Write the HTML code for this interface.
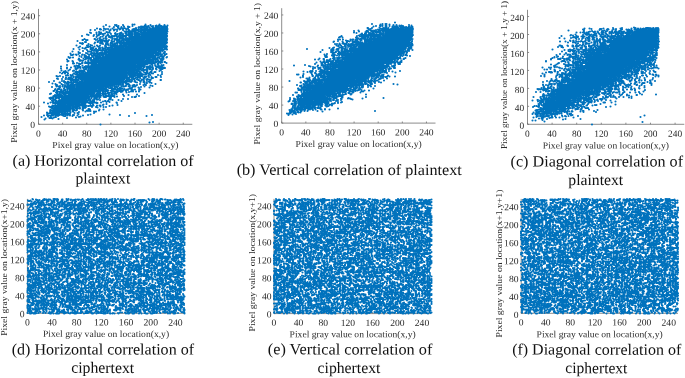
<!DOCTYPE html>
<html><head><meta charset="utf-8"><title>Correlation of plaintext and ciphertext</title>
<style>html,body{margin:0;padding:0;background:#fff}svg{display:block;position:absolute;left:0;top:0}text{font-family:"Liberation Serif",serif}</style></head>
<body>
<svg style="will-change:transform" width="685" height="378" viewBox="0 0 685 378">
<rect width="685" height="378" fill="#fff"/>
<!-- plot a -->
<path d="M38.50 8.90V124.30H192.30M38.50 124.30v-1.6M38.50 124.30h1.6M62.63 124.30v-1.6M38.50 106.20h1.6M86.75 124.30v-1.6M38.50 88.10h1.6M110.88 124.30v-1.6M38.50 69.99h1.6M135.00 124.30v-1.6M38.50 51.89h1.6M159.13 124.30v-1.6M38.50 33.79h1.6M183.25 124.30v-1.6M38.50 15.69h1.6" fill="none" stroke="#6e6e6e" stroke-width="0.8"/>
<g transform="translate(34,4) scale(0.5)"><path d="M0 0H268V1H0V2H268V3H0V4H268V5H0V6H268V7H0V8H268V9H0V10H268V11H0V12H268V13H0V14H268V15H0V16H268V17H0V18H268V19H0V20H268V21H0V22H268V23H0V24H268V25H0V26H268V27H0V28H268V29H0V30H268V31H0V32H268V33H0V34H268V35H0V36H268V37H0V38H268V39H0V40H268V41H0V42H268V43H0V44H268V45H0V46H268V47H0V48H268V49H0V50H268V51H0V52H268V53H0V54H268V55H0V56H268V57H0V58H268V59H0V60H268V61H0V62H268V63H0V64H268V65H0V66H268V67H0V68H268V69H0V70H268V71H0V72H268V73H0V74H268V75H0V76H268V77H0V78H268V79H0V80H268V81H0V82H268V83H0V84H268V85H0V86H268V87H0V88H268V89H0V90H268V91H0V92H268V93H0V94H268V95H0V96H268V97H0V98H268V99H0V100H268V101H0V102H268V103H0V104H268V105H0V106H268V107H0V108H268V109H0V110H268V111H0V112H268V113H0V114H268V115H0V116H268V117H0V118H268V119H0V120H268V121H0V122H268V123H0V124H268V125H0V126H268V127H0V128H268V129H0V130H268V131H0V132H268V133H0V134H268V135H0V136H268V137H0V138H268V139H0V140H268V141H0V142H268V143H0V144H268V145H0V146H268V147H0V148H268V149H0V150H268V151H0V152H268V153H0V154H268V155H0V156H268V157H0V158H268V159H0V160H268V161H0V162H268V163H0V164H268V165H0V166H268V167H0V168H268V169H0V170H268V171H0V172H268V173H0V174H268V175H0V176H268V177H0V178H268V179H0V180H268V181H0V182H268V183H0V184H268V185H0V186H268V187H0V188H268V189H0V190H268V191H0V192H268V193H0V194H268V195H0V196H268V197H0V198H268V199H0V200H268V201H0V202H268V203H0V204H268V205H0V206H268V207H0V208H268V209H0V210H268V211H0V212H268V213H0V214H268V215H0V216H268V217H0V218H268V219H0V220H268V221H0V222H268V223H0V224H268V225H0V226H268V227H0V228H268V229H0V230H268V231H0V232H268V233H0V234H268V235H0V236H268V237H0V238H268V239H0V240H268V241H0V242H268" fill="none" stroke="#0072BD" stroke-width="4.20" stroke-linecap="round" stroke-dasharray="0 28 0 22 0 4 0 342 0 18 0 3 0 13 0 55 0 28 0 9 0 17 0 5 0 22 0 389 0 4 0 28 0 24 0 3 0 5 0 9 0 5 0 6 0 4 0 2 0 7 0 9 0 4 0 3 0 3 0 7 0 2 0 3 0 9 0 8 0 6 0 5 0 2 0 26 0 8 0 29 0 12 0 300 0 8 0 7 0 16 0 19 0 6 0 2 0 7 0 13 0 7 0 2 0 8 0 2 0 5 0 3 0 1 0 5 0 1 0 1 0 3 0 2 0 8 0 3 0 3 0 2 0 5 0 7 0 4 0 7 0 11 0 41 0 338 0 11 0 8 0 16 0 9 0 3 0 4 0 1 0 3 0 18 0 13 0 1 0 1 0 2 0 2 0 1 0 2 0 1 0 7 0 1 0 2 0 1 0 1 0 1 0 2 0 1 0 1 0 1 0 1 0 2 0 1 0 1 0 2 0 2 0 1 0 3 0 2 0 1 0 5 0 6 0 1 0 22 0 1 0 15 0 5 0 6 0 4 0 16 0 17 0 14 0 259 0 12 0 4 0 25 0 5 0 8 0 14 0 24 0 1 0 11 0 6 0 2 0 3 0 4 0 3 0 1 0 1 0 1 0 3 0 1 0 1 0 2 0 1 0 2 0 4 0 2 0 2 0 1 0 1 0 1 0 2 0 1 0 1 0 1 0 1 0 2 0 2 0 1 0 1 0 2 0 1 0 1 0 2 0 3 0 1 0 1 0 1 0 2 0 1 0 2 0 4 0 6 0 1 0 3 0 2 0 4 0 1 0 3 0 2 0 1 0 2 0 1 0 2 0 1 0 12 0 14 0 5 0 4 0 2 0 7 0 10 0 9 0 2 0 246 0 9 0 31 0 25 0 12 0 7 0 5 0 2 0 12 0 3 0 1 0 1 0 4 0 8 0 2 0 6 0 3 0 1 0 2 0 1 0 1 0 1 0 1 0 3 0 1 0 1 0 1 0 2 0 1 0 1 0 1 0 4 0 5 0 1 0 1 0 2 0 1 0 1 0 1 0 2 0 1 0 1 0 1 0 1 0 2 0 1 0 1 0 1 0 1 0 2 0 2 0 1 0 1 0 2 0 3 0 3 0 2 0 1 0 1 0 2 0 8 0 5 0 6 0 2 0 46 0 9 0 12 0 306 0 26 0 3 0 2 0 3 0 2 0 8 0 4 0 1 0 4 0 2 0 2 0 8 0 1 0 4 0 1 0 1 0 1 0 3 0 1 0 1 0 3 0 2 0 1 0 1 0 2 0 1 0 1 0 1 0 1 0 2 0 1 0 1 0 1 0 2 0 1 0 5 0 1 0 1 0 1 0 2 0 1 0 1 0 1 0 2 0 1 0 1 0 1 0 1 0 2 0 1 0 1 0 1 0 1 0 2 0 2 0 1 0 1 0 2 0 1 0 1 0 1 0 1 0 3 0 1 0 4 0 13 0 5 0 6 0 5 0 10 0 2 0 3 0 2 0 312 0 15 0 6 0 32 0 8 0 4 0 2 0 16 0 8 0 2 0 4 0 2 0 2 0 1 0 1 0 2 0 2 0 1 0 1 0 2 0 3 0 1 0 2 0 1 0 1 0 1 0 1 0 2 0 1 0 1 0 1 0 3 0 1 0 1 0 1 0 2 0 1 0 10 0 1 0 1 0 1 0 2 0 1 0 1 0 1 0 1 0 2 0 1 0 1 0 1 0 1 0 2 0 1 0 2 0 6 0 3 0 2 0 1 0 4 0 1 0 1 0 1 0 3 0 4 0 12 0 15 0 14 0 27 0 1 0 13 0 2 0 7 0 13 0 227 0 49 0 10 0 1 0 15 0 3 0 9 0 5 0 1 0 9 0 2 0 1 0 2 0 3 0 1 0 1 0 3 0 3 0 1 0 2 0 1 0 3 0 3 0 1 0 1 0 1 0 2 0 1 0 1 0 2 0 2 0 1 0 1 0 1 0 1 0 2 0 1 0 2 0 9 0 1 0 1 0 2 0 2 0 1 0 2 0 1 0 1 0 1 0 1 0 2 0 1 0 1 0 1 0 1 0 3 0 1 0 1 0 1 0 2 0 1 0 1 0 1 0 1 0 2 0 3 0 1 0 2 0 1 0 1 0 4 0 1 0 10 0 4 0 12 0 4 0 5 0 2 0 9 0 1 0 2 0 9 0 9 0 11 0 8 0 2 0 258 0 5 0 3 0 4 0 2 0 15 0 9 0 4 0 11 0 17 0 1 0 1 0 4 0 2 0 1 0 3 0 1 0 1 0 4 0 2 0 3 0 1 0 1 0 1 0 2 0 1 0 1 0 1 0 1 0 2 0 1 0 1 0 1 0 1 0 2 0 1 0 1 0 1 0 1 0 2 0 1 0 1 0 1 0 1 0 2 0 1 0 1 0 1 0 1 0 2 0 1 0 1 0 1 0 1 0 2 0 1 0 1 0 1 0 2 0 1 0 10 0 1 0 1 0 3 0 1 0 1 0 1 0 1 0 2 0 1 0 1 0 1 0 1 0 2 0 1 0 1 0 1 0 1 0 2 0 1 0 1 0 1 0 1 0 2 0 1 0 2 0 6 0 5 0 4 0 1 0 1 0 3 0 2 0 1 0 10 0 6 0 2 0 11 0 30 0 42 0 216 0 11 0 10 0 17 0 24 0 6 0 9 0 3 0 5 0 8 0 5 0 8 0 4 0 1 0 3 0 2 0 1 0 3 0 1 0 1 0 1 0 1 0 2 0 1 0 2 0 1 0 2 0 1 0 1 0 1 0 1 0 2 0 1 0 1 0 1 0 1 0 2 0 1 0 1 0 1 0 1 0 2 0 1 0 1 0 10 0 2 0 3 0 1 0 3 0 2 0 1 0 1 0 2 0 1 0 1 0 1 0 1 0 2 0 1 0 1 0 1 0 1 0 2 0 1 0 1 0 1 0 1 0 2 0 1 0 1 0 2 0 2 0 2 0 1 0 3 0 11 0 3 0 3 0 9 0 1 0 10 0 7 0 3 0 1 0 8 0 3 0 23 0 11 0 225 0 23 0 7 0 19 0 5 0 5 0 2 0 3 0 2 0 7 0 11 0 1 0 9 0 7 0 10 0 1 0 7 0 3 0 3 0 3 0 1 0 2 0 2 0 1 0 1 0 2 0 2 0 1 0 1 0 1 0 1 0 3 0 1 0 1 0 1 0 2 0 1 0 1 0 1 0 1 0 2 0 1 0 1 0 1 0 1 0 2 0 1 0 1 0 4 0 1 0 5 0 1 0 4 0 1 0 1 0 2 0 1 0 1 0 1 0 3 0 1 0 1 0 1 0 1 0 3 0 1 0 1 0 1 0 2 0 1 0 1 0 2 0 2 0 1 0 1 0 1 0 1 0 2 0 1 0 1 0 1 0 1 0 3 0 1 0 1 0 2 0 4 0 2 0 1 0 5 0 1 0 2 0 1 0 6 0 10 0 5 0 1 0 10 0 2 0 5 0 10 0 7 0 7 0 263 0 8 0 17 0 1 0 21 0 1 0 4 0 15 0 2 0 3 0 4 0 6 0 2 0 1 0 2 0 1 0 1 0 1 0 1 0 2 0 1 0 1 0 1 0 4 0 2 0 2 0 1 0 1 0 2 0 2 0 1 0 1 0 1 0 1 0 2 0 1 0 1 0 1 0 1 0 2 0 1 0 1 0 1 0 1 0 2 0 2 0 1 0 1 0 2 0 2 0 1 0 2 0 1 0 10 0 3 0 3 0 1 0 1 0 1 0 2 0 1 0 1 0 1 0 1 0 2 0 1 0 1 0 1 0 3 0 1 0 1 0 1 0 1 0 2 0 1 0 1 0 1 0 3 0 1 0 1 0 2 0 2 0 1 0 4 0 2 0 2 0 2 0 1 0 3 0 4 0 1 0 1 0 8 0 9 0 5 0 4 0 3 0 18 0 285 0 12 0 13 0 1 0 9 0 8 0 1 0 9 0 4 0 9 0 1 0 2 0 1 0 6 0 1 0 4 0 1 0 1 0 1 0 3 0 1 0 1 0 1 0 2 0 4 0 2 0 1 0 1 0 1 0 1 0 2 0 1 0 1 0 1 0 1 0 2 0 1 0 1 0 1 0 1 0 2 0 1 0 2 0 1 0 2 0 1 0 1 0 1 0 1 0 2 0 1 0 12 0 1 0 3 0 2 0 2 0 1 0 1 0 1 0 1 0 2 0 1 0 1 0 1 0 1 0 2 0 1 0 1 0 1 0 1 0 2 0 1 0 1 0 1 0 1 0 2 0 1 0 2 0 1 0 2 0 1 0 2 0 4 0 1 0 1 0 2 0 2 0 4 0 2 0 1 0 3 0 1 0 2 0 6 0 1 0 2 0 1 0 20 0 14 0 12 0 6 0 241 0 20 0 1 0 5 0 5 0 1 0 12 0 16 0 2 0 2 0 6 0 6 0 3 0 5 0 4 0 2 0 3 0 1 0 5 0 2 0 2 0 2 0 1 0 1 0 1 0 3 0 1 0 1 0 1 0 1 0 2 0 1 0 1 0 1 0 2 0 1 0 1 0 1 0 1 0 2 0 1 0 1 0 1 0 1 0 2 0 1 0 1 0 1 0 1 0 2 0 1 0 1 0 1 0 1 0 2 0 1 0 1 0 1 0 1 0 2 0 1 0 1 0 1 0 1 0 2 0 1 0 1 0 1 0 4 0 5 0 2 0 4 0 1 0 3 0 2 0 1 0 2 0 1 0 2 0 1 0 2 0 1 0 1 0 1 0 1 0 3 0 1 0 1 0 1 0 2 0 1 0 1 0 1 0 1 0 2 0 1 0 1 0 4 0 1 0 4 0 4 0 2 0 2 0 1 0 4 0 1 0 5 0 1 0 1 0 7 0 4 0 1 0 12 0 4 0 2 0 2 0 261 0 1 0 6 0 3 0 17 0 10 0 2 0 8 0 6 0 6 0 5 0 5 0 3 0 6 0 2 0 1 0 5 0 1 0 1 0 4 0 2 0 7 0 2 0 4 0 3 0 1 0 2 0 3 0 1 0 1 0 1 0 2 0 1 0 1 0 1 0 2 0 1 0 1 0 1 0 1 0 2 0 1 0 1 0 1 0 1 0 3 0 1 0 1 0 1 0 2 0 1 0 1 0 1 0 1 0 2 0 1 0 2 0 3 0 1 0 3 0 2 0 3 0 4 0 6 0 3 0 5 0 1 0 3 0 3 0 1 0 1 0 1 0 2 0 1 0 1 0 1 0 1 0 2 0 1 0 1 0 2 0 2 0 1 0 1 0 1 0 1 0 2 0 1 0 1 0 1 0 1 0 2 0 1 0 1 0 1 0 3 0 1 0 1 0 1 0 3 0 1 0 1 0 1 0 2 0 1 0 2 0 10 0 3 0 2 0 1 0 2 0 4 0 4 0 7 0 2 0 11 0 15 0 3 0 6 0 219 0 41 0 14 0 3 0 2 0 24 0 18 0 3 0 2 0 2 0 1 0 1 0 4 0 4 0 2 0 1 0 1 0 3 0 1 0 1 0 1 0 4 0 1 0 2 0 1 0 1 0 1 0 1 0 2 0 1 0 1 0 2 0 2 0 1 0 1 0 1 0 1 0 2 0 1 0 1 0 1 0 1 0 2 0 2 0 1 0 3 0 1 0 5 0 1 0 1 0 3 0 8 0 1 0 2 0 5 0 3 0 1 0 5 0 1 0 4 0 1 0 1 0 2 0 1 0 2 0 1 0 2 0 1 0 1 0 1 0 1 0 2 0 1 0 1 0 2 0 2 0 1 0 2 0 2 0 1 0 1 0 1 0 1 0 3 0 1 0 1 0 1 0 2 0 1 0 2 0 3 0 1 0 6 0 1 0 2 0 2 0 13 0 1 0 12 0 12 0 1 0 2 0 3 0 8 0 237 0 2 0 23 0 1 0 5 0 1 0 3 0 20 0 10 0 4 0 1 0 2 0 4 0 1 0 1 0 8 0 3 0 1 0 3 0 2 0 1 0 2 0 1 0 1 0 4 0 3 0 3 0 1 0 1 0 2 0 3 0 1 0 1 0 2 0 1 0 1 0 1 0 1 0 2 0 1 0 1 0 1 0 1 0 2 0 1 0 1 0 1 0 1 0 2 0 1 0 1 0 1 0 1 0 5 0 4 0 1 0 2 0 2 0 1 0 11 0 2 0 5 0 2 0 2 0 7 0 3 0 1 0 1 0 1 0 1 0 2 0 1 0 1 0 1 0 1 0 2 0 1 0 1 0 1 0 1 0 2 0 1 0 1 0 1 0 1 0 2 0 1 0 1 0 1 0 3 0 2 0 1 0 2 0 1 0 1 0 1 0 1 0 2 0 1 0 2 0 4 0 2 0 3 0 1 0 2 0 5 0 3 0 1 0 3 0 5 0 4 0 3 0 10 0 1 0 7 0 25 0 215 0 5 0 35 0 2 0 11 0 26 0 2 0 2 0 2 0 4 0 2 0 3 0 2 0 1 0 2 0 1 0 3 0 2 0 3 0 1 0 1 0 1 0 3 0 1 0 1 0 2 0 2 0 1 0 1 0 1 0 3 0 1 0 1 0 1 0 3 0 1 0 1 0 1 0 2 0 2 0 1 0 1 0 2 0 1 0 1 0 1 0 3 0 1 0 1 0 1 0 1 0 4 0 2 0 2 0 3 0 4 0 1 0 1 0 10 0 3 0 1 0 1 0 1 0 3 0 2 0 1 0 2 0 1 0 1 0 1 0 1 0 2 0 1 0 1 0 2 0 2 0 2 0 1 0 1 0 2 0 1 0 1 0 1 0 1 0 2 0 1 0 1 0 1 0 1 0 2 0 1 0 1 0 1 0 2 0 1 0 1 0 1 0 1 0 2 0 1 0 1 0 1 0 1 0 2 0 1 0 1 0 1 0 1 0 2 0 1 0 1 0 1 0 1 0 2 0 2 0 1 0 1 0 2 0 1 0 1 0 1 0 2 0 1 0 5 0 1 0 2 0 6 0 3 0 2 0 5 0 3 0 9 0 7 0 3 0 13 0 23 0 3 0 193 0 12 0 29 0 10 0 5 0 4 0 3 0 1 0 11 0 3 0 5 0 1 0 4 0 3 0 3 0 6 0 4 0 1 0 1 0 1 0 3 0 1 0 2 0 2 0 1 0 1 0 1 0 3 0 1 0 1 0 1 0 2 0 1 0 1 0 1 0 1 0 2 0 1 0 1 0 1 0 1 0 2 0 1 0 1 0 1 0 5 0 1 0 1 0 3 0 1 0 6 0 1 0 3 0 16 0 2 0 6 0 7 0 4 0 1 0 4 0 1 0 1 0 1 0 2 0 1 0 1 0 1 0 1 0 2 0 2 0 1 0 1 0 3 0 1 0 1 0 4 0 1 0 1 0 2 0 1 0 1 0 2 0 3 0 1 0 1 0 3 0 1 0 1 0 5 0 1 0 1 0 6 0 3 0 33 0 3 0 258 0 30 0 6 0 8 0 10 0 11 0 1 0 2 0 2 0 1 0 7 0 1 0 2 0 1 0 1 0 2 0 3 0 2 0 1 0 2 0 1 0 1 0 1 0 1 0 2 0 1 0 1 0 1 0 1 0 2 0 1 0 2 0 2 0 1 0 1 0 1 0 1 0 2 0 1 0 1 0 2 0 4 0 1 0 1 0 2 0 1 0 1 0 4 0 2 0 2 0 6 0 19 0 2 0 2 0 2 0 1 0 3 0 1 0 2 0 3 0 4 0 2 0 1 0 1 0 1 0 1 0 5 0 1 0 2 0 1 0 1 0 1 0 3 0 1 0 1 0 1 0 2 0 1 0 1 0 1 0 1 0 2 0 1 0 1 0 1 0 1 0 2 0 1 0 2 0 1 0 2 0 1 0 1 0 1 0 3 0 1 0 1 0 1 0 4 0 1 0 1 0 4 0 2 0 3 0 11 0 2 0 1 0 3 0 4 0 21 0 6 0 10 0 8 0 2 0 21 0 213 0 15 0 14 0 3 0 1 0 1 0 2 0 2 0 3 0 3 0 1 0 1 0 2 0 5 0 1 0 2 0 1 0 2 0 2 0 2 0 4 0 3 0 1 0 2 0 2 0 1 0 1 0 2 0 1 0 1 0 1 0 1 0 3 0 1 0 1 0 3 0 1 0 1 0 1 0 3 0 1 0 1 0 1 0 2 0 1 0 1 0 1 0 1 0 2 0 1 0 5 0 1 0 3 0 6 0 2 0 1 0 6 0 1 0 4 0 6 0 6 0 7 0 5 0 1 0 3 0 2 0 1 0 2 0 1 0 1 0 2 0 3 0 1 0 1 0 1 0 2 0 1 0 1 0 1 0 1 0 2 0 2 0 1 0 2 0 1 0 1 0 1 0 1 0 2 0 1 0 1 0 1 0 1 0 2 0 1 0 1 0 1 0 1 0 2 0 1 0 1 0 1 0 1 0 3 0 2 0 1 0 2 0 2 0 4 0 6 0 2 0 9 0 19 0 16 0 7 0 9 0 20 0 200 0 2 0 22 0 23 0 8 0 3 0 3 0 3 0 1 0 6 0 1 0 5 0 1 0 1 0 2 0 1 0 1 0 2 0 2 0 1 0 1 0 1 0 3 0 1 0 1 0 1 0 1 0 3 0 1 0 1 0 1 0 2 0 1 0 1 0 1 0 1 0 2 0 1 0 2 0 2 0 1 0 1 0 1 0 1 0 2 0 1 0 1 0 4 0 2 0 1 0 1 0 6 0 2 0 1 0 1 0 1 0 1 0 3 0 2 0 4 0 1 0 3 0 9 0 7 0 3 0 1 0 8 0 4 0 4 0 1 0 3 0 1 0 1 0 1 0 1 0 3 0 1 0 2 0 3 0 1 0 1 0 2 0 1 0 1 0 1 0 4 0 1 0 1 0 1 0 2 0 1 0 1 0 1 0 1 0 2 0 1 0 1 0 1 0 1 0 3 0 2 0 3 0 1 0 10 0 1 0 2 0 1 0 4 0 4 0 1 0 5 0 3 0 3 0 2 0 5 0 7 0 6 0 13 0 4 0 10 0 15 0 187 0 36 0 9 0 5 0 2 0 1 0 4 0 6 0 7 0 2 0 2 0 1 0 1 0 2 0 2 0 1 0 3 0 2 0 1 0 1 0 1 0 2 0 3 0 1 0 4 0 1 0 1 0 2 0 1 0 1 0 1 0 1 0 2 0 2 0 1 0 1 0 2 0 1 0 1 0 1 0 1 0 2 0 3 0 2 0 1 0 1 0 4 0 1 0 1 0 1 0 1 0 2 0 1 0 1 0 2 0 2 0 1 0 1 0 1 0 3 0 1 0 6 0 3 0 5 0 3 0 15 0 1 0 2 0 1 0 9 0 2 0 1 0 2 0 1 0 3 0 2 0 1 0 1 0 1 0 1 0 2 0 1 0 1 0 1 0 1 0 2 0 1 0 1 0 1 0 2 0 1 0 1 0 1 0 1 0 2 0 1 0 1 0 1 0 1 0 2 0 1 0 1 0 1 0 1 0 2 0 1 0 1 0 1 0 1 0 2 0 1 0 1 0 1 0 3 0 1 0 1 0 3 0 1 0 1 0 1 0 3 0 1 0 1 0 1 0 3 0 2 0 1 0 1 0 2 0 1 0 1 0 4 0 2 0 13 0 3 0 1 0 8 0 6 0 6 0 4 0 11 0 2 0 181 0 34 0 3 0 21 0 2 0 9 0 1 0 11 0 1 0 6 0 2 0 2 0 1 0 1 0 2 0 3 0 2 0 1 0 3 0 2 0 4 0 1 0 1 0 2 0 1 0 1 0 1 0 1 0 2 0 1 0 1 0 1 0 1 0 2 0 1 0 1 0 1 0 1 0 2 0 2 0 1 0 1 0 2 0 1 0 1 0 1 0 2 0 2 0 1 0 1 0 2 0 1 0 1 0 1 0 3 0 2 0 1 0 3 0 4 0 3 0 1 0 2 0 3 0 2 0 15 0 1 0 4 0 1 0 1 0 2 0 2 0 1 0 3 0 1 0 2 0 6 0 4 0 1 0 1 0 1 0 4 0 1 0 3 0 1 0 1 0 1 0 3 0 1 0 1 0 1 0 2 0 1 0 1 0 1 0 1 0 3 0 1 0 1 0 1 0 2 0 1 0 1 0 1 0 1 0 2 0 1 0 1 0 1 0 1 0 3 0 1 0 1 0 3 0 1 0 1 0 3 0 1 0 2 0 1 0 4 0 4 0 1 0 2 0 3 0 1 0 1 0 4 0 2 0 2 0 2 0 1 0 6 0 23 0 5 0 25 0 198 0 19 0 2 0 4 0 2 0 4 0 6 0 2 0 5 0 3 0 3 0 3 0 1 0 2 0 3 0 6 0 1 0 1 0 1 0 1 0 2 0 1 0 3 0 7 0 1 0 1 0 2 0 2 0 1 0 1 0 1 0 3 0 1 0 1 0 1 0 1 0 2 0 1 0 1 0 1 0 1 0 2 0 1 0 1 0 1 0 1 0 2 0 3 0 2 0 2 0 4 0 2 0 1 0 4 0 2 0 1 0 4 0 6 0 2 0 4 0 1 0 3 0 21 0 8 0 1 0 3 0 2 0 1 0 5 0 1 0 3 0 1 0 1 0 2 0 3 0 2 0 3 0 1 0 1 0 1 0 2 0 1 0 1 0 1 0 1 0 2 0 1 0 1 0 1 0 1 0 2 0 1 0 1 0 1 0 1 0 2 0 1 0 1 0 1 0 1 0 2 0 1 0 1 0 1 0 3 0 2 0 1 0 2 0 2 0 1 0 1 0 2 0 1 0 2 0 1 0 3 0 3 0 3 0 5 0 1 0 5 0 1 0 6 0 1 0 4 0 3 0 3 0 6 0 6 0 3 0 2 0 215 0 22 0 4 0 4 0 8 0 11 0 3 0 1 0 3 0 1 0 1 0 1 0 3 0 5 0 1 0 5 0 3 0 3 0 2 0 1 0 1 0 2 0 1 0 2 0 2 0 1 0 1 0 4 0 1 0 1 0 1 0 1 0 2 0 1 0 1 0 1 0 1 0 2 0 1 0 1 0 1 0 1 0 2 0 1 0 1 0 1 0 3 0 1 0 1 0 1 0 2 0 1 0 1 0 4 0 2 0 10 0 1 0 6 0 1 0 2 0 6 0 27 0 14 0 4 0 4 0 1 0 1 0 3 0 1 0 1 0 1 0 2 0 1 0 1 0 1 0 2 0 1 0 2 0 1 0 2 0 2 0 1 0 3 0 1 0 1 0 1 0 1 0 2 0 1 0 1 0 1 0 1 0 2 0 1 0 1 0 2 0 2 0 1 0 1 0 1 0 2 0 1 0 1 0 1 0 1 0 2 0 2 0 1 0 1 0 2 0 7 0 2 0 3 0 1 0 8 0 6 0 17 0 12 0 1 0 2 0 2 0 31 0 167 0 25 0 13 0 15 0 1 0 2 0 3 0 2 0 1 0 2 0 1 0 1 0 1 0 5 0 1 0 4 0 1 0 1 0 1 0 3 0 3 0 2 0 1 0 2 0 1 0 2 0 1 0 1 0 4 0 1 0 1 0 1 0 2 0 1 0 1 0 1 0 1 0 2 0 1 0 1 0 1 0 1 0 2 0 1 0 1 0 1 0 1 0 2 0 1 0 1 0 1 0 1 0 2 0 1 0 2 0 2 0 3 0 1 0 6 0 2 0 2 0 2 0 4 0 1 0 5 0 12 0 1 0 22 0 5 0 4 0 3 0 3 0 1 0 4 0 1 0 1 0 1 0 3 0 1 0 1 0 1 0 1 0 3 0 1 0 1 0 2 0 2 0 1 0 1 0 2 0 1 0 1 0 1 0 1 0 2 0 2 0 1 0 3 0 1 0 1 0 1 0 1 0 2 0 1 0 1 0 1 0 1 0 2 0 1 0 1 0 1 0 3 0 2 0 3 0 1 0 2 0 4 0 1 0 1 0 4 0 3 0 2 0 1 0 1 0 4 0 15 0 10 0 219 0 12 0 12 0 2 0 3 0 4 0 2 0 4 0 2 0 1 0 4 0 4 0 12 0 2 0 3 0 1 0 1 0 4 0 1 0 1 0 1 0 1 0 3 0 1 0 1 0 1 0 2 0 1 0 1 0 1 0 1 0 2 0 1 0 1 0 1 0 2 0 1 0 1 0 1 0 1 0 2 0 1 0 1 0 1 0 1 0 2 0 1 0 1 0 1 0 1 0 2 0 1 0 1 0 1 0 1 0 2 0 1 0 1 0 1 0 1 0 2 0 1 0 1 0 1 0 2 0 1 0 1 0 2 0 2 0 1 0 1 0 2 0 2 0 1 0 1 0 1 0 3 0 1 0 11 0 6 0 2 0 26 0 1 0 4 0 8 0 1 0 4 0 1 0 1 0 1 0 2 0 2 0 1 0 1 0 2 0 2 0 3 0 2 0 1 0 1 0 3 0 1 0 1 0 1 0 2 0 1 0 1 0 1 0 1 0 2 0 1 0 1 0 2 0 2 0 1 0 2 0 1 0 2 0 1 0 1 0 1 0 2 0 1 0 1 0 1 0 1 0 5 0 1 0 3 0 1 0 4 0 3 0 3 0 1 0 2 0 1 0 3 0 7 0 1 0 2 0 4 0 6 0 8 0 15 0 34 0 163 0 24 0 1 0 6 0 8 0 2 0 2 0 11 0 2 0 3 0 1 0 5 0 1 0 5 0 1 0 2 0 8 0 1 0 1 0 1 0 1 0 2 0 1 0 3 0 2 0 2 0 1 0 2 0 1 0 1 0 1 0 1 0 2 0 1 0 2 0 1 0 2 0 1 0 1 0 2 0 2 0 1 0 2 0 1 0 2 0 1 0 2 0 1 0 2 0 1 0 2 0 2 0 1 0 1 0 5 0 1 0 4 0 1 0 8 0 5 0 4 0 8 0 4 0 11 0 5 0 7 0 2 0 2 0 6 0 3 0 1 0 2 0 6 0 1 0 1 0 1 0 1 0 2 0 1 0 1 0 3 0 1 0 1 0 1 0 1 0 2 0 1 0 1 0 1 0 1 0 2 0 2 0 1 0 1 0 2 0 1 0 1 0 1 0 1 0 2 0 1 0 2 0 3 0 1 0 1 0 1 0 2 0 1 0 1 0 2 0 2 0 2 0 2 0 2 0 1 0 2 0 7 0 4 0 16 0 1 0 1 0 1 0 4 0 4 0 6 0 8 0 5 0 12 0 13 0 5 0 154 0 3 0 8 0 11 0 5 0 9 0 8 0 3 0 4 0 6 0 5 0 3 0 4 0 4 0 4 0 3 0 1 0 1 0 3 0 4 0 3 0 1 0 1 0 1 0 2 0 1 0 1 0 2 0 2 0 1 0 1 0 1 0 1 0 2 0 1 0 1 0 1 0 2 0 1 0 1 0 1 0 1 0 2 0 1 0 1 0 1 0 1 0 3 0 1 0 1 0 1 0 2 0 1 0 1 0 1 0 1 0 2 0 1 0 1 0 1 0 3 0 2 0 1 0 2 0 1 0 3 0 2 0 1 0 17 0 1 0 2 0 4 0 8 0 31 0 2 0 3 0 7 0 3 0 2 0 1 0 2 0 1 0 2 0 1 0 1 0 1 0 2 0 1 0 5 0 2 0 4 0 1 0 1 0 1 0 1 0 2 0 1 0 1 0 1 0 1 0 2 0 1 0 1 0 1 0 1 0 2 0 1 0 1 0 1 0 2 0 1 0 1 0 1 0 1 0 2 0 1 0 1 0 1 0 1 0 2 0 3 0 1 0 3 0 1 0 1 0 5 0 1 0 1 0 2 0 2 0 5 0 19 0 9 0 13 0 195 0 10 0 3 0 18 0 4 0 5 0 1 0 1 0 11 0 4 0 1 0 1 0 6 0 4 0 1 0 1 0 9 0 1 0 1 0 1 0 1 0 2 0 1 0 1 0 1 0 1 0 2 0 1 0 1 0 1 0 2 0 1 0 1 0 1 0 1 0 2 0 1 0 1 0 1 0 1 0 2 0 1 0 1 0 1 0 1 0 2 0 2 0 1 0 1 0 2 0 1 0 1 0 1 0 1 0 2 0 1 0 1 0 1 0 3 0 1 0 1 0 1 0 2 0 1 0 2 0 4 0 1 0 2 0 3 0 12 0 2 0 4 0 20 0 14 0 2 0 3 0 1 0 2 0 2 0 2 0 2 0 5 0 3 0 2 0 3 0 3 0 1 0 3 0 1 0 1 0 1 0 3 0 1 0 1 0 1 0 2 0 1 0 1 0 1 0 1 0 3 0 1 0 1 0 1 0 2 0 1 0 2 0 2 0 1 0 1 0 1 0 1 0 3 0 1 0 2 0 3 0 1 0 1 0 1 0 3 0 1 0 1 0 1 0 2 0 1 0 3 0 8 0 1 0 1 0 4 0 1 0 7 0 1 0 2 0 4 0 6 0 8 0 6 0 2 0 172 0 26 0 7 0 5 0 2 0 7 0 8 0 7 0 6 0 1 0 2 0 2 0 3 0 3 0 2 0 1 0 5 0 3 0 1 0 1 0 4 0 2 0 1 0 1 0 4 0 1 0 1 0 2 0 1 0 1 0 1 0 1 0 2 0 2 0 1 0 2 0 1 0 1 0 1 0 1 0 2 0 1 0 2 0 1 0 2 0 1 0 1 0 1 0 3 0 1 0 1 0 1 0 1 0 2 0 1 0 1 0 1 0 1 0 2 0 1 0 1 0 1 0 2 0 1 0 3 0 6 0 4 0 2 0 2 0 7 0 3 0 15 0 6 0 29 0 6 0 7 0 2 0 1 0 1 0 1 0 2 0 1 0 1 0 1 0 1 0 5 0 3 0 1 0 1 0 1 0 1 0 2 0 1 0 3 0 2 0 1 0 1 0 1 0 1 0 3 0 1 0 1 0 2 0 1 0 1 0 1 0 1 0 2 0 1 0 1 0 1 0 1 0 2 0 3 0 1 0 2 0 1 0 1 0 5 0 1 0 2 0 3 0 1 0 2 0 2 0 6 0 1 0 1 0 4 0 1 0 2 0 4 0 22 0 26 0 5 0 145 0 41 0 1 0 7 0 4 0 1 0 3 0 4 0 2 0 4 0 1 0 1 0 2 0 1 0 1 0 1 0 2 0 2 0 1 0 1 0 3 0 1 0 1 0 3 0 1 0 1 0 1 0 1 0 2 0 1 0 1 0 1 0 1 0 2 0 1 0 1 0 1 0 1 0 2 0 1 0 1 0 1 0 1 0 2 0 1 0 1 0 1 0 2 0 1 0 1 0 2 0 2 0 1 0 1 0 1 0 1 0 2 0 1 0 1 0 1 0 1 0 2 0 1 0 1 0 1 0 1 0 2 0 1 0 2 0 1 0 2 0 1 0 1 0 1 0 2 0 1 0 1 0 1 0 1 0 4 0 1 0 5 0 4 0 2 0 4 0 4 0 5 0 3 0 23 0 8 0 17 0 5 0 2 0 4 0 3 0 2 0 5 0 2 0 1 0 2 0 3 0 1 0 2 0 2 0 1 0 1 0 2 0 1 0 1 0 1 0 1 0 3 0 1 0 3 0 1 0 1 0 1 0 1 0 4 0 1 0 3 0 2 0 2 0 2 0 1 0 1 0 2 0 2 0 3 0 1 0 2 0 1 0 7 0 5 0 8 0 6 0 3 0 7 0 2 0 2 0 3 0 3 0 5 0 9 0 204 0 7 0 7 0 10 0 3 0 2 0 2 0 5 0 1 0 1 0 4 0 4 0 2 0 1 0 1 0 2 0 1 0 1 0 1 0 1 0 3 0 1 0 1 0 1 0 2 0 1 0 1 0 1 0 1 0 3 0 1 0 1 0 2 0 1 0 1 0 1 0 1 0 2 0 1 0 1 0 2 0 3 0 2 0 5 0 1 0 1 0 2 0 8 0 6 0 5 0 1 0 6 0 3 0 1 0 2 0 11 0 4 0 25 0 8 0 3 0 3 0 2 0 2 0 3 0 3 0 9 0 1 0 7 0 2 0 1 0 2 0 1 0 2 0 1 0 1 0 1 0 3 0 1 0 1 0 1 0 1 0 2 0 1 0 1 0 1 0 3 0 1 0 1 0 1 0 2 0 1 0 1 0 1 0 1 0 2 0 1 0 1 0 1 0 1 0 2 0 1 0 1 0 1 0 1 0 2 0 1 0 1 0 1 0 1 0 5 0 1 0 3 0 1 0 2 0 9 0 1 0 3 0 6 0 4 0 11 0 10 0 1 0 13 0 23 0 159 0 24 0 6 0 2 0 6 0 1 0 5 0 1 0 6 0 4 0 1 0 2 0 1 0 2 0 2 0 1 0 1 0 2 0 1 0 1 0 1 0 1 0 2 0 1 0 1 0 1 0 1 0 2 0 1 0 1 0 1 0 1 0 2 0 2 0 2 0 2 0 1 0 1 0 1 0 2 0 1 0 1 0 1 0 1 0 2 0 1 0 2 0 1 0 2 0 1 0 1 0 5 0 1 0 1 0 1 0 2 0 2 0 1 0 1 0 2 0 7 0 5 0 5 0 2 0 11 0 8 0 24 0 18 0 1 0 9 0 2 0 1 0 2 0 10 0 1 0 1 0 2 0 1 0 2 0 1 0 2 0 1 0 1 0 1 0 1 0 2 0 1 0 2 0 1 0 2 0 1 0 1 0 1 0 1 0 2 0 1 0 1 0 1 0 2 0 1 0 1 0 1 0 1 0 2 0 1 0 2 0 1 0 2 0 1 0 2 0 3 0 1 0 2 0 1 0 3 0 1 0 1 0 3 0 1 0 1 0 1 0 4 0 2 0 3 0 2 0 4 0 5 0 3 0 3 0 4 0 4 0 5 0 11 0 3 0 2 0 2 0 161 0 8 0 15 0 16 0 8 0 8 0 4 0 2 0 6 0 6 0 6 0 2 0 1 0 2 0 1 0 1 0 1 0 1 0 3 0 1 0 1 0 1 0 2 0 1 0 1 0 1 0 3 0 1 0 1 0 2 0 2 0 1 0 1 0 1 0 1 0 3 0 1 0 1 0 2 0 1 0 1 0 1 0 1 0 2 0 1 0 2 0 1 0 2 0 1 0 1 0 1 0 1 0 4 0 1 0 1 0 4 0 1 0 1 0 2 0 1 0 2 0 3 0 6 0 2 0 4 0 1 0 19 0 28 0 3 0 3 0 3 0 1 0 4 0 6 0 3 0 3 0 6 0 6 0 3 0 2 0 4 0 3 0 2 0 1 0 3 0 1 0 2 0 2 0 1 0 1 0 2 0 2 0 1 0 1 0 1 0 2 0 1 0 1 0 1 0 3 0 1 0 1 0 1 0 3 0 1 0 1 0 1 0 1 0 3 0 1 0 1 0 1 0 4 0 2 0 2 0 1 0 1 0 2 0 2 0 13 0 2 0 2 0 3 0 3 0 2 0 1 0 41 0 11 0 146 0 25 0 12 0 3 0 8 0 2 0 2 0 3 0 3 0 2 0 1 0 1 0 3 0 1 0 1 0 3 0 1 0 2 0 4 0 1 0 1 0 2 0 1 0 1 0 1 0 3 0 1 0 1 0 1 0 1 0 2 0 2 0 1 0 1 0 2 0 1 0 1 0 1 0 1 0 2 0 1 0 1 0 1 0 2 0 2 0 1 0 1 0 2 0 1 0 1 0 1 0 1 0 2 0 1 0 5 0 1 0 2 0 1 0 4 0 1 0 4 0 13 0 1 0 6 0 6 0 16 0 1 0 19 0 6 0 15 0 2 0 2 0 4 0 6 0 2 0 1 0 5 0 3 0 1 0 1 0 1 0 3 0 1 0 1 0 2 0 2 0 1 0 1 0 1 0 1 0 2 0 1 0 1 0 1 0 1 0 2 0 3 0 2 0 1 0 1 0 1 0 1 0 2 0 1 0 1 0 1 0 1 0 2 0 1 0 1 0 1 0 1 0 2 0 1 0 1 0 1 0 3 0 1 0 1 0 1 0 1 0 3 0 1 0 1 0 1 0 3 0 1 0 1 0 2 0 1 0 1 0 7 0 19 0 2 0 6 0 7 0 184 0 10 0 1 0 5 0 1 0 3 0 1 0 2 0 1 0 3 0 1 0 1 0 3 0 1 0 1 0 2 0 3 0 6 0 1 0 4 0 2 0 1 0 4 0 1 0 1 0 2 0 1 0 2 0 1 0 2 0 1 0 1 0 1 0 1 0 2 0 1 0 1 0 1 0 1 0 2 0 1 0 1 0 1 0 1 0 2 0 1 0 1 0 1 0 1 0 2 0 1 0 1 0 1 0 1 0 2 0 1 0 1 0 1 0 2 0 1 0 1 0 1 0 1 0 2 0 1 0 1 0 1 0 1 0 2 0 1 0 1 0 1 0 4 0 5 0 2 0 2 0 2 0 1 0 2 0 2 0 2 0 1 0 3 0 1 0 3 0 3 0 1 0 1 0 1 0 3 0 11 0 12 0 24 0 16 0 1 0 5 0 7 0 5 0 6 0 1 0 3 0 2 0 1 0 1 0 3 0 2 0 4 0 1 0 1 0 1 0 2 0 5 0 1 0 1 0 2 0 2 0 1 0 1 0 1 0 1 0 2 0 1 0 1 0 4 0 1 0 1 0 1 0 1 0 2 0 1 0 1 0 2 0 2 0 1 0 2 0 1 0 3 0 1 0 1 0 2 0 1 0 1 0 1 0 1 0 2 0 3 0 1 0 10 0 4 0 1 0 6 0 19 0 10 0 2 0 172 0 16 0 6 0 1 0 2 0 1 0 3 0 2 0 2 0 4 0 6 0 3 0 1 0 4 0 1 0 2 0 1 0 1 0 4 0 2 0 1 0 1 0 3 0 1 0 1 0 1 0 2 0 1 0 2 0 1 0 2 0 1 0 1 0 1 0 1 0 2 0 1 0 2 0 1 0 2 0 1 0 1 0 1 0 2 0 2 0 1 0 1 0 2 0 1 0 1 0 4 0 3 0 1 0 6 0 2 0 1 0 2 0 1 0 2 0 3 0 3 0 1 0 1 0 1 0 10 0 10 0 42 0 13 0 11 0 5 0 1 0 2 0 2 0 1 0 1 0 2 0 7 0 6 0 1 0 2 0 4 0 2 0 4 0 1 0 2 0 1 0 1 0 2 0 2 0 1 0 1 0 1 0 1 0 2 0 1 0 1 0 1 0 1 0 2 0 1 0 2 0 1 0 2 0 1 0 1 0 4 0 1 0 1 0 1 0 5 0 3 0 3 0 1 0 4 0 1 0 7 0 2 0 1 0 188 0 24 0 19 0 6 0 1 0 3 0 2 0 1 0 2 0 1 0 2 0 3 0 2 0 6 0 1 0 1 0 2 0 2 0 1 0 2 0 1 0 1 0 1 0 1 0 2 0 2 0 1 0 1 0 3 0 1 0 4 0 1 0 1 0 1 0 1 0 2 0 1 0 1 0 1 0 3 0 1 0 1 0 1 0 1 0 5 0 2 0 1 0 2 0 1 0 2 0 1 0 1 0 2 0 4 0 6 0 4 0 6 0 24 0 7 0 6 0 4 0 22 0 35 0 5 0 1 0 3 0 8 0 2 0 4 0 2 0 1 0 1 0 3 0 2 0 1 0 2 0 1 0 1 0 1 0 2 0 1 0 1 0 1 0 1 0 2 0 1 0 1 0 1 0 1 0 2 0 1 0 3 0 2 0 1 0 1 0 1 0 1 0 3 0 1 0 4 0 1 0 1 0 1 0 1 0 2 0 1 0 1 0 3 0 1 0 1 0 1 0 1 0 2 0 1 0 1 0 5 0 1 0 4 0 3 0 1 0 21 0 12 0 167 0 6 0 17 0 4 0 7 0 3 0 2 0 4 0 2 0 1 0 3 0 4 0 2 0 1 0 3 0 2 0 2 0 1 0 2 0 1 0 1 0 2 0 2 0 1 0 1 0 1 0 1 0 2 0 1 0 1 0 1 0 1 0 2 0 1 0 1 0 1 0 1 0 2 0 1 0 1 0 1 0 1 0 2 0 1 0 1 0 1 0 1 0 4 0 1 0 2 0 1 0 1 0 1 0 1 0 3 0 1 0 4 0 1 0 1 0 1 0 1 0 2 0 1 0 3 0 5 0 4 0 13 0 5 0 6 0 7 0 31 0 3 0 4 0 1 0 1 0 2 0 15 0 3 0 6 0 2 0 1 0 3 0 1 0 6 0 2 0 3 0 1 0 1 0 1 0 2 0 2 0 1 0 1 0 2 0 1 0 3 0 3 0 1 0 3 0 3 0 1 0 2 0 1 0 1 0 1 0 1 0 2 0 3 0 1 0 2 0 3 0 1 0 2 0 2 0 1 0 3 0 1 0 1 0 1 0 3 0 1 0 1 0 1 0 2 0 3 0 1 0 5 0 1 0 3 0 1 0 5 0 1 0 5 0 1 0 1 0 1 0 4 0 5 0 13 0 7 0 2 0 27 0 148 0 8 0 5 0 3 0 3 0 4 0 4 0 1 0 1 0 3 0 1 0 1 0 3 0 6 0 1 0 6 0 1 0 1 0 2 0 2 0 1 0 1 0 3 0 1 0 1 0 1 0 2 0 1 0 1 0 1 0 1 0 2 0 2 0 1 0 1 0 2 0 1 0 1 0 1 0 1 0 2 0 1 0 1 0 1 0 1 0 2 0 1 0 1 0 1 0 2 0 1 0 1 0 1 0 3 0 3 0 1 0 2 0 3 0 3 0 3 0 3 0 1 0 12 0 10 0 19 0 3 0 20 0 9 0 2 0 4 0 8 0 4 0 2 0 1 0 4 0 6 0 6 0 1 0 1 0 2 0 1 0 2 0 3 0 2 0 1 0 6 0 4 0 1 0 1 0 1 0 2 0 1 0 1 0 1 0 2 0 2 0 1 0 1 0 2 0 1 0 1 0 1 0 1 0 2 0 1 0 1 0 1 0 1 0 2 0 1 0 1 0 1 0 1 0 2 0 1 0 1 0 1 0 1 0 2 0 1 0 1 0 1 0 1 0 2 0 1 0 1 0 1 0 2 0 1 0 1 0 1 0 1 0 3 0 1 0 1 0 1 0 2 0 4 0 3 0 6 0 1 0 4 0 1 0 1 0 2 0 4 0 4 0 6 0 2 0 3 0 13 0 8 0 160 0 11 0 9 0 3 0 2 0 1 0 2 0 5 0 1 0 3 0 2 0 2 0 2 0 3 0 1 0 2 0 1 0 2 0 2 0 1 0 1 0 1 0 1 0 2 0 1 0 1 0 1 0 1 0 2 0 1 0 1 0 1 0 1 0 2 0 1 0 1 0 1 0 1 0 2 0 1 0 3 0 2 0 2 0 1 0 1 0 2 0 2 0 1 0 3 0 1 0 1 0 4 0 1 0 1 0 3 0 1 0 1 0 1 0 6 0 5 0 23 0 1 0 18 0 3 0 2 0 1 0 21 0 3 0 7 0 26 0 4 0 1 0 4 0 2 0 5 0 1 0 3 0 2 0 6 0 1 0 1 0 3 0 1 0 1 0 5 0 1 0 2 0 4 0 2 0 1 0 1 0 1 0 3 0 1 0 1 0 1 0 1 0 2 0 1 0 1 0 1 0 1 0 2 0 1 0 1 0 1 0 1 0 2 0 1 0 1 0 1 0 2 0 1 0 1 0 1 0 1 0 2 0 1 0 1 0 1 0 1 0 2 0 12 0 3 0 4 0 5 0 5 0 12 0 3 0 1 0 17 0 12 0 159 0 5 0 5 0 1 0 1 0 2 0 2 0 4 0 1 0 1 0 2 0 2 0 2 0 2 0 2 0 2 0 2 0 3 0 2 0 2 0 1 0 1 0 1 0 1 0 2 0 1 0 1 0 1 0 1 0 2 0 1 0 2 0 1 0 3 0 1 0 1 0 1 0 3 0 1 0 1 0 1 0 3 0 1 0 1 0 1 0 2 0 5 0 1 0 3 0 2 0 2 0 1 0 1 0 3 0 1 0 8 0 2 0 15 0 4 0 2 0 5 0 6 0 13 0 35 0 13 0 7 0 1 0 11 0 3 0 1 0 3 0 2 0 1 0 1 0 6 0 2 0 2 0 3 0 3 0 1 0 1 0 3 0 1 0 1 0 2 0 4 0 1 0 1 0 2 0 2 0 1 0 1 0 2 0 1 0 1 0 1 0 1 0 2 0 1 0 1 0 1 0 1 0 2 0 2 0 4 0 1 0 1 0 1 0 4 0 2 0 2 0 1 0 2 0 3 0 2 0 1 0 4 0 1 0 1 0 1 0 2 0 3 0 12 0 17 0 12 0 182 0 4 0 1 0 2 0 6 0 4 0 1 0 1 0 3 0 1 0 1 0 1 0 2 0 1 0 1 0 1 0 1 0 2 0 1 0 1 0 3 0 1 0 1 0 4 0 3 0 1 0 3 0 1 0 1 0 1 0 2 0 2 0 1 0 1 0 2 0 2 0 1 0 1 0 2 0 1 0 1 0 1 0 4 0 1 0 5 0 1 0 3 0 1 0 1 0 2 0 2 0 2 0 1 0 1 0 6 0 5 0 3 0 2 0 1 0 15 0 17 0 1 0 58 0 6 0 4 0 7 0 2 0 4 0 1 0 3 0 2 0 2 0 2 0 1 0 1 0 1 0 1 0 3 0 4 0 1 0 1 0 1 0 1 0 3 0 1 0 1 0 1 0 3 0 1 0 2 0 2 0 1 0 1 0 1 0 1 0 2 0 1 0 2 0 1 0 2 0 1 0 1 0 1 0 1 0 2 0 1 0 1 0 1 0 2 0 1 0 1 0 4 0 1 0 1 0 1 0 1 0 2 0 1 0 2 0 1 0 3 0 1 0 1 0 1 0 2 0 2 0 4 0 1 0 1 0 1 0 8 0 4 0 2 0 1 0 1 0 11 0 11 0 14 0 119 0 15 0 13 0 1 0 4 0 1 0 2 0 2 0 7 0 2 0 2 0 1 0 3 0 3 0 5 0 3 0 1 0 3 0 1 0 1 0 3 0 1 0 1 0 1 0 1 0 2 0 1 0 1 0 1 0 2 0 1 0 1 0 5 0 1 0 1 0 1 0 2 0 1 0 2 0 1 0 2 0 1 0 2 0 1 0 2 0 1 0 2 0 3 0 1 0 1 0 1 0 1 0 3 0 4 0 2 0 2 0 2 0 4 0 6 0 2 0 21 0 24 0 51 0 16 0 9 0 2 0 8 0 3 0 5 0 8 0 1 0 2 0 1 0 2 0 1 0 2 0 6 0 1 0 1 0 1 0 1 0 2 0 1 0 2 0 1 0 2 0 1 0 1 0 1 0 1 0 4 0 1 0 3 0 1 0 1 0 1 0 2 0 1 0 3 0 2 0 1 0 1 0 5 0 2 0 4 0 1 0 6 0 4 0 1 0 1 0 9 0 14 0 25 0 125 0 19 0 4 0 8 0 4 0 13 0 2 0 2 0 3 0 1 0 1 0 1 0 5 0 1 0 4 0 1 0 4 0 1 0 1 0 1 0 2 0 1 0 1 0 3 0 2 0 1 0 1 0 2 0 1 0 1 0 2 0 2 0 1 0 1 0 1 0 1 0 2 0 1 0 1 0 1 0 3 0 2 0 5 0 2 0 1 0 3 0 5 0 3 0 8 0 7 0 5 0 21 0 8 0 2 0 13 0 49 0 6 0 1 0 4 0 9 0 6 0 4 0 1 0 3 0 2 0 1 0 1 0 2 0 1 0 3 0 2 0 1 0 1 0 1 0 2 0 1 0 2 0 1 0 4 0 1 0 1 0 2 0 1 0 2 0 1 0 2 0 1 0 2 0 1 0 2 0 1 0 1 0 1 0 1 0 2 0 1 0 1 0 1 0 1 0 2 0 1 0 1 0 1 0 3 0 1 0 1 0 1 0 2 0 1 0 2 0 1 0 2 0 1 0 1 0 1 0 1 0 2 0 1 0 1 0 2 0 2 0 6 0 3 0 4 0 6 0 2 0 4 0 2 0 5 0 17 0 5 0 4 0 6 0 144 0 8 0 8 0 1 0 1 0 1 0 2 0 2 0 1 0 4 0 7 0 1 0 1 0 2 0 2 0 1 0 1 0 2 0 1 0 2 0 3 0 1 0 1 0 1 0 2 0 1 0 2 0 5 0 2 0 2 0 1 0 1 0 1 0 1 0 3 0 1 0 1 0 1 0 2 0 2 0 1 0 1 0 2 0 2 0 7 0 3 0 1 0 6 0 2 0 5 0 1 0 2 0 6 0 2 0 9 0 8 0 4 0 64 0 9 0 14 0 5 0 3 0 4 0 3 0 2 0 6 0 1 0 3 0 2 0 3 0 2 0 1 0 1 0 7 0 1 0 3 0 3 0 2 0 3 0 1 0 3 0 1 0 1 0 1 0 2 0 1 0 1 0 1 0 1 0 2 0 1 0 1 0 1 0 2 0 3 0 1 0 2 0 1 0 3 0 2 0 1 0 2 0 3 0 4 0 2 0 2 0 1 0 3 0 1 0 2 0 3 0 1 0 8 0 15 0 1 0 11 0 6 0 6 0 142 0 1 0 1 0 5 0 4 0 3 0 3 0 4 0 1 0 9 0 2 0 2 0 1 0 1 0 2 0 1 0 2 0 1 0 3 0 1 0 2 0 2 0 1 0 2 0 1 0 3 0 1 0 1 0 2 0 1 0 1 0 1 0 4 0 2 0 1 0 3 0 1 0 2 0 3 0 1 0 1 0 3 0 6 0 9 0 4 0 5 0 12 0 5 0 4 0 9 0 5 0 26 0 58 0 4 0 6 0 4 0 2 0 9 0 4 0 2 0 2 0 7 0 5 0 1 0 2 0 2 0 2 0 2 0 1 0 1 0 1 0 3 0 1 0 1 0 1 0 1 0 2 0 2 0 1 0 3 0 1 0 1 0 1 0 1 0 2 0 1 0 1 0 1 0 2 0 1 0 1 0 1 0 1 0 2 0 1 0 2 0 1 0 2 0 1 0 1 0 1 0 1 0 2 0 1 0 2 0 1 0 2 0 1 0 2 0 7 0 4 0 6 0 3 0 2 0 5 0 3 0 151 0 6 0 4 0 12 0 3 0 10 0 2 0 4 0 1 0 4 0 1 0 1 0 1 0 4 0 2 0 2 0 1 0 1 0 1 0 1 0 2 0 1 0 1 0 5 0 1 0 1 0 3 0 1 0 1 0 1 0 2 0 1 0 1 0 1 0 1 0 2 0 1 0 2 0 3 0 1 0 1 0 4 0 3 0 1 0 2 0 2 0 1 0 1 0 2 0 2 0 2 0 3 0 1 0 5 0 8 0 5 0 1 0 2 0 1 0 8 0 18 0 15 0 36 0 24 0 17 0 3 0 8 0 5 0 4 0 6 0 8 0 3 0 4 0 4 0 1 0 1 0 3 0 3 0 2 0 1 0 1 0 1 0 1 0 2 0 2 0 1 0 1 0 2 0 2 0 1 0 2 0 1 0 1 0 1 0 3 0 1 0 1 0 2 0 2 0 1 0 1 0 2 0 2 0 1 0 2 0 1 0 5 0 3 0 2 0 1 0 3 0 1 0 1 0 4 0 1 0 2 0 6 0 2 0 19 0 4 0 110 0 7 0 23 0 15 0 5 0 4 0 4 0 3 0 3 0 1 0 3 0 1 0 1 0 1 0 2 0 3 0 1 0 2 0 2 0 2 0 2 0 1 0 1 0 1 0 1 0 3 0 1 0 2 0 4 0 1 0 2 0 1 0 1 0 1 0 1 0 3 0 1 0 1 0 1 0 2 0 1 0 1 0 1 0 5 0 4 0 1 0 1 0 4 0 1 0 1 0 1 0 4 0 2 0 5 0 3 0 19 0 3 0 96 0 4 0 13 0 8 0 2 0 2 0 5 0 7 0 1 0 5 0 1 0 2 0 10 0 2 0 2 0 1 0 1 0 2 0 1 0 1 0 1 0 1 0 2 0 1 0 1 0 1 0 1 0 2 0 1 0 1 0 1 0 2 0 1 0 1 0 1 0 1 0 3 0 1 0 2 0 2 0 1 0 1 0 1 0 1 0 2 0 2 0 4 0 3 0 1 0 8 0 2 0 1 0 4 0 4 0 7 0 7 0 31 0 107 0 16 0 5 0 4 0 4 0 3 0 3 0 3 0 2 0 4 0 2 0 4 0 1 0 1 0 3 0 1 0 1 0 1 0 2 0 1 0 1 0 1 0 1 0 2 0 1 0 1 0 1 0 3 0 1 0 1 0 1 0 1 0 2 0 1 0 1 0 1 0 1 0 2 0 1 0 1 0 1 0 2 0 1 0 1 0 2 0 2 0 1 0 1 0 1 0 1 0 2 0 1 0 1 0 2 0 2 0 1 0 1 0 1 0 1 0 2 0 3 0 3 0 1 0 2 0 3 0 1 0 2 0 9 0 2 0 7 0 5 0 3 0 18 0 5 0 8 0 1 0 1 0 9 0 48 0 12 0 4 0 9 0 3 0 9 0 3 0 4 0 6 0 1 0 3 0 10 0 3 0 3 0 3 0 1 0 1 0 1 0 2 0 9 0 1 0 2 0 2 0 1 0 2 0 1 0 1 0 1 0 1 0 2 0 1 0 1 0 1 0 1 0 3 0 1 0 1 0 1 0 2 0 1 0 1 0 4 0 3 0 1 0 4 0 1 0 3 0 14 0 6 0 13 0 7 0 134 0 2 0 14 0 4 0 6 0 2 0 1 0 3 0 7 0 2 0 3 0 3 0 2 0 2 0 4 0 1 0 1 0 2 0 2 0 1 0 1 0 1 0 1 0 2 0 1 0 1 0 1 0 1 0 3 0 1 0 1 0 2 0 1 0 1 0 1 0 1 0 2 0 2 0 1 0 4 0 5 0 3 0 4 0 1 0 1 0 4 0 1 0 1 0 5 0 4 0 7 0 16 0 26 0 64 0 15 0 17 0 3 0 10 0 2 0 3 0 5 0 6 0 1 0 4 0 3 0 3 0 1 0 3 0 4 0 1 0 7 0 2 0 1 0 1 0 1 0 2 0 1 0 1 0 2 0 2 0 2 0 1 0 1 0 2 0 2 0 1 0 1 0 2 0 2 0 2 0 3 0 1 0 2 0 2 0 1 0 1 0 4 0 2 0 3 0 1 0 1 0 2 0 4 0 7 0 7 0 3 0 5 0 23 0 95 0 8 0 7 0 1 0 4 0 1 0 20 0 4 0 4 0 1 0 3 0 1 0 2 0 3 0 2 0 1 0 2 0 3 0 3 0 1 0 3 0 4 0 1 0 1 0 3 0 1 0 1 0 1 0 3 0 1 0 1 0 1 0 3 0 1 0 1 0 5 0 1 0 2 0 1 0 1 0 4 0 1 0 2 0 3 0 1 0 3 0 5 0 1 0 2 0 1 0 3 0 15 0 23 0 1 0 7 0 80 0 5 0 7 0 3 0 8 0 1 0 6 0 8 0 3 0 3 0 7 0 1 0 1 0 3 0 3 0 2 0 1 0 1 0 2 0 6 0 2 0 1 0 3 0 2 0 4 0 2 0 1 0 1 0 1 0 3 0 1 0 1 0 3 0 3 0 1 0 2 0 3 0 1 0 3 0 1 0 1 0 1 0 2 0 1 0 1 0 1 0 1 0 2 0 3 0 1 0 2 0 1 0 5 0 3 0 14 0 2 0 7 0 146 0 2 0 3 0 8 0 3 0 6 0 14 0 1 0 2 0 2 0 1 0 3 0 1 0 1 0 1 0 1 0 3 0 1 0 4 0 2 0 2 0 2 0 1 0 1 0 2 0 2 0 1 0 1 0 1 0 2 0 1 0 1 0 2 0 3 0 1 0 1 0 3 0 1 0 1 0 1 0 3 0 6 0 2 0 6 0 9 0 8 0 13 0 1 0 23 0 20 0 1 0 68 0 29 0 2 0 10 0 1 0 2 0 2 0 8 0 4 0 2 0 4 0 2 0 2 0 2 0 1 0 2 0 2 0 1 0 1 0 1 0 1 0 2 0 1 0 1 0 1 0 1 0 2 0 3 0 1 0 2 0 1 0 1 0 1 0 3 0 1 0 1 0 1 0 1 0 2 0 1 0 1 0 1 0 1 0 4 0 4 0 3 0 10 0 1 0 5 0 2 0 2 0 116 0 16 0 4 0 23 0 1 0 13 0 6 0 6 0 1 0 3 0 1 0 1 0 4 0 1 0 1 0 1 0 5 0 1 0 2 0 1 0 1 0 1 0 1 0 3 0 1 0 5 0 2 0 6 0 5 0 4 0 3 0 5 0 9 0 1 0 1 0 9 0 4 0 4 0 6 0 10 0 8 0 6 0 81 0 29 0 6 0 4 0 5 0 2 0 3 0 1 0 6 0 1 0 2 0 4 0 2 0 5 0 4 0 2 0 3 0 6 0 6 0 1 0 2 0 2 0 2 0 1 0 4 0 2 0 1 0 3 0 1 0 1 0 1 0 2 0 2 0 2 0 2 0 3 0 3 0 1 0 1 0 1 0 5 0 3 0 2 0 7 0 16 0 99 0 30 0 3 0 5 0 1 0 5 0 5 0 2 0 2 0 2 0 2 0 6 0 2 0 1 0 1 0 4 0 1 0 4 0 1 0 1 0 2 0 2 0 1 0 2 0 1 0 2 0 1 0 1 0 1 0 1 0 2 0 6 0 1 0 2 0 1 0 2 0 1 0 1 0 1 0 1 0 3 0 1 0 1 0 2 0 2 0 1 0 4 0 2 0 4 0 3 0 4 0 4 0 6 0 4 0 2 0 11 0 9 0 10 0 6 0 2 0 11 0 74 0 25 0 21 0 2 0 4 0 4 0 1 0 5 0 2 0 4 0 4 0 9 0 6 0 1 0 1 0 2 0 1 0 1 0 1 0 1 0 4 0 1 0 1 0 5 0 1 0 2 0 2 0 4 0 1 0 1 0 4 0 1 0 1 0 1 0 4 0 8 0 3 0 3 0 14 0 3 0 5 0 15 0 1 0 114 0 12 0 5 0 11 0 5 0 1 0 1 0 2 0 2 0 1 0 4 0 1 0 1 0 1 0 1 0 2 0 1 0 5 0 1 0 1 0 1 0 1 0 2 0 1 0 1 0 1 0 1 0 2 0 1 0 1 0 1 0 4 0 1 0 1 0 3 0 1 0 4 0 2 0 1 0 3 0 3 0 7 0 3 0 2 0 5 0 10 0 42 0 1 0 9 0 113 0 3 0 8 0 1 0 5 0 6 0 4 0 3 0 3 0 7 0 4 0 1 0 1 0 3 0 2 0 1 0 6 0 1 0 5 0 1 0 3 0 2 0 1 0 3 0 2 0 1 0 5 0 3 0 1 0 1 0 3 0 1 0 2 0 1 0 2 0 6 0 9 0 9 0 3 0 29 0 81 0 12 0 11 0 2 0 7 0 9 0 6 0 5 0 3 0 8 0 2 0 1 0 1 0 2 0 2 0 1 0 3 0 1 0 2 0 1 0 4 0 1 0 1 0 2 0 2 0 1 0 1 0 2 0 1 0 3 0 2 0 2 0 4 0 2 0 1 0 3 0 6 0 3 0 6 0 3 0 1 0 15 0 24 0 9 0 22 0 109 0 7 0 6 0 1 0 2 0 1 0 3 0 2 0 2 0 1 0 9 0 4 0 3 0 10 0 1 0 2 0 3 0 2 0 1 0 1 0 4 0 1 0 3 0 2 0 1 0 3 0 1 0 2 0 1 0 5 0 4 0 1 0 1 0 2 0 4 0 4 0 2 0 9 0 5 0 2 0 112 0 2 0 12 0 4 0 11 0 1 0 3 0 2 0 2 0 8 0 1 0 6 0 3 0 2 0 1 0 1 0 1 0 2 0 3 0 1 0 3 0 1 0 2 0 2 0 1 0 1 0 1 0 1 0 2 0 1 0 3 0 3 0 1 0 1 0 1 0 4 0 4 0 1 0 1 0 3 0 7 0 3 0 17 0 4 0 13 0 9 0 1 0 5 0 13 0 5 0 80 0 35 0 1 0 14 0 26 0 2 0 1 0 3 0 3 0 8 0 2 0 1 0 4 0 2 0 3 0 1 0 1 0 1 0 3 0 1 0 2 0 1 0 3 0 1 0 5 0 2 0 1 0 2 0 1 0 1 0 1 0 2 0 2 0 1 0 4 0 1 0 2 0 3 0 1 0 7 0 7 0 2 0 1 0 121 0 5 0 5 0 2 0 7 0 7 0 1 0 2 0 8 0 3 0 7 0 2 0 1 0 1 0 1 0 2 0 1 0 2 0 5 0 5 0 6 0 1 0 1 0 6 0 1 0 2 0 1 0 1 0 1 0 5 0 13 0 4 0 8 0 14 0 1 0 5 0 3 0 8 0 3 0 34 0 79 0 18 0 1 0 2 0 3 0 16 0 2 0 4 0 10 0 3 0 1 0 8 0 4 0 1 0 4 0 1 0 4 0 2 0 1 0 2 0 2 0 2 0 2 0 1 0 1 0 1 0 1 0 2 0 2 0 1 0 1 0 2 0 1 0 1 0 1 0 1 0 2 0 1 0 1 0 1 0 1 0 2 0 2 0 1 0 2 0 1 0 2 0 1 0 2 0 1 0 2 0 1 0 2 0 1 0 1 0 4 0 1 0 1 0 1 0 1 0 2 0 3 0 5 0 4 0 6 0 8 0 4 0 82 0 25 0 5 0 5 0 3 0 1 0 5 0 6 0 4 0 1 0 1 0 1 0 3 0 1 0 5 0 1 0 3 0 1 0 1 0 6 0 1 0 1 0 2 0 2 0 2 0 2 0 1 0 1 0 1 0 9 0 7 0 18 0 1 0 52 0 92 0 22 0 36 0 7 0 10 0 1 0 1 0 5 0 4 0 2 0 5 0 11 0 2 0 3 0 1 0 2 0 1 0 4 0 1 0 4 0 1 0 1 0 1 0 4 0 3 0 1 0 1 0 5 0 6 0 5 0 1 0 2 0 1 0 3 0 1 0 2 0 2 0 1 0 16 0 104 0 10 0 5 0 2 0 3 0 2 0 11 0 1 0 2 0 3 0 1 0 4 0 1 0 1 0 1 0 5 0 1 0 2 0 3 0 1 0 2 0 6 0 6 0 4 0 4 0 1 0 5 0 1 0 3 0 2 0 1 0 5 0 3 0 3 0 15 0 20 0 3 0 2 0 14 0 132 0 3 0 15 0 3 0 1 0 5 0 5 0 3 0 22 0 1 0 5 0 1 0 10 0 1 0 1 0 3 0 1 0 3 0 3 0 5 0 1 0 1 0 3 0 1 0 1 0 1 0 4 0 3 0 4 0 2 0 3 0 1 0 1 0 7 0 3 0 8 0 104 0 5 0 2 0 1 0 20 0 7 0 7 0 4 0 2 0 5 0 8 0 2 0 1 0 2 0 3 0 6 0 2 0 4 0 1 0 5 0 1 0 3 0 6 0 3 0 1 0 13 0 5 0 12 0 7 0 8 0 135 0 11 0 16 0 15 0 11 0 4 0 17 0 2 0 1 0 11 0 5 0 1 0 1 0 2 0 4 0 4 0 1 0 1 0 2 0 1 0 1 0 1 0 2 0 2 0 1 0 3 0 2 0 5 0 1 0 7 0 3 0 1 0 7 0 12 0 13 0 103 0 2 0 1 0 14 0 3 0 3 0 1 0 1 0 1 0 1 0 3 0 2 0 1 0 2 0 1 0 2 0 4 0 2 0 2 0 1 0 1 0 1 0 1 0 3 0 3 0 2 0 1 0 1 0 1 0 3 0 1 0 3 0 4 0 2 0 4 0 9 0 9 0 9 0 2 0 12 0 4 0 5 0 7 0 3 0 12 0 131 0 18 0 4 0 1 0 17 0 2 0 5 0 1 0 3 0 2 0 4 0 6 0 1 0 1 0 1 0 2 0 6 0 1 0 1 0 2 0 2 0 2 0 1 0 1 0 2 0 2 0 1 0 3 0 1 0 2 0 4 0 1 0 1 0 2 0 3 0 1 0 3 0 5 0 1 0 2 0 1 0 2 0 2 0 18 0 1 0 8 0 86 0 1 0 5 0 10 0 1 0 2 0 13 0 8 0 2 0 3 0 2 0 3 0 1 0 1 0 6 0 5 0 1 0 4 0 3 0 2 0 1 0 5 0 1 0 3 0 2 0 3 0 5 0 5 0 1 0 2 0 2 0 5 0 12 0 7 0 1 0 1 0 3 0 1 0 5 0 7 0 143 0 6 0 6 0 4 0 17 0 3 0 12 0 6 0 12 0 4 0 7 0 2 0 3 0 4 0 3 0 2 0 1 0 3 0 1 0 1 0 6 0 1 0 2 0 1 0 1 0 1 0 2 0 1 0 1 0 1 0 1 0 2 0 1 0 2 0 1 0 2 0 1 0 1 0 1 0 1 0 3 0 1 0 1 0 1 0 2 0 1 0 1 0 5 0 1 0 1 0 2 0 14 0 2 0 101 0 2 0 6 0 2 0 6 0 1 0 2 0 1 0 2 0 3 0 1 0 1 0 1 0 1 0 2 0 3 0 1 0 2 0 1 0 3 0 2 0 1 0 2 0 6 0 2 0 2 0 1 0 3 0 2 0 4 0 1 0 9 0 15 0 23 0 1 0 7 0 16 0 162 0 22 0 10 0 5 0 10 0 10 0 7 0 3 0 3 0 1 0 2 0 2 0 1 0 2 0 1 0 4 0 1 0 2 0 6 0 1 0 2 0 1 0 4 0 4 0 3 0 1 0 6 0 8 0 3 0 3 0 6 0 7 0 91 0 15 0 5 0 2 0 3 0 2 0 1 0 1 0 2 0 2 0 2 0 2 0 1 0 2 0 1 0 3 0 1 0 2 0 3 0 1 0 2 0 4 0 1 0 2 0 2 0 1 0 6 0 3 0 1 0 2 0 6 0 4 0 20 0 5 0 4 0 61 0 168 0 1 0 5 0 2 0 3 0 4 0 5 0 1 0 1 0 6 0 2 0 2 0 3 0 6 0 1 0 2 0 1 0 1 0 1 0 2 0 1 0 1 0 1 0 4 0 3 0 2 0 1 0 1 0 1 0 1 0 3 0 1 0 1 0 1 0 2 0 1 0 5 0 1 0 5 0 1 0 16 0 12 0 67 0 18 0 1 0 3 0 4 0 2 0 2 0 2 0 5 0 9 0 1 0 4 0 1 0 1 0 1 0 5 0 1 0 4 0 3 0 3 0 1 0 3 0 1 0 2 0 1 0 2 0 2 0 16 0 2 0 1 0 10 0 1 0 12 0 5 0 4 0 166 0 28 0 21 0 2 0 5 0 7 0 5 0 8 0 3 0 1 0 1 0 1 0 4 0 7 0 9 0 7 0 1 0 4 0 1 0 1 0 1 0 2 0 1 0 1 0 1 0 1 0 2 0 2 0 1 0 1 0 2 0 4 0 17 0 4 0 1 0 92 0 4 0 2 0 4 0 10 0 1 0 10 0 1 0 1 0 3 0 2 0 5 0 1 0 3 0 1 0 2 0 1 0 2 0 1 0 7 0 1 0 3 0 1 0 1 0 4 0 1 0 1 0 1 0 9 0 8 0 5 0 1 0 15 0 35 0 214 0 3 0 1 0 3 0 2 0 6 0 3 0 2 0 6 0 2 0 7 0 1 0 1 0 1 0 1 0 2 0 1 0 3 0 2 0 1 0 1 0 2 0 2 0 1 0 1 0 1 0 1 0 2 0 1 0 2 0 3 0 1 0 5 0 1 0 1 0 10 0 1 0 4 0 2 0 84 0 3 0 2 0 6 0 2 0 2 0 1 0 1 0 1 0 3 0 1 0 1 0 2 0 2 0 1 0 2 0 2 0 1 0 1 0 1 0 1 0 2 0 1 0 1 0 1 0 1 0 2 0 1 0 1 0 1 0 1 0 2 0 1 0 1 0 2 0 3 0 1 0 2 0 2 0 1 0 1 0 1 0 2 0 1 0 2 0 7 0 2 0 2 0 2 0 2 0 1 0 2 0 3 0 9 0 4 0 2 0 2 0 3 0 3 0 2 0 1 0 3 0 2 0 19 0 30 0 123 0 38 0 27 0 9 0 10 0 8 0 8 0 9 0 2 0 4 0 2 0 1 0 1 0 4 0 1 0 1 0 4 0 1 0 2 0 1 0 2 0 3 0 2 0 1 0 1 0 1 0 5 0 2 0 3 0 1 0 5 0 1 0 83 0 1 0 4 0 3 0 3 0 3 0 3 0 1 0 4 0 4 0 2 0 5 0 1 0 3 0 3 0 2 0 1 0 2 0 1 0 2 0 1 0 4 0 1 0 1 0 5 0 6 0 2 0 3 0 7 0 8 0 3 0 6 0 7 0 2 0 2 0 10 0 7 0 35 0 5 0 2 0 224 0 2 0 2 0 7 0 3 0 1 0 2 0 1 0 1 0 1 0 1 0 2 0 2 0 1 0 1 0 2 0 1 0 1 0 2 0 2 0 2 0 1 0 1 0 2 0 3 0 3 0 2 0 3 0 1 0 2 0 7 0 2 0 9 0 3 0 66 0 8 0 5 0 2 0 11 0 1 0 3 0 6 0 2 0 3 0 2 0 3 0 1 0 1 0 1 0 1 0 3 0 1 0 2 0 2 0 1 0 1 0 1 0 1 0 3 0 1 0 1 0 1 0 2 0 1 0 1 0 4 0 2 0 6 0 5 0 5 0 6 0 20 0 3 0 261 0 12 0 8 0 1 0 2 0 2 0 1 0 5 0 4 0 2 0 2 0 2 0 1 0 2 0 3 0 1 0 1 0 1 0 1 0 2 0 1 0 1 0 1 0 3 0 1 0 1 0 11 0 12 0 4 0 1 0 67 0 6 0 16 0 2 0 4 0 2 0 1 0 2 0 1 0 1 0 1 0 2 0 1 0 1 0 1 0 1 0 3 0 3 0 2 0 1 0 1 0 2 0 2 0 2 0 1 0 3 0 1 0 1 0 1 0 3 0 1 0 2 0 5 0 16 0 26 0 27 0 10 0 196 0 3 0 22 0 1 0 1 0 1 0 12 0 3 0 6 0 1 0 7 0 3 0 1 0 5 0 2 0 4 0 3 0 1 0 2 0 1 0 1 0 1 0 1 0 2 0 1 0 2 0 2 0 2 0 2 0 4 0 14 0 81 0 13 0 3 0 1 0 2 0 3 0 1 0 1 0 2 0 3 0 2 0 4 0 1 0 3 0 1 0 2 0 1 0 2 0 1 0 2 0 1 0 2 0 1 0 2 0 6 0 3 0 2 0 1 0 2 0 12 0 2 0 12 0 25 0 12 0 248 0 1 0 6 0 4 0 6 0 1 0 13 0 3 0 2 0 3 0 1 0 2 0 3 0 2 0 1 0 3 0 1 0 5 0 5 0 8 0 5 0 9 0 76 0 4 0 1 0 1 0 5 0 1 0 1 0 4 0 1 0 3 0 1 0 1 0 1 0 1 0 2 0 3 0 2 0 2 0 1 0 1 0 2 0 1 0 1 0 1 0 1 0 2 0 1 0 1 0 1 0 1 0 2 0 1 0 1 0 1 0 3 0 3 0 1 0 2 0 1 0 1 0 1 0 15 0 1 0 22 0 1 0 5 0 27 0 224 0 18 0 4 0 2 0 8 0 2 0 5 0 8 0 1 0 3 0 1 0 2 0 1 0 2 0 2 0 1 0 3 0 1 0 7 0 1 0 2 0 1 0 1 0 2 0 2 0 1 0 2 0 1 0 6 0 86 0 1 0 8 0 6 0 4 0 1 0 1 0 2 0 2 0 1 0 4 0 1 0 3 0 1 0 3 0 3 0 1 0 1 0 3 0 2 0 4 0 1 0 2 0 20 0 1 0 32 0 6 0 221 0 31 0 9 0 3 0 3 0 5 0 6 0 4 0 6 0 1 0 2 0 6 0 2 0 1 0 2 0 3 0 1 0 1 0 1 0 1 0 4 0 4 0 1 0 2 0 2 0 1 0 1 0 2 0 2 0 1 0 1 0 4 0 2 0 7 0 4 0 6 0 13 0 59 0 1 0 5 0 1 0 3 0 2 0 1 0 1 0 2 0 1 0 2 0 1 0 2 0 3 0 1 0 2 0 1 0 1 0 4 0 1 0 2 0 2 0 1 0 7 0 2 0 2 0 9 0 1 0 2 0 2 0 7 0 2 0 4 0 9 0 2 0 39 0 258 0 1 0 9 0 4 0 3 0 6 0 4 0 1 0 4 0 1 0 1 0 1 0 1 0 2 0 1 0 3 0 4 0 1 0 2 0 2 0 1 0 1 0 2 0 1 0 2 0 1 0 2 0 10 0 14 0 78 0 1 0 10 0 6 0 2 0 3 0 2 0 1 0 5 0 4 0 4 0 3 0 2 0 53 0 253 0 21 0 16 0 6 0 1 0 4 0 1 0 10 0 3 0 2 0 2 0 4 0 1 0 6 0 2 0 2 0 2 0 1 0 6 0 1 0 92 0 6 0 2 0 3 0 2 0 5 0 6 0 1 0 1 0 2 0 2 0 2 0 11 0 4 0 2 0 3 0 2 0 41 0 29 0 213 0 24 0 2 0 5 0 7 0 1 0 4 0 1 0 9 0 1 0 4 0 1 0 1 0 2 0 2 0 1 0 1 0 8 0 4 0 2 0 2 0 1 0 1 0 4 0 2 0 1 0 2 0 2 0 1 0 1 0 3 0 1 0 2 0 5 0 4 0 1 0 2 0 4 0 1 0 78 0 8 0 1 0 2 0 4 0 6 0 5 0 1 0 1 0 1 0 2 0 1 0 1 0 5 0 6 0 3 0 4 0 17 0 2 0 4 0 37 0 253 0 17 0 15 0 12 0 2 0 1 0 3 0 5 0 1 0 4 0 2 0 2 0 2 0 1 0 2 0 1 0 1 0 7 0 5 0 1 0 5 0 8 0 6 0 63 0 2 0 4 0 10 0 2 0 2 0 4 0 1 0 1 0 5 0 1 0 3 0 1 0 1 0 3 0 1 0 6 0 2 0 4 0 13 0 6 0 12 0 8 0 15 0 5 0 266 0 28 0 15 0 18 0 3 0 1 0 4 0 3 0 1 0 3 0 5 0 2 0 2 0 79 0 1 0 5 0 2 0 1 0 1 0 3 0 2 0 10 0 1 0 1 0 1 0 5 0 2 0 1 0 2 0 5 0 5 0 7 0 1 0 5 0 5 0 343 0 1 0 4 0 10 0 2 0 1 0 2 0 3 0 5 0 4 0 5 0 3 0 3 0 1 0 4 0 1 0 3 0 1 0 79 0 9 0 1 0 2 0 3 0 2 0 1 0 1 0 3 0 1 0 5 0 2 0 2 0 10 0 5 0 12 0 11 0 1 0 288 0 8 0 19 0 15 0 18 0 6 0 1 0 1 0 8 0 1 0 4 0 1 0 2 0 7 0 2 0 2 0 11 0 71 0 2 0 3 0 1 0 2 0 4 0 3 0 4 0 1 0 1 0 2 0 2 0 4 0 5 0 7 0 8 0 321 0 18 0 2 0 4 0 8 0 14 0 4 0 9 0 3 0 2 0 2 0 3 0 5 0 2 0 2 0 1 0 5 0 1 0 1 0 1 0 1 0 4 0 1 0 1 0 69 0 8 0 9 0 2 0 4 0 17 0 5 0 31 0 4 0 1 0 300 0 4 0 17 0 25 0 7 0 7 0 2 0 2 0 3 0 1 0 4 0 6 0 4 0 79 0 3 0 1 0 5 0 1 0 2 0 4 0 15 0 5 0 18 0 31 0 343 0 18 0 1 0 6 0 2 0 1 0 3 0 8 0 8 0 53 0 5 0 2 0 6 0 1 0 5 0 5 0 5 0 6 0 20 0 6 0 33 0 82 0 263 0 4 0 2 0 3 0 3 0 2 0 3 0 5 0 10 0 12 0 65 0 6 0 4 0 15 0 3 0 4 0 21 0 297 0 38 0 42 0 3 0 5 0 9 0 2 0 2 0 5 0 2 0 6 0 64 0 10 0 3 0 4 0 2 0 3 0 3 0 5 0 1 0 1 0 5 0 9 0 6 0 2 0 28 0 64 0 64 0 203 0 11 0 15 0 5 0 9 0 20 0 1 0 4 0 1 0 2 0 2 0 8 0 64 0 5 0 12 0 3 0 14 0 113 0 35 0 219 0 65 0 44 0 19 0 9 0 1 0 46 0 363 0 44 0 72 0 1 0 2 0 2 0 30 0 434 0 14 0 73 0 467 0 1336 0 68 0 1174 0 9999999" stroke-dashoffset="-11046"/></g>
<g font-size="9.6" fill="#2b2b2b" transform="rotate(0.03 115.4 66.6)"><text x="38.50" y="136.70" text-anchor="middle">0</text><text x="35.20" y="128.17" text-anchor="end">0</text><text x="62.63" y="136.70" text-anchor="middle">40</text><text x="35.20" y="110.07" text-anchor="end">40</text><text x="86.75" y="136.70" text-anchor="middle">80</text><text x="35.20" y="91.96" text-anchor="end">80</text><text x="110.88" y="136.70" text-anchor="middle">120</text><text x="35.20" y="73.86" text-anchor="end">120</text><text x="135.00" y="136.70" text-anchor="middle">160</text><text x="35.20" y="55.76" text-anchor="end">160</text><text x="159.13" y="136.70" text-anchor="middle">200</text><text x="35.20" y="37.66" text-anchor="end">200</text><text x="183.25" y="136.70" text-anchor="middle">240</text><text x="35.20" y="19.56" text-anchor="end">240</text></g>
<text x="115.40" y="148.00" font-size="9.3" fill="#2b2b2b" text-anchor="middle" transform="rotate(0.03 115.4 148.0)" textLength="126.1" lengthAdjust="spacingAndGlyphs">Pixel gray value on location(x,y)</text>
<text transform="translate(17.40,142.80) rotate(-90)" font-size="9.22" fill="#2b2b2b" textLength="141.80" lengthAdjust="spacingAndGlyphs">Pixel gray value on location(x + 1,y)</text>
<!-- plot b -->
<path d="M281.70 8.20V123.10H435.50M281.70 123.10v-1.6M281.70 123.10h1.6M305.83 123.10v-1.6M281.70 105.08h1.6M329.95 123.10v-1.6M281.70 87.05h1.6M354.08 123.10v-1.6M281.70 69.03h1.6M378.20 123.10v-1.6M281.70 51.01h1.6M402.33 123.10v-1.6M281.70 32.98h1.6M426.45 123.10v-1.6M281.70 14.96h1.6" fill="none" stroke="#6e6e6e" stroke-width="0.8"/>
<g transform="translate(277,4) scale(0.5)"><path d="M0 0H273V1H0V2H273V3H0V4H273V5H0V6H273V7H0V8H273V9H0V10H273V11H0V12H273V13H0V14H273V15H0V16H273V17H0V18H273V19H0V20H273V21H0V22H273V23H0V24H273V25H0V26H273V27H0V28H273V29H0V30H273V31H0V32H273V33H0V34H273V35H0V36H273V37H0V38H273V39H0V40H273V41H0V42H273V43H0V44H273V45H0V46H273V47H0V48H273V49H0V50H273V51H0V52H273V53H0V54H273V55H0V56H273V57H0V58H273V59H0V60H273V61H0V62H273V63H0V64H273V65H0V66H273V67H0V68H273V69H0V70H273V71H0V72H273V73H0V74H273V75H0V76H273V77H0V78H273V79H0V80H273V81H0V82H273V83H0V84H273V85H0V86H273V87H0V88H273V89H0V90H273V91H0V92H273V93H0V94H273V95H0V96H273V97H0V98H273V99H0V100H273V101H0V102H273V103H0V104H273V105H0V106H273V107H0V108H273V109H0V110H273V111H0V112H273V113H0V114H273V115H0V116H273V117H0V118H273V119H0V120H273V121H0V122H273V123H0V124H273V125H0V126H273V127H0V128H273V129H0V130H273V131H0V132H273V133H0V134H273V135H0V136H273V137H0V138H273V139H0V140H273V141H0V142H273V143H0V144H273V145H0V146H273V147H0V148H273V149H0V150H273V151H0V152H273V153H0V154H273V155H0V156H273V157H0V158H273V159H0V160H273V161H0V162H273V163H0V164H273V165H0V166H273V167H0V168H273V169H0V170H273V171H0V172H273V173H0V174H273V175H0V176H273V177H0V178H273V179H0V180H273V181H0V182H273V183H0V184H273V185H0V186H273V187H0V188H273V189H0V190H273V191H0V192H273V193H0V194H273V195H0V196H273V197H0V198H273V199H0V200H273V201H0V202H273V203H0V204H273V205H0V206H273V207H0V208H273V209H0V210H273V211H0V212H273V213H0V214H273V215H0V216H273V217H0V218H273V219H0V220H273V221H0V222H273V223H0" fill="none" stroke="#0072BD" stroke-width="4.20" stroke-linecap="round" stroke-dasharray="0 975 0 21 0 6 0 2 0 103 0 18 0 441 0 6 0 25 0 14 0 20 0 4 0 27 0 7 0 5 0 405 0 9 0 4 0 6 0 2 0 6 0 14 0 10 0 3 0 31 0 13 0 5 0 5 0 1 0 4 0 5 0 38 0 413 0 12 0 3 0 2 0 12 0 5 0 1 0 4 0 10 0 2 0 1 0 12 0 2 0 2 0 2 0 5 0 1 0 4 0 5 0 6 0 3 0 3 0 26 0 387 0 1 0 8 0 23 0 3 0 7 0 11 0 2 0 1 0 4 0 1 0 6 0 9 0 1 0 1 0 3 0 2 0 1 0 1 0 3 0 2 0 5 0 1 0 1 0 1 0 2 0 1 0 2 0 3 0 7 0 2 0 9 0 1 0 2 0 3 0 2 0 4 0 11 0 8 0 4 0 392 0 3 0 23 0 4 0 6 0 8 0 3 0 5 0 4 0 1 0 1 0 3 0 1 0 3 0 4 0 1 0 1 0 3 0 4 0 1 0 2 0 3 0 1 0 1 0 1 0 1 0 4 0 1 0 1 0 1 0 2 0 2 0 2 0 2 0 1 0 1 0 1 0 3 0 1 0 1 0 1 0 2 0 1 0 3 0 4 0 7 0 1 0 2 0 1 0 2 0 4 0 2 0 3 0 1 0 2 0 4 0 7 0 3 0 18 0 383 0 6 0 8 0 8 0 3 0 1 0 1 0 2 0 1 0 1 0 10 0 2 0 2 0 4 0 2 0 2 0 2 0 1 0 1 0 3 0 1 0 1 0 2 0 1 0 1 0 1 0 1 0 2 0 1 0 1 0 1 0 5 0 2 0 1 0 2 0 1 0 1 0 1 0 1 0 2 0 1 0 1 0 1 0 2 0 1 0 1 0 1 0 1 0 2 0 2 0 1 0 1 0 2 0 1 0 1 0 1 0 1 0 2 0 1 0 1 0 2 0 2 0 1 0 1 0 1 0 1 0 2 0 2 0 4 0 1 0 1 0 3 0 1 0 3 0 3 0 1 0 1 0 11 0 4 0 3 0 6 0 18 0 318 0 25 0 19 0 7 0 6 0 2 0 4 0 2 0 1 0 4 0 1 0 2 0 2 0 6 0 1 0 1 0 4 0 1 0 1 0 3 0 1 0 1 0 1 0 2 0 2 0 1 0 1 0 2 0 1 0 1 0 1 0 2 0 1 0 1 0 1 0 3 0 2 0 6 0 2 0 3 0 1 0 1 0 1 0 1 0 2 0 1 0 1 0 1 0 2 0 1 0 1 0 2 0 2 0 1 0 1 0 1 0 4 0 1 0 1 0 1 0 2 0 1 0 1 0 1 0 1 0 2 0 7 0 5 0 2 0 13 0 3 0 5 0 7 0 7 0 18 0 342 0 15 0 1 0 8 0 1 0 11 0 9 0 1 0 2 0 2 0 6 0 1 0 1 0 1 0 1 0 2 0 1 0 1 0 1 0 1 0 3 0 1 0 1 0 1 0 2 0 1 0 1 0 1 0 1 0 2 0 1 0 1 0 1 0 2 0 1 0 1 0 1 0 1 0 2 0 3 0 6 0 4 0 1 0 1 0 1 0 1 0 2 0 1 0 1 0 1 0 2 0 1 0 1 0 1 0 1 0 2 0 1 0 1 0 1 0 1 0 2 0 2 0 2 0 2 0 2 0 1 0 3 0 1 0 1 0 4 0 1 0 5 0 1 0 5 0 6 0 7 0 2 0 5 0 14 0 25 0 314 0 25 0 2 0 6 0 13 0 3 0 3 0 6 0 1 0 4 0 1 0 1 0 4 0 1 0 1 0 1 0 3 0 1 0 1 0 1 0 2 0 1 0 1 0 2 0 2 0 1 0 1 0 2 0 2 0 1 0 1 0 1 0 1 0 2 0 1 0 1 0 1 0 2 0 1 0 1 0 1 0 3 0 1 0 2 0 8 0 2 0 1 0 1 0 1 0 1 0 2 0 1 0 1 0 1 0 2 0 1 0 1 0 1 0 1 0 2 0 1 0 1 0 1 0 1 0 2 0 1 0 1 0 1 0 1 0 2 0 2 0 4 0 1 0 1 0 1 0 1 0 2 0 1 0 1 0 1 0 2 0 1 0 1 0 1 0 4 0 2 0 17 0 1 0 3 0 4 0 8 0 2 0 6 0 347 0 10 0 1 0 5 0 1 0 13 0 4 0 3 0 5 0 1 0 6 0 3 0 3 0 2 0 1 0 2 0 1 0 2 0 1 0 2 0 1 0 2 0 1 0 1 0 1 0 1 0 2 0 1 0 1 0 1 0 1 0 2 0 1 0 1 0 1 0 2 0 1 0 1 0 1 0 1 0 2 0 1 0 1 0 7 0 1 0 1 0 3 0 3 0 2 0 1 0 1 0 1 0 2 0 1 0 1 0 1 0 1 0 3 0 1 0 1 0 1 0 2 0 1 0 1 0 2 0 2 0 1 0 1 0 1 0 1 0 3 0 1 0 1 0 4 0 1 0 1 0 2 0 13 0 3 0 4 0 2 0 4 0 2 0 2 0 7 0 5 0 11 0 337 0 4 0 3 0 3 0 3 0 1 0 1 0 4 0 2 0 3 0 3 0 4 0 1 0 1 0 4 0 1 0 6 0 3 0 1 0 1 0 1 0 1 0 2 0 1 0 1 0 1 0 2 0 1 0 1 0 1 0 1 0 2 0 1 0 1 0 1 0 1 0 2 0 1 0 1 0 1 0 1 0 2 0 1 0 1 0 1 0 1 0 2 0 1 0 1 0 1 0 1 0 2 0 1 0 1 0 1 0 2 0 1 0 1 0 1 0 1 0 2 0 1 0 3 0 7 0 2 0 1 0 1 0 1 0 1 0 3 0 1 0 1 0 2 0 1 0 1 0 1 0 1 0 2 0 1 0 1 0 1 0 1 0 2 0 1 0 1 0 1 0 1 0 3 0 1 0 1 0 1 0 3 0 1 0 2 0 2 0 2 0 3 0 1 0 1 0 6 0 6 0 2 0 8 0 3 0 7 0 15 0 2 0 5 0 294 0 31 0 9 0 3 0 1 0 6 0 5 0 9 0 3 0 3 0 2 0 3 0 2 0 2 0 4 0 2 0 2 0 2 0 2 0 2 0 1 0 4 0 1 0 1 0 1 0 1 0 2 0 1 0 2 0 1 0 2 0 1 0 1 0 1 0 1 0 2 0 1 0 1 0 1 0 1 0 2 0 1 0 2 0 1 0 2 0 2 0 1 0 2 0 1 0 1 0 1 0 1 0 2 0 9 0 1 0 1 0 2 0 2 0 1 0 1 0 3 0 1 0 3 0 1 0 1 0 1 0 1 0 2 0 1 0 1 0 1 0 1 0 2 0 1 0 1 0 1 0 1 0 2 0 2 0 1 0 1 0 2 0 1 0 1 0 1 0 1 0 2 0 1 0 1 0 1 0 3 0 1 0 2 0 2 0 7 0 3 0 4 0 1 0 10 0 6 0 7 0 10 0 293 0 44 0 11 0 7 0 4 0 2 0 1 0 11 0 2 0 4 0 2 0 3 0 1 0 2 0 2 0 1 0 1 0 1 0 2 0 3 0 1 0 2 0 1 0 1 0 1 0 3 0 1 0 1 0 1 0 1 0 2 0 1 0 1 0 1 0 1 0 2 0 1 0 1 0 1 0 1 0 2 0 1 0 1 0 1 0 2 0 1 0 1 0 1 0 1 0 12 0 4 0 2 0 1 0 2 0 2 0 1 0 2 0 1 0 1 0 1 0 1 0 2 0 1 0 1 0 1 0 1 0 2 0 1 0 1 0 1 0 1 0 2 0 1 0 1 0 1 0 1 0 2 0 1 0 1 0 2 0 2 0 1 0 1 0 1 0 2 0 1 0 1 0 1 0 1 0 2 0 7 0 1 0 2 0 3 0 6 0 7 0 6 0 5 0 4 0 15 0 27 0 7 0 286 0 12 0 13 0 2 0 5 0 1 0 2 0 5 0 5 0 4 0 4 0 2 0 1 0 1 0 1 0 1 0 2 0 2 0 1 0 2 0 2 0 1 0 1 0 2 0 1 0 1 0 1 0 1 0 2 0 1 0 1 0 1 0 1 0 2 0 1 0 1 0 1 0 1 0 2 0 1 0 1 0 1 0 1 0 2 0 1 0 1 0 1 0 3 0 1 0 1 0 1 0 3 0 13 0 1 0 2 0 2 0 1 0 1 0 1 0 2 0 1 0 1 0 1 0 3 0 1 0 1 0 1 0 1 0 2 0 1 0 1 0 1 0 1 0 2 0 1 0 2 0 1 0 2 0 1 0 1 0 1 0 1 0 2 0 1 0 1 0 1 0 2 0 1 0 1 0 1 0 3 0 1 0 1 0 2 0 2 0 1 0 3 0 3 0 1 0 4 0 4 0 6 0 10 0 4 0 3 0 6 0 331 0 8 0 3 0 3 0 5 0 2 0 1 0 1 0 8 0 1 0 1 0 2 0 2 0 3 0 1 0 3 0 1 0 8 0 2 0 1 0 1 0 1 0 2 0 1 0 1 0 1 0 1 0 2 0 1 0 1 0 1 0 1 0 2 0 1 0 1 0 1 0 1 0 2 0 1 0 1 0 4 0 1 0 1 0 1 0 1 0 2 0 1 0 1 0 1 0 2 0 1 0 1 0 4 0 3 0 6 0 2 0 2 0 2 0 1 0 1 0 2 0 1 0 1 0 1 0 2 0 1 0 1 0 1 0 1 0 2 0 1 0 1 0 1 0 1 0 2 0 1 0 1 0 1 0 1 0 2 0 1 0 1 0 1 0 1 0 2 0 1 0 1 0 1 0 1 0 2 0 1 0 1 0 1 0 2 0 1 0 1 0 1 0 1 0 2 0 1 0 2 0 3 0 1 0 1 0 1 0 3 0 1 0 1 0 1 0 1 0 3 0 1 0 1 0 4 0 2 0 1 0 2 0 1 0 1 0 4 0 3 0 6 0 3 0 5 0 2 0 1 0 5 0 2 0 4 0 15 0 6 0 4 0 281 0 9 0 2 0 10 0 2 0 7 0 12 0 2 0 2 0 2 0 4 0 1 0 2 0 3 0 2 0 1 0 3 0 1 0 1 0 1 0 2 0 1 0 1 0 2 0 2 0 1 0 1 0 1 0 1 0 2 0 1 0 2 0 1 0 2 0 1 0 1 0 1 0 1 0 4 0 1 0 3 0 1 0 1 0 1 0 2 0 1 0 1 0 1 0 1 0 4 0 11 0 2 0 2 0 2 0 1 0 4 0 1 0 1 0 1 0 1 0 2 0 1 0 1 0 1 0 1 0 2 0 1 0 1 0 1 0 1 0 2 0 1 0 1 0 1 0 1 0 2 0 1 0 1 0 1 0 1 0 2 0 1 0 1 0 1 0 3 0 1 0 1 0 1 0 2 0 1 0 1 0 2 0 2 0 1 0 1 0 2 0 4 0 13 0 9 0 2 0 7 0 8 0 4 0 10 0 9 0 261 0 19 0 1 0 9 0 16 0 9 0 8 0 6 0 2 0 1 0 1 0 2 0 2 0 2 0 1 0 1 0 3 0 3 0 2 0 1 0 1 0 1 0 1 0 2 0 1 0 3 0 2 0 1 0 1 0 1 0 2 0 1 0 1 0 1 0 1 0 2 0 1 0 1 0 1 0 1 0 2 0 1 0 1 0 1 0 1 0 2 0 1 0 1 0 1 0 1 0 2 0 1 0 1 0 1 0 3 0 1 0 1 0 1 0 2 0 15 0 7 0 5 0 1 0 3 0 1 0 1 0 1 0 2 0 1 0 1 0 1 0 1 0 2 0 1 0 2 0 1 0 2 0 2 0 2 0 2 0 1 0 1 0 2 0 2 0 1 0 1 0 1 0 2 0 3 0 3 0 2 0 1 0 1 0 3 0 1 0 1 0 1 0 2 0 1 0 3 0 9 0 2 0 1 0 5 0 21 0 2 0 3 0 4 0 6 0 14 0 17 0 228 0 27 0 12 0 3 0 2 0 2 0 4 0 13 0 2 0 6 0 2 0 3 0 1 0 2 0 1 0 1 0 4 0 2 0 1 0 1 0 2 0 1 0 1 0 1 0 3 0 3 0 1 0 2 0 1 0 3 0 3 0 1 0 1 0 2 0 1 0 1 0 2 0 2 0 1 0 2 0 1 0 2 0 1 0 2 0 1 0 2 0 1 0 1 0 1 0 1 0 2 0 1 0 2 0 1 0 2 0 1 0 1 0 1 0 4 0 1 0 14 0 2 0 1 0 3 0 2 0 2 0 3 0 2 0 2 0 2 0 2 0 1 0 1 0 2 0 1 0 1 0 1 0 1 0 2 0 1 0 1 0 1 0 1 0 2 0 1 0 1 0 1 0 1 0 2 0 1 0 1 0 1 0 3 0 1 0 1 0 1 0 3 0 1 0 1 0 1 0 2 0 2 0 1 0 3 0 2 0 1 0 1 0 2 0 1 0 1 0 1 0 1 0 2 0 2 0 1 0 9 0 7 0 5 0 6 0 20 0 8 0 284 0 9 0 6 0 3 0 2 0 5 0 3 0 4 0 1 0 2 0 2 0 5 0 2 0 1 0 2 0 2 0 1 0 1 0 2 0 1 0 1 0 1 0 1 0 3 0 1 0 1 0 3 0 1 0 1 0 1 0 3 0 1 0 1 0 1 0 2 0 1 0 1 0 1 0 1 0 2 0 1 0 1 0 1 0 1 0 2 0 1 0 1 0 1 0 1 0 2 0 1 0 3 0 2 0 2 0 2 0 7 0 7 0 8 0 7 0 1 0 2 0 1 0 2 0 2 0 2 0 2 0 3 0 1 0 1 0 1 0 2 0 1 0 1 0 1 0 1 0 2 0 1 0 1 0 1 0 1 0 2 0 1 0 1 0 1 0 1 0 2 0 1 0 1 0 1 0 2 0 1 0 1 0 1 0 1 0 2 0 2 0 1 0 1 0 2 0 1 0 2 0 1 0 2 0 2 0 1 0 1 0 2 0 1 0 1 0 1 0 1 0 2 0 1 0 1 0 1 0 8 0 6 0 1 0 5 0 1 0 2 0 3 0 25 0 5 0 6 0 242 0 4 0 14 0 4 0 5 0 5 0 5 0 4 0 1 0 1 0 2 0 3 0 2 0 6 0 4 0 2 0 1 0 2 0 1 0 2 0 4 0 1 0 1 0 2 0 1 0 1 0 1 0 1 0 3 0 2 0 1 0 2 0 1 0 2 0 1 0 2 0 1 0 1 0 1 0 1 0 2 0 1 0 1 0 1 0 1 0 2 0 1 0 1 0 1 0 2 0 1 0 1 0 1 0 1 0 2 0 1 0 1 0 1 0 1 0 2 0 1 0 1 0 1 0 1 0 2 0 1 0 1 0 2 0 2 0 1 0 3 0 2 0 2 0 1 0 2 0 1 0 1 0 1 0 11 0 3 0 2 0 1 0 2 0 3 0 1 0 6 0 2 0 3 0 1 0 1 0 1 0 3 0 2 0 1 0 2 0 1 0 1 0 1 0 1 0 3 0 1 0 1 0 1 0 2 0 1 0 1 0 1 0 2 0 1 0 2 0 1 0 3 0 1 0 1 0 1 0 3 0 1 0 1 0 1 0 2 0 2 0 1 0 3 0 2 0 1 0 1 0 2 0 2 0 5 0 5 0 1 0 1 0 1 0 2 0 1 0 1 0 1 0 5 0 13 0 7 0 2 0 17 0 251 0 12 0 4 0 1 0 4 0 2 0 4 0 2 0 6 0 6 0 4 0 3 0 3 0 1 0 3 0 2 0 3 0 2 0 1 0 1 0 4 0 2 0 1 0 1 0 3 0 1 0 1 0 3 0 1 0 2 0 1 0 3 0 1 0 1 0 1 0 2 0 1 0 1 0 1 0 1 0 2 0 1 0 1 0 1 0 2 0 2 0 1 0 1 0 2 0 1 0 1 0 1 0 1 0 2 0 2 0 2 0 2 0 1 0 2 0 3 0 2 0 2 0 3 0 4 0 1 0 2 0 11 0 1 0 4 0 3 0 1 0 2 0 3 0 2 0 1 0 3 0 3 0 1 0 1 0 1 0 2 0 1 0 1 0 1 0 1 0 2 0 1 0 1 0 1 0 1 0 2 0 1 0 1 0 1 0 1 0 2 0 2 0 1 0 2 0 1 0 1 0 1 0 1 0 2 0 1 0 1 0 1 0 1 0 2 0 1 0 1 0 1 0 1 0 2 0 1 0 1 0 1 0 1 0 3 0 1 0 1 0 1 0 2 0 3 0 1 0 3 0 1 0 1 0 2 0 1 0 1 0 2 0 4 0 2 0 8 0 1 0 5 0 7 0 1 0 5 0 6 0 8 0 9 0 242 0 1 0 22 0 2 0 2 0 5 0 1 0 10 0 2 0 4 0 2 0 2 0 2 0 1 0 1 0 3 0 1 0 3 0 1 0 1 0 4 0 1 0 1 0 1 0 1 0 2 0 1 0 1 0 1 0 1 0 3 0 1 0 2 0 2 0 1 0 3 0 2 0 1 0 1 0 1 0 1 0 2 0 1 0 1 0 1 0 2 0 1 0 2 0 3 0 1 0 1 0 1 0 1 0 3 0 1 0 1 0 3 0 3 0 3 0 2 0 1 0 1 0 3 0 2 0 2 0 23 0 4 0 3 0 2 0 2 0 3 0 1 0 1 0 1 0 4 0 1 0 5 0 2 0 2 0 1 0 1 0 1 0 1 0 2 0 1 0 1 0 1 0 2 0 1 0 1 0 1 0 1 0 2 0 1 0 1 0 1 0 3 0 2 0 1 0 1 0 3 0 1 0 2 0 2 0 1 0 1 0 1 0 1 0 2 0 1 0 2 0 1 0 8 0 1 0 1 0 4 0 1 0 8 0 5 0 10 0 5 0 7 0 7 0 262 0 6 0 4 0 5 0 5 0 1 0 12 0 4 0 6 0 3 0 1 0 2 0 1 0 1 0 1 0 2 0 1 0 2 0 1 0 2 0 1 0 1 0 1 0 1 0 2 0 2 0 1 0 1 0 2 0 1 0 1 0 1 0 3 0 2 0 1 0 1 0 2 0 1 0 1 0 2 0 2 0 1 0 1 0 1 0 2 0 1 0 1 0 1 0 1 0 2 0 1 0 1 0 1 0 1 0 2 0 2 0 2 0 6 0 3 0 1 0 1 0 1 0 2 0 6 0 5 0 13 0 14 0 1 0 3 0 1 0 2 0 2 0 1 0 2 0 1 0 2 0 2 0 1 0 1 0 2 0 1 0 1 0 1 0 1 0 2 0 1 0 1 0 1 0 2 0 1 0 1 0 1 0 1 0 2 0 1 0 1 0 1 0 1 0 3 0 1 0 1 0 1 0 2 0 1 0 2 0 1 0 2 0 2 0 1 0 1 0 2 0 1 0 1 0 4 0 3 0 5 0 1 0 4 0 1 0 1 0 3 0 2 0 1 0 8 0 3 0 1 0 2 0 1 0 18 0 2 0 3 0 11 0 220 0 7 0 37 0 4 0 11 0 1 0 2 0 2 0 2 0 4 0 4 0 3 0 1 0 3 0 1 0 1 0 1 0 1 0 3 0 1 0 1 0 1 0 3 0 1 0 1 0 1 0 2 0 1 0 1 0 1 0 3 0 1 0 1 0 1 0 1 0 2 0 1 0 1 0 1 0 1 0 2 0 3 0 2 0 1 0 1 0 2 0 2 0 2 0 1 0 1 0 2 0 1 0 1 0 1 0 7 0 4 0 1 0 4 0 11 0 10 0 13 0 2 0 2 0 2 0 1 0 3 0 2 0 1 0 1 0 1 0 1 0 2 0 2 0 1 0 4 0 1 0 1 0 1 0 2 0 1 0 1 0 1 0 2 0 1 0 1 0 1 0 1 0 3 0 1 0 1 0 1 0 2 0 1 0 1 0 1 0 1 0 3 0 1 0 1 0 1 0 3 0 1 0 2 0 2 0 2 0 1 0 1 0 2 0 2 0 1 0 2 0 1 0 1 0 1 0 1 0 2 0 2 0 4 0 6 0 2 0 1 0 5 0 1 0 5 0 1 0 10 0 4 0 9 0 184 0 50 0 10 0 10 0 6 0 4 0 5 0 1 0 1 0 1 0 3 0 4 0 3 0 1 0 1 0 1 0 2 0 1 0 1 0 1 0 1 0 2 0 2 0 1 0 3 0 1 0 1 0 1 0 1 0 2 0 1 0 1 0 1 0 2 0 1 0 1 0 1 0 1 0 2 0 1 0 1 0 1 0 1 0 2 0 1 0 1 0 1 0 1 0 2 0 1 0 1 0 1 0 1 0 2 0 1 0 1 0 1 0 1 0 2 0 1 0 1 0 1 0 1 0 2 0 1 0 1 0 1 0 2 0 1 0 1 0 1 0 1 0 2 0 1 0 2 0 1 0 2 0 1 0 1 0 1 0 1 0 3 0 1 0 2 0 2 0 1 0 2 0 1 0 2 0 5 0 1 0 1 0 1 0 33 0 4 0 3 0 2 0 3 0 3 0 1 0 2 0 1 0 1 0 1 0 1 0 2 0 1 0 1 0 1 0 2 0 1 0 1 0 1 0 1 0 2 0 1 0 1 0 1 0 1 0 2 0 2 0 1 0 1 0 2 0 1 0 1 0 1 0 1 0 2 0 1 0 1 0 2 0 2 0 2 0 1 0 1 0 2 0 1 0 1 0 1 0 2 0 1 0 1 0 1 0 1 0 3 0 1 0 6 0 5 0 1 0 5 0 16 0 1 0 7 0 11 0 6 0 205 0 17 0 2 0 13 0 6 0 6 0 3 0 8 0 6 0 1 0 1 0 3 0 2 0 1 0 5 0 2 0 4 0 2 0 2 0 1 0 2 0 1 0 2 0 1 0 1 0 1 0 2 0 1 0 1 0 1 0 1 0 2 0 1 0 1 0 1 0 1 0 2 0 1 0 1 0 1 0 1 0 2 0 1 0 1 0 1 0 1 0 2 0 2 0 2 0 2 0 1 0 2 0 1 0 2 0 2 0 1 0 2 0 1 0 1 0 1 0 1 0 4 0 1 0 1 0 8 0 6 0 1 0 1 0 9 0 2 0 7 0 14 0 9 0 4 0 2 0 1 0 1 0 3 0 3 0 2 0 1 0 1 0 1 0 4 0 2 0 3 0 1 0 1 0 1 0 2 0 1 0 1 0 1 0 1 0 2 0 2 0 1 0 1 0 2 0 1 0 1 0 1 0 1 0 2 0 1 0 1 0 1 0 3 0 1 0 1 0 1 0 1 0 2 0 1 0 1 0 2 0 2 0 1 0 1 0 1 0 2 0 1 0 1 0 1 0 5 0 1 0 1 0 5 0 1 0 2 0 1 0 2 0 4 0 1 0 1 0 4 0 7 0 1 0 4 0 7 0 16 0 225 0 11 0 8 0 1 0 5 0 4 0 1 0 2 0 2 0 3 0 3 0 1 0 1 0 5 0 2 0 1 0 4 0 1 0 1 0 3 0 1 0 6 0 1 0 3 0 2 0 1 0 2 0 1 0 2 0 1 0 2 0 1 0 1 0 1 0 1 0 2 0 1 0 1 0 1 0 1 0 2 0 1 0 1 0 1 0 1 0 2 0 1 0 1 0 1 0 1 0 2 0 1 0 1 0 1 0 1 0 2 0 1 0 1 0 1 0 3 0 1 0 1 0 1 0 2 0 1 0 8 0 3 0 1 0 11 0 3 0 4 0 26 0 2 0 4 0 3 0 2 0 1 0 2 0 3 0 1 0 4 0 1 0 3 0 4 0 2 0 1 0 1 0 1 0 2 0 1 0 1 0 2 0 2 0 1 0 1 0 2 0 2 0 1 0 2 0 1 0 2 0 1 0 1 0 1 0 1 0 2 0 1 0 1 0 2 0 2 0 1 0 1 0 2 0 2 0 1 0 2 0 2 0 2 0 2 0 2 0 1 0 3 0 3 0 3 0 2 0 1 0 5 0 1 0 3 0 3 0 6 0 1 0 9 0 14 0 206 0 21 0 10 0 7 0 10 0 2 0 18 0 2 0 6 0 2 0 2 0 3 0 3 0 2 0 2 0 1 0 1 0 2 0 1 0 1 0 3 0 1 0 1 0 1 0 1 0 2 0 1 0 1 0 2 0 2 0 1 0 1 0 1 0 1 0 2 0 1 0 1 0 1 0 1 0 2 0 1 0 1 0 2 0 2 0 1 0 1 0 1 0 1 0 2 0 1 0 1 0 1 0 2 0 2 0 4 0 1 0 5 0 2 0 1 0 3 0 3 0 3 0 36 0 6 0 2 0 5 0 6 0 5 0 1 0 2 0 2 0 2 0 1 0 1 0 2 0 1 0 2 0 2 0 1 0 1 0 1 0 1 0 3 0 1 0 1 0 1 0 2 0 1 0 1 0 1 0 1 0 2 0 1 0 1 0 2 0 2 0 1 0 1 0 1 0 1 0 2 0 2 0 1 0 3 0 1 0 1 0 1 0 2 0 1 0 1 0 1 0 3 0 4 0 2 0 1 0 1 0 1 0 1 0 4 0 2 0 2 0 1 0 6 0 1 0 5 0 10 0 1 0 3 0 4 0 8 0 4 0 224 0 15 0 2 0 2 0 1 0 6 0 3 0 6 0 8 0 3 0 2 0 1 0 3 0 1 0 1 0 2 0 2 0 2 0 1 0 1 0 2 0 1 0 1 0 2 0 2 0 1 0 1 0 1 0 2 0 1 0 1 0 1 0 1 0 2 0 1 0 1 0 1 0 1 0 2 0 4 0 2 0 1 0 1 0 1 0 1 0 2 0 1 0 1 0 1 0 1 0 2 0 1 0 1 0 1 0 1 0 2 0 2 0 1 0 3 0 1 0 1 0 3 0 1 0 2 0 1 0 3 0 1 0 4 0 1 0 1 0 7 0 34 0 8 0 3 0 1 0 1 0 1 0 2 0 1 0 2 0 1 0 2 0 1 0 3 0 2 0 1 0 1 0 1 0 1 0 2 0 1 0 1 0 1 0 2 0 2 0 1 0 1 0 2 0 1 0 1 0 1 0 1 0 2 0 1 0 1 0 1 0 1 0 2 0 1 0 1 0 1 0 1 0 2 0 1 0 2 0 1 0 2 0 1 0 1 0 1 0 1 0 2 0 1 0 1 0 1 0 2 0 1 0 1 0 1 0 1 0 2 0 1 0 1 0 1 0 3 0 1 0 1 0 2 0 4 0 2 0 2 0 1 0 1 0 2 0 2 0 1 0 1 0 4 0 1 0 1 0 3 0 2 0 1 0 1 0 3 0 1 0 2 0 2 0 4 0 9 0 214 0 23 0 3 0 3 0 2 0 4 0 7 0 3 0 4 0 2 0 3 0 4 0 1 0 1 0 1 0 3 0 1 0 1 0 1 0 2 0 1 0 1 0 1 0 1 0 2 0 1 0 1 0 1 0 3 0 1 0 1 0 1 0 2 0 1 0 1 0 1 0 1 0 2 0 1 0 1 0 1 0 1 0 3 0 1 0 1 0 3 0 1 0 1 0 1 0 1 0 2 0 1 0 1 0 2 0 2 0 1 0 2 0 1 0 3 0 1 0 1 0 2 0 1 0 2 0 1 0 2 0 2 0 1 0 4 0 1 0 6 0 1 0 1 0 53 0 2 0 4 0 2 0 1 0 1 0 1 0 5 0 1 0 1 0 2 0 2 0 3 0 2 0 1 0 1 0 3 0 1 0 1 0 1 0 2 0 1 0 1 0 1 0 1 0 2 0 1 0 1 0 1 0 1 0 2 0 1 0 1 0 1 0 3 0 1 0 2 0 1 0 2 0 1 0 4 0 1 0 1 0 1 0 1 0 2 0 1 0 1 0 1 0 1 0 5 0 4 0 1 0 2 0 2 0 9 0 5 0 4 0 5 0 8 0 10 0 3 0 16 0 212 0 15 0 3 0 2 0 1 0 1 0 9 0 5 0 1 0 4 0 2 0 7 0 1 0 2 0 1 0 1 0 1 0 1 0 2 0 1 0 2 0 1 0 2 0 1 0 1 0 1 0 2 0 1 0 1 0 2 0 2 0 1 0 1 0 1 0 1 0 2 0 1 0 2 0 1 0 2 0 1 0 1 0 1 0 3 0 1 0 1 0 1 0 1 0 2 0 1 0 1 0 1 0 3 0 5 0 3 0 4 0 3 0 4 0 2 0 10 0 4 0 1 0 29 0 12 0 1 0 5 0 2 0 3 0 3 0 4 0 2 0 3 0 1 0 1 0 1 0 2 0 1 0 1 0 1 0 3 0 1 0 1 0 1 0 4 0 1 0 1 0 1 0 2 0 1 0 1 0 1 0 1 0 2 0 1 0 1 0 4 0 1 0 1 0 1 0 1 0 2 0 1 0 1 0 1 0 2 0 1 0 1 0 2 0 2 0 2 0 1 0 1 0 2 0 2 0 1 0 3 0 1 0 1 0 2 0 2 0 4 0 2 0 1 0 5 0 5 0 6 0 2 0 5 0 5 0 10 0 11 0 196 0 3 0 13 0 12 0 14 0 2 0 3 0 4 0 1 0 1 0 2 0 2 0 2 0 4 0 1 0 1 0 2 0 1 0 2 0 1 0 3 0 1 0 1 0 1 0 2 0 1 0 1 0 1 0 1 0 2 0 1 0 2 0 2 0 1 0 1 0 1 0 3 0 1 0 1 0 1 0 1 0 2 0 1 0 1 0 1 0 1 0 2 0 1 0 1 0 1 0 1 0 4 0 1 0 1 0 2 0 1 0 1 0 2 0 2 0 2 0 1 0 2 0 1 0 1 0 1 0 1 0 2 0 6 0 12 0 15 0 41 0 4 0 1 0 1 0 1 0 4 0 1 0 5 0 4 0 1 0 1 0 1 0 2 0 1 0 1 0 1 0 1 0 2 0 1 0 1 0 1 0 1 0 2 0 1 0 1 0 2 0 2 0 1 0 1 0 1 0 3 0 1 0 1 0 1 0 1 0 2 0 1 0 1 0 1 0 2 0 1 0 1 0 1 0 1 0 2 0 1 0 1 0 1 0 1 0 2 0 1 0 1 0 5 0 1 0 1 0 4 0 1 0 2 0 2 0 3 0 4 0 28 0 1 0 211 0 3 0 14 0 16 0 5 0 1 0 2 0 3 0 2 0 3 0 1 0 2 0 3 0 1 0 1 0 3 0 1 0 2 0 3 0 1 0 2 0 1 0 2 0 1 0 2 0 1 0 2 0 1 0 1 0 1 0 1 0 2 0 1 0 1 0 1 0 2 0 1 0 1 0 1 0 1 0 2 0 1 0 1 0 2 0 2 0 1 0 1 0 1 0 3 0 1 0 1 0 1 0 1 0 2 0 1 0 1 0 1 0 7 0 3 0 1 0 3 0 1 0 2 0 1 0 4 0 1 0 4 0 6 0 55 0 5 0 1 0 1 0 2 0 1 0 3 0 6 0 5 0 2 0 1 0 2 0 5 0 2 0 2 0 1 0 2 0 1 0 2 0 1 0 1 0 1 0 1 0 2 0 1 0 1 0 1 0 1 0 2 0 1 0 1 0 1 0 1 0 2 0 1 0 2 0 2 0 1 0 1 0 1 0 1 0 2 0 1 0 1 0 1 0 1 0 3 0 1 0 1 0 1 0 2 0 1 0 1 0 4 0 1 0 1 0 1 0 1 0 3 0 3 0 2 0 1 0 1 0 1 0 2 0 2 0 1 0 1 0 2 0 3 0 16 0 228 0 2 0 4 0 2 0 1 0 1 0 1 0 1 0 4 0 1 0 1 0 2 0 2 0 2 0 3 0 1 0 4 0 1 0 2 0 2 0 1 0 1 0 1 0 1 0 2 0 1 0 2 0 1 0 2 0 1 0 1 0 1 0 1 0 2 0 1 0 1 0 1 0 1 0 2 0 1 0 1 0 1 0 1 0 2 0 1 0 1 0 1 0 2 0 1 0 1 0 1 0 1 0 2 0 1 0 1 0 1 0 1 0 2 0 1 0 1 0 1 0 1 0 2 0 1 0 1 0 1 0 1 0 2 0 1 0 1 0 1 0 1 0 2 0 1 0 1 0 1 0 1 0 3 0 1 0 1 0 3 0 1 0 2 0 2 0 4 0 2 0 3 0 1 0 2 0 12 0 36 0 7 0 7 0 5 0 5 0 1 0 1 0 3 0 3 0 4 0 1 0 1 0 2 0 2 0 1 0 1 0 3 0 1 0 1 0 1 0 2 0 1 0 1 0 1 0 1 0 2 0 1 0 1 0 1 0 1 0 2 0 1 0 1 0 1 0 1 0 2 0 1 0 1 0 1 0 2 0 1 0 1 0 1 0 1 0 2 0 1 0 1 0 1 0 3 0 1 0 1 0 1 0 1 0 2 0 1 0 1 0 1 0 5 0 1 0 3 0 3 0 1 0 2 0 2 0 1 0 3 0 1 0 2 0 3 0 18 0 1 0 27 0 179 0 1 0 13 0 15 0 1 0 11 0 3 0 8 0 2 0 1 0 1 0 2 0 1 0 1 0 2 0 4 0 1 0 3 0 1 0 1 0 1 0 1 0 2 0 1 0 1 0 1 0 1 0 3 0 1 0 1 0 1 0 2 0 1 0 1 0 1 0 2 0 1 0 1 0 1 0 1 0 2 0 2 0 1 0 1 0 2 0 2 0 1 0 1 0 2 0 2 0 1 0 3 0 2 0 2 0 3 0 2 0 1 0 2 0 1 0 1 0 1 0 2 0 1 0 2 0 3 0 2 0 1 0 17 0 1 0 51 0 6 0 8 0 3 0 1 0 1 0 1 0 2 0 1 0 1 0 1 0 3 0 1 0 1 0 2 0 2 0 1 0 1 0 1 0 4 0 1 0 1 0 1 0 2 0 2 0 1 0 1 0 2 0 1 0 1 0 1 0 1 0 2 0 1 0 2 0 2 0 1 0 2 0 1 0 2 0 1 0 1 0 2 0 2 0 1 0 1 0 1 0 3 0 4 0 2 0 1 0 1 0 1 0 4 0 1 0 5 0 1 0 1 0 2 0 2 0 1 0 4 0 8 0 1 0 8 0 8 0 12 0 11 0 7 0 177 0 5 0 13 0 4 0 3 0 3 0 4 0 4 0 1 0 3 0 2 0 1 0 2 0 2 0 1 0 3 0 1 0 1 0 1 0 1 0 3 0 5 0 1 0 1 0 1 0 1 0 3 0 1 0 1 0 1 0 3 0 1 0 1 0 1 0 2 0 2 0 1 0 2 0 1 0 1 0 1 0 1 0 2 0 1 0 1 0 1 0 3 0 2 0 1 0 1 0 2 0 2 0 4 0 1 0 3 0 2 0 1 0 3 0 2 0 5 0 13 0 58 0 13 0 5 0 2 0 2 0 2 0 5 0 2 0 1 0 1 0 3 0 3 0 4 0 1 0 3 0 2 0 1 0 3 0 1 0 1 0 1 0 1 0 2 0 1 0 1 0 1 0 1 0 2 0 1 0 1 0 1 0 2 0 1 0 2 0 1 0 2 0 1 0 1 0 1 0 3 0 1 0 1 0 1 0 1 0 2 0 1 0 1 0 1 0 1 0 2 0 2 0 1 0 4 0 3 0 5 0 2 0 2 0 5 0 6 0 2 0 1 0 5 0 14 0 198 0 5 0 1 0 1 0 4 0 1 0 4 0 2 0 7 0 1 0 4 0 1 0 3 0 1 0 7 0 2 0 5 0 2 0 1 0 6 0 1 0 1 0 1 0 3 0 1 0 1 0 1 0 4 0 1 0 1 0 2 0 1 0 1 0 1 0 3 0 1 0 1 0 4 0 1 0 2 0 2 0 1 0 1 0 1 0 3 0 1 0 1 0 1 0 3 0 1 0 2 0 1 0 3 0 1 0 1 0 4 0 1 0 4 0 3 0 1 0 2 0 3 0 3 0 1 0 71 0 7 0 6 0 1 0 9 0 2 0 2 0 1 0 2 0 5 0 1 0 3 0 1 0 1 0 2 0 2 0 2 0 1 0 1 0 2 0 1 0 2 0 1 0 2 0 1 0 1 0 1 0 1 0 2 0 2 0 1 0 2 0 1 0 1 0 1 0 1 0 2 0 1 0 1 0 1 0 1 0 2 0 1 0 1 0 1 0 1 0 2 0 1 0 2 0 3 0 1 0 1 0 1 0 1 0 2 0 2 0 1 0 1 0 2 0 1 0 5 0 1 0 4 0 9 0 3 0 2 0 6 0 1 0 18 0 6 0 182 0 5 0 3 0 8 0 7 0 5 0 7 0 1 0 1 0 1 0 2 0 1 0 1 0 2 0 2 0 1 0 1 0 3 0 1 0 1 0 1 0 3 0 2 0 1 0 1 0 2 0 1 0 1 0 1 0 1 0 3 0 1 0 1 0 1 0 2 0 1 0 1 0 2 0 2 0 1 0 1 0 2 0 2 0 1 0 1 0 1 0 3 0 1 0 4 0 1 0 1 0 1 0 1 0 2 0 1 0 2 0 3 0 3 0 1 0 2 0 2 0 4 0 4 0 2 0 8 0 5 0 12 0 2 0 52 0 1 0 2 0 6 0 4 0 2 0 2 0 4 0 2 0 3 0 1 0 1 0 2 0 3 0 1 0 2 0 2 0 1 0 1 0 2 0 2 0 1 0 2 0 1 0 2 0 1 0 2 0 1 0 2 0 1 0 1 0 1 0 1 0 2 0 1 0 1 0 1 0 2 0 1 0 1 0 1 0 1 0 2 0 1 0 1 0 1 0 1 0 2 0 1 0 1 0 1 0 1 0 2 0 1 0 1 0 1 0 1 0 2 0 1 0 1 0 1 0 1 0 2 0 1 0 1 0 1 0 1 0 3 0 1 0 1 0 2 0 2 0 1 0 1 0 2 0 1 0 1 0 4 0 1 0 6 0 1 0 2 0 4 0 1 0 3 0 12 0 5 0 12 0 169 0 14 0 10 0 5 0 7 0 1 0 4 0 1 0 4 0 1 0 1 0 1 0 3 0 1 0 1 0 4 0 2 0 2 0 1 0 1 0 2 0 2 0 1 0 1 0 1 0 3 0 1 0 1 0 1 0 1 0 2 0 1 0 1 0 1 0 1 0 2 0 1 0 1 0 1 0 1 0 2 0 1 0 1 0 1 0 2 0 1 0 1 0 1 0 5 0 1 0 1 0 2 0 4 0 3 0 2 0 1 0 2 0 1 0 6 0 5 0 2 0 1 0 2 0 1 0 7 0 1 0 6 0 62 0 7 0 12 0 1 0 3 0 6 0 2 0 1 0 1 0 3 0 1 0 1 0 1 0 3 0 1 0 2 0 2 0 1 0 2 0 1 0 2 0 1 0 1 0 2 0 2 0 1 0 2 0 2 0 2 0 1 0 3 0 1 0 2 0 1 0 2 0 1 0 1 0 1 0 1 0 2 0 1 0 2 0 4 0 2 0 3 0 1 0 2 0 1 0 2 0 1 0 1 0 1 0 2 0 1 0 1 0 2 0 3 0 1 0 1 0 5 0 7 0 9 0 5 0 7 0 7 0 166 0 15 0 16 0 4 0 6 0 2 0 3 0 1 0 1 0 1 0 1 0 2 0 1 0 1 0 1 0 5 0 1 0 1 0 3 0 1 0 3 0 1 0 1 0 1 0 1 0 2 0 1 0 1 0 2 0 2 0 1 0 1 0 1 0 1 0 2 0 1 0 1 0 1 0 3 0 1 0 2 0 1 0 2 0 1 0 1 0 1 0 1 0 2 0 1 0 1 0 1 0 2 0 1 0 1 0 1 0 1 0 2 0 1 0 1 0 1 0 1 0 3 0 1 0 1 0 3 0 1 0 5 0 3 0 7 0 4 0 4 0 15 0 3 0 78 0 11 0 1 0 3 0 1 0 1 0 1 0 1 0 2 0 1 0 1 0 1 0 1 0 2 0 1 0 1 0 2 0 2 0 2 0 1 0 1 0 2 0 1 0 1 0 1 0 2 0 2 0 2 0 2 0 1 0 1 0 1 0 1 0 3 0 1 0 1 0 1 0 3 0 1 0 1 0 1 0 4 0 2 0 2 0 1 0 1 0 1 0 3 0 1 0 1 0 1 0 2 0 2 0 1 0 4 0 1 0 1 0 5 0 6 0 4 0 1 0 1 0 1 0 5 0 4 0 1 0 4 0 154 0 33 0 13 0 4 0 2 0 8 0 1 0 3 0 4 0 2 0 3 0 1 0 2 0 2 0 1 0 1 0 2 0 3 0 2 0 3 0 1 0 1 0 1 0 2 0 1 0 2 0 3 0 1 0 2 0 1 0 2 0 1 0 1 0 1 0 1 0 2 0 1 0 1 0 2 0 2 0 1 0 1 0 1 0 1 0 2 0 1 0 1 0 1 0 2 0 1 0 2 0 3 0 3 0 1 0 2 0 2 0 1 0 3 0 1 0 1 0 5 0 2 0 6 0 1 0 16 0 75 0 1 0 1 0 12 0 4 0 4 0 2 0 1 0 1 0 2 0 1 0 1 0 1 0 3 0 1 0 7 0 5 0 1 0 1 0 3 0 1 0 1 0 1 0 2 0 1 0 1 0 1 0 4 0 1 0 2 0 2 0 1 0 2 0 1 0 2 0 1 0 1 0 1 0 1 0 2 0 1 0 1 0 2 0 2 0 1 0 1 0 1 0 1 0 3 0 1 0 1 0 2 0 2 0 1 0 6 0 3 0 1 0 5 0 1 0 3 0 3 0 1 0 11 0 7 0 1 0 3 0 8 0 48 0 99 0 33 0 4 0 7 0 5 0 4 0 6 0 5 0 1 0 1 0 2 0 2 0 1 0 2 0 1 0 2 0 2 0 1 0 3 0 1 0 1 0 1 0 2 0 1 0 1 0 1 0 1 0 3 0 1 0 1 0 1 0 2 0 1 0 1 0 1 0 1 0 2 0 2 0 1 0 1 0 2 0 1 0 1 0 1 0 1 0 2 0 2 0 1 0 2 0 1 0 1 0 1 0 3 0 1 0 3 0 2 0 2 0 5 0 2 0 3 0 6 0 7 0 7 0 86 0 11 0 3 0 1 0 9 0 5 0 1 0 1 0 2 0 2 0 3 0 1 0 2 0 2 0 1 0 3 0 1 0 1 0 1 0 2 0 1 0 1 0 1 0 1 0 2 0 1 0 1 0 1 0 1 0 2 0 1 0 1 0 1 0 1 0 2 0 1 0 1 0 1 0 1 0 2 0 1 0 1 0 1 0 1 0 2 0 1 0 1 0 1 0 1 0 2 0 1 0 1 0 1 0 2 0 2 0 1 0 6 0 3 0 1 0 1 0 1 0 3 0 1 0 2 0 3 0 2 0 5 0 4 0 2 0 2 0 18 0 14 0 140 0 21 0 4 0 2 0 2 0 6 0 4 0 5 0 1 0 3 0 2 0 2 0 2 0 2 0 2 0 1 0 1 0 3 0 2 0 1 0 2 0 1 0 1 0 1 0 2 0 1 0 1 0 1 0 1 0 2 0 1 0 1 0 1 0 1 0 2 0 1 0 1 0 1 0 1 0 2 0 1 0 1 0 1 0 1 0 2 0 1 0 1 0 1 0 1 0 2 0 1 0 1 0 1 0 1 0 2 0 1 0 1 0 1 0 2 0 2 0 1 0 1 0 2 0 1 0 1 0 1 0 1 0 2 0 1 0 1 0 4 0 1 0 1 0 1 0 3 0 1 0 5 0 1 0 8 0 10 0 78 0 14 0 1 0 6 0 3 0 2 0 1 0 1 0 5 0 2 0 1 0 4 0 2 0 2 0 1 0 1 0 1 0 4 0 1 0 4 0 2 0 1 0 2 0 1 0 1 0 1 0 3 0 1 0 1 0 2 0 2 0 1 0 1 0 1 0 1 0 2 0 1 0 2 0 1 0 2 0 1 0 3 0 2 0 1 0 1 0 1 0 2 0 1 0 1 0 1 0 1 0 2 0 1 0 1 0 4 0 1 0 2 0 5 0 2 0 2 0 1 0 1 0 19 0 6 0 11 0 153 0 7 0 1 0 3 0 13 0 6 0 5 0 1 0 4 0 7 0 1 0 6 0 2 0 2 0 3 0 1 0 3 0 1 0 1 0 2 0 1 0 2 0 1 0 2 0 1 0 1 0 1 0 1 0 2 0 2 0 1 0 1 0 2 0 1 0 1 0 1 0 1 0 2 0 1 0 2 0 1 0 2 0 1 0 1 0 1 0 1 0 2 0 2 0 1 0 3 0 1 0 4 0 1 0 3 0 2 0 3 0 4 0 3 0 3 0 2 0 3 0 9 0 9 0 2 0 83 0 3 0 15 0 2 0 4 0 2 0 2 0 1 0 10 0 1 0 1 0 4 0 1 0 3 0 1 0 2 0 1 0 2 0 1 0 1 0 1 0 1 0 2 0 1 0 1 0 1 0 1 0 2 0 1 0 1 0 2 0 2 0 1 0 1 0 1 0 1 0 3 0 3 0 2 0 2 0 1 0 2 0 1 0 2 0 3 0 2 0 1 0 1 0 4 0 1 0 9 0 4 0 4 0 3 0 1 0 3 0 3 0 12 0 12 0 145 0 11 0 4 0 8 0 6 0 1 0 3 0 23 0 3 0 3 0 1 0 1 0 1 0 1 0 2 0 1 0 1 0 1 0 2 0 1 0 1 0 1 0 3 0 2 0 1 0 1 0 2 0 1 0 1 0 1 0 1 0 2 0 1 0 1 0 1 0 3 0 1 0 1 0 1 0 1 0 3 0 5 0 5 0 3 0 1 0 3 0 3 0 2 0 4 0 4 0 1 0 3 0 13 0 1 0 1 0 104 0 7 0 3 0 6 0 3 0 1 0 2 0 4 0 2 0 4 0 2 0 1 0 2 0 2 0 2 0 1 0 4 0 1 0 1 0 1 0 2 0 1 0 1 0 1 0 1 0 2 0 1 0 1 0 1 0 3 0 1 0 1 0 2 0 2 0 1 0 1 0 1 0 1 0 2 0 1 0 1 0 1 0 2 0 1 0 1 0 1 0 1 0 2 0 1 0 1 0 1 0 1 0 3 0 1 0 1 0 1 0 2 0 2 0 4 0 3 0 3 0 5 0 6 0 1 0 1 0 186 0 5 0 6 0 7 0 6 0 6 0 4 0 1 0 1 0 2 0 1 0 2 0 1 0 2 0 1 0 1 0 2 0 4 0 1 0 2 0 1 0 1 0 1 0 1 0 3 0 2 0 1 0 2 0 1 0 1 0 1 0 1 0 2 0 1 0 1 0 1 0 1 0 2 0 1 0 1 0 1 0 1 0 3 0 1 0 1 0 1 0 2 0 1 0 2 0 5 0 1 0 3 0 2 0 7 0 5 0 4 0 2 0 116 0 5 0 2 0 7 0 3 0 2 0 1 0 4 0 1 0 4 0 1 0 5 0 4 0 2 0 1 0 3 0 1 0 1 0 1 0 1 0 3 0 2 0 1 0 2 0 1 0 1 0 1 0 1 0 2 0 1 0 5 0 1 0 2 0 1 0 2 0 2 0 1 0 2 0 1 0 1 0 2 0 2 0 2 0 2 0 3 0 2 0 5 0 2 0 3 0 3 0 15 0 2 0 3 0 3 0 155 0 3 0 1 0 7 0 11 0 1 0 1 0 9 0 1 0 7 0 15 0 5 0 1 0 1 0 1 0 1 0 2 0 1 0 1 0 1 0 1 0 2 0 1 0 1 0 1 0 2 0 1 0 1 0 1 0 1 0 2 0 2 0 1 0 3 0 1 0 1 0 1 0 1 0 2 0 1 0 1 0 2 0 2 0 1 0 1 0 4 0 1 0 2 0 1 0 2 0 1 0 1 0 1 0 2 0 1 0 7 0 2 0 4 0 6 0 5 0 5 0 8 0 22 0 70 0 13 0 8 0 4 0 5 0 2 0 1 0 2 0 2 0 1 0 1 0 2 0 1 0 2 0 4 0 1 0 1 0 2 0 1 0 1 0 1 0 3 0 2 0 1 0 1 0 2 0 1 0 1 0 2 0 2 0 1 0 2 0 1 0 2 0 1 0 1 0 1 0 3 0 1 0 1 0 1 0 1 0 2 0 1 0 1 0 1 0 2 0 2 0 1 0 1 0 2 0 1 0 1 0 1 0 1 0 2 0 2 0 1 0 3 0 2 0 1 0 1 0 4 0 5 0 1 0 4 0 2 0 3 0 3 0 9 0 14 0 2 0 3 0 13 0 115 0 27 0 5 0 1 0 9 0 3 0 1 0 1 0 2 0 1 0 1 0 1 0 1 0 2 0 1 0 1 0 2 0 3 0 2 0 1 0 4 0 1 0 1 0 2 0 1 0 1 0 1 0 1 0 3 0 1 0 1 0 2 0 1 0 1 0 1 0 1 0 2 0 1 0 1 0 2 0 2 0 1 0 1 0 1 0 4 0 1 0 2 0 3 0 2 0 3 0 1 0 1 0 2 0 3 0 1 0 9 0 3 0 6 0 5 0 6 0 4 0 94 0 21 0 6 0 16 0 2 0 3 0 3 0 2 0 1 0 5 0 3 0 2 0 1 0 1 0 4 0 1 0 1 0 1 0 1 0 2 0 1 0 3 0 3 0 1 0 1 0 1 0 2 0 1 0 1 0 1 0 1 0 2 0 2 0 4 0 1 0 1 0 4 0 1 0 1 0 1 0 2 0 3 0 1 0 2 0 2 0 2 0 2 0 2 0 4 0 3 0 5 0 1 0 3 0 5 0 24 0 137 0 7 0 1 0 10 0 8 0 8 0 8 0 2 0 1 0 3 0 1 0 5 0 3 0 2 0 2 0 1 0 1 0 3 0 2 0 1 0 2 0 1 0 1 0 1 0 2 0 2 0 1 0 1 0 2 0 2 0 1 0 1 0 2 0 1 0 2 0 1 0 2 0 1 0 1 0 2 0 2 0 3 0 1 0 2 0 2 0 4 0 3 0 4 0 5 0 9 0 3 0 2 0 13 0 135 0 3 0 2 0 1 0 2 0 2 0 4 0 2 0 1 0 5 0 3 0 1 0 2 0 1 0 2 0 1 0 1 0 1 0 1 0 2 0 1 0 1 0 1 0 3 0 1 0 1 0 4 0 1 0 1 0 1 0 3 0 1 0 1 0 1 0 2 0 1 0 2 0 1 0 2 0 1 0 1 0 2 0 2 0 1 0 2 0 3 0 2 0 4 0 5 0 3 0 12 0 11 0 131 0 26 0 5 0 3 0 2 0 4 0 1 0 2 0 4 0 1 0 2 0 2 0 3 0 6 0 2 0 2 0 1 0 4 0 1 0 1 0 4 0 1 0 1 0 1 0 2 0 3 0 3 0 1 0 2 0 2 0 1 0 1 0 1 0 1 0 2 0 1 0 2 0 4 0 1 0 2 0 2 0 2 0 2 0 6 0 3 0 6 0 1 0 1 0 2 0 2 0 1 0 3 0 2 0 2 0 3 0 2 0 133 0 8 0 3 0 3 0 3 0 1 0 5 0 2 0 1 0 1 0 2 0 1 0 1 0 1 0 5 0 3 0 2 0 1 0 1 0 2 0 1 0 5 0 1 0 1 0 1 0 4 0 2 0 1 0 3 0 1 0 1 0 3 0 1 0 1 0 4 0 1 0 1 0 3 0 1 0 3 0 2 0 1 0 1 0 1 0 1 0 2 0 1 0 1 0 1 0 5 0 1 0 1 0 2 0 5 0 2 0 1 0 6 0 24 0 27 0 3 0 122 0 3 0 4 0 14 0 5 0 1 0 3 0 1 0 2 0 2 0 2 0 2 0 2 0 1 0 1 0 1 0 1 0 2 0 3 0 1 0 2 0 1 0 1 0 1 0 1 0 2 0 1 0 2 0 2 0 1 0 2 0 1 0 2 0 1 0 1 0 2 0 5 0 1 0 2 0 1 0 1 0 1 0 3 0 3 0 1 0 3 0 1 0 1 0 8 0 1 0 5 0 3 0 1 0 2 0 12 0 115 0 18 0 4 0 2 0 2 0 2 0 1 0 10 0 5 0 3 0 4 0 4 0 3 0 1 0 2 0 2 0 1 0 1 0 3 0 1 0 1 0 1 0 2 0 1 0 1 0 1 0 1 0 2 0 2 0 1 0 2 0 1 0 2 0 1 0 3 0 2 0 1 0 3 0 2 0 1 0 3 0 3 0 2 0 9 0 3 0 9 0 4 0 6 0 12 0 19 0 105 0 19 0 1 0 6 0 4 0 5 0 4 0 3 0 2 0 4 0 1 0 1 0 1 0 2 0 5 0 1 0 1 0 1 0 1 0 2 0 1 0 1 0 1 0 1 0 3 0 1 0 1 0 1 0 2 0 1 0 1 0 1 0 1 0 2 0 1 0 1 0 1 0 1 0 2 0 1 0 1 0 1 0 2 0 1 0 1 0 1 0 1 0 2 0 2 0 1 0 1 0 2 0 1 0 1 0 2 0 2 0 1 0 1 0 2 0 4 0 1 0 1 0 2 0 4 0 2 0 1 0 1 0 1 0 4 0 1 0 3 0 2 0 4 0 1 0 1 0 8 0 3 0 100 0 11 0 5 0 7 0 2 0 4 0 15 0 2 0 6 0 8 0 5 0 4 0 1 0 1 0 2 0 2 0 3 0 1 0 2 0 1 0 1 0 1 0 1 0 3 0 1 0 1 0 3 0 1 0 1 0 1 0 2 0 1 0 1 0 1 0 3 0 1 0 2 0 1 0 2 0 1 0 1 0 1 0 1 0 2 0 1 0 3 0 2 0 1 0 1 0 2 0 3 0 2 0 3 0 3 0 2 0 4 0 11 0 135 0 36 0 6 0 6 0 2 0 4 0 1 0 1 0 2 0 1 0 1 0 1 0 4 0 1 0 2 0 3 0 1 0 2 0 2 0 1 0 1 0 4 0 1 0 1 0 2 0 2 0 1 0 2 0 2 0 2 0 1 0 4 0 1 0 1 0 5 0 4 0 1 0 2 0 3 0 1 0 3 0 2 0 2 0 6 0 1 0 10 0 8 0 6 0 9 0 131 0 1 0 16 0 3 0 6 0 3 0 5 0 1 0 1 0 3 0 2 0 5 0 1 0 1 0 3 0 1 0 4 0 1 0 1 0 3 0 1 0 3 0 2 0 2 0 1 0 3 0 3 0 1 0 3 0 2 0 1 0 2 0 1 0 1 0 2 0 3 0 1 0 1 0 3 0 6 0 2 0 1 0 2 0 1 0 14 0 11 0 18 0 130 0 1 0 20 0 3 0 2 0 3 0 1 0 2 0 3 0 1 0 2 0 3 0 1 0 1 0 1 0 2 0 2 0 1 0 3 0 2 0 1 0 1 0 2 0 1 0 1 0 1 0 3 0 1 0 2 0 2 0 1 0 1 0 2 0 2 0 2 0 1 0 1 0 2 0 2 0 2 0 8 0 1 0 1 0 1 0 4 0 1 0 6 0 10 0 13 0 115 0 12 0 3 0 15 0 8 0 4 0 1 0 1 0 1 0 2 0 2 0 1 0 3 0 1 0 1 0 1 0 1 0 2 0 1 0 5 0 1 0 2 0 1 0 3 0 1 0 2 0 4 0 1 0 4 0 2 0 3 0 1 0 1 0 1 0 2 0 1 0 1 0 1 0 1 0 2 0 1 0 2 0 5 0 2 0 5 0 2 0 7 0 2 0 9 0 1 0 7 0 4 0 12 0 2 0 124 0 1 0 18 0 14 0 2 0 1 0 2 0 1 0 5 0 2 0 1 0 2 0 1 0 2 0 3 0 1 0 3 0 2 0 1 0 2 0 1 0 1 0 1 0 1 0 3 0 2 0 1 0 3 0 1 0 1 0 3 0 1 0 1 0 1 0 4 0 6 0 4 0 9 0 4 0 1 0 5 0 12 0 2 0 10 0 137 0 9 0 17 0 1 0 6 0 2 0 2 0 1 0 3 0 3 0 6 0 1 0 1 0 1 0 3 0 2 0 1 0 4 0 1 0 2 0 1 0 1 0 1 0 3 0 1 0 1 0 5 0 1 0 1 0 1 0 2 0 7 0 1 0 4 0 5 0 1 0 1 0 1 0 3 0 1 0 3 0 3 0 5 0 3 0 145 0 4 0 6 0 3 0 4 0 2 0 1 0 6 0 7 0 1 0 3 0 4 0 2 0 1 0 2 0 2 0 2 0 1 0 1 0 3 0 1 0 1 0 1 0 2 0 2 0 1 0 1 0 2 0 2 0 1 0 1 0 2 0 1 0 1 0 1 0 1 0 2 0 1 0 2 0 2 0 1 0 3 0 2 0 1 0 1 0 1 0 4 0 6 0 2 0 1 0 2 0 4 0 15 0 7 0 138 0 13 0 2 0 9 0 1 0 6 0 5 0 2 0 4 0 3 0 3 0 2 0 1 0 3 0 2 0 1 0 2 0 2 0 1 0 1 0 2 0 2 0 1 0 3 0 1 0 1 0 1 0 2 0 1 0 2 0 1 0 3 0 1 0 1 0 1 0 2 0 1 0 1 0 1 0 3 0 2 0 1 0 1 0 2 0 1 0 1 0 1 0 1 0 2 0 1 0 1 0 1 0 2 0 2 0 2 0 2 0 1 0 2 0 1 0 2 0 1 0 1 0 1 0 3 0 1 0 5 0 1 0 1 0 2 0 2 0 6 0 93 0 29 0 19 0 2 0 2 0 2 0 5 0 1 0 3 0 3 0 8 0 3 0 1 0 2 0 1 0 1 0 1 0 3 0 1 0 2 0 3 0 1 0 1 0 1 0 2 0 1 0 1 0 1 0 3 0 1 0 5 0 3 0 1 0 4 0 1 0 2 0 1 0 3 0 3 0 1 0 1 0 6 0 4 0 1 0 1 0 1 0 2 0 3 0 4 0 6 0 4 0 9 0 156 0 3 0 5 0 7 0 11 0 1 0 4 0 1 0 1 0 5 0 1 0 2 0 3 0 4 0 1 0 6 0 1 0 2 0 7 0 1 0 1 0 1 0 2 0 6 0 2 0 8 0 2 0 5 0 1 0 1 0 1 0 1 0 4 0 6 0 1 0 16 0 2 0 6 0 2 0 1 0 1 0 1 0 3 0 113 0 4 0 5 0 8 0 4 0 4 0 1 0 8 0 5 0 1 0 1 0 4 0 1 0 1 0 2 0 3 0 2 0 1 0 1 0 2 0 2 0 1 0 1 0 1 0 3 0 1 0 1 0 1 0 1 0 3 0 1 0 2 0 2 0 1 0 1 0 4 0 2 0 1 0 3 0 2 0 1 0 3 0 3 0 5 0 1 0 3 0 1 0 2 0 8 0 1 0 1 0 6 0 21 0 135 0 21 0 17 0 1 0 2 0 4 0 3 0 1 0 8 0 4 0 5 0 1 0 3 0 1 0 3 0 3 0 3 0 2 0 2 0 1 0 1 0 3 0 3 0 2 0 1 0 1 0 1 0 3 0 1 0 1 0 3 0 4 0 4 0 5 0 1 0 4 0 1 0 5 0 2 0 2 0 2 0 2 0 2 0 10 0 11 0 1 0 106 0 2 0 5 0 1 0 4 0 1 0 4 0 2 0 2 0 3 0 2 0 3 0 2 0 4 0 3 0 1 0 4 0 1 0 1 0 2 0 5 0 2 0 2 0 2 0 1 0 1 0 1 0 3 0 2 0 2 0 2 0 3 0 1 0 2 0 1 0 7 0 3 0 4 0 2 0 3 0 1 0 3 0 11 0 1 0 6 0 10 0 3 0 7 0 172 0 14 0 2 0 4 0 11 0 2 0 1 0 3 0 1 0 1 0 2 0 2 0 2 0 5 0 4 0 1 0 2 0 3 0 1 0 1 0 1 0 2 0 1 0 1 0 1 0 3 0 2 0 1 0 2 0 1 0 1 0 1 0 3 0 1 0 1 0 1 0 1 0 14 0 12 0 121 0 3 0 4 0 4 0 1 0 1 0 11 0 7 0 10 0 1 0 2 0 2 0 1 0 3 0 3 0 1 0 1 0 3 0 1 0 1 0 1 0 4 0 1 0 1 0 2 0 2 0 1 0 1 0 8 0 1 0 1 0 1 0 1 0 4 0 5 0 1 0 7 0 3 0 8 0 1 0 5 0 5 0 1 0 9 0 2 0 1 0 43 0 73 0 59 0 9 0 3 0 7 0 5 0 1 0 3 0 2 0 3 0 2 0 10 0 1 0 4 0 1 0 3 0 2 0 3 0 3 0 1 0 2 0 1 0 2 0 2 0 2 0 3 0 1 0 1 0 2 0 1 0 2 0 1 0 2 0 2 0 2 0 2 0 1 0 3 0 2 0 1 0 1 0 124 0 20 0 2 0 2 0 3 0 3 0 2 0 3 0 6 0 1 0 1 0 1 0 1 0 2 0 3 0 1 0 5 0 1 0 3 0 1 0 1 0 3 0 1 0 1 0 1 0 2 0 2 0 1 0 1 0 2 0 3 0 3 0 1 0 2 0 1 0 5 0 1 0 2 0 2 0 1 0 4 0 1 0 1 0 6 0 5 0 7 0 21 0 178 0 1 0 4 0 10 0 2 0 4 0 2 0 4 0 6 0 3 0 3 0 1 0 4 0 1 0 1 0 1 0 3 0 3 0 2 0 1 0 3 0 4 0 1 0 3 0 1 0 2 0 1 0 2 0 1 0 1 0 1 0 3 0 1 0 2 0 2 0 1 0 1 0 1 0 1 0 4 0 1 0 1 0 2 0 1 0 1 0 2 0 2 0 1 0 2 0 1 0 2 0 1 0 1 0 1 0 3 0 2 0 2 0 4 0 6 0 4 0 6 0 96 0 8 0 6 0 4 0 5 0 4 0 2 0 4 0 3 0 2 0 3 0 1 0 1 0 1 0 1 0 3 0 2 0 3 0 1 0 2 0 3 0 1 0 1 0 1 0 3 0 1 0 1 0 3 0 2 0 1 0 1 0 2 0 1 0 1 0 5 0 1 0 5 0 1 0 1 0 6 0 2 0 4 0 8 0 3 0 12 0 24 0 163 0 17 0 1 0 17 0 2 0 3 0 1 0 6 0 1 0 6 0 3 0 3 0 2 0 1 0 3 0 3 0 1 0 6 0 1 0 1 0 2 0 1 0 1 0 1 0 2 0 3 0 3 0 1 0 1 0 2 0 3 0 5 0 1 0 1 0 4 0 1 0 9 0 2 0 11 0 106 0 4 0 8 0 3 0 2 0 1 0 4 0 2 0 6 0 2 0 1 0 2 0 3 0 1 0 1 0 1 0 1 0 2 0 1 0 1 0 1 0 3 0 2 0 4 0 2 0 1 0 2 0 1 0 3 0 2 0 2 0 1 0 9 0 2 0 10 0 13 0 5 0 6 0 8 0 10 0 194 0 2 0 9 0 3 0 8 0 2 0 15 0 1 0 5 0 1 0 1 0 2 0 2 0 1 0 2 0 1 0 2 0 2 0 1 0 1 0 5 0 3 0 6 0 2 0 1 0 3 0 2 0 3 0 1 0 3 0 4 0 1 0 6 0 4 0 8 0 4 0 2 0 102 0 3 0 4 0 8 0 2 0 1 0 3 0 1 0 2 0 8 0 3 0 1 0 3 0 1 0 1 0 1 0 2 0 1 0 1 0 2 0 3 0 2 0 1 0 2 0 5 0 1 0 1 0 1 0 1 0 2 0 1 0 8 0 3 0 7 0 1 0 1 0 1 0 2 0 6 0 12 0 7 0 189 0 28 0 7 0 4 0 7 0 5 0 1 0 7 0 3 0 3 0 3 0 1 0 4 0 1 0 1 0 4 0 1 0 6 0 1 0 3 0 2 0 1 0 1 0 2 0 4 0 3 0 1 0 1 0 1 0 2 0 1 0 2 0 1 0 2 0 2 0 1 0 3 0 6 0 3 0 4 0 17 0 1 0 92 0 13 0 3 0 1 0 5 0 1 0 1 0 4 0 2 0 2 0 1 0 1 0 1 0 1 0 2 0 1 0 3 0 2 0 3 0 1 0 2 0 3 0 1 0 2 0 1 0 1 0 1 0 3 0 6 0 1 0 1 0 1 0 3 0 13 0 7 0 20 0 3 0 218 0 8 0 3 0 4 0 5 0 2 0 3 0 12 0 1 0 6 0 2 0 1 0 2 0 1 0 2 0 1 0 3 0 1 0 1 0 6 0 5 0 5 0 1 0 1 0 3 0 2 0 1 0 3 0 7 0 10 0 1 0 2 0 2 0 1 0 2 0 9 0 88 0 3 0 3 0 4 0 1 0 4 0 2 0 2 0 3 0 1 0 1 0 3 0 1 0 1 0 1 0 2 0 2 0 1 0 1 0 2 0 6 0 1 0 2 0 1 0 2 0 1 0 1 0 1 0 1 0 2 0 1 0 1 0 2 0 2 0 1 0 1 0 1 0 2 0 1 0 1 0 1 0 1 0 2 0 1 0 2 0 4 0 2 0 3 0 4 0 3 0 5 0 1 0 1 0 1 0 4 0 5 0 1 0 4 0 7 0 5 0 194 0 9 0 6 0 8 0 4 0 4 0 8 0 9 0 5 0 7 0 5 0 1 0 2 0 2 0 2 0 1 0 1 0 3 0 1 0 4 0 3 0 2 0 4 0 3 0 1 0 1 0 1 0 2 0 2 0 2 0 3 0 1 0 1 0 7 0 2 0 1 0 2 0 2 0 7 0 1 0 6 0 114 0 7 0 1 0 3 0 1 0 1 0 1 0 3 0 1 0 1 0 1 0 2 0 1 0 2 0 1 0 2 0 1 0 2 0 4 0 1 0 2 0 2 0 1 0 1 0 1 0 3 0 3 0 2 0 1 0 2 0 1 0 5 0 1 0 3 0 5 0 13 0 10 0 12 0 206 0 19 0 4 0 11 0 6 0 4 0 15 0 2 0 1 0 4 0 1 0 3 0 2 0 3 0 1 0 1 0 1 0 3 0 2 0 4 0 2 0 1 0 3 0 2 0 1 0 1 0 2 0 2 0 1 0 3 0 1 0 5 0 7 0 5 0 99 0 5 0 1 0 1 0 3 0 1 0 1 0 5 0 5 0 2 0 2 0 3 0 1 0 2 0 3 0 3 0 1 0 1 0 1 0 3 0 2 0 2 0 2 0 1 0 1 0 5 0 1 0 3 0 1 0 1 0 1 0 1 0 8 0 1 0 1 0 10 0 1 0 10 0 6 0 2 0 227 0 15 0 9 0 6 0 6 0 6 0 2 0 10 0 5 0 3 0 3 0 1 0 2 0 2 0 1 0 5 0 1 0 7 0 5 0 1 0 1 0 3 0 1 0 6 0 1 0 1 0 2 0 3 0 19 0 3 0 91 0 5 0 1 0 5 0 2 0 1 0 3 0 1 0 1 0 1 0 2 0 3 0 1 0 2 0 2 0 4 0 1 0 2 0 1 0 2 0 1 0 3 0 3 0 5 0 3 0 5 0 1 0 3 0 3 0 5 0 1 0 17 0 2 0 278 0 4 0 3 0 1 0 2 0 3 0 8 0 1 0 3 0 2 0 3 0 3 0 3 0 3 0 1 0 5 0 1 0 2 0 4 0 1 0 1 0 4 0 1 0 1 0 5 0 1 0 2 0 107 0 8 0 3 0 3 0 2 0 4 0 1 0 1 0 5 0 1 0 3 0 1 0 1 0 2 0 2 0 1 0 2 0 1 0 2 0 1 0 2 0 3 0 1 0 2 0 5 0 3 0 6 0 3 0 18 0 1 0 11 0 220 0 30 0 1 0 13 0 3 0 5 0 1 0 1 0 6 0 1 0 6 0 1 0 2 0 2 0 1 0 2 0 1 0 1 0 1 0 1 0 2 0 2 0 1 0 1 0 2 0 1 0 2 0 1 0 2 0 2 0 2 0 2 0 1 0 1 0 1 0 1 0 2 0 3 0 1 0 2 0 1 0 2 0 2 0 1 0 1 0 2 0 3 0 1 0 1 0 3 0 83 0 11 0 13 0 2 0 2 0 1 0 1 0 7 0 1 0 1 0 1 0 1 0 2 0 1 0 1 0 1 0 3 0 1 0 3 0 2 0 3 0 1 0 2 0 2 0 1 0 6 0 10 0 1 0 3 0 10 0 4 0 2 0 290 0 6 0 8 0 5 0 1 0 3 0 2 0 5 0 1 0 1 0 3 0 3 0 2 0 1 0 1 0 2 0 4 0 1 0 1 0 2 0 1 0 1 0 5 0 1 0 1 0 2 0 3 0 1 0 5 0 7 0 93 0 3 0 1 0 5 0 1 0 2 0 1 0 3 0 4 0 4 0 1 0 2 0 2 0 2 0 4 0 2 0 1 0 1 0 9 0 2 0 7 0 10 0 1 0 5 0 4 0 1 0 1 0 3 0 1 0 287 0 9 0 2 0 8 0 1 0 4 0 1 0 4 0 5 0 2 0 1 0 1 0 4 0 1 0 1 0 4 0 2 0 2 0 1 0 1 0 1 0 1 0 5 0 3 0 1 0 1 0 1 0 3 0 5 0 6 0 2 0 2 0 3 0 3 0 95 0 2 0 2 0 4 0 3 0 1 0 1 0 2 0 4 0 2 0 2 0 1 0 4 0 3 0 2 0 1 0 3 0 4 0 15 0 8 0 60 0 238 0 1 0 13 0 1 0 2 0 2 0 12 0 4 0 1 0 2 0 6 0 5 0 1 0 2 0 1 0 1 0 1 0 1 0 2 0 1 0 2 0 1 0 5 0 2 0 3 0 3 0 8 0 5 0 2 0 68 0 28 0 1 0 3 0 2 0 4 0 1 0 2 0 2 0 3 0 3 0 1 0 3 0 2 0 3 0 3 0 2 0 1 0 1 0 3 0 2 0 1 0 8 0 8 0 1 0 2 0 3 0 24 0 70 0 163 0 25 0 4 0 14 0 9 0 6 0 11 0 3 0 2 0 3 0 4 0 1 0 7 0 1 0 2 0 1 0 2 0 1 0 2 0 2 0 1 0 1 0 3 0 1 0 3 0 1 0 1 0 4 0 1 0 2 0 1 0 2 0 9 0 7 0 71 0 6 0 4 0 2 0 1 0 1 0 2 0 1 0 1 0 1 0 1 0 2 0 1 0 1 0 1 0 1 0 2 0 1 0 1 0 1 0 2 0 2 0 1 0 1 0 2 0 1 0 2 0 1 0 2 0 1 0 2 0 1 0 2 0 1 0 2 0 3 0 2 0 1 0 1 0 2 0 4 0 5 0 5 0 16 0 19 0 248 0 22 0 24 0 9 0 3 0 2 0 2 0 1 0 1 0 2 0 3 0 1 0 3 0 1 0 1 0 1 0 2 0 1 0 1 0 1 0 1 0 3 0 1 0 1 0 6 0 3 0 1 0 2 0 3 0 1 0 1 0 3 0 3 0 6 0 9 0 61 0 3 0 5 0 5 0 3 0 2 0 3 0 1 0 5 0 1 0 2 0 1 0 5 0 1 0 1 0 4 0 2 0 1 0 3 0 5 0 6 0 1 0 5 0 3 0 10 0 2 0 8 0 6 0 300 0 13 0 10 0 7 0 2 0 2 0 1 0 2 0 3 0 1 0 1 0 6 0 1 0 1 0 2 0 1 0 4 0 1 0 1 0 2 0 3 0 1 0 1 0 3 0 1 0 1 0 1 0 1 0 72 0 7 0 4 0 6 0 7 0 3 0 1 0 1 0 2 0 2 0 1 0 3 0 5 0 2 0 1 0 1 0 5 0 2 0 1 0 2 0 2 0 1 0 3 0 1 0 7 0 2 0 11 0 10 0 335 0 3 0 1 0 1 0 1 0 1 0 3 0 1 0 1 0 1 0 2 0 1 0 1 0 1 0 4 0 2 0 1 0 2 0 1 0 1 0 3 0 2 0 1 0 1 0 4 0 2 0 2 0 3 0 3 0 6 0 1 0 1 0 13 0 61 0 6 0 3 0 2 0 2 0 5 0 4 0 5 0 1 0 1 0 1 0 2 0 1 0 6 0 2 0 1 0 2 0 4 0 2 0 1 0 5 0 2 0 4 0 1 0 1 0 2 0 19 0 8 0 289 0 29 0 3 0 6 0 1 0 8 0 2 0 2 0 2 0 3 0 2 0 4 0 1 0 3 0 2 0 2 0 2 0 1 0 3 0 2 0 3 0 1 0 9 0 2 0 71 0 2 0 1 0 4 0 6 0 2 0 3 0 2 0 1 0 2 0 1 0 2 0 3 0 1 0 1 0 1 0 2 0 1 0 5 0 1 0 3 0 2 0 1 0 14 0 20 0 6 0 311 0 4 0 7 0 3 0 11 0 1 0 4 0 1 0 4 0 1 0 1 0 1 0 1 0 2 0 1 0 1 0 1 0 3 0 1 0 1 0 1 0 2 0 1 0 1 0 1 0 3 0 1 0 1 0 1 0 1 0 4 0 1 0 3 0 1 0 5 0 3 0 5 0 60 0 2 0 7 0 5 0 1 0 4 0 2 0 2 0 1 0 1 0 1 0 3 0 4 0 4 0 9 0 2 0 1 0 4 0 3 0 6 0 6 0 14 0 328 0 8 0 1 0 21 0 3 0 2 0 2 0 2 0 2 0 1 0 2 0 8 0 1 0 5 0 3 0 11 0 1 0 71 0 9 0 4 0 1 0 3 0 1 0 5 0 2 0 7 0 11 0 4 0 1 0 6 0 16 0 332 0 13 0 10 0 23 0 2 0 2 0 1 0 5 0 5 0 1 0 11 0 1 0 69 0 10 0 8 0 3 0 1 0 10 0 3 0 4 0 2 0 17 0 11 0 2 0 344 0 1 0 16 0 8 0 2 0 2 0 7 0 4 0 2 0 2 0 1 0 2 0 6 0 6 0 5 0 69 0 9 0 2 0 3 0 1 0 1 0 2 0 2 0 2 0 2 0 3 0 7 0 10 0 384 0 10 0 1 0 6 0 1 0 8 0 7 0 4 0 8 0 1 0 5 0 68 0 6 0 3 0 4 0 2 0 4 0 6 0 4 0 1 0 1 0 2 0 3 0 4 0 4 0 6 0 1 0 2 0 341 0 51 0 13 0 12 0 6 0 2 0 3 0 65 0 1 0 5 0 1 0 2 0 6 0 3 0 2 0 1 0 4 0 1 0 10 0 5 0 17 0 9 0 346 0 9 0 7 0 1 0 11 0 11 0 14 0 4 0 7 0 1 0 10 0 56 0 2 0 8 0 5 0 6 0 4 0 6 0 6 0 10 0 435 0 6 0 4 0 60 0 2 0 1 0 4 0 6 0 5 0 2 0 6 0 6 0 20 0 115 0 260 0 49 0 10 0 2 0 1 0 3 0 54 0 2 0 1 0 4 0 1 0 6 0 459 0 4 0 6 0 3 0 5 0 2 0 53 0 9 0 477 0 10 0 2 0 4 0 44 0 1 0 14 0 478 0 55 0 9999999" stroke-dashoffset="-10175"/></g>
<g font-size="9.6" fill="#2b2b2b" transform="rotate(0.03 358.6 65.6)"><text x="281.70" y="135.50" text-anchor="middle">0</text><text x="278.30" y="127.07" text-anchor="end">0</text><text x="305.83" y="135.50" text-anchor="middle">40</text><text x="278.30" y="109.04" text-anchor="end">40</text><text x="329.95" y="135.50" text-anchor="middle">80</text><text x="278.30" y="91.02" text-anchor="end">80</text><text x="354.08" y="135.50" text-anchor="middle">120</text><text x="278.30" y="73.00" text-anchor="end">120</text><text x="378.20" y="135.50" text-anchor="middle">160</text><text x="278.30" y="54.97" text-anchor="end">160</text><text x="402.33" y="135.50" text-anchor="middle">200</text><text x="278.30" y="36.95" text-anchor="end">200</text><text x="426.45" y="135.50" text-anchor="middle">240</text><text x="278.30" y="18.93" text-anchor="end">240</text></g>
<text x="358.60" y="147.00" font-size="9.3" fill="#2b2b2b" text-anchor="middle" transform="rotate(0.03 358.6 147.0)" textLength="126.1" lengthAdjust="spacingAndGlyphs">Pixel gray value on location(x,y)</text>
<text transform="translate(260.40,144.50) rotate(-90)" font-size="9.22" fill="#2b2b2b" textLength="141.50" lengthAdjust="spacingAndGlyphs">Pixel gray value on location(x,y + 1)</text>
<!-- plot c -->
<path d="M527.50 9.80V124.30H684.30M527.50 124.30v-1.6M527.50 124.30h1.6M552.10 124.30v-1.6M527.50 106.34h1.6M576.69 124.30v-1.6M527.50 88.38h1.6M601.29 124.30v-1.6M527.50 70.42h1.6M625.88 124.30v-1.6M527.50 52.46h1.6M650.48 124.30v-1.6M527.50 34.50h1.6M675.08 124.30v-1.6M527.50 16.54h1.6" fill="none" stroke="#6e6e6e" stroke-width="0.8"/>
<g transform="translate(523,5) scale(0.5)"><path d="M0 0H273V1H0V2H273V3H0V4H273V5H0V6H273V7H0V8H273V9H0V10H273V11H0V12H273V13H0V14H273V15H0V16H273V17H0V18H273V19H0V20H273V21H0V22H273V23H0V24H273V25H0V26H273V27H0V28H273V29H0V30H273V31H0V32H273V33H0V34H273V35H0V36H273V37H0V38H273V39H0V40H273V41H0V42H273V43H0V44H273V45H0V46H273V47H0V48H273V49H0V50H273V51H0V52H273V53H0V54H273V55H0V56H273V57H0V58H273V59H0V60H273V61H0V62H273V63H0V64H273V65H0V66H273V67H0V68H273V69H0V70H273V71H0V72H273V73H0V74H273V75H0V76H273V77H0V78H273V79H0V80H273V81H0V82H273V83H0V84H273V85H0V86H273V87H0V88H273V89H0V90H273V91H0V92H273V93H0V94H273V95H0V96H273V97H0V98H273V99H0V100H273V101H0V102H273V103H0V104H273V105H0V106H273V107H0V108H273V109H0V110H273V111H0V112H273V113H0V114H273V115H0V116H273V117H0V118H273V119H0V120H273V121H0V122H273V123H0V124H273V125H0V126H273V127H0V128H273V129H0V130H273V131H0V132H273V133H0V134H273V135H0V136H273V137H0V138H273V139H0V140H273V141H0V142H273V143H0V144H273V145H0V146H273V147H0V148H273V149H0V150H273V151H0V152H273V153H0V154H273V155H0V156H273V157H0V158H273V159H0V160H273V161H0V162H273V163H0V164H273V165H0V166H273V167H0V168H273V169H0V170H273V171H0V172H273V173H0V174H273V175H0V176H273V177H0V178H273V179H0V180H273V181H0V182H273V183H0V184H273V185H0V186H273V187H0V188H273V189H0V190H273V191H0V192H273V193H0V194H273V195H0V196H273V197H0V198H273V199H0V200H273V201H0V202H273V203H0V204H273V205H0V206H273V207H0V208H273V209H0V210H273V211H0V212H273V213H0V214H273V215H0V216H273V217H0V218H273V219H0V220H273V221H0V222H273V223H0V224H273V225H0V226H273V227H0V228H273V229H0V230H273V231H0V232H273V233H0V234H273V235H0V236H273V237H0V238H273V239H0V240H273" fill="none" stroke="#0072BD" stroke-width="4.20" stroke-linecap="round" stroke-dasharray="0 403 0 18 0 27 0 21 0 2 0 1 0 2 0 3 0 7 0 5 0 4 0 9 0 1 0 1 0 7 0 2 0 2 0 1 0 5 0 4 0 4 0 6 0 5 0 13 0 22 0 34 0 28 0 10 0 261 0 17 0 1 0 2 0 13 0 11 0 5 0 31 0 8 0 5 0 9 0 5 0 1 0 5 0 1 0 3 0 2 0 3 0 1 0 2 0 2 0 2 0 1 0 3 0 1 0 5 0 3 0 1 0 1 0 4 0 1 0 1 0 3 0 2 0 1 0 1 0 2 0 5 0 1 0 2 0 2 0 2 0 1 0 5 0 4 0 2 0 4 0 12 0 4 0 9 0 27 0 3 0 14 0 32 0 2 0 274 0 26 0 6 0 1 0 22 0 5 0 14 0 1 0 7 0 4 0 4 0 2 0 1 0 5 0 4 0 2 0 2 0 1 0 1 0 3 0 1 0 3 0 2 0 1 0 5 0 1 0 3 0 2 0 1 0 4 0 1 0 2 0 1 0 1 0 1 0 3 0 1 0 1 0 1 0 2 0 1 0 2 0 3 0 3 0 3 0 1 0 1 0 4 0 11 0 1 0 4 0 17 0 32 0 72 0 214 0 16 0 20 0 2 0 8 0 25 0 16 0 2 0 1 0 2 0 2 0 3 0 10 0 1 0 2 0 2 0 5 0 1 0 1 0 2 0 3 0 2 0 1 0 1 0 3 0 1 0 1 0 1 0 1 0 3 0 1 0 1 0 2 0 1 0 1 0 1 0 1 0 3 0 6 0 2 0 1 0 2 0 1 0 2 0 1 0 2 0 2 0 1 0 1 0 1 0 1 0 4 0 1 0 2 0 2 0 1 0 2 0 4 0 2 0 2 0 3 0 3 0 2 0 1 0 6 0 2 0 4 0 1 0 9 0 5 0 4 0 1 0 1 0 6 0 1 0 7 0 11 0 8 0 9 0 5 0 10 0 256 0 10 0 10 0 9 0 23 0 3 0 3 0 5 0 3 0 13 0 21 0 2 0 5 0 4 0 3 0 4 0 4 0 1 0 2 0 2 0 1 0 1 0 1 0 2 0 1 0 1 0 1 0 1 0 2 0 1 0 1 0 1 0 2 0 1 0 1 0 1 0 9 0 1 0 2 0 1 0 1 0 1 0 1 0 2 0 1 0 1 0 1 0 2 0 1 0 1 0 1 0 1 0 2 0 1 0 2 0 2 0 1 0 2 0 2 0 2 0 1 0 1 0 3 0 1 0 1 0 3 0 5 0 1 0 5 0 1 0 5 0 3 0 3 0 5 0 3 0 5 0 3 0 6 0 5 0 3 0 3 0 12 0 1 0 3 0 30 0 5 0 2 0 5 0 8 0 231 0 8 0 13 0 14 0 1 0 6 0 16 0 6 0 2 0 4 0 3 0 9 0 6 0 3 0 2 0 5 0 1 0 1 0 1 0 3 0 2 0 1 0 5 0 2 0 2 0 1 0 5 0 1 0 2 0 1 0 1 0 1 0 2 0 1 0 1 0 1 0 1 0 3 0 1 0 1 0 2 0 1 0 2 0 10 0 2 0 1 0 1 0 1 0 1 0 2 0 1 0 1 0 1 0 2 0 1 0 1 0 1 0 1 0 2 0 1 0 1 0 1 0 2 0 1 0 1 0 1 0 3 0 1 0 1 0 1 0 3 0 2 0 2 0 2 0 1 0 2 0 2 0 10 0 2 0 3 0 1 0 6 0 3 0 3 0 4 0 4 0 1 0 9 0 4 0 7 0 7 0 7 0 5 0 4 0 13 0 3 0 4 0 252 0 16 0 9 0 5 0 28 0 1 0 3 0 33 0 5 0 2 0 2 0 1 0 1 0 1 0 2 0 1 0 1 0 1 0 3 0 1 0 1 0 1 0 2 0 1 0 1 0 1 0 2 0 1 0 1 0 1 0 1 0 2 0 1 0 1 0 1 0 2 0 1 0 1 0 1 0 3 0 11 0 1 0 3 0 2 0 1 0 2 0 1 0 1 0 1 0 1 0 2 0 1 0 1 0 1 0 2 0 1 0 1 0 3 0 1 0 1 0 1 0 3 0 2 0 1 0 2 0 1 0 1 0 3 0 1 0 2 0 1 0 2 0 2 0 4 0 2 0 2 0 1 0 40 0 7 0 24 0 4 0 2 0 5 0 21 0 202 0 24 0 8 0 6 0 7 0 1 0 2 0 11 0 22 0 12 0 1 0 6 0 1 0 14 0 6 0 1 0 1 0 3 0 1 0 4 0 5 0 1 0 2 0 2 0 1 0 1 0 2 0 2 0 1 0 1 0 1 0 2 0 1 0 1 0 3 0 1 0 1 0 1 0 1 0 2 0 1 0 1 0 1 0 3 0 1 0 11 0 2 0 1 0 1 0 1 0 1 0 2 0 1 0 4 0 1 0 1 0 1 0 1 0 2 0 1 0 1 0 1 0 2 0 1 0 1 0 1 0 2 0 1 0 1 0 2 0 2 0 1 0 1 0 1 0 2 0 2 0 1 0 4 0 4 0 2 0 3 0 1 0 1 0 1 0 4 0 7 0 8 0 8 0 13 0 1 0 5 0 18 0 13 0 34 0 5 0 173 0 30 0 27 0 5 0 16 0 2 0 7 0 6 0 11 0 3 0 8 0 9 0 4 0 3 0 1 0 12 0 4 0 2 0 1 0 4 0 2 0 1 0 2 0 1 0 1 0 1 0 1 0 2 0 1 0 1 0 1 0 2 0 1 0 1 0 1 0 2 0 1 0 1 0 1 0 1 0 2 0 1 0 1 0 1 0 2 0 1 0 1 0 2 0 8 0 3 0 1 0 1 0 1 0 1 0 2 0 1 0 1 0 1 0 2 0 1 0 1 0 1 0 1 0 2 0 1 0 1 0 1 0 2 0 1 0 1 0 1 0 2 0 1 0 1 0 1 0 1 0 2 0 1 0 1 0 1 0 2 0 1 0 1 0 1 0 2 0 1 0 1 0 1 0 1 0 2 0 3 0 2 0 1 0 2 0 2 0 1 0 1 0 4 0 6 0 4 0 4 0 3 0 2 0 2 0 1 0 1 0 1 0 3 0 2 0 4 0 6 0 4 0 5 0 8 0 6 0 3 0 6 0 9 0 3 0 3 0 7 0 213 0 3 0 2 0 3 0 22 0 28 0 6 0 2 0 6 0 1 0 1 0 1 0 3 0 2 0 4 0 3 0 2 0 12 0 4 0 6 0 1 0 7 0 1 0 1 0 1 0 4 0 1 0 1 0 2 0 1 0 1 0 1 0 2 0 1 0 1 0 1 0 1 0 2 0 1 0 1 0 1 0 2 0 1 0 2 0 2 0 1 0 1 0 1 0 1 0 2 0 1 0 1 0 1 0 2 0 1 0 2 0 3 0 11 0 2 0 2 0 2 0 1 0 2 0 1 0 1 0 1 0 1 0 2 0 1 0 1 0 1 0 2 0 1 0 1 0 1 0 2 0 1 0 1 0 1 0 1 0 3 0 1 0 1 0 2 0 1 0 4 0 1 0 1 0 2 0 3 0 4 0 5 0 1 0 1 0 6 0 6 0 2 0 2 0 2 0 2 0 8 0 18 0 2 0 1 0 15 0 2 0 2 0 7 0 1 0 3 0 28 0 174 0 23 0 9 0 15 0 13 0 8 0 41 0 8 0 1 0 4 0 3 0 3 0 4 0 1 0 3 0 2 0 5 0 5 0 3 0 1 0 2 0 1 0 4 0 1 0 1 0 1 0 2 0 1 0 1 0 1 0 1 0 2 0 1 0 1 0 3 0 1 0 1 0 1 0 2 0 1 0 1 0 1 0 1 0 3 0 1 0 3 0 2 0 2 0 2 0 11 0 1 0 1 0 2 0 1 0 1 0 3 0 2 0 1 0 1 0 2 0 1 0 1 0 1 0 2 0 1 0 1 0 1 0 3 0 1 0 1 0 1 0 2 0 1 0 1 0 1 0 2 0 1 0 1 0 1 0 2 0 1 0 1 0 1 0 3 0 2 0 1 0 2 0 2 0 1 0 2 0 2 0 1 0 1 0 2 0 1 0 2 0 11 0 3 0 5 0 6 0 6 0 8 0 1 0 12 0 17 0 1 0 5 0 19 0 23 0 191 0 5 0 6 0 15 0 8 0 13 0 7 0 9 0 4 0 1 0 2 0 4 0 3 0 16 0 3 0 2 0 1 0 2 0 3 0 10 0 1 0 1 0 1 0 1 0 2 0 1 0 1 0 1 0 2 0 1 0 1 0 1 0 2 0 1 0 1 0 1 0 1 0 3 0 1 0 1 0 2 0 1 0 1 0 1 0 2 0 2 0 1 0 1 0 2 0 1 0 1 0 1 0 2 0 1 0 1 0 5 0 9 0 1 0 1 0 1 0 4 0 1 0 2 0 2 0 1 0 1 0 2 0 1 0 1 0 1 0 2 0 1 0 1 0 1 0 2 0 1 0 2 0 1 0 2 0 1 0 2 0 2 0 1 0 1 0 1 0 2 0 1 0 5 0 1 0 5 0 4 0 1 0 1 0 4 0 1 0 4 0 3 0 2 0 1 0 7 0 11 0 15 0 5 0 6 0 1 0 5 0 3 0 266 0 4 0 22 0 9 0 3 0 7 0 4 0 1 0 6 0 4 0 3 0 3 0 5 0 1 0 2 0 1 0 1 0 4 0 1 0 2 0 3 0 1 0 1 0 3 0 1 0 3 0 1 0 1 0 1 0 1 0 2 0 1 0 1 0 1 0 2 0 1 0 1 0 1 0 2 0 2 0 1 0 1 0 2 0 1 0 1 0 1 0 2 0 1 0 1 0 1 0 2 0 1 0 2 0 1 0 2 0 1 0 1 0 3 0 2 0 13 0 1 0 1 0 2 0 3 0 4 0 1 0 1 0 1 0 1 0 3 0 1 0 3 0 1 0 1 0 1 0 3 0 1 0 1 0 3 0 1 0 1 0 1 0 2 0 1 0 1 0 3 0 2 0 2 0 2 0 1 0 1 0 3 0 1 0 1 0 4 0 1 0 1 0 4 0 1 0 1 0 8 0 3 0 5 0 3 0 11 0 5 0 11 0 2 0 19 0 32 0 7 0 190 0 5 0 6 0 11 0 8 0 6 0 2 0 10 0 3 0 2 0 1 0 1 0 11 0 2 0 2 0 1 0 3 0 1 0 1 0 2 0 1 0 1 0 1 0 1 0 2 0 1 0 1 0 1 0 2 0 3 0 4 0 2 0 2 0 1 0 1 0 1 0 2 0 1 0 1 0 1 0 2 0 2 0 2 0 2 0 1 0 1 0 1 0 2 0 1 0 1 0 1 0 2 0 1 0 1 0 1 0 1 0 2 0 1 0 1 0 1 0 2 0 1 0 1 0 1 0 2 0 1 0 1 0 1 0 1 0 2 0 1 0 1 0 1 0 2 0 1 0 1 0 1 0 2 0 1 0 1 0 1 0 1 0 3 0 1 0 1 0 2 0 1 0 2 0 1 0 2 0 1 0 4 0 6 0 5 0 2 0 2 0 1 0 1 0 1 0 1 0 2 0 1 0 1 0 1 0 2 0 1 0 1 0 1 0 2 0 1 0 1 0 1 0 1 0 3 0 1 0 3 0 1 0 1 0 1 0 2 0 1 0 1 0 1 0 3 0 2 0 1 0 3 0 4 0 1 0 1 0 1 0 1 0 8 0 2 0 6 0 3 0 2 0 4 0 9 0 2 0 3 0 5 0 7 0 7 0 24 0 8 0 4 0 4 0 22 0 11 0 177 0 18 0 22 0 12 0 16 0 1 0 9 0 5 0 4 0 1 0 3 0 3 0 1 0 1 0 2 0 3 0 2 0 4 0 2 0 2 0 1 0 2 0 3 0 2 0 2 0 1 0 1 0 2 0 1 0 1 0 1 0 2 0 2 0 1 0 2 0 1 0 1 0 1 0 1 0 2 0 1 0 1 0 1 0 2 0 1 0 1 0 3 0 2 0 1 0 1 0 3 0 1 0 4 0 16 0 6 0 3 0 1 0 1 0 1 0 3 0 1 0 2 0 3 0 1 0 1 0 2 0 2 0 1 0 1 0 2 0 1 0 1 0 1 0 2 0 1 0 1 0 1 0 2 0 1 0 1 0 2 0 3 0 2 0 2 0 1 0 1 0 1 0 2 0 1 0 2 0 3 0 2 0 6 0 3 0 3 0 4 0 3 0 1 0 2 0 3 0 2 0 4 0 7 0 2 0 1 0 6 0 10 0 7 0 37 0 10 0 196 0 15 0 6 0 1 0 16 0 6 0 9 0 17 0 1 0 4 0 1 0 8 0 2 0 1 0 3 0 1 0 1 0 1 0 2 0 3 0 2 0 1 0 1 0 4 0 1 0 1 0 3 0 1 0 4 0 1 0 1 0 1 0 4 0 2 0 2 0 1 0 2 0 2 0 1 0 1 0 1 0 1 0 2 0 1 0 1 0 1 0 2 0 2 0 1 0 2 0 1 0 1 0 1 0 1 0 5 0 2 0 2 0 1 0 1 0 2 0 11 0 6 0 4 0 1 0 2 0 3 0 2 0 2 0 1 0 1 0 3 0 1 0 1 0 1 0 1 0 2 0 1 0 1 0 1 0 3 0 1 0 1 0 2 0 1 0 1 0 1 0 1 0 2 0 1 0 1 0 1 0 2 0 2 0 1 0 2 0 1 0 1 0 2 0 2 0 1 0 1 0 1 0 4 0 1 0 2 0 6 0 3 0 5 0 2 0 1 0 11 0 2 0 2 0 4 0 2 0 11 0 11 0 3 0 2 0 3 0 15 0 1 0 236 0 17 0 6 0 6 0 4 0 5 0 18 0 3 0 6 0 2 0 2 0 1 0 1 0 1 0 3 0 1 0 1 0 2 0 1 0 1 0 1 0 1 0 2 0 1 0 2 0 3 0 1 0 1 0 2 0 1 0 1 0 2 0 2 0 1 0 1 0 1 0 2 0 1 0 1 0 1 0 2 0 1 0 1 0 1 0 3 0 1 0 1 0 1 0 3 0 1 0 1 0 2 0 1 0 2 0 4 0 5 0 1 0 10 0 3 0 2 0 1 0 1 0 4 0 6 0 4 0 1 0 4 0 1 0 3 0 2 0 1 0 1 0 2 0 1 0 1 0 1 0 2 0 2 0 1 0 2 0 1 0 1 0 1 0 1 0 2 0 1 0 2 0 2 0 1 0 1 0 1 0 2 0 1 0 2 0 1 0 2 0 2 0 5 0 1 0 6 0 2 0 1 0 2 0 2 0 1 0 4 0 3 0 9 0 2 0 2 0 1 0 1 0 1 0 17 0 21 0 228 0 7 0 30 0 5 0 6 0 8 0 3 0 10 0 6 0 4 0 1 0 3 0 1 0 1 0 4 0 1 0 3 0 1 0 2 0 2 0 1 0 1 0 1 0 1 0 2 0 1 0 1 0 1 0 2 0 1 0 2 0 2 0 1 0 1 0 1 0 1 0 2 0 1 0 2 0 2 0 2 0 1 0 2 0 1 0 2 0 1 0 2 0 1 0 2 0 2 0 1 0 2 0 2 0 4 0 2 0 5 0 1 0 5 0 9 0 3 0 1 0 2 0 2 0 1 0 2 0 1 0 2 0 1 0 2 0 1 0 1 0 1 0 2 0 2 0 1 0 2 0 1 0 1 0 1 0 1 0 2 0 1 0 1 0 1 0 2 0 1 0 1 0 1 0 2 0 1 0 1 0 1 0 1 0 2 0 1 0 1 0 1 0 2 0 1 0 1 0 1 0 2 0 1 0 2 0 1 0 2 0 1 0 1 0 1 0 2 0 1 0 1 0 1 0 2 0 1 0 1 0 1 0 1 0 3 0 1 0 1 0 2 0 1 0 1 0 4 0 1 0 2 0 3 0 4 0 1 0 6 0 2 0 2 0 6 0 1 0 9 0 7 0 9 0 5 0 12 0 6 0 1 0 10 0 14 0 2 0 152 0 12 0 17 0 4 0 21 0 4 0 7 0 6 0 6 0 2 0 1 0 3 0 3 0 5 0 10 0 2 0 1 0 2 0 2 0 1 0 2 0 1 0 3 0 2 0 1 0 1 0 1 0 3 0 1 0 1 0 2 0 3 0 3 0 1 0 1 0 1 0 2 0 2 0 1 0 2 0 1 0 1 0 1 0 1 0 2 0 1 0 2 0 2 0 1 0 2 0 2 0 1 0 1 0 1 0 1 0 2 0 1 0 1 0 1 0 3 0 1 0 1 0 2 0 24 0 3 0 5 0 2 0 1 0 3 0 1 0 1 0 5 0 1 0 2 0 6 0 1 0 4 0 1 0 1 0 1 0 2 0 1 0 1 0 1 0 2 0 1 0 2 0 1 0 2 0 1 0 2 0 2 0 1 0 1 0 1 0 2 0 1 0 2 0 1 0 3 0 1 0 1 0 2 0 2 0 4 0 2 0 3 0 7 0 1 0 2 0 3 0 3 0 7 0 9 0 3 0 3 0 5 0 1 0 6 0 5 0 6 0 3 0 14 0 3 0 5 0 2 0 170 0 7 0 41 0 16 0 21 0 3 0 2 0 4 0 1 0 4 0 6 0 2 0 4 0 3 0 2 0 1 0 2 0 3 0 1 0 2 0 1 0 1 0 3 0 1 0 1 0 1 0 2 0 1 0 1 0 2 0 2 0 1 0 2 0 2 0 1 0 2 0 2 0 1 0 1 0 2 0 2 0 1 0 2 0 2 0 1 0 1 0 3 0 1 0 1 0 2 0 2 0 1 0 6 0 3 0 9 0 3 0 11 0 4 0 8 0 4 0 4 0 1 0 2 0 2 0 1 0 1 0 4 0 1 0 2 0 2 0 1 0 1 0 1 0 2 0 1 0 1 0 1 0 2 0 1 0 1 0 1 0 1 0 2 0 1 0 1 0 1 0 2 0 1 0 1 0 1 0 2 0 1 0 1 0 1 0 3 0 1 0 1 0 1 0 3 0 1 0 1 0 2 0 3 0 3 0 1 0 1 0 1 0 3 0 2 0 11 0 3 0 1 0 7 0 5 0 6 0 28 0 3 0 35 0 199 0 8 0 10 0 1 0 4 0 14 0 5 0 1 0 3 0 6 0 6 0 3 0 1 0 5 0 2 0 2 0 6 0 1 0 2 0 2 0 2 0 3 0 1 0 1 0 1 0 1 0 2 0 1 0 1 0 1 0 2 0 1 0 2 0 2 0 1 0 1 0 1 0 1 0 3 0 1 0 1 0 2 0 1 0 1 0 1 0 2 0 1 0 1 0 4 0 1 0 1 0 12 0 8 0 2 0 3 0 10 0 8 0 5 0 3 0 1 0 1 0 1 0 2 0 1 0 4 0 2 0 1 0 1 0 2 0 1 0 1 0 4 0 1 0 1 0 2 0 1 0 1 0 1 0 1 0 3 0 1 0 1 0 2 0 1 0 1 0 1 0 3 0 1 0 1 0 1 0 2 0 1 0 1 0 1 0 3 0 4 0 1 0 2 0 1 0 2 0 1 0 1 0 3 0 5 0 1 0 1 0 1 0 3 0 5 0 3 0 13 0 2 0 1 0 1 0 8 0 11 0 10 0 1 0 9 0 5 0 219 0 9 0 7 0 2 0 2 0 11 0 1 0 9 0 2 0 2 0 4 0 3 0 2 0 3 0 1 0 2 0 1 0 8 0 1 0 4 0 2 0 1 0 2 0 1 0 1 0 1 0 2 0 1 0 1 0 1 0 2 0 1 0 1 0 1 0 1 0 2 0 1 0 1 0 1 0 2 0 1 0 1 0 1 0 3 0 1 0 1 0 1 0 2 0 1 0 1 0 1 0 2 0 1 0 1 0 1 0 2 0 1 0 1 0 2 0 3 0 4 0 5 0 3 0 5 0 6 0 14 0 2 0 7 0 4 0 3 0 1 0 1 0 2 0 1 0 1 0 1 0 3 0 1 0 1 0 1 0 2 0 1 0 1 0 1 0 2 0 1 0 1 0 1 0 2 0 1 0 1 0 1 0 1 0 2 0 1 0 1 0 3 0 1 0 1 0 1 0 2 0 1 0 1 0 1 0 1 0 2 0 1 0 1 0 1 0 3 0 1 0 6 0 3 0 1 0 2 0 3 0 7 0 1 0 3 0 1 0 1 0 2 0 1 0 1 0 6 0 3 0 1 0 1 0 1 0 2 0 2 0 9 0 2 0 10 0 2 0 13 0 2 0 1 0 15 0 35 0 143 0 8 0 5 0 3 0 11 0 1 0 1 0 8 0 2 0 3 0 3 0 4 0 1 0 1 0 2 0 5 0 1 0 1 0 3 0 1 0 1 0 2 0 2 0 2 0 1 0 2 0 2 0 1 0 4 0 4 0 1 0 2 0 2 0 1 0 1 0 1 0 1 0 2 0 3 0 2 0 1 0 1 0 1 0 2 0 1 0 1 0 1 0 1 0 2 0 1 0 1 0 1 0 2 0 1 0 1 0 1 0 2 0 1 0 1 0 1 0 1 0 2 0 1 0 1 0 1 0 2 0 1 0 1 0 1 0 2 0 1 0 1 0 1 0 1 0 2 0 1 0 1 0 1 0 2 0 2 0 1 0 2 0 1 0 1 0 1 0 1 0 2 0 1 0 1 0 3 0 1 0 4 0 1 0 1 0 4 0 1 0 1 0 1 0 3 0 3 0 11 0 1 0 7 0 1 0 11 0 2 0 6 0 1 0 1 0 3 0 2 0 1 0 2 0 1 0 1 0 1 0 2 0 1 0 2 0 1 0 2 0 1 0 1 0 3 0 1 0 1 0 1 0 2 0 1 0 1 0 1 0 1 0 2 0 3 0 2 0 2 0 3 0 1 0 1 0 1 0 1 0 2 0 1 0 2 0 2 0 1 0 1 0 1 0 2 0 1 0 2 0 6 0 2 0 1 0 2 0 8 0 2 0 1 0 4 0 7 0 3 0 27 0 6 0 3 0 6 0 188 0 32 0 3 0 5 0 3 0 8 0 6 0 2 0 2 0 1 0 1 0 11 0 3 0 1 0 4 0 2 0 4 0 1 0 1 0 1 0 2 0 2 0 3 0 1 0 1 0 2 0 2 0 2 0 1 0 2 0 1 0 2 0 3 0 1 0 1 0 1 0 2 0 1 0 1 0 3 0 1 0 1 0 1 0 3 0 1 0 1 0 1 0 3 0 1 0 3 0 2 0 1 0 3 0 2 0 5 0 1 0 2 0 1 0 4 0 4 0 44 0 1 0 2 0 5 0 1 0 3 0 4 0 1 0 1 0 1 0 2 0 1 0 2 0 1 0 3 0 1 0 1 0 2 0 1 0 1 0 1 0 2 0 1 0 1 0 1 0 3 0 1 0 1 0 1 0 2 0 1 0 1 0 1 0 2 0 1 0 1 0 2 0 2 0 1 0 1 0 4 0 1 0 1 0 3 0 6 0 2 0 2 0 1 0 2 0 8 0 14 0 9 0 1 0 6 0 9 0 5 0 9 0 2 0 6 0 16 0 180 0 6 0 5 0 5 0 3 0 1 0 4 0 1 0 8 0 2 0 2 0 3 0 2 0 3 0 1 0 1 0 1 0 3 0 6 0 1 0 1 0 3 0 2 0 5 0 1 0 4 0 1 0 1 0 2 0 2 0 1 0 2 0 1 0 1 0 1 0 2 0 1 0 1 0 1 0 1 0 2 0 1 0 2 0 2 0 1 0 1 0 1 0 2 0 1 0 1 0 1 0 1 0 2 0 1 0 1 0 1 0 2 0 2 0 1 0 3 0 1 0 2 0 2 0 1 0 1 0 1 0 2 0 1 0 4 0 11 0 9 0 2 0 7 0 19 0 8 0 3 0 1 0 5 0 2 0 2 0 1 0 1 0 1 0 1 0 3 0 1 0 1 0 2 0 1 0 4 0 1 0 1 0 1 0 1 0 4 0 1 0 2 0 1 0 1 0 1 0 2 0 1 0 1 0 1 0 1 0 2 0 2 0 1 0 2 0 1 0 1 0 1 0 2 0 1 0 1 0 2 0 2 0 1 0 4 0 3 0 2 0 3 0 4 0 1 0 5 0 1 0 6 0 2 0 3 0 4 0 4 0 5 0 5 0 4 0 3 0 1 0 213 0 19 0 7 0 15 0 1 0 8 0 3 0 3 0 2 0 2 0 3 0 4 0 1 0 1 0 2 0 6 0 6 0 4 0 4 0 2 0 1 0 1 0 3 0 3 0 2 0 1 0 1 0 1 0 1 0 2 0 1 0 1 0 1 0 2 0 1 0 1 0 1 0 2 0 1 0 1 0 1 0 3 0 2 0 3 0 1 0 1 0 1 0 2 0 2 0 2 0 5 0 2 0 1 0 1 0 1 0 2 0 2 0 2 0 3 0 1 0 10 0 1 0 11 0 1 0 12 0 1 0 7 0 4 0 5 0 2 0 3 0 1 0 1 0 2 0 1 0 1 0 2 0 3 0 2 0 2 0 1 0 2 0 2 0 3 0 1 0 2 0 1 0 2 0 2 0 1 0 1 0 1 0 2 0 1 0 1 0 1 0 1 0 2 0 1 0 1 0 3 0 1 0 1 0 1 0 2 0 1 0 1 0 1 0 1 0 2 0 1 0 2 0 3 0 1 0 1 0 2 0 1 0 2 0 1 0 2 0 1 0 4 0 1 0 8 0 3 0 2 0 5 0 6 0 20 0 17 0 179 0 25 0 2 0 6 0 9 0 4 0 3 0 3 0 4 0 1 0 3 0 3 0 1 0 12 0 4 0 1 0 6 0 2 0 1 0 2 0 2 0 2 0 4 0 1 0 1 0 1 0 2 0 1 0 1 0 4 0 1 0 1 0 3 0 1 0 1 0 1 0 2 0 1 0 1 0 1 0 2 0 1 0 1 0 1 0 2 0 1 0 1 0 1 0 1 0 2 0 2 0 1 0 2 0 1 0 2 0 2 0 2 0 2 0 3 0 4 0 1 0 1 0 1 0 2 0 3 0 6 0 2 0 8 0 25 0 1 0 14 0 1 0 1 0 1 0 2 0 1 0 1 0 3 0 1 0 1 0 1 0 4 0 2 0 4 0 1 0 2 0 1 0 1 0 1 0 1 0 2 0 1 0 1 0 1 0 2 0 1 0 1 0 1 0 2 0 1 0 1 0 1 0 1 0 2 0 1 0 1 0 1 0 2 0 1 0 1 0 1 0 2 0 1 0 1 0 1 0 3 0 1 0 1 0 1 0 2 0 1 0 1 0 3 0 1 0 1 0 1 0 1 0 2 0 1 0 1 0 1 0 3 0 1 0 1 0 2 0 1 0 1 0 1 0 1 0 2 0 1 0 4 0 3 0 1 0 2 0 1 0 2 0 4 0 3 0 1 0 2 0 3 0 6 0 16 0 12 0 3 0 2 0 6 0 151 0 22 0 16 0 12 0 6 0 5 0 5 0 3 0 5 0 3 0 3 0 7 0 9 0 1 0 1 0 1 0 2 0 1 0 5 0 1 0 1 0 1 0 2 0 1 0 1 0 1 0 3 0 1 0 1 0 3 0 1 0 1 0 1 0 2 0 1 0 1 0 1 0 3 0 2 0 2 0 2 0 1 0 1 0 3 0 1 0 1 0 3 0 1 0 1 0 2 0 2 0 1 0 1 0 3 0 5 0 2 0 14 0 1 0 1 0 9 0 4 0 1 0 3 0 26 0 4 0 4 0 8 0 5 0 3 0 1 0 3 0 4 0 2 0 1 0 1 0 1 0 2 0 1 0 1 0 1 0 2 0 1 0 1 0 1 0 3 0 2 0 1 0 2 0 1 0 1 0 1 0 2 0 2 0 2 0 2 0 1 0 1 0 1 0 2 0 1 0 1 0 1 0 3 0 1 0 1 0 1 0 2 0 5 0 2 0 5 0 1 0 1 0 3 0 2 0 2 0 3 0 1 0 4 0 5 0 9 0 1 0 16 0 4 0 1 0 203 0 21 0 11 0 5 0 4 0 1 0 6 0 6 0 5 0 2 0 2 0 1 0 1 0 2 0 1 0 1 0 3 0 1 0 2 0 2 0 1 0 2 0 1 0 2 0 1 0 1 0 3 0 1 0 1 0 1 0 2 0 1 0 1 0 1 0 1 0 2 0 1 0 1 0 1 0 2 0 1 0 1 0 1 0 2 0 1 0 1 0 1 0 1 0 2 0 1 0 2 0 9 0 1 0 4 0 1 0 3 0 1 0 8 0 3 0 11 0 5 0 2 0 31 0 8 0 7 0 1 0 4 0 1 0 3 0 2 0 3 0 2 0 1 0 1 0 2 0 2 0 4 0 1 0 4 0 1 0 1 0 3 0 1 0 1 0 1 0 2 0 1 0 1 0 3 0 1 0 1 0 2 0 2 0 2 0 3 0 1 0 1 0 1 0 2 0 1 0 1 0 2 0 2 0 1 0 1 0 1 0 2 0 1 0 1 0 6 0 1 0 2 0 1 0 4 0 1 0 2 0 1 0 2 0 1 0 1 0 1 0 2 0 8 0 4 0 1 0 8 0 1 0 1 0 9 0 3 0 4 0 7 0 13 0 10 0 134 0 5 0 25 0 5 0 3 0 9 0 5 0 8 0 3 0 1 0 3 0 1 0 1 0 2 0 2 0 1 0 1 0 3 0 7 0 2 0 2 0 5 0 1 0 2 0 1 0 2 0 1 0 1 0 4 0 2 0 4 0 1 0 3 0 1 0 1 0 1 0 2 0 1 0 1 0 3 0 1 0 1 0 1 0 1 0 2 0 1 0 1 0 1 0 2 0 1 0 1 0 1 0 2 0 1 0 1 0 1 0 1 0 2 0 1 0 1 0 1 0 3 0 1 0 1 0 2 0 3 0 1 0 2 0 1 0 1 0 4 0 7 0 5 0 1 0 7 0 1 0 3 0 3 0 4 0 1 0 20 0 2 0 6 0 11 0 5 0 1 0 4 0 3 0 1 0 4 0 1 0 1 0 2 0 3 0 4 0 2 0 4 0 1 0 1 0 1 0 2 0 1 0 1 0 1 0 2 0 1 0 2 0 2 0 1 0 1 0 1 0 1 0 2 0 1 0 1 0 1 0 2 0 1 0 1 0 1 0 2 0 2 0 1 0 1 0 7 0 1 0 1 0 1 0 5 0 6 0 4 0 1 0 5 0 3 0 6 0 6 0 1 0 5 0 14 0 13 0 31 0 123 0 20 0 12 0 23 0 1 0 16 0 1 0 2 0 7 0 2 0 4 0 1 0 4 0 2 0 4 0 1 0 1 0 3 0 1 0 2 0 2 0 2 0 1 0 2 0 1 0 1 0 4 0 2 0 1 0 2 0 1 0 1 0 1 0 2 0 1 0 1 0 1 0 3 0 1 0 1 0 1 0 2 0 1 0 2 0 2 0 1 0 3 0 2 0 1 0 2 0 2 0 1 0 4 0 7 0 4 0 5 0 3 0 3 0 7 0 6 0 11 0 19 0 1 0 3 0 3 0 1 0 4 0 3 0 1 0 2 0 2 0 1 0 2 0 1 0 2 0 1 0 1 0 1 0 2 0 1 0 1 0 4 0 1 0 1 0 1 0 2 0 1 0 1 0 1 0 2 0 1 0 1 0 1 0 2 0 1 0 1 0 1 0 1 0 2 0 1 0 1 0 1 0 2 0 1 0 1 0 1 0 2 0 1 0 1 0 1 0 1 0 2 0 1 0 1 0 1 0 2 0 1 0 1 0 1 0 2 0 1 0 2 0 1 0 2 0 1 0 1 0 1 0 2 0 1 0 2 0 2 0 1 0 1 0 1 0 1 0 2 0 1 0 2 0 2 0 1 0 3 0 4 0 1 0 2 0 3 0 4 0 1 0 3 0 1 0 13 0 3 0 1 0 1 0 5 0 2 0 2 0 9 0 3 0 13 0 132 0 14 0 2 0 3 0 7 0 2 0 4 0 2 0 36 0 5 0 6 0 2 0 3 0 1 0 3 0 1 0 2 0 1 0 4 0 4 0 1 0 1 0 3 0 1 0 4 0 1 0 1 0 3 0 1 0 1 0 1 0 1 0 2 0 2 0 1 0 2 0 1 0 1 0 1 0 2 0 1 0 1 0 1 0 1 0 2 0 1 0 1 0 1 0 2 0 1 0 2 0 2 0 1 0 1 0 2 0 2 0 1 0 1 0 1 0 2 0 1 0 1 0 3 0 1 0 1 0 1 0 5 0 12 0 2 0 2 0 1 0 3 0 4 0 8 0 22 0 2 0 1 0 2 0 4 0 1 0 10 0 4 0 2 0 4 0 2 0 2 0 1 0 4 0 2 0 1 0 1 0 3 0 1 0 4 0 2 0 2 0 1 0 2 0 1 0 2 0 1 0 4 0 1 0 1 0 1 0 2 0 2 0 1 0 1 0 2 0 1 0 1 0 1 0 2 0 1 0 1 0 3 0 2 0 1 0 1 0 2 0 1 0 4 0 1 0 1 0 1 0 2 0 1 0 3 0 3 0 4 0 2 0 4 0 3 0 3 0 6 0 1 0 3 0 7 0 3 0 1 0 5 0 3 0 4 0 12 0 3 0 34 0 145 0 30 0 7 0 1 0 2 0 4 0 1 0 1 0 2 0 5 0 3 0 4 0 2 0 2 0 1 0 1 0 3 0 1 0 2 0 4 0 1 0 1 0 4 0 1 0 3 0 1 0 1 0 1 0 3 0 1 0 1 0 2 0 1 0 2 0 2 0 1 0 1 0 1 0 1 0 2 0 1 0 2 0 2 0 1 0 1 0 1 0 2 0 1 0 1 0 2 0 2 0 2 0 1 0 5 0 2 0 11 0 1 0 5 0 2 0 14 0 1 0 10 0 22 0 3 0 6 0 1 0 1 0 1 0 7 0 8 0 4 0 2 0 5 0 6 0 2 0 1 0 1 0 4 0 1 0 1 0 1 0 2 0 1 0 1 0 1 0 2 0 3 0 2 0 1 0 1 0 2 0 2 0 1 0 1 0 1 0 2 0 1 0 1 0 1 0 2 0 1 0 1 0 1 0 1 0 2 0 1 0 1 0 3 0 1 0 2 0 4 0 1 0 3 0 1 0 5 0 2 0 3 0 1 0 4 0 1 0 4 0 1 0 2 0 6 0 8 0 2 0 14 0 7 0 11 0 1 0 129 0 33 0 1 0 2 0 19 0 13 0 6 0 2 0 1 0 3 0 6 0 4 0 2 0 1 0 2 0 2 0 6 0 3 0 1 0 1 0 1 0 5 0 1 0 2 0 1 0 2 0 2 0 1 0 1 0 3 0 1 0 1 0 1 0 1 0 4 0 1 0 2 0 1 0 1 0 1 0 2 0 1 0 1 0 1 0 1 0 2 0 1 0 1 0 1 0 2 0 1 0 2 0 4 0 1 0 3 0 1 0 5 0 2 0 3 0 5 0 1 0 1 0 1 0 4 0 4 0 1 0 1 0 6 0 2 0 7 0 4 0 44 0 5 0 4 0 2 0 1 0 4 0 3 0 3 0 5 0 1 0 3 0 6 0 2 0 2 0 1 0 1 0 1 0 2 0 1 0 1 0 1 0 2 0 1 0 1 0 1 0 3 0 1 0 1 0 1 0 2 0 1 0 2 0 2 0 2 0 1 0 1 0 2 0 1 0 1 0 1 0 2 0 1 0 1 0 1 0 2 0 4 0 2 0 1 0 1 0 1 0 3 0 5 0 3 0 3 0 1 0 3 0 1 0 1 0 5 0 2 0 5 0 6 0 2 0 3 0 3 0 7 0 22 0 31 0 132 0 5 0 15 0 4 0 5 0 7 0 5 0 1 0 3 0 2 0 1 0 1 0 2 0 2 0 4 0 4 0 1 0 3 0 2 0 2 0 1 0 2 0 1 0 3 0 3 0 4 0 1 0 1 0 1 0 2 0 1 0 1 0 1 0 1 0 2 0 2 0 1 0 2 0 1 0 2 0 4 0 1 0 1 0 2 0 1 0 1 0 1 0 2 0 1 0 1 0 1 0 2 0 1 0 1 0 2 0 4 0 1 0 3 0 1 0 1 0 2 0 2 0 1 0 3 0 5 0 5 0 3 0 11 0 3 0 10 0 33 0 7 0 2 0 8 0 3 0 1 0 5 0 5 0 1 0 1 0 1 0 3 0 4 0 1 0 2 0 3 0 1 0 1 0 1 0 2 0 1 0 4 0 1 0 1 0 2 0 2 0 1 0 1 0 1 0 2 0 1 0 2 0 3 0 1 0 1 0 1 0 2 0 1 0 1 0 1 0 2 0 1 0 1 0 1 0 3 0 1 0 1 0 3 0 1 0 1 0 5 0 2 0 2 0 7 0 1 0 3 0 3 0 2 0 1 0 15 0 12 0 9 0 164 0 28 0 2 0 2 0 1 0 1 0 3 0 1 0 5 0 2 0 1 0 2 0 3 0 2 0 6 0 1 0 1 0 3 0 1 0 1 0 3 0 2 0 1 0 2 0 2 0 2 0 3 0 1 0 1 0 2 0 1 0 1 0 1 0 1 0 2 0 1 0 1 0 1 0 2 0 1 0 1 0 1 0 2 0 1 0 2 0 1 0 2 0 1 0 1 0 1 0 2 0 1 0 1 0 1 0 2 0 1 0 1 0 1 0 1 0 2 0 1 0 1 0 1 0 2 0 1 0 1 0 1 0 2 0 1 0 1 0 1 0 1 0 3 0 1 0 1 0 2 0 2 0 1 0 2 0 1 0 1 0 2 0 2 0 1 0 1 0 3 0 1 0 2 0 5 0 1 0 2 0 6 0 8 0 28 0 8 0 5 0 10 0 4 0 3 0 2 0 8 0 8 0 1 0 1 0 4 0 3 0 3 0 2 0 2 0 1 0 4 0 2 0 4 0 1 0 1 0 1 0 2 0 1 0 1 0 1 0 2 0 1 0 2 0 3 0 1 0 1 0 1 0 2 0 1 0 1 0 1 0 2 0 1 0 1 0 1 0 1 0 2 0 1 0 1 0 3 0 1 0 2 0 3 0 2 0 1 0 2 0 3 0 3 0 2 0 1 0 2 0 1 0 57 0 153 0 9 0 15 0 1 0 9 0 2 0 9 0 1 0 3 0 2 0 1 0 2 0 2 0 5 0 1 0 2 0 1 0 1 0 1 0 4 0 1 0 1 0 2 0 2 0 1 0 4 0 1 0 1 0 2 0 1 0 2 0 2 0 1 0 1 0 1 0 1 0 2 0 1 0 1 0 1 0 2 0 1 0 2 0 2 0 1 0 1 0 1 0 1 0 2 0 1 0 1 0 3 0 1 0 2 0 2 0 1 0 2 0 6 0 4 0 1 0 2 0 1 0 2 0 6 0 26 0 1 0 28 0 1 0 4 0 3 0 5 0 3 0 12 0 6 0 4 0 2 0 1 0 2 0 5 0 3 0 3 0 2 0 1 0 2 0 2 0 1 0 2 0 2 0 4 0 2 0 1 0 2 0 2 0 1 0 2 0 1 0 1 0 3 0 2 0 1 0 1 0 2 0 1 0 1 0 1 0 2 0 2 0 1 0 2 0 1 0 1 0 2 0 2 0 1 0 2 0 2 0 1 0 1 0 1 0 3 0 1 0 1 0 6 0 8 0 2 0 15 0 6 0 12 0 8 0 18 0 11 0 142 0 1 0 3 0 5 0 1 0 3 0 3 0 4 0 1 0 3 0 2 0 3 0 3 0 1 0 9 0 3 0 2 0 2 0 3 0 4 0 1 0 2 0 2 0 1 0 1 0 2 0 3 0 2 0 3 0 1 0 1 0 1 0 2 0 1 0 1 0 1 0 2 0 2 0 1 0 3 0 1 0 2 0 2 0 1 0 1 0 3 0 1 0 1 0 1 0 4 0 1 0 1 0 2 0 1 0 1 0 1 0 2 0 1 0 2 0 2 0 1 0 1 0 2 0 4 0 1 0 2 0 5 0 4 0 2 0 5 0 11 0 3 0 4 0 3 0 7 0 20 0 24 0 8 0 8 0 4 0 5 0 6 0 1 0 5 0 3 0 1 0 1 0 4 0 1 0 1 0 2 0 6 0 2 0 1 0 3 0 1 0 1 0 2 0 2 0 1 0 1 0 3 0 1 0 1 0 2 0 1 0 1 0 3 0 2 0 1 0 1 0 3 0 1 0 1 0 3 0 1 0 2 0 2 0 1 0 1 0 3 0 1 0 2 0 2 0 3 0 3 0 1 0 1 0 11 0 4 0 13 0 8 0 26 0 127 0 27 0 27 0 1 0 1 0 2 0 2 0 1 0 7 0 2 0 2 0 2 0 2 0 3 0 1 0 4 0 2 0 1 0 1 0 2 0 1 0 1 0 1 0 2 0 1 0 1 0 1 0 1 0 2 0 1 0 1 0 1 0 2 0 2 0 1 0 2 0 1 0 2 0 1 0 2 0 1 0 1 0 3 0 1 0 1 0 1 0 3 0 1 0 1 0 1 0 2 0 2 0 1 0 3 0 1 0 1 0 3 0 1 0 9 0 2 0 3 0 4 0 2 0 2 0 4 0 4 0 4 0 21 0 29 0 16 0 1 0 1 0 3 0 7 0 3 0 1 0 5 0 5 0 2 0 1 0 4 0 4 0 3 0 3 0 4 0 1 0 1 0 1 0 1 0 2 0 1 0 1 0 1 0 2 0 1 0 1 0 3 0 2 0 1 0 1 0 2 0 2 0 1 0 2 0 1 0 1 0 1 0 2 0 2 0 2 0 3 0 1 0 3 0 3 0 3 0 3 0 2 0 2 0 3 0 1 0 1 0 4 0 3 0 4 0 1 0 9 0 4 0 6 0 10 0 6 0 149 0 1 0 4 0 33 0 5 0 1 0 3 0 4 0 1 0 1 0 1 0 3 0 1 0 5 0 1 0 5 0 2 0 2 0 1 0 1 0 3 0 2 0 3 0 6 0 1 0 1 0 1 0 2 0 1 0 2 0 1 0 2 0 1 0 2 0 2 0 1 0 1 0 1 0 2 0 2 0 1 0 1 0 2 0 2 0 1 0 2 0 1 0 2 0 2 0 1 0 1 0 1 0 4 0 1 0 1 0 2 0 3 0 3 0 1 0 4 0 5 0 9 0 8 0 12 0 4 0 1 0 29 0 3 0 3 0 13 0 5 0 4 0 1 0 1 0 3 0 1 0 2 0 3 0 1 0 4 0 5 0 1 0 1 0 1 0 2 0 1 0 1 0 4 0 1 0 1 0 1 0 2 0 1 0 1 0 1 0 2 0 1 0 1 0 1 0 2 0 1 0 2 0 1 0 2 0 1 0 1 0 1 0 3 0 1 0 1 0 2 0 1 0 1 0 1 0 1 0 2 0 1 0 1 0 1 0 2 0 1 0 1 0 1 0 2 0 1 0 1 0 1 0 1 0 3 0 1 0 3 0 1 0 1 0 1 0 1 0 2 0 1 0 2 0 2 0 1 0 1 0 1 0 3 0 2 0 1 0 2 0 1 0 1 0 1 0 3 0 1 0 3 0 1 0 1 0 2 0 4 0 1 0 3 0 2 0 4 0 5 0 23 0 16 0 4 0 13 0 114 0 36 0 1 0 1 0 2 0 1 0 1 0 5 0 2 0 4 0 1 0 2 0 2 0 4 0 2 0 5 0 1 0 2 0 2 0 1 0 1 0 2 0 2 0 1 0 2 0 2 0 2 0 3 0 2 0 2 0 1 0 1 0 1 0 2 0 1 0 1 0 1 0 1 0 2 0 1 0 2 0 2 0 2 0 1 0 4 0 1 0 3 0 1 0 1 0 1 0 2 0 1 0 4 0 2 0 2 0 5 0 8 0 7 0 8 0 23 0 16 0 14 0 4 0 14 0 6 0 3 0 6 0 1 0 14 0 1 0 3 0 9 0 3 0 1 0 5 0 1 0 1 0 1 0 2 0 1 0 1 0 3 0 1 0 1 0 1 0 1 0 2 0 1 0 1 0 1 0 2 0 1 0 2 0 2 0 1 0 1 0 1 0 1 0 2 0 1 0 1 0 1 0 2 0 1 0 1 0 1 0 1 0 2 0 1 0 1 0 3 0 3 0 2 0 3 0 1 0 5 0 2 0 5 0 2 0 4 0 1 0 4 0 12 0 10 0 7 0 134 0 28 0 8 0 15 0 3 0 2 0 5 0 1 0 14 0 2 0 1 0 3 0 1 0 3 0 1 0 1 0 1 0 2 0 3 0 1 0 2 0 1 0 1 0 3 0 1 0 1 0 1 0 1 0 3 0 1 0 3 0 1 0 1 0 1 0 2 0 1 0 1 0 1 0 1 0 2 0 1 0 2 0 2 0 1 0 1 0 1 0 2 0 1 0 2 0 4 0 1 0 4 0 4 0 2 0 1 0 4 0 5 0 4 0 7 0 13 0 4 0 52 0 6 0 1 0 5 0 5 0 1 0 19 0 4 0 1 0 1 0 2 0 3 0 6 0 1 0 2 0 3 0 3 0 1 0 2 0 4 0 1 0 2 0 1 0 1 0 1 0 1 0 2 0 1 0 2 0 3 0 2 0 2 0 1 0 1 0 1 0 1 0 2 0 1 0 1 0 3 0 2 0 1 0 1 0 2 0 1 0 2 0 2 0 2 0 1 0 2 0 1 0 1 0 2 0 2 0 8 0 6 0 9 0 1 0 3 0 2 0 8 0 1 0 2 0 25 0 15 0 5 0 126 0 8 0 3 0 5 0 3 0 8 0 3 0 2 0 8 0 5 0 3 0 2 0 1 0 3 0 1 0 2 0 2 0 1 0 1 0 3 0 2 0 1 0 3 0 1 0 1 0 1 0 2 0 2 0 1 0 1 0 2 0 3 0 2 0 1 0 1 0 1 0 2 0 1 0 2 0 1 0 2 0 1 0 1 0 1 0 3 0 4 0 1 0 1 0 6 0 3 0 1 0 2 0 2 0 1 0 6 0 12 0 1 0 4 0 15 0 42 0 29 0 8 0 1 0 1 0 5 0 3 0 1 0 5 0 2 0 1 0 8 0 1 0 4 0 2 0 5 0 1 0 2 0 1 0 1 0 1 0 4 0 1 0 1 0 2 0 2 0 1 0 2 0 2 0 1 0 2 0 1 0 1 0 1 0 1 0 2 0 1 0 1 0 1 0 3 0 1 0 1 0 1 0 2 0 2 0 1 0 2 0 6 0 1 0 1 0 3 0 5 0 1 0 2 0 4 0 4 0 1 0 1 0 5 0 1 0 15 0 15 0 10 0 128 0 1 0 30 0 6 0 1 0 4 0 9 0 1 0 1 0 5 0 4 0 6 0 2 0 1 0 2 0 1 0 4 0 2 0 1 0 2 0 1 0 2 0 3 0 2 0 1 0 3 0 1 0 1 0 1 0 3 0 1 0 3 0 1 0 1 0 1 0 2 0 1 0 1 0 1 0 3 0 5 0 1 0 1 0 3 0 1 0 6 0 2 0 2 0 2 0 10 0 1 0 3 0 14 0 16 0 8 0 31 0 25 0 7 0 3 0 13 0 3 0 5 0 1 0 3 0 1 0 1 0 2 0 1 0 1 0 1 0 2 0 1 0 2 0 1 0 3 0 1 0 1 0 2 0 1 0 2 0 3 0 1 0 1 0 1 0 3 0 1 0 3 0 1 0 1 0 3 0 1 0 1 0 1 0 3 0 1 0 1 0 1 0 2 0 1 0 1 0 4 0 2 0 1 0 3 0 1 0 1 0 2 0 3 0 1 0 2 0 3 0 4 0 6 0 3 0 2 0 5 0 3 0 17 0 21 0 117 0 1 0 2 0 2 0 12 0 1 0 15 0 1 0 8 0 2 0 2 0 8 0 3 0 1 0 1 0 1 0 2 0 2 0 1 0 3 0 1 0 2 0 2 0 1 0 1 0 1 0 2 0 1 0 1 0 1 0 1 0 3 0 1 0 1 0 2 0 1 0 1 0 1 0 2 0 1 0 1 0 1 0 1 0 2 0 2 0 1 0 2 0 1 0 1 0 1 0 1 0 2 0 1 0 1 0 1 0 2 0 1 0 1 0 1 0 2 0 1 0 1 0 1 0 3 0 1 0 1 0 1 0 2 0 1 0 1 0 1 0 3 0 1 0 1 0 1 0 2 0 2 0 1 0 2 0 3 0 2 0 1 0 1 0 10 0 1 0 1 0 5 0 1 0 2 0 13 0 24 0 1 0 58 0 1 0 4 0 2 0 6 0 4 0 4 0 3 0 2 0 3 0 2 0 3 0 1 0 2 0 1 0 5 0 1 0 3 0 2 0 1 0 3 0 1 0 1 0 3 0 1 0 1 0 1 0 2 0 1 0 1 0 4 0 2 0 1 0 3 0 2 0 1 0 2 0 1 0 1 0 1 0 2 0 1 0 1 0 1 0 2 0 2 0 1 0 1 0 8 0 1 0 1 0 3 0 3 0 3 0 1 0 6 0 3 0 1 0 1 0 41 0 2 0 1 0 9 0 125 0 2 0 13 0 6 0 6 0 2 0 2 0 1 0 4 0 8 0 1 0 2 0 1 0 1 0 1 0 2 0 1 0 1 0 4 0 1 0 1 0 1 0 2 0 1 0 2 0 2 0 1 0 1 0 1 0 1 0 3 0 1 0 1 0 2 0 1 0 1 0 1 0 1 0 3 0 1 0 3 0 1 0 1 0 4 0 2 0 3 0 2 0 1 0 3 0 4 0 1 0 3 0 5 0 4 0 1 0 2 0 12 0 11 0 9 0 3 0 4 0 9 0 64 0 5 0 6 0 2 0 11 0 11 0 6 0 4 0 1 0 3 0 6 0 1 0 1 0 2 0 2 0 1 0 2 0 1 0 1 0 1 0 2 0 1 0 1 0 1 0 1 0 2 0 1 0 1 0 3 0 4 0 3 0 1 0 1 0 3 0 1 0 3 0 1 0 1 0 1 0 3 0 1 0 1 0 1 0 5 0 3 0 7 0 1 0 3 0 2 0 8 0 5 0 7 0 15 0 30 0 123 0 2 0 1 0 4 0 4 0 7 0 6 0 3 0 4 0 2 0 2 0 3 0 1 0 1 0 2 0 2 0 1 0 2 0 1 0 1 0 2 0 3 0 2 0 2 0 1 0 1 0 1 0 2 0 1 0 1 0 2 0 2 0 1 0 1 0 1 0 2 0 1 0 1 0 1 0 1 0 4 0 1 0 2 0 3 0 2 0 3 0 1 0 8 0 5 0 2 0 1 0 2 0 5 0 1 0 5 0 48 0 27 0 6 0 1 0 32 0 8 0 1 0 6 0 5 0 1 0 4 0 7 0 3 0 5 0 2 0 3 0 1 0 1 0 1 0 2 0 1 0 1 0 1 0 3 0 1 0 1 0 1 0 2 0 1 0 1 0 1 0 3 0 2 0 1 0 2 0 1 0 1 0 3 0 2 0 1 0 1 0 3 0 2 0 3 0 1 0 1 0 2 0 1 0 1 0 1 0 3 0 1 0 2 0 3 0 1 0 1 0 2 0 1 0 8 0 3 0 4 0 6 0 2 0 15 0 2 0 4 0 30 0 113 0 5 0 15 0 2 0 13 0 1 0 7 0 6 0 5 0 3 0 1 0 4 0 1 0 1 0 3 0 2 0 3 0 1 0 1 0 3 0 1 0 2 0 1 0 2 0 1 0 1 0 1 0 2 0 1 0 1 0 1 0 1 0 2 0 2 0 1 0 3 0 2 0 4 0 2 0 3 0 2 0 2 0 1 0 4 0 4 0 4 0 6 0 2 0 4 0 7 0 7 0 23 0 15 0 6 0 9 0 31 0 1 0 1 0 22 0 4 0 5 0 1 0 3 0 6 0 13 0 9 0 2 0 4 0 4 0 4 0 2 0 1 0 1 0 2 0 1 0 1 0 1 0 2 0 1 0 2 0 1 0 2 0 1 0 1 0 1 0 4 0 3 0 1 0 1 0 4 0 1 0 1 0 1 0 2 0 1 0 4 0 4 0 7 0 7 0 1 0 1 0 2 0 10 0 1 0 10 0 8 0 24 0 80 0 43 0 20 0 3 0 2 0 2 0 3 0 1 0 1 0 3 0 3 0 1 0 2 0 1 0 5 0 6 0 2 0 3 0 1 0 3 0 2 0 1 0 2 0 2 0 1 0 1 0 2 0 2 0 1 0 2 0 1 0 1 0 1 0 1 0 2 0 2 0 1 0 2 0 5 0 1 0 1 0 1 0 6 0 2 0 1 0 1 0 4 0 6 0 7 0 6 0 2 0 12 0 5 0 48 0 6 0 17 0 34 0 1 0 2 0 5 0 5 0 1 0 2 0 2 0 1 0 2 0 1 0 2 0 4 0 5 0 1 0 3 0 1 0 1 0 1 0 1 0 2 0 1 0 1 0 1 0 2 0 1 0 2 0 5 0 1 0 2 0 1 0 1 0 1 0 2 0 1 0 1 0 1 0 1 0 2 0 1 0 1 0 1 0 2 0 1 0 1 0 1 0 2 0 1 0 1 0 1 0 1 0 2 0 2 0 1 0 2 0 1 0 2 0 2 0 4 0 2 0 1 0 1 0 1 0 2 0 8 0 1 0 5 0 5 0 3 0 6 0 2 0 34 0 110 0 7 0 5 0 20 0 1 0 1 0 2 0 4 0 4 0 2 0 2 0 1 0 1 0 1 0 1 0 2 0 1 0 1 0 1 0 2 0 2 0 1 0 2 0 1 0 6 0 1 0 1 0 2 0 1 0 1 0 1 0 2 0 6 0 3 0 2 0 1 0 2 0 1 0 2 0 1 0 1 0 8 0 1 0 2 0 5 0 3 0 1 0 1 0 6 0 6 0 9 0 20 0 7 0 86 0 9 0 1 0 3 0 3 0 6 0 4 0 9 0 1 0 5 0 4 0 3 0 3 0 10 0 2 0 1 0 2 0 1 0 3 0 2 0 1 0 1 0 1 0 3 0 1 0 1 0 1 0 4 0 1 0 4 0 1 0 3 0 1 0 1 0 1 0 4 0 4 0 1 0 1 0 2 0 1 0 1 0 6 0 1 0 3 0 15 0 2 0 6 0 4 0 1 0 159 0 5 0 1 0 2 0 16 0 5 0 2 0 3 0 1 0 5 0 1 0 1 0 1 0 2 0 2 0 1 0 2 0 1 0 2 0 4 0 1 0 1 0 2 0 1 0 1 0 1 0 8 0 1 0 1 0 1 0 2 0 1 0 1 0 2 0 8 0 6 0 6 0 1 0 5 0 5 0 5 0 6 0 2 0 24 0 14 0 17 0 68 0 7 0 14 0 2 0 4 0 5 0 2 0 3 0 5 0 4 0 3 0 1 0 1 0 2 0 16 0 1 0 1 0 4 0 2 0 1 0 2 0 1 0 5 0 1 0 1 0 1 0 7 0 2 0 4 0 3 0 2 0 2 0 1 0 2 0 7 0 10 0 1 0 3 0 144 0 10 0 17 0 4 0 1 0 4 0 5 0 2 0 7 0 2 0 1 0 1 0 1 0 2 0 1 0 1 0 1 0 3 0 1 0 1 0 1 0 2 0 1 0 4 0 2 0 1 0 3 0 1 0 1 0 1 0 2 0 1 0 1 0 6 0 1 0 2 0 2 0 1 0 6 0 2 0 2 0 9 0 2 0 1 0 10 0 2 0 1 0 6 0 11 0 18 0 8 0 55 0 15 0 11 0 9 0 15 0 17 0 1 0 7 0 3 0 1 0 4 0 5 0 6 0 2 0 3 0 2 0 1 0 8 0 1 0 1 0 3 0 1 0 1 0 1 0 2 0 2 0 3 0 1 0 1 0 1 0 1 0 2 0 1 0 1 0 10 0 4 0 1 0 1 0 3 0 1 0 1 0 1 0 5 0 1 0 2 0 1 0 2 0 3 0 10 0 2 0 12 0 9 0 142 0 1 0 1 0 10 0 5 0 3 0 2 0 4 0 4 0 2 0 1 0 1 0 2 0 3 0 2 0 1 0 5 0 1 0 2 0 2 0 2 0 1 0 2 0 6 0 1 0 2 0 3 0 4 0 1 0 2 0 4 0 2 0 8 0 7 0 9 0 7 0 20 0 75 0 1 0 10 0 7 0 5 0 8 0 7 0 4 0 18 0 3 0 1 0 4 0 1 0 7 0 3 0 1 0 1 0 3 0 1 0 1 0 1 0 2 0 2 0 1 0 3 0 2 0 1 0 3 0 1 0 3 0 1 0 2 0 1 0 2 0 2 0 1 0 2 0 1 0 1 0 1 0 2 0 1 0 1 0 1 0 1 0 2 0 1 0 1 0 1 0 2 0 1 0 1 0 1 0 2 0 1 0 1 0 1 0 1 0 2 0 2 0 3 0 1 0 1 0 1 0 3 0 1 0 2 0 5 0 3 0 2 0 2 0 4 0 14 0 5 0 5 0 1 0 106 0 7 0 9 0 6 0 2 0 5 0 9 0 2 0 1 0 5 0 4 0 1 0 2 0 3 0 6 0 1 0 3 0 2 0 1 0 1 0 2 0 1 0 2 0 2 0 1 0 2 0 2 0 1 0 3 0 2 0 1 0 1 0 1 0 3 0 5 0 1 0 2 0 2 0 1 0 1 0 10 0 10 0 2 0 8 0 6 0 1 0 1 0 5 0 3 0 55 0 9 0 58 0 11 0 13 0 5 0 4 0 11 0 4 0 3 0 6 0 5 0 2 0 2 0 2 0 2 0 1 0 1 0 1 0 2 0 1 0 1 0 4 0 1 0 4 0 2 0 4 0 2 0 6 0 3 0 1 0 4 0 1 0 1 0 1 0 2 0 2 0 3 0 2 0 1 0 2 0 2 0 7 0 2 0 3 0 2 0 7 0 7 0 10 0 1 0 102 0 13 0 27 0 2 0 1 0 2 0 4 0 9 0 2 0 1 0 1 0 4 0 3 0 2 0 1 0 2 0 1 0 1 0 2 0 2 0 2 0 1 0 3 0 1 0 3 0 1 0 2 0 1 0 2 0 1 0 1 0 3 0 1 0 5 0 1 0 1 0 1 0 2 0 2 0 1 0 4 0 6 0 3 0 3 0 2 0 4 0 2 0 13 0 6 0 29 0 22 0 6 0 59 0 47 0 1 0 8 0 4 0 3 0 2 0 9 0 1 0 4 0 1 0 1 0 2 0 2 0 1 0 1 0 3 0 1 0 1 0 2 0 1 0 4 0 1 0 2 0 1 0 2 0 1 0 1 0 3 0 3 0 3 0 1 0 2 0 2 0 6 0 2 0 9 0 1 0 4 0 7 0 5 0 3 0 8 0 141 0 1 0 1 0 2 0 21 0 1 0 2 0 3 0 1 0 4 0 2 0 1 0 4 0 4 0 3 0 2 0 1 0 2 0 3 0 7 0 1 0 3 0 2 0 2 0 2 0 2 0 2 0 2 0 1 0 3 0 3 0 12 0 3 0 9 0 15 0 1 0 23 0 15 0 2 0 2 0 11 0 36 0 33 0 8 0 13 0 7 0 1 0 2 0 12 0 1 0 7 0 5 0 2 0 3 0 5 0 3 0 1 0 2 0 2 0 1 0 1 0 4 0 1 0 4 0 1 0 1 0 1 0 2 0 1 0 1 0 1 0 5 0 3 0 2 0 1 0 3 0 1 0 1 0 3 0 1 0 1 0 1 0 2 0 3 0 2 0 2 0 4 0 2 0 4 0 12 0 1 0 5 0 3 0 16 0 107 0 3 0 2 0 4 0 2 0 15 0 12 0 3 0 1 0 1 0 4 0 1 0 8 0 1 0 1 0 1 0 2 0 3 0 1 0 2 0 1 0 1 0 5 0 1 0 2 0 1 0 1 0 1 0 1 0 3 0 2 0 3 0 1 0 1 0 2 0 3 0 9 0 1 0 2 0 3 0 2 0 5 0 2 0 4 0 2 0 7 0 7 0 10 0 20 0 15 0 19 0 62 0 17 0 18 0 16 0 2 0 6 0 1 0 5 0 3 0 3 0 7 0 2 0 1 0 1 0 10 0 2 0 1 0 2 0 1 0 2 0 1 0 1 0 1 0 5 0 2 0 1 0 2 0 3 0 2 0 1 0 3 0 1 0 1 0 2 0 2 0 1 0 5 0 1 0 4 0 1 0 3 0 3 0 5 0 3 0 11 0 23 0 81 0 6 0 5 0 18 0 1 0 3 0 1 0 1 0 13 0 1 0 2 0 2 0 1 0 2 0 2 0 2 0 1 0 1 0 3 0 1 0 1 0 3 0 1 0 3 0 1 0 3 0 2 0 1 0 1 0 1 0 2 0 1 0 2 0 2 0 1 0 1 0 1 0 1 0 2 0 2 0 1 0 2 0 1 0 4 0 1 0 3 0 2 0 1 0 1 0 1 0 2 0 1 0 3 0 4 0 3 0 1 0 1 0 1 0 5 0 1 0 2 0 2 0 9 0 1 0 4 0 10 0 3 0 6 0 13 0 1 0 9 0 20 0 103 0 3 0 3 0 1 0 14 0 1 0 2 0 2 0 1 0 1 0 2 0 8 0 2 0 1 0 5 0 5 0 5 0 3 0 2 0 1 0 3 0 2 0 2 0 1 0 3 0 3 0 1 0 1 0 3 0 2 0 2 0 1 0 2 0 6 0 2 0 1 0 5 0 1 0 4 0 3 0 4 0 1 0 15 0 6 0 1 0 101 0 25 0 4 0 7 0 2 0 2 0 3 0 1 0 2 0 5 0 1 0 2 0 1 0 1 0 1 0 2 0 1 0 2 0 3 0 8 0 2 0 1 0 1 0 1 0 2 0 7 0 2 0 2 0 1 0 2 0 2 0 3 0 3 0 2 0 1 0 4 0 2 0 2 0 12 0 2 0 9 0 47 0 10 0 87 0 6 0 4 0 7 0 10 0 4 0 7 0 5 0 3 0 1 0 1 0 5 0 9 0 1 0 6 0 1 0 4 0 2 0 4 0 5 0 2 0 2 0 1 0 1 0 5 0 1 0 4 0 5 0 2 0 2 0 1 0 1 0 4 0 5 0 2 0 4 0 2 0 2 0 2 0 1 0 1 0 4 0 3 0 18 0 15 0 84 0 14 0 14 0 4 0 5 0 2 0 5 0 3 0 1 0 11 0 1 0 3 0 1 0 2 0 2 0 1 0 1 0 1 0 2 0 1 0 1 0 1 0 1 0 2 0 1 0 1 0 11 0 1 0 9 0 3 0 6 0 11 0 2 0 5 0 14 0 1 0 6 0 20 0 93 0 38 0 4 0 15 0 10 0 5 0 6 0 6 0 5 0 1 0 4 0 2 0 1 0 2 0 5 0 3 0 2 0 1 0 1 0 2 0 5 0 2 0 1 0 4 0 3 0 3 0 3 0 2 0 1 0 7 0 1 0 7 0 1 0 1 0 12 0 2 0 14 0 11 0 88 0 5 0 1 0 7 0 3 0 2 0 7 0 13 0 3 0 4 0 1 0 2 0 4 0 1 0 6 0 6 0 2 0 2 0 4 0 1 0 1 0 2 0 3 0 1 0 3 0 4 0 3 0 2 0 1 0 1 0 2 0 5 0 4 0 3 0 4 0 3 0 2 0 4 0 1 0 15 0 25 0 16 0 16 0 82 0 10 0 39 0 7 0 4 0 12 0 8 0 3 0 1 0 3 0 3 0 1 0 1 0 4 0 1 0 4 0 2 0 3 0 2 0 3 0 4 0 1 0 2 0 1 0 2 0 5 0 1 0 1 0 1 0 3 0 1 0 1 0 1 0 2 0 1 0 1 0 1 0 3 0 1 0 1 0 2 0 2 0 7 0 2 0 3 0 2 0 14 0 6 0 80 0 3 0 10 0 4 0 2 0 13 0 9 0 3 0 1 0 6 0 2 0 1 0 10 0 2 0 1 0 2 0 2 0 1 0 1 0 8 0 1 0 3 0 2 0 6 0 1 0 2 0 1 0 1 0 1 0 3 0 2 0 1 0 3 0 18 0 2 0 3 0 8 0 3 0 8 0 8 0 5 0 131 0 6 0 2 0 8 0 8 0 11 0 5 0 7 0 3 0 3 0 2 0 1 0 8 0 1 0 1 0 5 0 4 0 6 0 5 0 1 0 4 0 3 0 2 0 1 0 1 0 1 0 4 0 1 0 3 0 1 0 2 0 2 0 1 0 1 0 5 0 1 0 2 0 1 0 1 0 1 0 3 0 1 0 2 0 2 0 1 0 2 0 2 0 2 0 2 0 3 0 1 0 4 0 1 0 6 0 1 0 5 0 3 0 10 0 1 0 8 0 4 0 4 0 75 0 20 0 4 0 5 0 1 0 1 0 5 0 4 0 6 0 4 0 5 0 1 0 2 0 3 0 2 0 1 0 3 0 1 0 1 0 4 0 1 0 1 0 7 0 2 0 1 0 4 0 21 0 11 0 11 0 25 0 44 0 79 0 23 0 28 0 10 0 14 0 3 0 7 0 1 0 8 0 5 0 5 0 2 0 2 0 1 0 3 0 1 0 1 0 1 0 3 0 1 0 1 0 3 0 1 0 1 0 1 0 7 0 1 0 1 0 1 0 2 0 1 0 1 0 1 0 6 0 3 0 1 0 3 0 3 0 3 0 13 0 10 0 88 0 6 0 1 0 4 0 4 0 3 0 9 0 2 0 7 0 3 0 1 0 4 0 4 0 1 0 1 0 2 0 1 0 1 0 1 0 1 0 2 0 5 0 6 0 3 0 2 0 1 0 1 0 4 0 2 0 6 0 3 0 13 0 2 0 2 0 22 0 16 0 114 0 67 0 4 0 6 0 10 0 4 0 2 0 5 0 1 0 4 0 2 0 4 0 1 0 1 0 7 0 1 0 4 0 2 0 1 0 1 0 2 0 5 0 1 0 2 0 2 0 1 0 3 0 3 0 1 0 5 0 1 0 2 0 2 0 2 0 2 0 1 0 2 0 7 0 2 0 2 0 3 0 13 0 4 0 73 0 9 0 26 0 17 0 1 0 5 0 1 0 4 0 2 0 4 0 1 0 2 0 1 0 1 0 1 0 1 0 2 0 1 0 1 0 1 0 5 0 3 0 1 0 4 0 1 0 5 0 4 0 1 0 16 0 5 0 1 0 13 0 16 0 11 0 10 0 29 0 90 0 11 0 25 0 3 0 7 0 5 0 26 0 9 0 2 0 1 0 2 0 7 0 2 0 3 0 4 0 7 0 2 0 2 0 2 0 1 0 2 0 4 0 3 0 1 0 3 0 1 0 1 0 1 0 3 0 2 0 1 0 2 0 3 0 3 0 1 0 4 0 1 0 9 0 117 0 4 0 1 0 6 0 9 0 1 0 2 0 3 0 1 0 1 0 1 0 2 0 2 0 1 0 2 0 1 0 2 0 2 0 2 0 6 0 1 0 3 0 2 0 9 0 1 0 3 0 1 0 10 0 7 0 1 0 14 0 3 0 12 0 6 0 21 0 113 0 60 0 10 0 4 0 11 0 7 0 4 0 4 0 1 0 5 0 6 0 2 0 2 0 4 0 2 0 3 0 3 0 2 0 3 0 1 0 4 0 1 0 2 0 2 0 1 0 1 0 1 0 2 0 2 0 2 0 2 0 2 0 3 0 3 0 3 0 1 0 2 0 2 0 1 0 6 0 1 0 1 0 5 0 92 0 10 0 5 0 1 0 2 0 2 0 1 0 2 0 3 0 1 0 2 0 2 0 1 0 1 0 1 0 2 0 3 0 2 0 1 0 1 0 1 0 1 0 2 0 1 0 1 0 1 0 3 0 1 0 4 0 1 0 2 0 3 0 4 0 2 0 1 0 3 0 1 0 5 0 7 0 2 0 1 0 2 0 1 0 5 0 7 0 1 0 3 0 2 0 16 0 2 0 23 0 88 0 28 0 30 0 10 0 35 0 10 0 12 0 5 0 3 0 2 0 4 0 10 0 8 0 2 0 1 0 1 0 5 0 1 0 4 0 4 0 1 0 1 0 4 0 3 0 2 0 1 0 2 0 2 0 3 0 2 0 1 0 1 0 9 0 1 0 6 0 11 0 82 0 3 0 10 0 6 0 4 0 6 0 3 0 13 0 1 0 4 0 1 0 2 0 1 0 1 0 3 0 1 0 5 0 2 0 3 0 3 0 3 0 1 0 5 0 1 0 1 0 2 0 5 0 12 0 4 0 1 0 5 0 24 0 51 0 1 0 107 0 4 0 13 0 14 0 8 0 23 0 9 0 9 0 4 0 8 0 5 0 1 0 3 0 2 0 2 0 3 0 2 0 2 0 1 0 4 0 2 0 2 0 1 0 1 0 1 0 2 0 1 0 1 0 1 0 1 0 2 0 2 0 3 0 2 0 3 0 3 0 4 0 1 0 6 0 4 0 1 0 3 0 1 0 88 0 3 0 12 0 1 0 2 0 3 0 1 0 1 0 4 0 2 0 1 0 4 0 1 0 2 0 1 0 6 0 1 0 1 0 2 0 1 0 2 0 2 0 1 0 1 0 3 0 2 0 2 0 3 0 2 0 4 0 3 0 16 0 36 0 9 0 155 0 71 0 16 0 14 0 6 0 3 0 3 0 2 0 3 0 3 0 1 0 1 0 3 0 1 0 2 0 2 0 2 0 1 0 1 0 2 0 1 0 1 0 1 0 2 0 2 0 1 0 2 0 1 0 5 0 5 0 2 0 1 0 15 0 2 0 61 0 14 0 23 0 5 0 5 0 1 0 1 0 2 0 5 0 1 0 1 0 1 0 3 0 3 0 2 0 3 0 4 0 1 0 10 0 1 0 14 0 4 0 1 0 5 0 8 0 5 0 2 0 1 0 13 0 10 0 6 0 4 0 4 0 8 0 9 0 134 0 27 0 17 0 3 0 31 0 13 0 3 0 1 0 2 0 4 0 7 0 3 0 3 0 3 0 5 0 2 0 2 0 1 0 2 0 3 0 1 0 2 0 7 0 2 0 1 0 4 0 2 0 2 0 2 0 5 0 5 0 12 0 79 0 9 0 1 0 4 0 5 0 2 0 3 0 5 0 1 0 5 0 1 0 1 0 3 0 1 0 1 0 1 0 2 0 2 0 1 0 2 0 1 0 1 0 5 0 1 0 1 0 2 0 2 0 1 0 10 0 4 0 2 0 3 0 7 0 3 0 81 0 143 0 24 0 22 0 5 0 6 0 2 0 1 0 2 0 5 0 2 0 4 0 4 0 1 0 5 0 2 0 2 0 4 0 2 0 1 0 2 0 1 0 1 0 1 0 2 0 2 0 1 0 1 0 3 0 1 0 1 0 2 0 1 0 1 0 1 0 2 0 1 0 1 0 2 0 2 0 1 0 2 0 3 0 3 0 4 0 1 0 5 0 2 0 2 0 5 0 83 0 2 0 7 0 3 0 3 0 1 0 7 0 4 0 1 0 1 0 2 0 1 0 1 0 1 0 3 0 1 0 2 0 3 0 2 0 3 0 1 0 7 0 10 0 2 0 7 0 1 0 6 0 4 0 9 0 13 0 1 0 2 0 2 0 239 0 6 0 7 0 2 0 1 0 2 0 9 0 20 0 1 0 7 0 1 0 3 0 1 0 4 0 2 0 1 0 2 0 1 0 1 0 1 0 3 0 2 0 3 0 3 0 3 0 1 0 1 0 2 0 2 0 14 0 4 0 69 0 1 0 10 0 1 0 6 0 4 0 1 0 6 0 1 0 3 0 1 0 4 0 1 0 5 0 1 0 5 0 3 0 1 0 5 0 1 0 4 0 6 0 1 0 1 0 4 0 1 0 4 0 6 0 9 0 23 0 18 0 206 0 18 0 8 0 27 0 8 0 5 0 8 0 1 0 9 0 1 0 1 0 1 0 2 0 6 0 2 0 1 0 5 0 3 0 1 0 1 0 6 0 5 0 1 0 4 0 1 0 3 0 11 0 2 0 15 0 54 0 1 0 5 0 5 0 11 0 1 0 1 0 9 0 1 0 1 0 4 0 1 0 1 0 3 0 2 0 4 0 1 0 1 0 2 0 1 0 2 0 5 0 4 0 4 0 7 0 17 0 10 0 6 0 6 0 212 0 48 0 3 0 3 0 1 0 18 0 11 0 6 0 2 0 5 0 2 0 3 0 1 0 2 0 1 0 2 0 4 0 1 0 2 0 1 0 1 0 1 0 3 0 1 0 4 0 1 0 2 0 1 0 3 0 5 0 10 0 1 0 1 0 5 0 72 0 5 0 2 0 5 0 2 0 1 0 2 0 3 0 5 0 1 0 1 0 2 0 2 0 1 0 1 0 1 0 2 0 1 0 2 0 2 0 2 0 5 0 6 0 9 0 2 0 10 0 4 0 2 0 12 0 9 0 227 0 13 0 1 0 2 0 24 0 4 0 2 0 6 0 5 0 3 0 7 0 1 0 8 0 2 0 3 0 3 0 2 0 1 0 1 0 1 0 2 0 1 0 3 0 2 0 2 0 1 0 2 0 1 0 1 0 1 0 2 0 1 0 2 0 1 0 2 0 1 0 1 0 1 0 2 0 1 0 1 0 1 0 3 0 2 0 5 0 6 0 6 0 71 0 9 0 11 0 2 0 1 0 4 0 5 0 2 0 3 0 1 0 4 0 1 0 1 0 2 0 2 0 1 0 1 0 351 0 14 0 1 0 1 0 5 0 5 0 1 0 4 0 1 0 3 0 1 0 2 0 3 0 1 0 4 0 2 0 1 0 3 0 1 0 1 0 4 0 2 0 2 0 2 0 1 0 10 0 67 0 5 0 6 0 1 0 3 0 1 0 3 0 3 0 2 0 4 0 11 0 2 0 1 0 5 0 4 0 4 0 2 0 3 0 7 0 4 0 7 0 11 0 2 0 8 0 25 0 207 0 65 0 9 0 2 0 2 0 5 0 6 0 1 0 4 0 6 0 3 0 4 0 4 0 2 0 2 0 3 0 3 0 3 0 4 0 1 0 3 0 2 0 8 0 76 0 5 0 4 0 4 0 2 0 4 0 2 0 2 0 3 0 4 0 2 0 3 0 2 0 1 0 3 0 1 0 1 0 2 0 2 0 1 0 3 0 1 0 1 0 1 0 9 0 5 0 12 0 4 0 28 0 3 0 261 0 11 0 1 0 20 0 2 0 1 0 2 0 4 0 5 0 5 0 4 0 1 0 3 0 1 0 4 0 2 0 1 0 2 0 2 0 4 0 6 0 3 0 2 0 1 0 1 0 1 0 2 0 2 0 3 0 4 0 7 0 56 0 4 0 4 0 14 0 3 0 4 0 1 0 4 0 5 0 1 0 1 0 2 0 1 0 2 0 3 0 1 0 2 0 2 0 2 0 6 0 3 0 1 0 2 0 7 0 17 0 257 0 54 0 4 0 8 0 3 0 7 0 8 0 7 0 2 0 4 0 1 0 5 0 11 0 4 0 4 0 2 0 1 0 9 0 9 0 2 0 51 0 11 0 12 0 3 0 1 0 1 0 2 0 2 0 1 0 2 0 1 0 1 0 1 0 3 0 1 0 1 0 1 0 3 0 1 0 4 0 1 0 1 0 1 0 3 0 1 0 11 0 1 0 2 0 6 0 2 0 8 0 14 0 43 0 269 0 2 0 8 0 1 0 11 0 6 0 2 0 2 0 10 0 1 0 5 0 2 0 1 0 3 0 1 0 1 0 1 0 4 0 1 0 2 0 3 0 2 0 2 0 77 0 1 0 6 0 1 0 2 0 2 0 12 0 2 0 2 0 1 0 5 0 4 0 1 0 3 0 7 0 10 0 1 0 15 0 8 0 7 0 3 0 2 0 300 0 18 0 8 0 3 0 4 0 2 0 5 0 9 0 1 0 3 0 2 0 3 0 4 0 2 0 5 0 2 0 4 0 1 0 1 0 1 0 4 0 78 0 4 0 2 0 4 0 7 0 5 0 2 0 1 0 7 0 1 0 3 0 1 0 4 0 1 0 21 0 2 0 3 0 6 0 299 0 15 0 2 0 10 0 14 0 6 0 10 0 1 0 1 0 3 0 3 0 6 0 4 0 1 0 1 0 4 0 4 0 2 0 6 0 2 0 2 0 3 0 60 0 2 0 1 0 4 0 1 0 2 0 15 0 7 0 2 0 2 0 1 0 2 0 1 0 1 0 9 0 5 0 1 0 66 0 318 0 1 0 6 0 7 0 3 0 6 0 5 0 1 0 1 0 2 0 23 0 61 0 6 0 4 0 2 0 3 0 1 0 2 0 4 0 6 0 1 0 3 0 22 0 9 0 22 0 1 0 21 0 290 0 16 0 1 0 5 0 5 0 3 0 3 0 4 0 3 0 1 0 1 0 10 0 2 0 4 0 1 0 4 0 1 0 3 0 2 0 6 0 3 0 65 0 2 0 2 0 1 0 8 0 2 0 1 0 5 0 3 0 4 0 6 0 5 0 4 0 13 0 1 0 5 0 32 0 25 0 331 0 9 0 5 0 6 0 3 0 1 0 1 0 3 0 21 0 54 0 9 0 5 0 2 0 3 0 16 0 10 0 11 0 363 0 19 0 4 0 4 0 6 0 4 0 2 0 4 0 3 0 2 0 7 0 2 0 3 0 1 0 6 0 4 0 45 0 6 0 5 0 4 0 5 0 4 0 4 0 14 0 1 0 2 0 5 0 20 0 4 0 1 0 385 0 4 0 5 0 4 0 28 0 68 0 1 0 6 0 52 0 205 0 147 0 18 0 21 0 7 0 3 0 11 0 1 0 63 0 3 0 4 0 6 0 2 0 3 0 3 0 4 0 12 0 20 0 7 0 19 0 351 0 7 0 21 0 8 0 5 0 2 0 2 0 1 0 68 0 10 0 2 0 196 0 211 0 28 0 7 0 7 0 2 0 1 0 15 0 1 0 19 0 61 0 1 0 13 0 457 0 5 0 81 0 37 0 30 0 352 0 41 0 79 0 483 0 6 0 524 0 283 0 1266 0 9999999" stroke-dashoffset="-12381"/></g>
<g font-size="9.4" fill="#2b2b2b" transform="rotate(0.03 605.9 67.0)"><text x="527.50" y="136.70" text-anchor="middle">0</text><text x="524.20" y="128.90" text-anchor="end">0</text><text x="552.10" y="136.70" text-anchor="middle">40</text><text x="524.20" y="110.94" text-anchor="end">40</text><text x="576.69" y="136.70" text-anchor="middle">80</text><text x="524.20" y="92.98" text-anchor="end">80</text><text x="601.29" y="136.70" text-anchor="middle">120</text><text x="524.20" y="75.02" text-anchor="end">120</text><text x="625.88" y="136.70" text-anchor="middle">160</text><text x="524.20" y="57.06" text-anchor="end">160</text><text x="650.48" y="136.70" text-anchor="middle">200</text><text x="524.20" y="39.10" text-anchor="end">200</text><text x="675.08" y="136.70" text-anchor="middle">240</text><text x="524.20" y="21.14" text-anchor="end">240</text></g>
<text x="605.90" y="148.50" font-size="9.3" fill="#2b2b2b" text-anchor="middle" transform="rotate(0.03 605.9 148.5)" textLength="126.1" lengthAdjust="spacingAndGlyphs">Pixel gray value on location(x,y)</text>
<text transform="translate(506.60,149.00) rotate(-90)" font-size="8.64" fill="#2b2b2b" textLength="148.00" lengthAdjust="spacingAndGlyphs">Pixel gray value on location(x + 1,y + 1)</text>
<!-- plot d -->
<path d="M27.40 198.90V313.30H184.70M27.40 313.30v-1.6M27.40 313.30h1.6M52.07 313.30v-1.6M27.40 295.35h1.6M76.75 313.30v-1.6M27.40 277.41h1.6M101.42 313.30v-1.6M27.40 259.46h1.6M126.10 313.30v-1.6M27.40 241.52h1.6M150.77 313.30v-1.6M27.40 223.57h1.6M175.45 313.30v-1.6M27.40 205.63h1.6" fill="none" stroke="#6e6e6e" stroke-width="0.8"/>
<g transform="translate(23,194) scale(0.5)"><path d="M0 0H324V1H0V2H324V3H0V4H324V5H0V6H324V7H0V8H324V9H0V10H324V11H0V12H324V13H0V14H324V15H0V16H324V17H0V18H324V19H0V20H324V21H0V22H324V23H0V24H324V25H0V26H324V27H0V28H324V29H0V30H324V31H0V32H324V33H0V34H324V35H0V36H324V37H0V38H324V39H0V40H324V41H0V42H324V43H0V44H324V45H0V46H324V47H0V48H324V49H0V50H324V51H0V52H324V53H0V54H324V55H0V56H324V57H0V58H324V59H0V60H324V61H0V62H324V63H0V64H324V65H0V66H324V67H0V68H324V69H0V70H324V71H0V72H324V73H0V74H324V75H0V76H324V77H0V78H324V79H0V80H324V81H0V82H324V83H0V84H324V85H0V86H324V87H0V88H324V89H0V90H324V91H0V92H324V93H0V94H324V95H0V96H324V97H0V98H324V99H0V100H324V101H0V102H324V103H0V104H324V105H0V106H324V107H0V108H324V109H0V110H324V111H0V112H324V113H0V114H324V115H0V116H324V117H0V118H324V119H0V120H324V121H0V122H324V123H0V124H324V125H0V126H324V127H0V128H324V129H0V130H324V131H0V132H324V133H0V134H324V135H0V136H324V137H0V138H324V139H0V140H324V141H0V142H324V143H0V144H324V145H0V146H324V147H0V148H324V149H0V150H324V151H0V152H324V153H0V154H324V155H0V156H324V157H0V158H324V159H0V160H324V161H0V162H324V163H0V164H324V165H0V166H324V167H0V168H324V169H0V170H324V171H0V172H324V173H0V174H324V175H0V176H324V177H0V178H324V179H0V180H324V181H0V182H324V183H0V184H324V185H0V186H324V187H0V188H324V189H0V190H324V191H0V192H324V193H0V194H324V195H0V196H324V197H0V198H324V199H0V200H324V201H0V202H324V203H0V204H324V205H0V206H324V207H0V208H324V209H0V210H324V211H0V212H324V213H0V214H324V215H0V216H324V217H0V218H324V219H0V220H324V221H0V222H324V223H0V224H324V225H0V226H324V227H0V228H324V229H0V230H324V231H0V232H324V233H0V234H324V235H0V236H324V237H0V238H324V239H0V240H324" fill="none" stroke="#0072BD" stroke-width="4.20" stroke-linecap="round" stroke-dasharray="0 24 0 18 0 2 0 1 0 4 0 19 0 4 0 28 0 11 0 6 0 4 0 5 0 6 0 5 0 6 0 5 0 12 0 5 0 6 0 32 0 1 0 28 0 8 0 3 0 13 0 2 0 38 0 5 0 13 0 9 0 3 0 19 0 1 0 5 0 11 0 5 0 42 0 4 0 10 0 7 0 4 0 1 0 18 0 3 0 16 0 4 0 7 0 1 0 3 0 10 0 2 0 19 0 3 0 4 0 9 0 8 0 9 0 1 0 8 0 6 0 2 0 8 0 2 0 1 0 4 0 1 0 5 0 15 0 6 0 48 0 2 0 4 0 7 0 2 0 1 0 4 0 4 0 12 0 5 0 2 0 9 0 10 0 1 0 5 0 5 0 3 0 8 0 5 0 11 0 1 0 3 0 10 0 1 0 1 0 2 0 1 0 6 0 7 0 6 0 8 0 12 0 1 0 12 0 1 0 3 0 8 0 11 0 1 0 10 0 3 0 3 0 2 0 2 0 11 0 5 0 1 0 1 0 3 0 5 0 6 0 15 0 1 0 4 0 12 0 1 0 3 0 1 0 1 0 4 0 5 0 23 0 1 0 3 0 5 0 5 0 2 0 15 0 2 0 9 0 3 0 14 0 2 0 13 0 1 0 2 0 13 0 14 0 15 0 2 0 6 0 6 0 2 0 6 0 1 0 2 0 10 0 4 0 1 0 5 0 1 0 3 0 16 0 18 0 15 0 11 0 14 0 1 0 5 0 42 0 5 0 22 0 2 0 17 0 7 0 11 0 3 0 10 0 7 0 11 0 20 0 6 0 52 0 10 0 6 0 4 0 8 0 9 0 1 0 12 0 9 0 20 0 33 0 20 0 12 0 9 0 24 0 1 0 24 0 18 0 5 0 7 0 2 0 18 0 26 0 18 0 10 0 3 0 5 0 6 0 7 0 2 0 7 0 2 0 3 0 15 0 4 0 13 0 2 0 11 0 1 0 18 0 3 0 15 0 18 0 1 0 26 0 7 0 47 0 3 0 3 0 5 0 17 0 18 0 4 0 43 0 2 0 11 0 14 0 4 0 4 0 12 0 13 0 1 0 2 0 11 0 19 0 10 0 5 0 5 0 2 0 11 0 26 0 23 0 5 0 4 0 5 0 20 0 3 0 1 0 4 0 6 0 5 0 6 0 4 0 3 0 11 0 1 0 9 0 34 0 25 0 2 0 16 0 10 0 9 0 2 0 4 0 2 0 18 0 3 0 7 0 5 0 14 0 10 0 6 0 2 0 5 0 8 0 8 0 1 0 2 0 9 0 4 0 12 0 6 0 4 0 5 0 5 0 5 0 1 0 81 0 11 0 4 0 5 0 3 0 8 0 3 0 5 0 19 0 14 0 2 0 5 0 8 0 7 0 10 0 17 0 2 0 14 0 8 0 1 0 2 0 8 0 1 0 6 0 25 0 12 0 11 0 9 0 6 0 3 0 6 0 2 0 5 0 10 0 1 0 14 0 1 0 10 0 11 0 8 0 4 0 1 0 24 0 1 0 1 0 6 0 10 0 15 0 3 0 8 0 6 0 19 0 15 0 11 0 8 0 9 0 5 0 5 0 20 0 11 0 38 0 4 0 12 0 1 0 21 0 3 0 1 0 5 0 6 0 4 0 41 0 2 0 12 0 2 0 1 0 1 0 9 0 3 0 14 0 10 0 12 0 13 0 1 0 10 0 6 0 16 0 6 0 6 0 46 0 4 0 3 0 5 0 3 0 10 0 2 0 6 0 9 0 1 0 15 0 7 0 14 0 5 0 15 0 36 0 8 0 3 0 7 0 8 0 1 0 3 0 1 0 1 0 7 0 2 0 1 0 1 0 10 0 2 0 5 0 4 0 3 0 7 0 8 0 6 0 1 0 1 0 13 0 3 0 4 0 1 0 13 0 2 0 4 0 4 0 4 0 3 0 4 0 7 0 7 0 2 0 1 0 4 0 6 0 1 0 1 0 5 0 4 0 7 0 13 0 2 0 3 0 1 0 5 0 2 0 1 0 2 0 2 0 1 0 4 0 5 0 1 0 1 0 2 0 1 0 4 0 10 0 8 0 5 0 4 0 3 0 3 0 7 0 3 0 1 0 1 0 3 0 12 0 1 0 2 0 3 0 3 0 2 0 19 0 10 0 22 0 4 0 9 0 2 0 8 0 10 0 4 0 9 0 1 0 6 0 2 0 5 0 8 0 6 0 9 0 4 0 7 0 5 0 5 0 25 0 20 0 9 0 15 0 11 0 13 0 6 0 3 0 5 0 7 0 3 0 6 0 4 0 5 0 4 0 3 0 6 0 10 0 5 0 6 0 4 0 6 0 13 0 30 0 7 0 19 0 15 0 11 0 8 0 6 0 9 0 6 0 8 0 1 0 2 0 7 0 1 0 16 0 5 0 8 0 11 0 2 0 12 0 4 0 8 0 3 0 6 0 3 0 1 0 7 0 8 0 3 0 4 0 1 0 21 0 1 0 5 0 2 0 2 0 20 0 1 0 1 0 47 0 1 0 14 0 5 0 1 0 30 0 11 0 12 0 11 0 2 0 9 0 4 0 21 0 8 0 11 0 6 0 8 0 3 0 16 0 2 0 5 0 4 0 28 0 14 0 2 0 12 0 3 0 13 0 12 0 12 0 4 0 2 0 19 0 12 0 54 0 18 0 9 0 15 0 14 0 4 0 7 0 1 0 8 0 3 0 5 0 10 0 7 0 3 0 17 0 9 0 6 0 9 0 5 0 2 0 14 0 1 0 7 0 3 0 7 0 4 0 2 0 5 0 24 0 18 0 10 0 35 0 8 0 3 0 2 0 26 0 3 0 21 0 19 0 2 0 7 0 20 0 12 0 5 0 6 0 14 0 17 0 4 0 8 0 13 0 2 0 4 0 16 0 12 0 5 0 5 0 4 0 6 0 10 0 2 0 2 0 4 0 3 0 7 0 11 0 4 0 3 0 3 0 2 0 7 0 1 0 12 0 8 0 10 0 16 0 4 0 5 0 4 0 1 0 3 0 5 0 32 0 1 0 6 0 1 0 15 0 25 0 2 0 24 0 2 0 9 0 1 0 17 0 7 0 21 0 9 0 2 0 2 0 11 0 26 0 3 0 14 0 16 0 35 0 8 0 6 0 12 0 5 0 1 0 8 0 5 0 21 0 6 0 6 0 4 0 8 0 4 0 2 0 5 0 2 0 6 0 1 0 10 0 2 0 9 0 1 0 12 0 2 0 2 0 5 0 15 0 18 0 20 0 1 0 7 0 12 0 2 0 5 0 8 0 3 0 9 0 1 0 4 0 1 0 20 0 1 0 4 0 11 0 12 0 7 0 20 0 9 0 17 0 6 0 18 0 2 0 7 0 7 0 18 0 10 0 6 0 5 0 25 0 2 0 1 0 3 0 1 0 10 0 1 0 16 0 5 0 4 0 1 0 13 0 9 0 3 0 32 0 9 0 2 0 1 0 5 0 58 0 9 0 1 0 6 0 8 0 2 0 4 0 2 0 2 0 1 0 1 0 1 0 2 0 2 0 2 0 7 0 3 0 2 0 3 0 14 0 4 0 3 0 5 0 3 0 5 0 1 0 1 0 7 0 2 0 1 0 4 0 2 0 4 0 12 0 15 0 1 0 3 0 1 0 1 0 6 0 6 0 2 0 6 0 13 0 3 0 1 0 4 0 2 0 4 0 1 0 6 0 2 0 1 0 7 0 1 0 7 0 12 0 1 0 3 0 3 0 3 0 1 0 1 0 9 0 1 0 4 0 2 0 3 0 1 0 5 0 4 0 1 0 1 0 3 0 2 0 3 0 2 0 5 0 5 0 4 0 3 0 2 0 1 0 2 0 3 0 2 0 5 0 7 0 13 0 1 0 2 0 6 0 13 0 1 0 22 0 8 0 1 0 13 0 14 0 21 0 1 0 10 0 10 0 6 0 1 0 10 0 20 0 4 0 11 0 3 0 10 0 4 0 16 0 3 0 2 0 1 0 6 0 4 0 8 0 4 0 8 0 1 0 3 0 7 0 5 0 7 0 2 0 1 0 11 0 1 0 35 0 11 0 7 0 6 0 8 0 11 0 33 0 13 0 6 0 10 0 14 0 16 0 4 0 20 0 21 0 1 0 19 0 2 0 5 0 19 0 16 0 3 0 5 0 29 0 11 0 1 0 4 0 1 0 6 0 2 0 21 0 8 0 2 0 3 0 3 0 1 0 7 0 14 0 3 0 9 0 3 0 21 0 1 0 4 0 8 0 6 0 18 0 4 0 11 0 7 0 19 0 12 0 5 0 13 0 4 0 2 0 7 0 10 0 16 0 12 0 2 0 2 0 15 0 2 0 2 0 6 0 6 0 17 0 8 0 2 0 5 0 21 0 16 0 6 0 10 0 8 0 9 0 18 0 11 0 3 0 2 0 1 0 7 0 10 0 3 0 1 0 13 0 33 0 4 0 10 0 2 0 3 0 20 0 12 0 20 0 3 0 5 0 2 0 2 0 8 0 23 0 2 0 2 0 6 0 8 0 19 0 2 0 6 0 7 0 7 0 3 0 10 0 11 0 1 0 10 0 5 0 7 0 24 0 4 0 4 0 11 0 4 0 11 0 5 0 16 0 15 0 12 0 11 0 23 0 9 0 2 0 32 0 15 0 11 0 3 0 11 0 3 0 1 0 1 0 8 0 2 0 1 0 5 0 46 0 1 0 14 0 23 0 7 0 4 0 25 0 19 0 3 0 8 0 1 0 10 0 9 0 1 0 2 0 9 0 4 0 8 0 17 0 2 0 12 0 9 0 10 0 21 0 12 0 1 0 1 0 19 0 7 0 1 0 15 0 13 0 7 0 1 0 3 0 28 0 5 0 10 0 38 0 1 0 9 0 10 0 16 0 13 0 5 0 5 0 17 0 2 0 34 0 4 0 7 0 3 0 10 0 19 0 6 0 4 0 21 0 6 0 20 0 4 0 18 0 28 0 3 0 3 0 8 0 3 0 2 0 11 0 13 0 1 0 1 0 4 0 5 0 1 0 2 0 30 0 7 0 50 0 22 0 4 0 3 0 5 0 2 0 1 0 2 0 10 0 1 0 13 0 12 0 3 0 8 0 5 0 6 0 14 0 17 0 4 0 8 0 10 0 13 0 6 0 1 0 7 0 3 0 1 0 1 0 1 0 9 0 4 0 13 0 6 0 19 0 4 0 8 0 3 0 5 0 2 0 6 0 7 0 1 0 3 0 13 0 4 0 2 0 10 0 7 0 6 0 4 0 3 0 3 0 4 0 11 0 3 0 3 0 25 0 4 0 2 0 4 0 1 0 14 0 3 0 2 0 1 0 11 0 13 0 3 0 6 0 7 0 2 0 1 0 6 0 10 0 1 0 1 0 2 0 2 0 3 0 1 0 11 0 32 0 4 0 12 0 5 0 14 0 2 0 6 0 11 0 10 0 3 0 7 0 6 0 3 0 11 0 17 0 32 0 10 0 3 0 23 0 6 0 13 0 1 0 1 0 1 0 5 0 5 0 1 0 5 0 5 0 15 0 14 0 7 0 9 0 1 0 15 0 5 0 6 0 5 0 6 0 8 0 20 0 4 0 2 0 4 0 2 0 2 0 4 0 19 0 6 0 4 0 4 0 8 0 1 0 2 0 38 0 4 0 1 0 10 0 11 0 20 0 22 0 15 0 3 0 8 0 16 0 31 0 2 0 9 0 27 0 53 0 10 0 8 0 8 0 2 0 5 0 5 0 1 0 2 0 7 0 37 0 7 0 4 0 10 0 12 0 7 0 8 0 9 0 11 0 4 0 11 0 16 0 15 0 9 0 8 0 6 0 1 0 22 0 29 0 12 0 25 0 1 0 12 0 3 0 7 0 7 0 8 0 7 0 6 0 20 0 1 0 3 0 4 0 3 0 1 0 9 0 24 0 17 0 6 0 5 0 11 0 28 0 26 0 16 0 4 0 1 0 2 0 9 0 18 0 5 0 5 0 11 0 1 0 11 0 26 0 14 0 1 0 3 0 3 0 9 0 8 0 6 0 30 0 4 0 12 0 26 0 2 0 9 0 5 0 12 0 16 0 13 0 1 0 9 0 18 0 4 0 8 0 7 0 24 0 4 0 1 0 20 0 1 0 3 0 1 0 10 0 5 0 2 0 38 0 22 0 11 0 12 0 8 0 1 0 8 0 11 0 2 0 9 0 19 0 13 0 14 0 5 0 2 0 1 0 4 0 6 0 9 0 16 0 2 0 10 0 8 0 46 0 3 0 11 0 10 0 9 0 7 0 2 0 15 0 43 0 9 0 5 0 6 0 21 0 9 0 22 0 5 0 5 0 7 0 19 0 36 0 2 0 12 0 13 0 1 0 1 0 6 0 15 0 6 0 5 0 4 0 23 0 2 0 28 0 15 0 18 0 1 0 4 0 2 0 2 0 5 0 2 0 1 0 4 0 4 0 1 0 6 0 3 0 3 0 3 0 17 0 10 0 4 0 1 0 4 0 1 0 1 0 6 0 5 0 4 0 1 0 6 0 21 0 6 0 2 0 2 0 6 0 4 0 14 0 4 0 9 0 3 0 1 0 8 0 7 0 3 0 2 0 3 0 3 0 6 0 5 0 7 0 9 0 1 0 5 0 5 0 10 0 1 0 3 0 2 0 14 0 4 0 5 0 7 0 7 0 5 0 7 0 2 0 34 0 6 0 10 0 4 0 46 0 5 0 2 0 2 0 2 0 2 0 15 0 9 0 5 0 1 0 1 0 1 0 1 0 30 0 1 0 9 0 17 0 1 0 2 0 7 0 26 0 5 0 6 0 16 0 9 0 8 0 14 0 4 0 2 0 1 0 28 0 3 0 3 0 8 0 1 0 9 0 1 0 8 0 2 0 9 0 11 0 24 0 10 0 4 0 2 0 7 0 7 0 5 0 12 0 3 0 13 0 7 0 14 0 2 0 46 0 14 0 26 0 15 0 3 0 14 0 19 0 16 0 1 0 2 0 3 0 26 0 2 0 4 0 1 0 9 0 1 0 1 0 4 0 2 0 5 0 8 0 17 0 10 0 9 0 2 0 15 0 1 0 2 0 2 0 7 0 1 0 21 0 7 0 8 0 11 0 10 0 17 0 34 0 6 0 28 0 3 0 35 0 4 0 6 0 13 0 2 0 7 0 3 0 1 0 4 0 1 0 4 0 1 0 12 0 8 0 9 0 30 0 14 0 11 0 6 0 22 0 11 0 4 0 21 0 15 0 5 0 22 0 26 0 5 0 6 0 5 0 1 0 7 0 9 0 16 0 1 0 2 0 5 0 9 0 4 0 7 0 23 0 31 0 2 0 11 0 24 0 5 0 5 0 1 0 11 0 26 0 2 0 3 0 11 0 7 0 9 0 13 0 5 0 27 0 5 0 4 0 8 0 4 0 3 0 4 0 6 0 1 0 27 0 4 0 5 0 15 0 3 0 4 0 1 0 3 0 16 0 20 0 7 0 8 0 3 0 7 0 15 0 2 0 13 0 15 0 6 0 2 0 8 0 5 0 4 0 7 0 1 0 5 0 15 0 2 0 5 0 1 0 19 0 3 0 12 0 3 0 3 0 1 0 6 0 4 0 8 0 13 0 2 0 5 0 24 0 1 0 1 0 11 0 3 0 5 0 18 0 4 0 6 0 7 0 7 0 28 0 15 0 2 0 11 0 2 0 17 0 5 0 11 0 9 0 23 0 11 0 9 0 7 0 10 0 1 0 2 0 30 0 4 0 3 0 7 0 4 0 2 0 3 0 7 0 5 0 11 0 23 0 7 0 6 0 21 0 13 0 15 0 6 0 17 0 24 0 5 0 21 0 3 0 10 0 14 0 21 0 3 0 4 0 24 0 1 0 4 0 9 0 10 0 10 0 6 0 4 0 4 0 12 0 4 0 5 0 2 0 30 0 5 0 1 0 6 0 1 0 23 0 2 0 7 0 8 0 13 0 5 0 10 0 35 0 7 0 1 0 3 0 2 0 4 0 5 0 5 0 14 0 1 0 2 0 10 0 11 0 3 0 1 0 9 0 3 0 3 0 1 0 5 0 1 0 9 0 6 0 7 0 5 0 2 0 6 0 3 0 2 0 13 0 8 0 3 0 8 0 5 0 5 0 2 0 2 0 2 0 1 0 2 0 4 0 3 0 6 0 2 0 3 0 7 0 1 0 8 0 10 0 2 0 1 0 2 0 3 0 3 0 3 0 2 0 7 0 22 0 1 0 7 0 1 0 9 0 1 0 5 0 2 0 1 0 11 0 5 0 4 0 17 0 6 0 8 0 18 0 4 0 1 0 11 0 3 0 13 0 11 0 4 0 10 0 4 0 1 0 34 0 25 0 8 0 11 0 22 0 11 0 2 0 2 0 5 0 2 0 12 0 2 0 3 0 10 0 6 0 13 0 3 0 2 0 2 0 35 0 10 0 5 0 6 0 1 0 2 0 4 0 5 0 5 0 17 0 4 0 15 0 13 0 2 0 2 0 5 0 2 0 5 0 8 0 1 0 15 0 16 0 23 0 14 0 18 0 9 0 12 0 7 0 2 0 15 0 6 0 5 0 15 0 1 0 4 0 3 0 3 0 3 0 2 0 2 0 3 0 3 0 14 0 7 0 10 0 22 0 6 0 26 0 6 0 23 0 2 0 14 0 8 0 4 0 15 0 2 0 1 0 2 0 16 0 3 0 3 0 1 0 1 0 4 0 21 0 3 0 2 0 5 0 6 0 1 0 3 0 10 0 14 0 33 0 8 0 6 0 13 0 12 0 2 0 25 0 2 0 7 0 9 0 27 0 6 0 5 0 1 0 14 0 7 0 10 0 15 0 11 0 8 0 4 0 1 0 19 0 10 0 12 0 11 0 12 0 5 0 3 0 4 0 19 0 3 0 8 0 2 0 1 0 10 0 5 0 5 0 5 0 1 0 5 0 2 0 3 0 5 0 16 0 6 0 2 0 20 0 11 0 9 0 4 0 15 0 8 0 5 0 6 0 23 0 13 0 1 0 16 0 6 0 5 0 16 0 1 0 11 0 9 0 20 0 8 0 37 0 6 0 8 0 25 0 64 0 10 0 2 0 9 0 2 0 11 0 8 0 7 0 9 0 2 0 8 0 22 0 18 0 3 0 1 0 4 0 12 0 5 0 10 0 2 0 5 0 5 0 5 0 1 0 14 0 5 0 21 0 16 0 9 0 1 0 1 0 3 0 1 0 2 0 16 0 5 0 4 0 11 0 12 0 10 0 5 0 3 0 14 0 8 0 1 0 3 0 17 0 1 0 8 0 2 0 5 0 7 0 6 0 10 0 1 0 5 0 6 0 5 0 4 0 14 0 6 0 15 0 4 0 3 0 1 0 5 0 3 0 22 0 10 0 5 0 1 0 7 0 22 0 9 0 3 0 1 0 6 0 7 0 3 0 2 0 6 0 20 0 5 0 5 0 4 0 1 0 1 0 10 0 5 0 9 0 9 0 23 0 1 0 4 0 2 0 13 0 17 0 1 0 9 0 35 0 3 0 13 0 4 0 11 0 2 0 2 0 6 0 1 0 3 0 1 0 4 0 13 0 7 0 1 0 2 0 9 0 9 0 2 0 7 0 11 0 4 0 22 0 3 0 2 0 3 0 12 0 11 0 6 0 7 0 28 0 5 0 7 0 4 0 5 0 10 0 9 0 2 0 1 0 2 0 4 0 26 0 10 0 4 0 3 0 1 0 3 0 4 0 1 0 5 0 1 0 2 0 8 0 5 0 1 0 4 0 2 0 3 0 2 0 4 0 5 0 8 0 2 0 10 0 7 0 4 0 14 0 15 0 3 0 3 0 3 0 2 0 10 0 1 0 3 0 2 0 8 0 1 0 5 0 4 0 13 0 3 0 24 0 3 0 1 0 3 0 6 0 8 0 7 0 1 0 2 0 13 0 2 0 27 0 8 0 16 0 8 0 7 0 2 0 1 0 14 0 10 0 13 0 26 0 5 0 5 0 4 0 3 0 18 0 5 0 5 0 7 0 5 0 26 0 6 0 5 0 15 0 12 0 19 0 16 0 7 0 4 0 5 0 2 0 6 0 1 0 5 0 10 0 16 0 6 0 9 0 4 0 32 0 10 0 6 0 18 0 4 0 10 0 18 0 5 0 6 0 3 0 8 0 15 0 3 0 2 0 6 0 14 0 10 0 1 0 5 0 11 0 10 0 11 0 24 0 4 0 2 0 5 0 19 0 2 0 3 0 18 0 27 0 5 0 5 0 1 0 20 0 10 0 1 0 6 0 26 0 2 0 18 0 13 0 12 0 12 0 2 0 1 0 20 0 10 0 9 0 4 0 2 0 1 0 17 0 11 0 5 0 9 0 5 0 6 0 31 0 4 0 20 0 4 0 20 0 37 0 16 0 13 0 10 0 4 0 6 0 2 0 8 0 5 0 1 0 12 0 12 0 13 0 7 0 7 0 8 0 3 0 19 0 5 0 8 0 5 0 3 0 7 0 13 0 29 0 1 0 10 0 2 0 15 0 2 0 9 0 12 0 47 0 4 0 3 0 1 0 11 0 26 0 3 0 13 0 10 0 2 0 11 0 1 0 12 0 2 0 44 0 7 0 3 0 5 0 3 0 2 0 3 0 24 0 8 0 5 0 6 0 13 0 7 0 9 0 19 0 4 0 5 0 6 0 6 0 9 0 14 0 10 0 6 0 4 0 11 0 10 0 1 0 11 0 10 0 7 0 15 0 3 0 17 0 5 0 12 0 26 0 3 0 7 0 1 0 18 0 3 0 13 0 3 0 9 0 7 0 2 0 5 0 19 0 25 0 4 0 1 0 6 0 10 0 1 0 15 0 11 0 29 0 2 0 1 0 5 0 5 0 1 0 2 0 8 0 1 0 8 0 4 0 3 0 13 0 1 0 1 0 11 0 4 0 1 0 9 0 8 0 8 0 7 0 4 0 18 0 4 0 19 0 29 0 1 0 8 0 1 0 16 0 11 0 5 0 16 0 10 0 2 0 18 0 7 0 11 0 3 0 3 0 5 0 13 0 29 0 3 0 1 0 23 0 4 0 1 0 6 0 14 0 1 0 3 0 17 0 45 0 4 0 4 0 1 0 1 0 13 0 3 0 9 0 4 0 2 0 11 0 13 0 2 0 5 0 1 0 9 0 9 0 17 0 1 0 5 0 5 0 4 0 5 0 4 0 13 0 1 0 3 0 14 0 31 0 2 0 18 0 4 0 7 0 5 0 3 0 2 0 20 0 2 0 5 0 4 0 5 0 1 0 1 0 10 0 4 0 2 0 10 0 6 0 5 0 3 0 2 0 9 0 10 0 2 0 1 0 20 0 3 0 1 0 7 0 8 0 3 0 2 0 4 0 2 0 5 0 1 0 2 0 15 0 11 0 9 0 1 0 8 0 2 0 6 0 1 0 4 0 3 0 2 0 1 0 3 0 5 0 1 0 1 0 9 0 11 0 1 0 1 0 2 0 14 0 15 0 10 0 6 0 17 0 4 0 4 0 18 0 9 0 1 0 14 0 1 0 11 0 27 0 16 0 6 0 9 0 54 0 24 0 1 0 16 0 1 0 16 0 8 0 3 0 4 0 17 0 5 0 60 0 4 0 25 0 28 0 14 0 12 0 2 0 3 0 3 0 11 0 6 0 5 0 1 0 4 0 6 0 4 0 5 0 6 0 1 0 1 0 28 0 1 0 6 0 1 0 4 0 5 0 7 0 11 0 35 0 5 0 5 0 2 0 1 0 3 0 1 0 3 0 2 0 7 0 22 0 3 0 2 0 5 0 6 0 19 0 15 0 21 0 22 0 14 0 3 0 17 0 4 0 6 0 16 0 2 0 2 0 5 0 20 0 6 0 4 0 1 0 7 0 30 0 2 0 14 0 10 0 2 0 4 0 2 0 2 0 3 0 11 0 2 0 16 0 31 0 6 0 7 0 6 0 2 0 3 0 2 0 1 0 2 0 2 0 1 0 16 0 8 0 2 0 3 0 5 0 13 0 1 0 1 0 3 0 23 0 16 0 12 0 2 0 3 0 19 0 1 0 7 0 3 0 15 0 22 0 12 0 8 0 2 0 20 0 1 0 3 0 5 0 37 0 8 0 1 0 8 0 9 0 4 0 9 0 3 0 2 0 8 0 5 0 6 0 5 0 23 0 2 0 2 0 9 0 1 0 3 0 34 0 5 0 6 0 5 0 7 0 38 0 1 0 5 0 10 0 6 0 4 0 3 0 7 0 2 0 14 0 1 0 7 0 4 0 1 0 4 0 27 0 3 0 8 0 1 0 3 0 12 0 23 0 12 0 18 0 10 0 11 0 3 0 10 0 3 0 5 0 9 0 21 0 11 0 15 0 15 0 1 0 6 0 1 0 19 0 1 0 6 0 14 0 7 0 6 0 14 0 23 0 14 0 6 0 16 0 7 0 2 0 35 0 5 0 32 0 5 0 5 0 6 0 6 0 5 0 7 0 1 0 8 0 5 0 4 0 14 0 3 0 21 0 10 0 3 0 3 0 7 0 13 0 5 0 7 0 5 0 3 0 2 0 2 0 4 0 20 0 35 0 32 0 7 0 5 0 3 0 32 0 13 0 5 0 2 0 2 0 4 0 2 0 1 0 8 0 2 0 11 0 2 0 1 0 5 0 2 0 5 0 6 0 2 0 11 0 3 0 4 0 7 0 3 0 1 0 10 0 15 0 1 0 12 0 2 0 11 0 1 0 2 0 18 0 8 0 20 0 5 0 3 0 3 0 4 0 1 0 3 0 2 0 4 0 1 0 1 0 3 0 1 0 2 0 3 0 2 0 7 0 1 0 6 0 11 0 7 0 3 0 13 0 2 0 3 0 4 0 3 0 2 0 1 0 2 0 1 0 7 0 1 0 8 0 3 0 4 0 7 0 3 0 6 0 16 0 14 0 5 0 3 0 4 0 1 0 9 0 7 0 8 0 12 0 5 0 6 0 7 0 2 0 1 0 2 0 4 0 7 0 10 0 15 0 19 0 2 0 5 0 3 0 28 0 10 0 11 0 11 0 7 0 3 0 15 0 2 0 3 0 1 0 2 0 2 0 7 0 1 0 6 0 3 0 33 0 22 0 3 0 2 0 7 0 7 0 16 0 2 0 18 0 7 0 10 0 5 0 9 0 12 0 4 0 8 0 1 0 12 0 2 0 9 0 1 0 2 0 8 0 2 0 1 0 2 0 14 0 3 0 1 0 4 0 15 0 16 0 1 0 2 0 4 0 1 0 9 0 9 0 7 0 10 0 4 0 1 0 7 0 3 0 16 0 1 0 4 0 8 0 9 0 3 0 8 0 4 0 7 0 2 0 4 0 6 0 8 0 7 0 41 0 5 0 11 0 13 0 3 0 5 0 7 0 3 0 6 0 2 0 8 0 10 0 22 0 11 0 5 0 13 0 9 0 2 0 4 0 27 0 6 0 8 0 4 0 6 0 17 0 27 0 4 0 16 0 1 0 18 0 8 0 4 0 17 0 17 0 3 0 25 0 3 0 14 0 15 0 12 0 6 0 12 0 13 0 17 0 12 0 3 0 23 0 4 0 21 0 1 0 9 0 26 0 5 0 6 0 7 0 12 0 11 0 2 0 7 0 4 0 5 0 6 0 4 0 14 0 11 0 4 0 19 0 2 0 6 0 5 0 8 0 2 0 3 0 11 0 12 0 12 0 4 0 4 0 1 0 2 0 9 0 4 0 10 0 6 0 2 0 10 0 9 0 2 0 15 0 10 0 4 0 16 0 2 0 15 0 12 0 37 0 7 0 8 0 10 0 9 0 2 0 5 0 5 0 12 0 13 0 5 0 10 0 13 0 12 0 14 0 22 0 11 0 14 0 7 0 11 0 7 0 3 0 13 0 1 0 4 0 24 0 1 0 14 0 9 0 17 0 7 0 16 0 5 0 10 0 5 0 17 0 25 0 1 0 4 0 3 0 4 0 1 0 2 0 21 0 1 0 4 0 2 0 21 0 5 0 13 0 3 0 10 0 18 0 3 0 3 0 7 0 11 0 10 0 2 0 15 0 1 0 1 0 16 0 12 0 9 0 19 0 7 0 3 0 7 0 5 0 4 0 34 0 3 0 4 0 11 0 7 0 3 0 21 0 1 0 15 0 25 0 4 0 5 0 1 0 15 0 17 0 4 0 15 0 21 0 21 0 5 0 2 0 10 0 8 0 5 0 2 0 9 0 2 0 19 0 13 0 4 0 2 0 23 0 3 0 1 0 8 0 1 0 2 0 4 0 2 0 5 0 7 0 1 0 7 0 1 0 8 0 11 0 6 0 8 0 16 0 2 0 1 0 10 0 5 0 6 0 4 0 1 0 3 0 1 0 2 0 4 0 6 0 3 0 7 0 7 0 4 0 1 0 7 0 3 0 2 0 11 0 5 0 2 0 4 0 1 0 5 0 2 0 2 0 3 0 5 0 5 0 8 0 1 0 1 0 3 0 1 0 8 0 5 0 2 0 3 0 1 0 4 0 9 0 4 0 3 0 5 0 3 0 7 0 9 0 6 0 6 0 1 0 3 0 5 0 11 0 22 0 1 0 8 0 1 0 1 0 6 0 8 0 2 0 40 0 14 0 8 0 4 0 2 0 7 0 4 0 10 0 16 0 3 0 1 0 11 0 5 0 6 0 4 0 3 0 10 0 17 0 2 0 5 0 5 0 7 0 6 0 3 0 6 0 26 0 5 0 3 0 3 0 4 0 3 0 14 0 5 0 5 0 17 0 12 0 14 0 17 0 20 0 6 0 6 0 23 0 2 0 2 0 1 0 8 0 38 0 12 0 2 0 1 0 1 0 2 0 21 0 5 0 2 0 14 0 16 0 4 0 4 0 8 0 8 0 2 0 18 0 11 0 6 0 9 0 2 0 21 0 24 0 2 0 6 0 3 0 1 0 17 0 17 0 2 0 5 0 16 0 2 0 11 0 11 0 9 0 5 0 6 0 4 0 6 0 12 0 11 0 24 0 8 0 26 0 3 0 6 0 2 0 2 0 35 0 5 0 26 0 4 0 1 0 14 0 5 0 14 0 10 0 10 0 9 0 8 0 18 0 9 0 2 0 13 0 8 0 3 0 2 0 4 0 17 0 2 0 5 0 11 0 1 0 4 0 11 0 3 0 28 0 5 0 12 0 4 0 4 0 13 0 4 0 11 0 1 0 19 0 29 0 4 0 10 0 4 0 2 0 25 0 1 0 12 0 28 0 7 0 13 0 2 0 6 0 9 0 1 0 1 0 1 0 8 0 1 0 44 0 2 0 11 0 2 0 4 0 3 0 5 0 15 0 8 0 6 0 16 0 32 0 2 0 3 0 1 0 3 0 11 0 3 0 5 0 3 0 6 0 9 0 3 0 8 0 2 0 15 0 5 0 5 0 8 0 3 0 10 0 4 0 5 0 8 0 5 0 3 0 8 0 8 0 5 0 3 0 28 0 8 0 12 0 2 0 9 0 15 0 29 0 2 0 2 0 3 0 13 0 14 0 8 0 8 0 10 0 5 0 1 0 1 0 3 0 13 0 3 0 5 0 6 0 10 0 7 0 52 0 16 0 4 0 3 0 3 0 17 0 1 0 3 0 8 0 23 0 5 0 2 0 2 0 4 0 4 0 6 0 5 0 2 0 5 0 8 0 4 0 9 0 3 0 1 0 14 0 6 0 8 0 8 0 1 0 1 0 5 0 37 0 6 0 14 0 25 0 2 0 21 0 27 0 7 0 5 0 18 0 1 0 4 0 3 0 6 0 5 0 3 0 2 0 21 0 1 0 4 0 3 0 16 0 5 0 1 0 27 0 5 0 20 0 10 0 6 0 1 0 10 0 7 0 8 0 6 0 8 0 2 0 16 0 7 0 1 0 9 0 7 0 14 0 11 0 7 0 4 0 1 0 5 0 3 0 27 0 1 0 5 0 10 0 1 0 8 0 2 0 8 0 3 0 6 0 2 0 3 0 9 0 5 0 2 0 2 0 3 0 2 0 8 0 1 0 2 0 2 0 1 0 3 0 4 0 6 0 2 0 3 0 5 0 3 0 2 0 6 0 6 0 11 0 1 0 3 0 2 0 1 0 4 0 1 0 2 0 4 0 4 0 1 0 4 0 5 0 10 0 9 0 9 0 7 0 1 0 8 0 13 0 4 0 11 0 12 0 4 0 1 0 4 0 1 0 1 0 10 0 7 0 5 0 1 0 4 0 1 0 4 0 5 0 1 0 2 0 1 0 8 0 8 0 2 0 14 0 3 0 14 0 10 0 13 0 3 0 3 0 2 0 2 0 9 0 22 0 7 0 5 0 18 0 1 0 7 0 4 0 2 0 7 0 9 0 20 0 8 0 6 0 20 0 38 0 7 0 12 0 7 0 11 0 2 0 3 0 3 0 3 0 8 0 3 0 20 0 4 0 2 0 4 0 1 0 7 0 53 0 7 0 4 0 3 0 9 0 14 0 16 0 5 0 18 0 1 0 7 0 1 0 13 0 1 0 3 0 3 0 21 0 35 0 12 0 6 0 18 0 17 0 6 0 11 0 12 0 9 0 3 0 4 0 3 0 8 0 9 0 4 0 1 0 15 0 10 0 14 0 4 0 4 0 23 0 3 0 2 0 11 0 4 0 11 0 10 0 2 0 3 0 4 0 1 0 3 0 9 0 4 0 15 0 19 0 2 0 3 0 3 0 15 0 16 0 18 0 4 0 10 0 30 0 23 0 5 0 1 0 1 0 1 0 10 0 6 0 10 0 4 0 14 0 7 0 15 0 5 0 13 0 3 0 8 0 3 0 15 0 24 0 8 0 32 0 1 0 11 0 16 0 8 0 1 0 15 0 23 0 6 0 6 0 19 0 6 0 8 0 6 0 23 0 2 0 7 0 1 0 3 0 14 0 2 0 26 0 2 0 2 0 4 0 1 0 16 0 5 0 7 0 9 0 1 0 3 0 3 0 5 0 4 0 6 0 4 0 6 0 6 0 6 0 3 0 1 0 4 0 29 0 7 0 2 0 1 0 21 0 9 0 12 0 4 0 4 0 6 0 16 0 25 0 1 0 5 0 2 0 23 0 2 0 1 0 3 0 5 0 8 0 9 0 37 0 4 0 5 0 3 0 5 0 5 0 15 0 2 0 3 0 12 0 4 0 1 0 12 0 2 0 5 0 1 0 12 0 3 0 22 0 10 0 18 0 15 0 15 0 1 0 1 0 11 0 3 0 1 0 15 0 1 0 21 0 9 0 1 0 29 0 29 0 7 0 6 0 2 0 4 0 16 0 13 0 8 0 13 0 7 0 8 0 1 0 2 0 4 0 6 0 1 0 5 0 3 0 5 0 8 0 10 0 1 0 8 0 7 0 16 0 7 0 1 0 6 0 18 0 18 0 3 0 3 0 10 0 32 0 5 0 21 0 17 0 4 0 1 0 9 0 1 0 2 0 3 0 11 0 22 0 5 0 3 0 2 0 2 0 2 0 7 0 3 0 13 0 9 0 2 0 4 0 2 0 15 0 8 0 2 0 3 0 2 0 2 0 3 0 5 0 4 0 5 0 4 0 4 0 16 0 4 0 7 0 2 0 1 0 6 0 4 0 2 0 6 0 4 0 2 0 8 0 5 0 13 0 4 0 6 0 5 0 1 0 2 0 5 0 2 0 7 0 3 0 2 0 4 0 1 0 2 0 7 0 18 0 15 0 23 0 5 0 7 0 18 0 14 0 3 0 3 0 12 0 5 0 3 0 7 0 7 0 9 0 4 0 2 0 11 0 5 0 1 0 8 0 8 0 2 0 19 0 8 0 8 0 2 0 3 0 5 0 8 0 1 0 2 0 15 0 1 0 3 0 4 0 14 0 3 0 2 0 15 0 5 0 5 0 31 0 33 0 9 0 21 0 11 0 2 0 10 0 9 0 7 0 3 0 1 0 10 0 30 0 1 0 1 0 2 0 2 0 7 0 8 0 14 0 15 0 1 0 5 0 5 0 3 0 12 0 15 0 5 0 11 0 6 0 10 0 4 0 24 0 4 0 4 0 11 0 3 0 3 0 1 0 1 0 10 0 5 0 9 0 11 0 1 0 18 0 4 0 3 0 1 0 1 0 9 0 7 0 6 0 2 0 2 0 10 0 4 0 1 0 2 0 2 0 4 0 5 0 25 0 3 0 23 0 6 0 6 0 3 0 6 0 14 0 39 0 6 0 3 0 6 0 6 0 4 0 17 0 36 0 7 0 1 0 2 0 1 0 34 0 7 0 13 0 8 0 6 0 6 0 1 0 1 0 3 0 4 0 18 0 3 0 3 0 4 0 6 0 3 0 9 0 8 0 42 0 5 0 6 0 4 0 3 0 3 0 3 0 13 0 7 0 4 0 20 0 7 0 1 0 9 0 10 0 2 0 6 0 5 0 15 0 6 0 15 0 13 0 16 0 10 0 26 0 9 0 10 0 12 0 1 0 9 0 1 0 17 0 55 0 1 0 19 0 3 0 5 0 10 0 11 0 10 0 5 0 1 0 3 0 23 0 3 0 6 0 10 0 31 0 6 0 5 0 3 0 8 0 2 0 5 0 4 0 5 0 10 0 23 0 5 0 16 0 9 0 5 0 5 0 2 0 7 0 3 0 1 0 4 0 2 0 8 0 6 0 5 0 13 0 9 0 11 0 31 0 4 0 7 0 7 0 3 0 5 0 1 0 6 0 29 0 21 0 6 0 11 0 12 0 10 0 16 0 1 0 62 0 3 0 13 0 21 0 7 0 13 0 1 0 3 0 7 0 1 0 2 0 5 0 1 0 9 0 4 0 18 0 8 0 11 0 7 0 10 0 21 0 3 0 24 0 5 0 11 0 1 0 2 0 1 0 38 0 4 0 5 0 6 0 14 0 5 0 3 0 15 0 12 0 2 0 17 0 10 0 23 0 2 0 13 0 11 0 19 0 39 0 32 0 10 0 12 0 3 0 1 0 4 0 1 0 30 0 7 0 6 0 2 0 8 0 1 0 1 0 4 0 9 0 2 0 6 0 16 0 2 0 2 0 3 0 1 0 3 0 3 0 2 0 3 0 2 0 5 0 10 0 3 0 1 0 4 0 11 0 21 0 3 0 5 0 6 0 10 0 6 0 4 0 4 0 5 0 2 0 1 0 9 0 10 0 6 0 1 0 7 0 1 0 1 0 14 0 3 0 3 0 2 0 10 0 3 0 1 0 8 0 8 0 1 0 9 0 1 0 6 0 1 0 2 0 2 0 1 0 2 0 1 0 6 0 4 0 6 0 7 0 26 0 3 0 3 0 3 0 5 0 22 0 2 0 13 0 23 0 11 0 13 0 7 0 3 0 2 0 4 0 3 0 3 0 12 0 4 0 11 0 5 0 1 0 3 0 6 0 18 0 8 0 24 0 30 0 10 0 4 0 3 0 4 0 9 0 7 0 55 0 4 0 15 0 7 0 8 0 5 0 22 0 13 0 6 0 2 0 39 0 3 0 3 0 3 0 2 0 26 0 1 0 23 0 13 0 4 0 2 0 4 0 4 0 7 0 5 0 4 0 5 0 3 0 9 0 5 0 5 0 9 0 13 0 9 0 33 0 1 0 7 0 8 0 1 0 9 0 1 0 4 0 6 0 6 0 10 0 8 0 1 0 2 0 7 0 3 0 9 0 10 0 2 0 5 0 6 0 2 0 8 0 8 0 12 0 2 0 11 0 4 0 10 0 1 0 5 0 22 0 2 0 16 0 28 0 37 0 1 0 3 0 7 0 14 0 7 0 4 0 1 0 1 0 3 0 7 0 18 0 3 0 10 0 3 0 3 0 2 0 4 0 3 0 6 0 21 0 28 0 1 0 5 0 5 0 25 0 1 0 14 0 3 0 9 0 5 0 20 0 11 0 17 0 1 0 25 0 1 0 26 0 14 0 8 0 2 0 32 0 18 0 3 0 1 0 2 0 9 0 4 0 2 0 3 0 3 0 32 0 18 0 2 0 4 0 10 0 10 0 7 0 15 0 5 0 7 0 3 0 17 0 13 0 17 0 17 0 4 0 11 0 11 0 6 0 2 0 2 0 1 0 6 0 27 0 1 0 4 0 12 0 4 0 8 0 14 0 28 0 5 0 4 0 6 0 5 0 1 0 11 0 9 0 5 0 6 0 19 0 1 0 6 0 22 0 2 0 7 0 6 0 21 0 11 0 6 0 8 0 4 0 13 0 12 0 2 0 27 0 21 0 2 0 6 0 8 0 2 0 3 0 27 0 5 0 4 0 1 0 4 0 7 0 11 0 1 0 8 0 1 0 1 0 1 0 5 0 5 0 20 0 7 0 10 0 10 0 6 0 3 0 12 0 4 0 5 0 1 0 14 0 17 0 11 0 18 0 7 0 2 0 12 0 20 0 14 0 2 0 6 0 5 0 18 0 12 0 1 0 1 0 2 0 5 0 1 0 12 0 8 0 7 0 7 0 10 0 4 0 2 0 3 0 1 0 2 0 4 0 32 0 5 0 25 0 10 0 23 0 21 0 15 0 12 0 20 0 8 0 5 0 10 0 6 0 13 0 11 0 6 0 2 0 2 0 7 0 14 0 6 0 2 0 9 0 25 0 3 0 9 0 1 0 5 0 15 0 5 0 2 0 3 0 4 0 5 0 11 0 2 0 5 0 6 0 3 0 8 0 2 0 2 0 11 0 6 0 2 0 3 0 1 0 4 0 10 0 12 0 9 0 2 0 8 0 1 0 1 0 2 0 3 0 4 0 14 0 1 0 17 0 1 0 4 0 1 0 8 0 1 0 5 0 21 0 3 0 2 0 1 0 1 0 3 0 1 0 1 0 6 0 2 0 9 0 4 0 4 0 1 0 7 0 2 0 1 0 2 0 3 0 2 0 2 0 7 0 10 0 16 0 9 0 3 0 4 0 9 0 10 0 7 0 4 0 4 0 3 0 1 0 2 0 4 0 7 0 9 0 20 0 1 0 1 0 14 0 7 0 8 0 7 0 14 0 22 0 2 0 2 0 6 0 11 0 4 0 20 0 2 0 18 0 6 0 4 0 5 0 5 0 5 0 4 0 50 0 26 0 3 0 6 0 4 0 20 0 2 0 3 0 4 0 24 0 25 0 3 0 1 0 3 0 29 0 14 0 10 0 1 0 6 0 6 0 3 0 24 0 14 0 15 0 1 0 2 0 7 0 1 0 5 0 7 0 4 0 5 0 1 0 14 0 13 0 1 0 4 0 4 0 13 0 5 0 3 0 3 0 13 0 3 0 8 0 8 0 4 0 14 0 2 0 1 0 6 0 4 0 10 0 21 0 16 0 3 0 4 0 20 0 5 0 4 0 23 0 3 0 5 0 10 0 1 0 8 0 12 0 12 0 11 0 1 0 32 0 4 0 10 0 5 0 2 0 24 0 4 0 4 0 7 0 11 0 5 0 7 0 1 0 9 0 6 0 48 0 5 0 5 0 6 0 5 0 3 0 2 0 12 0 9 0 15 0 1 0 11 0 4 0 1 0 11 0 5 0 4 0 2 0 4 0 38 0 2 0 1 0 1 0 5 0 14 0 8 0 5 0 1 0 6 0 4 0 6 0 10 0 3 0 8 0 3 0 40 0 18 0 16 0 3 0 31 0 9 0 6 0 9 0 7 0 15 0 6 0 4 0 1 0 2 0 3 0 7 0 10 0 5 0 5 0 34 0 4 0 3 0 1 0 2 0 16 0 18 0 7 0 9 0 1 0 15 0 1 0 27 0 24 0 8 0 3 0 23 0 6 0 5 0 3 0 8 0 15 0 6 0 15 0 9 0 17 0 5 0 16 0 32 0 17 0 20 0 5 0 3 0 4 0 8 0 18 0 3 0 10 0 3 0 25 0 11 0 5 0 4 0 1 0 16 0 8 0 19 0 4 0 7 0 7 0 46 0 1 0 2 0 18 0 30 0 8 0 19 0 10 0 1 0 6 0 6 0 14 0 5 0 7 0 6 0 4 0 4 0 8 0 19 0 37 0 4 0 5 0 1 0 12 0 14 0 6 0 4 0 6 0 2 0 23 0 19 0 3 0 3 0 2 0 2 0 6 0 5 0 5 0 3 0 14 0 3 0 9 0 12 0 5 0 28 0 17 0 7 0 7 0 10 0 2 0 2 0 7 0 5 0 9 0 1 0 10 0 6 0 13 0 9 0 12 0 5 0 4 0 6 0 1 0 5 0 9 0 3 0 5 0 2 0 2 0 6 0 14 0 1 0 1 0 4 0 1 0 5 0 9 0 13 0 2 0 3 0 2 0 1 0 8 0 5 0 8 0 5 0 6 0 6 0 4 0 1 0 4 0 2 0 3 0 1 0 1 0 7 0 4 0 3 0 1 0 7 0 8 0 2 0 3 0 12 0 4 0 7 0 7 0 13 0 7 0 1 0 2 0 3 0 3 0 1 0 3 0 1 0 3 0 3 0 4 0 2 0 5 0 6 0 3 0 6 0 5 0 5 0 7 0 3 0 34 0 5 0 9 0 7 0 8 0 27 0 19 0 7 0 3 0 6 0 14 0 3 0 14 0 11 0 4 0 10 0 16 0 6 0 8 0 8 0 1 0 21 0 8 0 7 0 3 0 2 0 8 0 2 0 1 0 4 0 2 0 2 0 5 0 11 0 3 0 5 0 2 0 26 0 3 0 26 0 11 0 2 0 15 0 1 0 5 0 9 0 5 0 17 0 4 0 20 0 5 0 12 0 1 0 16 0 14 0 1 0 3 0 20 0 12 0 2 0 6 0 10 0 5 0 1 0 6 0 5 0 9 0 38 0 16 0 2 0 2 0 4 0 7 0 1 0 8 0 1 0 20 0 1 0 6 0 15 0 1 0 24 0 3 0 10 0 13 0 8 0 6 0 5 0 2 0 6 0 1 0 4 0 7 0 35 0 5 0 1 0 10 0 1 0 2 0 8 0 2 0 11 0 5 0 18 0 34 0 1 0 10 0 29 0 4 0 12 0 2 0 1 0 5 0 14 0 1 0 23 0 3 0 13 0 4 0 2 0 2 0 49 0 2 0 7 0 8 0 20 0 5 0 6 0 4 0 5 0 2 0 3 0 2 0 8 0 8 0 4 0 2 0 10 0 10 0 1 0 8 0 2 0 16 0 4 0 1 0 3 0 1 0 10 0 1 0 7 0 2 0 19 0 4 0 3 0 3 0 14 0 5 0 28 0 6 0 9 0 32 0 6 0 8 0 14 0 8 0 13 0 4 0 6 0 2 0 2 0 14 0 5 0 18 0 7 0 3 0 1 0 4 0 1 0 15 0 20 0 18 0 6 0 3 0 8 0 9 0 7 0 4 0 11 0 1 0 3 0 16 0 6 0 6 0 17 0 3 0 2 0 25 0 9 0 4 0 10 0 15 0 1 0 4 0 17 0 2 0 12 0 16 0 7 0 2 0 14 0 9 0 14 0 2 0 9 0 2 0 5 0 5 0 24 0 16 0 7 0 4 0 5 0 8 0 22 0 2 0 1 0 9 0 11 0 11 0 28 0 8 0 7 0 5 0 11 0 3 0 1 0 6 0 11 0 5 0 2 0 3 0 1 0 14 0 7 0 53 0 9 0 1 0 1 0 10 0 11 0 15 0 6 0 3 0 3 0 10 0 3 0 2 0 13 0 7 0 25 0 28 0 2 0 7 0 13 0 4 0 1 0 5 0 2 0 6 0 18 0 1 0 5 0 7 0 3 0 3 0 2 0 2 0 6 0 2 0 1 0 1 0 1 0 1 0 4 0 3 0 2 0 4 0 3 0 2 0 3 0 5 0 4 0 3 0 2 0 6 0 6 0 4 0 17 0 5 0 5 0 27 0 4 0 5 0 4 0 1 0 11 0 7 0 5 0 3 0 2 0 3 0 1 0 1 0 13 0 4 0 2 0 1 0 7 0 9 0 6 0 6 0 3 0 5 0 2 0 9 0 4 0 8 0 5 0 1 0 39 0 19 0 3 0 6 0 4 0 3 0 10 0 11 0 9 0 5 0 15 0 7 0 3 0 17 0 4 0 2 0 4 0 10 0 10 0 1 0 3 0 4 0 1 0 30 0 12 0 7 0 14 0 2 0 18 0 14 0 1 0 1 0 9 0 11 0 25 0 31 0 2 0 1 0 1 0 1 0 11 0 24 0 2 0 15 0 10 0 5 0 1 0 3 0 2 0 5 0 19 0 1 0 5 0 3 0 5 0 15 0 4 0 4 0 13 0 3 0 1 0 17 0 1 0 3 0 2 0 10 0 1 0 5 0 2 0 3 0 6 0 7 0 13 0 5 0 6 0 1 0 7 0 5 0 2 0 1 0 3 0 10 0 5 0 17 0 1 0 41 0 8 0 8 0 7 0 2 0 6 0 11 0 20 0 22 0 12 0 3 0 4 0 2 0 3 0 4 0 12 0 3 0 1 0 16 0 15 0 6 0 1 0 7 0 13 0 8 0 29 0 3 0 1 0 10 0 1 0 5 0 16 0 2 0 19 0 1 0 1 0 24 0 2 0 5 0 6 0 4 0 10 0 3 0 2 0 6 0 1 0 12 0 25 0 7 0 3 0 18 0 14 0 7 0 4 0 3 0 9 0 13 0 1 0 5 0 1 0 8 0 9 0 15 0 9 0 17 0 9 0 17 0 26 0 4 0 6 0 4 0 2 0 1 0 9 0 32 0 9 0 1 0 1 0 4 0 16 0 1 0 9 0 26 0 12 0 2 0 3 0 1 0 12 0 3 0 1 0 3 0 7 0 10 0 6 0 10 0 1 0 4 0 25 0 12 0 9 0 9 0 9 0 1 0 2 0 6 0 1 0 1 0 4 0 4 0 17 0 2 0 3 0 1 0 9 0 1 0 10 0 3 0 5 0 13 0 1 0 2 0 3 0 33 0 10 0 8 0 16 0 13 0 5 0 1 0 17 0 4 0 5 0 9 0 12 0 4 0 7 0 4 0 6 0 11 0 2 0 4 0 31 0 2 0 5 0 35 0 2 0 11 0 5 0 14 0 4 0 7 0 7 0 8 0 23 0 3 0 6 0 28 0 5 0 24 0 7 0 11 0 4 0 17 0 2 0 9 0 14 0 9 0 12 0 17 0 17 0 9 0 8 0 11 0 5 0 9 0 4 0 16 0 35 0 27 0 1 0 5 0 6 0 5 0 20 0 14 0 4 0 4 0 7 0 11 0 2 0 6 0 1 0 32 0 6 0 3 0 2 0 33 0 2 0 7 0 9 0 5 0 7 0 1 0 2 0 9 0 32 0 7 0 6 0 1 0 31 0 9 0 50 0 3 0 1 0 27 0 5 0 1 0 9 0 1 0 1 0 3 0 2 0 10 0 1 0 4 0 5 0 1 0 6 0 5 0 5 0 1 0 3 0 2 0 3 0 10 0 1 0 4 0 5 0 1 0 1 0 3 0 1 0 3 0 3 0 2 0 2 0 2 0 4 0 15 0 1 0 1 0 11 0 9 0 4 0 3 0 5 0 4 0 2 0 5 0 2 0 8 0 4 0 1 0 17 0 4 0 1 0 2 0 1 0 3 0 2 0 2 0 1 0 2 0 13 0 1 0 4 0 1 0 2 0 5 0 8 0 1 0 5 0 2 0 3 0 4 0 1 0 11 0 3 0 1 0 2 0 4 0 4 0 7 0 3 0 17 0 3 0 3 0 6 0 6 0 5 0 1 0 14 0 17 0 5 0 8 0 17 0 23 0 10 0 10 0 16 0 21 0 21 0 3 0 2 0 4 0 1 0 12 0 5 0 20 0 1 0 10 0 1 0 2 0 1 0 17 0 11 0 21 0 4 0 2 0 4 0 35 0 8 0 3 0 12 0 6 0 13 0 1 0 34 0 3 0 3 0 10 0 3 0 8 0 25 0 5 0 1 0 5 0 22 0 3 0 6 0 3 0 13 0 1 0 4 0 12 0 2 0 2 0 10 0 1 0 4 0 7 0 21 0 8 0 5 0 18 0 15 0 11 0 2 0 6 0 10 0 8 0 2 0 14 0 5 0 1 0 12 0 4 0 6 0 4 0 7 0 8 0 6 0 15 0 11 0 13 0 1 0 9 0 17 0 20 0 10 0 11 0 12 0 3 0 1 0 8 0 6 0 3 0 16 0 5 0 8 0 7 0 1 0 13 0 1 0 17 0 1 0 25 0 20 0 11 0 11 0 15 0 5 0 2 0 5 0 13 0 13 0 5 0 11 0 2 0 12 0 4 0 3 0 2 0 1 0 10 0 21 0 14 0 7 0 7 0 2 0 23 0 13 0 8 0 2 0 26 0 7 0 2 0 14 0 7 0 17 0 3 0 2 0 6 0 6 0 42 0 1 0 4 0 1 0 9 0 14 0 4 0 17 0 8 0 2 0 13 0 7 0 1 0 6 0 15 0 17 0 3 0 4 0 40 0 5 0 9 0 1 0 9 0 36 0 52 0 4 0 8 0 1 0 20 0 1 0 1 0 3 0 7 0 9 0 3 0 21 0 2 0 13 0 18 0 4 0 23 0 13 0 5 0 10 0 9 0 27 0 20 0 7 0 6 0 1 0 10 0 13 0 1 0 1 0 3 0 1 0 10 0 13 0 3 0 2 0 4 0 4 0 13 0 10 0 3 0 3 0 9 0 3 0 9 0 1 0 10 0 1 0 3 0 6 0 27 0 5 0 21 0 5 0 2 0 11 0 14 0 7 0 2 0 23 0 10 0 7 0 4 0 11 0 6 0 3 0 2 0 1 0 18 0 6 0 6 0 17 0 3 0 1 0 15 0 4 0 1 0 12 0 1 0 6 0 25 0 15 0 10 0 7 0 4 0 3 0 12 0 2 0 25 0 10 0 27 0 1 0 4 0 22 0 42 0 3 0 22 0 1 0 20 0 64 0 18 0 5 0 6 0 3 0 10 0 1 0 1 0 1 0 4 0 1 0 8 0 7 0 12 0 3 0 1 0 5 0 1 0 1 0 7 0 2 0 1 0 2 0 1 0 1 0 1 0 3 0 1 0 2 0 2 0 11 0 2 0 5 0 4 0 1 0 4 0 17 0 1 0 3 0 2 0 11 0 3 0 1 0 5 0 4 0 5 0 5 0 9 0 3 0 1 0 9 0 1 0 6 0 4 0 1 0 10 0 6 0 3 0 1 0 4 0 2 0 5 0 7 0 16 0 8 0 3 0 3 0 1 0 5 0 10 0 1 0 9 0 32 0 4 0 8 0 3 0 1 0 5 0 14 0 8 0 14 0 1 0 4 0 1 0 1 0 8 0 11 0 5 0 21 0 2 0 4 0 15 0 9 0 2 0 11 0 21 0 3 0 9 0 10 0 2 0 23 0 12 0 9 0 7 0 9 0 3 0 2 0 5 0 3 0 1 0 9 0 4 0 15 0 3 0 2 0 1 0 5 0 13 0 6 0 1 0 13 0 6 0 6 0 4 0 6 0 5 0 18 0 11 0 15 0 14 0 5 0 5 0 7 0 3 0 8 0 20 0 1 0 4 0 5 0 5 0 5 0 2 0 4 0 15 0 11 0 16 0 4 0 8 0 4 0 1 0 6 0 15 0 5 0 14 0 5 0 13 0 7 0 2 0 1 0 31 0 6 0 1 0 4 0 10 0 1 0 10 0 9 0 5 0 16 0 7 0 16 0 11 0 3 0 7 0 7 0 7 0 1 0 20 0 1 0 7 0 8 0 2 0 5 0 4 0 10 0 14 0 14 0 5 0 6 0 4 0 1 0 2 0 2 0 3 0 8 0 16 0 7 0 5 0 3 0 5 0 2 0 22 0 12 0 9 0 2 0 9 0 4 0 7 0 26 0 15 0 1 0 11 0 4 0 10 0 5 0 6 0 15 0 28 0 19 0 11 0 17 0 10 0 17 0 3 0 22 0 3 0 4 0 5 0 1 0 9 0 4 0 16 0 5 0 5 0 1 0 6 0 1 0 24 0 2 0 27 0 10 0 5 0 3 0 1 0 6 0 1 0 10 0 5 0 22 0 3 0 11 0 4 0 7 0 5 0 15 0 3 0 15 0 17 0 5 0 4 0 5 0 10 0 6 0 4 0 2 0 4 0 20 0 1 0 1 0 1 0 4 0 4 0 8 0 9 0 1 0 10 0 3 0 7 0 7 0 3 0 2 0 3 0 27 0 2 0 6 0 9 0 1 0 10 0 30 0 24 0 5 0 23 0 1 0 10 0 32 0 2 0 9 0 13 0 4 0 15 0 10 0 17 0 6 0 3 0 8 0 2 0 9 0 5 0 3 0 1 0 21 0 4 0 1 0 5 0 11 0 44 0 4 0 1 0 3 0 5 0 12 0 14 0 1 0 34 0 2 0 17 0 10 0 2 0 25 0 4 0 19 0 16 0 21 0 35 0 17 0 2 0 1 0 5 0 5 0 5 0 16 0 19 0 30 0 2 0 16 0 1 0 3 0 9 0 9 0 5 0 30 0 2 0 7 0 2 0 19 0 13 0 1 0 10 0 20 0 2 0 3 0 1 0 6 0 4 0 14 0 17 0 5 0 17 0 4 0 18 0 13 0 6 0 1 0 6 0 8 0 39 0 1 0 5 0 3 0 10 0 1 0 4 0 2 0 6 0 4 0 4 0 13 0 1 0 4 0 8 0 11 0 2 0 1 0 9 0 1 0 11 0 2 0 1 0 7 0 5 0 1 0 8 0 2 0 1 0 3 0 4 0 2 0 17 0 5 0 6 0 4 0 1 0 3 0 7 0 1 0 4 0 4 0 2 0 4 0 1 0 6 0 3 0 9 0 12 0 7 0 4 0 1 0 1 0 10 0 7 0 1 0 7 0 5 0 3 0 1 0 11 0 4 0 6 0 1 0 2 0 25 0 9 0 4 0 8 0 5 0 6 0 9 0 1 0 4 0 1 0 8 0 4 0 24 0 12 0 2 0 16 0 2 0 1 0 23 0 6 0 10 0 11 0 7 0 5 0 8 0 9 0 5 0 7 0 11 0 1 0 17 0 3 0 3 0 6 0 1 0 24 0 6 0 2 0 12 0 3 0 21 0 1 0 4 0 16 0 1 0 14 0 15 0 14 0 23 0 3 0 2 0 8 0 14 0 1 0 42 0 2 0 7 0 5 0 16 0 3 0 6 0 2 0 3 0 10 0 9 0 5 0 10 0 21 0 12 0 16 0 2 0 7 0 7 0 12 0 3 0 27 0 10 0 1 0 5 0 3 0 18 0 12 0 1 0 3 0 10 0 11 0 6 0 1 0 8 0 19 0 8 0 1 0 4 0 11 0 2 0 16 0 14 0 6 0 12 0 5 0 11 0 21 0 2 0 22 0 1 0 1 0 10 0 6 0 6 0 10 0 6 0 25 0 13 0 19 0 5 0 6 0 4 0 1 0 5 0 23 0 2 0 12 0 3 0 1 0 6 0 8 0 2 0 30 0 3 0 5 0 39 0 9 0 4 0 10 0 10 0 10 0 10 0 8 0 11 0 25 0 4 0 7 0 4 0 2 0 2 0 6 0 7 0 12 0 1 0 2 0 6 0 6 0 9 0 8 0 4 0 2 0 3 0 27 0 7 0 2 0 29 0 3 0 6 0 7 0 16 0 2 0 5 0 12 0 5 0 8 0 13 0 10 0 12 0 4 0 3 0 10 0 4 0 11 0 14 0 6 0 16 0 2 0 8 0 17 0 26 0 4 0 13 0 4 0 4 0 26 0 1 0 15 0 6 0 1 0 14 0 3 0 5 0 3 0 3 0 3 0 6 0 9 0 2 0 8 0 2 0 26 0 1 0 4 0 1 0 12 0 10 0 9 0 12 0 3 0 6 0 2 0 8 0 18 0 21 0 11 0 5 0 14 0 2 0 5 0 20 0 1 0 1 0 8 0 2 0 7 0 3 0 10 0 36 0 9 0 4 0 15 0 26 0 5 0 6 0 20 0 35 0 9 0 5 0 3 0 9 0 3 0 15 0 8 0 3 0 44 0 1 0 44 0 2 0 1 0 4 0 3 0 2 0 4 0 8 0 3 0 2 0 8 0 8 0 6 0 34 0 6 0 15 0 7 0 1 0 8 0 10 0 6 0 7 0 4 0 2 0 7 0 7 0 1 0 3 0 12 0 6 0 1 0 2 0 3 0 4 0 1 0 4 0 2 0 2 0 1 0 4 0 2 0 4 0 1 0 11 0 17 0 5 0 7 0 1 0 8 0 2 0 12 0 6 0 6 0 2 0 1 0 13 0 1 0 10 0 4 0 23 0 5 0 6 0 18 0 8 0 3 0 3 0 8 0 11 0 2 0 25 0 26 0 14 0 1 0 10 0 10 0 1 0 12 0 3 0 16 0 7 0 4 0 28 0 1 0 41 0 11 0 23 0 16 0 7 0 7 0 10 0 6 0 9 0 2 0 7 0 35 0 23 0 1 0 28 0 21 0 16 0 3 0 2 0 21 0 6 0 13 0 1 0 25 0 1 0 1 0 14 0 3 0 21 0 3 0 7 0 7 0 4 0 2 0 4 0 6 0 20 0 7 0 4 0 1 0 14 0 5 0 20 0 1 0 6 0 11 0 3 0 3 0 4 0 3 0 20 0 15 0 15 0 1 0 13 0 16 0 5 0 14 0 4 0 10 0 9 0 2 0 5 0 32 0 4 0 2 0 2 0 9 0 3 0 11 0 21 0 3 0 1 0 3 0 13 0 8 0 12 0 3 0 4 0 5 0 15 0 16 0 1 0 2 0 10 0 18 0 6 0 11 0 2 0 10 0 4 0 1 0 11 0 13 0 7 0 5 0 10 0 19 0 9 0 10 0 1 0 16 0 3 0 11 0 8 0 3 0 1 0 8 0 29 0 5 0 1 0 4 0 1 0 4 0 2 0 11 0 15 0 12 0 8 0 2 0 11 0 14 0 2 0 14 0 4 0 5 0 3 0 5 0 8 0 11 0 1 0 9 0 1 0 12 0 1 0 2 0 1 0 6 0 15 0 10 0 10 0 18 0 6 0 3 0 3 0 15 0 22 0 5 0 18 0 5 0 3 0 4 0 1 0 3 0 23 0 13 0 28 0 5 0 7 0 2 0 6 0 6 0 5 0 6 0 21 0 14 0 8 0 8 0 8 0 1 0 4 0 4 0 8 0 21 0 13 0 7 0 3 0 1 0 20 0 26 0 8 0 6 0 9 0 15 0 21 0 1 0 1 0 18 0 9 0 1 0 10 0 11 0 15 0 3 0 3 0 2 0 4 0 21 0 14 0 2 0 24 0 10 0 2 0 4 0 10 0 12 0 3 0 6 0 10 0 2 0 31 0 2 0 7 0 22 0 26 0 2 0 11 0 3 0 16 0 31 0 3 0 4 0 16 0 8 0 3 0 3 0 6 0 10 0 12 0 10 0 18 0 5 0 12 0 1 0 18 0 9 0 1 0 9 0 2 0 21 0 5 0 10 0 7 0 5 0 2 0 8 0 25 0 17 0 5 0 4 0 1 0 15 0 4 0 4 0 3 0 1 0 1 0 25 0 16 0 1 0 3 0 1 0 8 0 5 0 26 0 4 0 1 0 4 0 5 0 10 0 1 0 2 0 7 0 1 0 1 0 7 0 8 0 7 0 3 0 1 0 9 0 8 0 5 0 1 0 9 0 1 0 9 0 1 0 8 0 16 0 16 0 7 0 4 0 5 0 8 0 3 0 5 0 3 0 4 0 4 0 1 0 3 0 7 0 6 0 1 0 3 0 3 0 5 0 7 0 12 0 4 0 2 0 10 0 26 0 4 0 11 0 3 0 13 0 1 0 27 0 5 0 11 0 9 0 23 0 6 0 3 0 7 0 5 0 21 0 5 0 13 0 6 0 5 0 11 0 6 0 6 0 4 0 10 0 1 0 1 0 8 0 1 0 2 0 8 0 1 0 28 0 1 0 13 0 5 0 15 0 1 0 14 0 3 0 3 0 2 0 10 0 5 0 18 0 1 0 14 0 4 0 4 0 4 0 5 0 12 0 2 0 29 0 6 0 7 0 8 0 11 0 16 0 8 0 3 0 2 0 1 0 1 0 5 0 15 0 2 0 2 0 2 0 5 0 1 0 10 0 5 0 14 0 5 0 2 0 5 0 15 0 16 0 5 0 12 0 7 0 23 0 16 0 13 0 4 0 10 0 4 0 3 0 8 0 7 0 10 0 7 0 4 0 1 0 24 0 5 0 37 0 1 0 15 0 17 0 20 0 7 0 8 0 6 0 4 0 40 0 14 0 3 0 8 0 1 0 4 0 11 0 2 0 9 0 3 0 3 0 7 0 9 0 11 0 11 0 4 0 4 0 5 0 12 0 10 0 37 0 6 0 1 0 21 0 4 0 1 0 16 0 35 0 12 0 7 0 13 0 10 0 3 0 8 0 6 0 4 0 1 0 2 0 3 0 1 0 7 0 24 0 2 0 3 0 1 0 22 0 19 0 11 0 22 0 3 0 2 0 15 0 2 0 5 0 3 0 1 0 2 0 3 0 2 0 16 0 2 0 6 0 7 0 4 0 9 0 9 0 28 0 33 0 1 0 1 0 2 0 12 0 12 0 8 0 1 0 17 0 3 0 37 0 13 0 1 0 5 0 6 0 1 0 5 0 3 0 1 0 5 0 1 0 10 0 5 0 17 0 3 0 2 0 10 0 12 0 9 0 4 0 13 0 4 0 3 0 1 0 1 0 6 0 15 0 6 0 4 0 2 0 7 0 2 0 11 0 11 0 14 0 13 0 18 0 8 0 5 0 19 0 3 0 16 0 8 0 1 0 11 0 3 0 3 0 2 0 4 0 4 0 31 0 1 0 9 0 9 0 11 0 2 0 1 0 9 0 3 0 1 0 21 0 1 0 6 0 12 0 9 0 3 0 1 0 10 0 2 0 11 0 3 0 8 0 16 0 5 0 5 0 25 0 7 0 7 0 7 0 5 0 5 0 13 0 5 0 9 0 9 0 7 0 5 0 4 0 2 0 20 0 5 0 19 0 1 0 5 0 5 0 8 0 2 0 16 0 14 0 20 0 4 0 2 0 3 0 5 0 4 0 16 0 1 0 20 0 4 0 26 0 6 0 8 0 4 0 1 0 26 0 2 0 12 0 4 0 7 0 5 0 2 0 2 0 2 0 14 0 18 0 1 0 3 0 25 0 2 0 1 0 5 0 26 0 11 0 11 0 2 0 2 0 1 0 2 0 11 0 1 0 2 0 2 0 3 0 3 0 2 0 9 0 4 0 3 0 3 0 11 0 4 0 1 0 5 0 1 0 4 0 6 0 1 0 1 0 5 0 3 0 1 0 4 0 5 0 3 0 3 0 3 0 7 0 1 0 15 0 1 0 11 0 1 0 8 0 2 0 5 0 14 0 2 0 3 0 3 0 10 0 1 0 3 0 2 0 4 0 4 0 3 0 2 0 2 0 12 0 7 0 6 0 3 0 7 0 1 0 1 0 10 0 14 0 2 0 40 0 4 0 8 0 8 0 15 0 1 0 8 0 8 0 27 0 20 0 8 0 2 0 4 0 15 0 19 0 9 0 5 0 5 0 1 0 5 0 11 0 15 0 4 0 19 0 5 0 3 0 12 0 19 0 3 0 21 0 20 0 12 0 11 0 8 0 9 0 1 0 10 0 9 0 41 0 1 0 8 0 11 0 14 0 4 0 5 0 9 0 38 0 10 0 4 0 4 0 30 0 2 0 1 0 4 0 7 0 5 0 4 0 11 0 23 0 3 0 28 0 6 0 58 0 13 0 2 0 5 0 2 0 1 0 13 0 6 0 7 0 3 0 11 0 2 0 9 0 34 0 4 0 16 0 4 0 5 0 7 0 3 0 6 0 5 0 11 0 12 0 15 0 4 0 16 0 2 0 5 0 6 0 3 0 3 0 46 0 14 0 32 0 5 0 5 0 1 0 2 0 5 0 11 0 9 0 30 0 7 0 11 0 6 0 5 0 2 0 9 0 3 0 5 0 2 0 26 0 5 0 1 0 10 0 19 0 3 0 13 0 15 0 5 0 2 0 12 0 2 0 2 0 3 0 6 0 18 0 4 0 18 0 9 0 20 0 6 0 3 0 4 0 3 0 3 0 5 0 5 0 4 0 6 0 21 0 2 0 8 0 32 0 5 0 13 0 2 0 2 0 15 0 16 0 9 0 12 0 7 0 14 0 17 0 13 0 9 0 7 0 2 0 35 0 8 0 42 0 1 0 14 0 7 0 10 0 5 0 1 0 8 0 1 0 10 0 5 0 42 0 12 0 6 0 4 0 4 0 22 0 15 0 1 0 5 0 1 0 3 0 22 0 15 0 1 0 2 0 4 0 3 0 6 0 1 0 5 0 16 0 19 0 3 0 6 0 9 0 12 0 6 0 3 0 7 0 32 0 4 0 10 0 15 0 3 0 6 0 8 0 2 0 16 0 11 0 7 0 1 0 6 0 2 0 25 0 14 0 3 0 18 0 12 0 9 0 5 0 3 0 3 0 5 0 5 0 17 0 8 0 24 0 9 0 6 0 2 0 30 0 13 0 3 0 6 0 4 0 5 0 7 0 5 0 11 0 24 0 2 0 9 0 6 0 1 0 3 0 5 0 7 0 2 0 23 0 2 0 20 0 5 0 1 0 12 0 13 0 6 0 1 0 5 0 38 0 30 0 6 0 2 0 8 0 5 0 1 0 5 0 1 0 1 0 4 0 2 0 5 0 10 0 4 0 2 0 3 0 10 0 13 0 1 0 2 0 3 0 4 0 15 0 7 0 3 0 7 0 9 0 5 0 8 0 2 0 2 0 1 0 4 0 11 0 1 0 2 0 9 0 3 0 5 0 1 0 5 0 3 0 2 0 1 0 1 0 3 0 2 0 7 0 3 0 3 0 2 0 1 0 3 0 4 0 1 0 2 0 10 0 1 0 19 0 1 0 6 0 3 0 1 0 4 0 1 0 7 0 9 0 1 0 1 0 3 0 9 0 1 0 1 0 2 0 2 0 2 0 21 0 3 0 16 0 11 0 25 0 25 0 12 0 6 0 1 0 5 0 4 0 1 0 4 0 3 0 4 0 22 0 6 0 2 0 9 0 7 0 2 0 23 0 4 0 5 0 9 0 2 0 11 0 3 0 2 0 8 0 8 0 9 0 26 0 5 0 2 0 3 0 2 0 3 0 7 0 5 0 1 0 5 0 7 0 4 0 2 0 5 0 3 0 18 0 13 0 17 0 16 0 12 0 2 0 1 0 4 0 2 0 5 0 5 0 10 0 5 0 16 0 2 0 4 0 1 0 12 0 12 0 1 0 7 0 3 0 7 0 16 0 1 0 9 0 7 0 9 0 1 0 14 0 4 0 33 0 2 0 4 0 11 0 9 0 29 0 7 0 1 0 17 0 5 0 1 0 22 0 19 0 15 0 5 0 2 0 3 0 1 0 1 0 10 0 2 0 7 0 22 0 6 0 37 0 7 0 19 0 10 0 21 0 12 0 5 0 9 0 6 0 21 0 18 0 3 0 2 0 2 0 3 0 6 0 6 0 3 0 13 0 14 0 2 0 5 0 14 0 8 0 8 0 7 0 32 0 2 0 6 0 1 0 9 0 3 0 10 0 16 0 4 0 4 0 8 0 5 0 11 0 8 0 7 0 1 0 4 0 1 0 4 0 9 0 3 0 3 0 10 0 28 0 15 0 1 0 3 0 56 0 3 0 1 0 3 0 1 0 11 0 30 0 4 0 2 0 1 0 4 0 8 0 14 0 20 0 2 0 6 0 37 0 6 0 7 0 4 0 2 0 24 0 7 0 11 0 8 0 2 0 19 0 13 0 6 0 7 0 3 0 2 0 1 0 7 0 14 0 6 0 1 0 17 0 1 0 5 0 1 0 1 0 10 0 1 0 1 0 2 0 5 0 3 0 2 0 8 0 9 0 1 0 11 0 4 0 4 0 1 0 13 0 9 0 3 0 29 0 1 0 2 0 2 0 9 0 2 0 5 0 17 0 11 0 2 0 6 0 1 0 3 0 9 0 3 0 1 0 17 0 2 0 3 0 7 0 7 0 7 0 9 0 34 0 2 0 1 0 20 0 12 0 5 0 11 0 6 0 15 0 1 0 23 0 7 0 4 0 18 0 11 0 9 0 15 0 10 0 3 0 5 0 6 0 2 0 7 0 3 0 17 0 22 0 1 0 13 0 6 0 11 0 12 0 1 0 10 0 2 0 1 0 22 0 31 0 3 0 4 0 2 0 8 0 17 0 1 0 9 0 1 0 6 0 2 0 11 0 8 0 5 0 1 0 7 0 1 0 9 0 7 0 1 0 9 0 5 0 10 0 2 0 6 0 4 0 1 0 6 0 2 0 5 0 3 0 1 0 4 0 1 0 3 0 1 0 5 0 6 0 1 0 4 0 4 0 4 0 2 0 2 0 2 0 1 0 1 0 3 0 8 0 2 0 1 0 2 0 4 0 4 0 9 0 9 0 6 0 5 0 8 0 2 0 3 0 3 0 1 0 7 0 2 0 3 0 5 0 2 0 4 0 6 0 2 0 10 0 19 0 2 0 11 0 2 0 5 0 16 0 6 0 7 0 5 0 17 0 14 0 6 0 11 0 9 0 5 0 1 0 2 0 5 0 13 0 7 0 17 0 5 0 2 0 11 0 13 0 14 0 7 0 13 0 3 0 19 0 8 0 19 0 26 0 22 0 7 0 9 0 29 0 5 0 4 0 7 0 18 0 1 0 18 0 7 0 8 0 3 0 1 0 17 0 1 0 4 0 5 0 1 0 3 0 4 0 7 0 11 0 11 0 10 0 7 0 14 0 15 0 1 0 5 0 7 0 9 0 5 0 1 0 19 0 6 0 1 0 3 0 7 0 6 0 7 0 4 0 21 0 10 0 20 0 9 0 11 0 6 0 5 0 3 0 2 0 1 0 7 0 2 0 11 0 5 0 3 0 1 0 9 0 1 0 10 0 1 0 3 0 1 0 26 0 22 0 13 0 6 0 6 0 43 0 21 0 3 0 18 0 1 0 5 0 3 0 3 0 13 0 14 0 5 0 5 0 10 0 20 0 13 0 10 0 3 0 7 0 1 0 2 0 2 0 1 0 4 0 15 0 11 0 2 0 16 0 7 0 14 0 5 0 8 0 24 0 10 0 1 0 3 0 15 0 1 0 4 0 7 0 28 0 8 0 8 0 2 0 2 0 5 0 5 0 4 0 3 0 15 0 32 0 3 0 1 0 10 0 2 0 7 0 8 0 9 0 1 0 5 0 21 0 9 0 6 0 2 0 3 0 1 0 2 0 7 0 3 0 3 0 18 0 8 0 12 0 48 0 1 0 26 0 5 0 8 0 2 0 14 0 6 0 5 0 18 0 2 0 9 0 14 0 11 0 23 0 3 0 6 0 1 0 4 0 4 0 6 0 15 0 29 0 25 0 6 0 2 0 25 0 6 0 6 0 16 0 2 0 17 0 10 0 16 0 6 0 15 0 1 0 25 0 1 0 1 0 3 0 5 0 16 0 5 0 3 0 40 0 10 0 7 0 3 0 11 0 8 0 16 0 4 0 24 0 8 0 45 0 38 0 1 0 4 0 7 0 9 0 21 0 5 0 1 0 7 0 13 0 2 0 13 0 8 0 6 0 11 0 16 0 10 0 17 0 11 0 7 0 2 0 7 0 3 0 9 0 9 0 5 0 34 0 1 0 9 0 1 0 24 0 12 0 3 0 25 0 1 0 4 0 7 0 5 0 1 0 9 0 1 0 5 0 2 0 4 0 2 0 2 0 6 0 9 0 2 0 16 0 3 0 1 0 6 0 9 0 5 0 4 0 7 0 11 0 10 0 21 0 6 0 3 0 1 0 5 0 2 0 3 0 7 0 8 0 6 0 5 0 3 0 3 0 1 0 17 0 5 0 10 0 5 0 4 0 6 0 4 0 2 0 12 0 2 0 13 0 6 0 4 0 8 0 11 0 1 0 1 0 5 0 1 0 13 0 5 0 4 0 5 0 7 0 3 0 8 0 1 0 2 0 5 0 3 0 1 0 5 0 1 0 6 0 4 0 3 0 1 0 3 0 2 0 5 0 10 0 4 0 2 0 1 0 2 0 4 0 5 0 6 0 6 0 8 0 2 0 5 0 13 0 7 0 7 0 15 0 7 0 3 0 2 0 10 0 14 0 9 0 21 0 24 0 15 0 2 0 8 0 1 0 8 0 2 0 7 0 10 0 10 0 4 0 22 0 15 0 3 0 13 0 8 0 3 0 27 0 2 0 5 0 3 0 14 0 2 0 2 0 19 0 6 0 14 0 12 0 1 0 6 0 10 0 22 0 8 0 5 0 12 0 17 0 23 0 11 0 7 0 23 0 16 0 9 0 3 0 17 0 2 0 7 0 3 0 3 0 10 0 1 0 13 0 7 0 13 0 12 0 14 0 15 0 25 0 7 0 11 0 2 0 10 0 38 0 4 0 5 0 1 0 15 0 1 0 35 0 15 0 1 0 18 0 21 0 2 0 11 0 7 0 4 0 5 0 16 0 1 0 9 0 12 0 13 0 16 0 23 0 4 0 2 0 9 0 7 0 12 0 20 0 10 0 6 0 5 0 21 0 6 0 26 0 3 0 3 0 14 0 13 0 15 0 20 0 2 0 21 0 3 0 5 0 7 0 1 0 2 0 2 0 6 0 6 0 4 0 3 0 7 0 20 0 1 0 14 0 6 0 3 0 13 0 12 0 1 0 20 0 5 0 5 0 5 0 10 0 13 0 10 0 7 0 7 0 8 0 21 0 1 0 4 0 28 0 4 0 1 0 5 0 13 0 6 0 4 0 23 0 1 0 5 0 3 0 3 0 2 0 3 0 22 0 2 0 3 0 4 0 10 0 2 0 8 0 47 0 6 0 11 0 5 0 5 0 4 0 1 0 4 0 1 0 18 0 3 0 27 0 4 0 8 0 8 0 5 0 5 0 8 0 3 0 19 0 10 0 22 0 12 0 18 0 12 0 14 0 11 0 10 0 2 0 14 0 7 0 4 0 6 0 5 0 21 0 16 0 2 0 39 0 1 0 4 0 3 0 4 0 2 0 15 0 14 0 4 0 4 0 2 0 5 0 16 0 6 0 21 0 2 0 20 0 9 0 2 0 3 0 6 0 1 0 5 0 6 0 16 0 1 0 2 0 30 0 4 0 5 0 6 0 4 0 1 0 9 0 1 0 3 0 6 0 2 0 6 0 6 0 3 0 21 0 3 0 7 0 4 0 38 0 4 0 6 0 40 0 2 0 8 0 24 0 6 0 6 0 4 0 3 0 29 0 1 0 5 0 6 0 5 0 6 0 2 0 7 0 4 0 19 0 3 0 15 0 5 0 2 0 9 0 11 0 21 0 11 0 1 0 1 0 6 0 8 0 1 0 2 0 10 0 6 0 4 0 3 0 3 0 4 0 15 0 7 0 11 0 1 0 5 0 9 0 3 0 6 0 3 0 2 0 2 0 16 0 4 0 1 0 4 0 1 0 10 0 9 0 1 0 2 0 1 0 19 0 2 0 7 0 14 0 2 0 1 0 1 0 5 0 1 0 6 0 7 0 5 0 3 0 6 0 9 0 3 0 3 0 5 0 3 0 2 0 4 0 6 0 2 0 4 0 8 0 3 0 4 0 4 0 1 0 2 0 5 0 29 0 11 0 2 0 13 0 6 0 16 0 10 0 10 0 17 0 2 0 15 0 30 0 1 0 9 0 8 0 4 0 1 0 5 0 8 0 12 0 1 0 10 0 11 0 10 0 6 0 12 0 2 0 1 0 13 0 2 0 6 0 6 0 11 0 6 0 21 0 9 0 5 0 18 0 1 0 2 0 40 0 5 0 6 0 7 0 22 0 2 0 8 0 2 0 3 0 1 0 11 0 9 0 2 0 11 0 1 0 4 0 22 0 18 0 38 0 11 0 1 0 17 0 14 0 32 0 2 0 24 0 1 0 5 0 10 0 3 0 30 0 3 0 7 0 35 0 5 0 7 0 11 0 9 0 1 0 11 0 10 0 3 0 13 0 54 0 3 0 1 0 3 0 7 0 1 0 17 0 12 0 21 0 8 0 1 0 4 0 9 0 37 0 14 0 18 0 13 0 8 0 12 0 7 0 2 0 4 0 8 0 2 0 53 0 5 0 2 0 3 0 14 0 5 0 2 0 9 0 33 0 3 0 6 0 2 0 25 0 5 0 1 0 8 0 17 0 30 0 11 0 1 0 10 0 6 0 12 0 4 0 1 0 1 0 9 0 5 0 2 0 3 0 6 0 6 0 9 0 4 0 3 0 13 0 8 0 3 0 2 0 1 0 16 0 13 0 3 0 4 0 1 0 39 0 7 0 11 0 8 0 19 0 5 0 1 0 2 0 1 0 5 0 12 0 4 0 2 0 3 0 8 0 2 0 3 0 15 0 3 0 2 0 6 0 27 0 9 0 1 0 1 0 9 0 6 0 41 0 4 0 9 0 4 0 6 0 6 0 4 0 40 0 2 0 1 0 2 0 6 0 7 0 5 0 1 0 21 0 6 0 3 0 1 0 3 0 5 0 4 0 2 0 5 0 23 0 1 0 2 0 35 0 29 0 11 0 7 0 4 0 9 0 5 0 6 0 32 0 2 0 6 0 9 0 3 0 7 0 4 0 2 0 9 0 3 0 2 0 7 0 1 0 13 0 5 0 2 0 3 0 8 0 5 0 6 0 10 0 32 0 21 0 1 0 18 0 1 0 4 0 8 0 15 0 15 0 5 0 13 0 3 0 19 0 3 0 7 0 4 0 31 0 3 0 7 0 3 0 9 0 5 0 10 0 3 0 7 0 2 0 4 0 15 0 8 0 4 0 4 0 1 0 9 0 1 0 1 0 1 0 1 0 14 0 7 0 2 0 16 0 16 0 1 0 2 0 9 0 11 0 1 0 10 0 2 0 2 0 2 0 5 0 5 0 2 0 29 0 3 0 1 0 5 0 2 0 9999999" stroke-dashoffset="-3269"/></g>
<g font-size="9.7" fill="#2b2b2b" transform="rotate(0.03 106.0 256.1)"><text x="27.40" y="325.60" text-anchor="middle">0</text><text x="24.60" y="317.20" text-anchor="end">0</text><text x="52.07" y="325.60" text-anchor="middle">40</text><text x="24.60" y="299.26" text-anchor="end">40</text><text x="76.75" y="325.60" text-anchor="middle">80</text><text x="24.60" y="281.31" text-anchor="end">80</text><text x="101.42" y="325.60" text-anchor="middle">120</text><text x="24.60" y="263.37" text-anchor="end">120</text><text x="126.10" y="325.60" text-anchor="middle">160</text><text x="24.60" y="245.42" text-anchor="end">160</text><text x="150.77" y="325.60" text-anchor="middle">200</text><text x="24.60" y="227.48" text-anchor="end">200</text><text x="175.45" y="325.60" text-anchor="middle">240</text><text x="24.60" y="209.53" text-anchor="end">240</text></g>
<text x="106.05" y="336.90" font-size="9.3" fill="#2b2b2b" text-anchor="middle" transform="rotate(0.03 106.0 336.9)" textLength="126.1" lengthAdjust="spacingAndGlyphs">Pixel gray value on location(x,y)</text>
<text transform="translate(7.30,335.80) rotate(-90)" font-size="9.22" fill="#2b2b2b" textLength="136.80" lengthAdjust="spacingAndGlyphs">Pixel gray value on location(x+1,y)</text>
<!-- plot e -->
<path d="M274.00 198.90V313.60H431.30M274.00 313.60v-1.6M274.00 313.60h1.6M298.67 313.60v-1.6M274.00 295.61h1.6M323.35 313.60v-1.6M274.00 277.62h1.6M348.02 313.60v-1.6M274.00 259.62h1.6M372.70 313.60v-1.6M274.00 241.63h1.6M397.37 313.60v-1.6M274.00 223.64h1.6M422.05 313.60v-1.6M274.00 205.65h1.6" fill="none" stroke="#6e6e6e" stroke-width="0.8"/>
<g transform="translate(270,194) scale(0.5)"><path d="M0 0H324V1H0V2H324V3H0V4H324V5H0V6H324V7H0V8H324V9H0V10H324V11H0V12H324V13H0V14H324V15H0V16H324V17H0V18H324V19H0V20H324V21H0V22H324V23H0V24H324V25H0V26H324V27H0V28H324V29H0V30H324V31H0V32H324V33H0V34H324V35H0V36H324V37H0V38H324V39H0V40H324V41H0V42H324V43H0V44H324V45H0V46H324V47H0V48H324V49H0V50H324V51H0V52H324V53H0V54H324V55H0V56H324V57H0V58H324V59H0V60H324V61H0V62H324V63H0V64H324V65H0V66H324V67H0V68H324V69H0V70H324V71H0V72H324V73H0V74H324V75H0V76H324V77H0V78H324V79H0V80H324V81H0V82H324V83H0V84H324V85H0V86H324V87H0V88H324V89H0V90H324V91H0V92H324V93H0V94H324V95H0V96H324V97H0V98H324V99H0V100H324V101H0V102H324V103H0V104H324V105H0V106H324V107H0V108H324V109H0V110H324V111H0V112H324V113H0V114H324V115H0V116H324V117H0V118H324V119H0V120H324V121H0V122H324V123H0V124H324V125H0V126H324V127H0V128H324V129H0V130H324V131H0V132H324V133H0V134H324V135H0V136H324V137H0V138H324V139H0V140H324V141H0V142H324V143H0V144H324V145H0V146H324V147H0V148H324V149H0V150H324V151H0V152H324V153H0V154H324V155H0V156H324V157H0V158H324V159H0V160H324V161H0V162H324V163H0V164H324V165H0V166H324V167H0V168H324V169H0V170H324V171H0V172H324V173H0V174H324V175H0V176H324V177H0V178H324V179H0V180H324V181H0V182H324V183H0V184H324V185H0V186H324V187H0V188H324V189H0V190H324V191H0V192H324V193H0V194H324V195H0V196H324V197H0V198H324V199H0V200H324V201H0V202H324V203H0V204H324V205H0V206H324V207H0V208H324V209H0V210H324V211H0V212H324V213H0V214H324V215H0V216H324V217H0V218H324V219H0V220H324V221H0V222H324V223H0V224H324V225H0V226H324V227H0V228H324V229H0V230H324V231H0V232H324V233H0V234H324V235H0V236H324V237H0V238H324V239H0V240H324" fill="none" stroke="#0072BD" stroke-width="4.20" stroke-linecap="round" stroke-dasharray="0 16 0 10 0 12 0 1 0 13 0 4 0 2 0 5 0 9 0 21 0 2 0 2 0 26 0 4 0 10 0 1 0 2 0 16 0 10 0 20 0 2 0 29 0 27 0 6 0 5 0 5 0 6 0 4 0 7 0 37 0 19 0 5 0 36 0 2 0 24 0 1 0 10 0 16 0 5 0 18 0 4 0 1 0 5 0 1 0 8 0 11 0 13 0 8 0 7 0 28 0 5 0 9 0 3 0 6 0 2 0 25 0 23 0 10 0 32 0 1 0 3 0 3 0 7 0 2 0 2 0 9 0 6 0 4 0 4 0 2 0 3 0 2 0 1 0 2 0 6 0 2 0 8 0 3 0 1 0 2 0 8 0 8 0 3 0 5 0 4 0 3 0 2 0 5 0 7 0 2 0 3 0 5 0 10 0 3 0 3 0 4 0 2 0 2 0 3 0 4 0 4 0 10 0 2 0 3 0 16 0 1 0 4 0 2 0 14 0 7 0 4 0 13 0 3 0 1 0 1 0 3 0 3 0 7 0 1 0 18 0 9 0 1 0 3 0 1 0 1 0 7 0 2 0 5 0 2 0 11 0 4 0 6 0 22 0 7 0 1 0 6 0 17 0 16 0 5 0 1 0 4 0 8 0 5 0 3 0 3 0 22 0 5 0 7 0 3 0 1 0 2 0 5 0 6 0 18 0 1 0 6 0 5 0 1 0 16 0 5 0 3 0 1 0 4 0 1 0 5 0 11 0 18 0 3 0 4 0 24 0 5 0 41 0 1 0 1 0 17 0 4 0 10 0 43 0 8 0 29 0 4 0 11 0 14 0 9 0 3 0 2 0 7 0 12 0 2 0 7 0 13 0 4 0 41 0 2 0 6 0 9 0 5 0 5 0 2 0 1 0 7 0 19 0 25 0 6 0 30 0 20 0 2 0 12 0 3 0 1 0 4 0 7 0 5 0 20 0 6 0 2 0 2 0 6 0 10 0 8 0 11 0 17 0 8 0 4 0 22 0 6 0 6 0 3 0 17 0 11 0 16 0 8 0 6 0 22 0 1 0 2 0 1 0 20 0 30 0 40 0 2 0 6 0 16 0 4 0 1 0 15 0 17 0 8 0 1 0 5 0 2 0 15 0 32 0 12 0 10 0 8 0 11 0 2 0 21 0 3 0 2 0 1 0 14 0 14 0 11 0 2 0 1 0 4 0 3 0 6 0 5 0 4 0 2 0 4 0 5 0 5 0 4 0 2 0 10 0 13 0 8 0 7 0 4 0 26 0 5 0 7 0 9 0 9 0 2 0 3 0 9 0 12 0 16 0 19 0 1 0 10 0 15 0 27 0 4 0 2 0 3 0 4 0 5 0 16 0 5 0 13 0 5 0 8 0 23 0 10 0 2 0 1 0 2 0 6 0 10 0 26 0 5 0 10 0 4 0 3 0 8 0 8 0 2 0 12 0 4 0 12 0 4 0 11 0 1 0 6 0 5 0 1 0 2 0 1 0 6 0 4 0 11 0 4 0 2 0 19 0 2 0 1 0 19 0 13 0 7 0 1 0 5 0 8 0 2 0 6 0 7 0 11 0 5 0 3 0 3 0 2 0 3 0 3 0 7 0 1 0 10 0 2 0 5 0 14 0 5 0 5 0 5 0 5 0 3 0 6 0 8 0 3 0 2 0 15 0 17 0 10 0 4 0 16 0 1 0 4 0 20 0 7 0 26 0 5 0 1 0 31 0 10 0 6 0 11 0 4 0 16 0 1 0 9 0 62 0 9 0 11 0 5 0 12 0 4 0 12 0 2 0 3 0 19 0 18 0 15 0 4 0 5 0 1 0 16 0 12 0 15 0 3 0 3 0 8 0 5 0 3 0 9 0 6 0 1 0 25 0 17 0 4 0 5 0 11 0 15 0 4 0 2 0 4 0 21 0 2 0 3 0 1 0 7 0 4 0 14 0 1 0 1 0 5 0 3 0 6 0 7 0 6 0 2 0 1 0 1 0 4 0 1 0 1 0 6 0 4 0 10 0 4 0 17 0 5 0 1 0 1 0 6 0 8 0 1 0 3 0 3 0 2 0 1 0 3 0 5 0 9 0 16 0 4 0 2 0 6 0 4 0 3 0 1 0 2 0 5 0 8 0 5 0 2 0 5 0 2 0 10 0 3 0 8 0 2 0 2 0 4 0 3 0 3 0 2 0 8 0 5 0 1 0 7 0 5 0 9 0 15 0 1 0 33 0 5 0 2 0 2 0 2 0 6 0 6 0 9 0 10 0 4 0 12 0 7 0 29 0 16 0 13 0 4 0 12 0 2 0 3 0 10 0 3 0 21 0 6 0 1 0 9 0 11 0 2 0 2 0 3 0 5 0 8 0 14 0 4 0 11 0 11 0 18 0 19 0 16 0 12 0 6 0 11 0 23 0 5 0 1 0 4 0 1 0 5 0 2 0 6 0 2 0 26 0 33 0 4 0 1 0 13 0 21 0 11 0 5 0 1 0 2 0 2 0 1 0 15 0 12 0 6 0 5 0 5 0 2 0 2 0 23 0 29 0 25 0 1 0 14 0 6 0 19 0 28 0 16 0 14 0 12 0 7 0 7 0 14 0 8 0 7 0 30 0 2 0 8 0 1 0 5 0 26 0 1 0 1 0 22 0 8 0 5 0 16 0 13 0 34 0 1 0 4 0 13 0 4 0 5 0 6 0 7 0 8 0 5 0 11 0 17 0 9 0 7 0 6 0 7 0 25 0 18 0 2 0 8 0 16 0 6 0 6 0 7 0 35 0 5 0 4 0 4 0 20 0 4 0 2 0 8 0 6 0 4 0 33 0 13 0 35 0 2 0 27 0 2 0 1 0 10 0 1 0 6 0 10 0 4 0 3 0 4 0 15 0 21 0 16 0 2 0 5 0 16 0 23 0 13 0 21 0 8 0 2 0 16 0 5 0 1 0 1 0 8 0 12 0 30 0 10 0 17 0 9 0 6 0 7 0 1 0 7 0 2 0 3 0 2 0 16 0 8 0 2 0 6 0 22 0 3 0 8 0 7 0 7 0 14 0 8 0 5 0 6 0 5 0 5 0 5 0 11 0 6 0 9 0 4 0 12 0 7 0 3 0 2 0 2 0 1 0 1 0 17 0 9 0 1 0 3 0 40 0 14 0 2 0 16 0 21 0 5 0 6 0 25 0 6 0 13 0 2 0 7 0 31 0 4 0 2 0 2 0 1 0 5 0 7 0 4 0 12 0 1 0 4 0 5 0 4 0 3 0 23 0 3 0 10 0 3 0 3 0 13 0 24 0 4 0 4 0 8 0 2 0 3 0 2 0 2 0 3 0 28 0 17 0 2 0 8 0 37 0 27 0 10 0 4 0 9 0 11 0 11 0 2 0 1 0 29 0 8 0 30 0 12 0 8 0 4 0 7 0 5 0 1 0 26 0 6 0 1 0 40 0 2 0 3 0 2 0 19 0 18 0 1 0 4 0 4 0 1 0 1 0 9 0 1 0 1 0 4 0 1 0 1 0 3 0 5 0 5 0 7 0 3 0 2 0 4 0 8 0 9 0 6 0 3 0 8 0 3 0 5 0 1 0 1 0 1 0 3 0 1 0 9 0 2 0 5 0 3 0 12 0 9 0 1 0 2 0 4 0 11 0 8 0 1 0 1 0 1 0 3 0 1 0 2 0 3 0 7 0 8 0 1 0 1 0 1 0 5 0 11 0 7 0 3 0 4 0 1 0 20 0 1 0 16 0 26 0 3 0 8 0 4 0 1 0 5 0 10 0 5 0 14 0 5 0 24 0 4 0 5 0 4 0 8 0 9 0 5 0 16 0 12 0 9 0 15 0 7 0 9 0 1 0 37 0 4 0 4 0 34 0 13 0 45 0 2 0 14 0 24 0 1 0 5 0 4 0 1 0 3 0 7 0 3 0 5 0 1 0 8 0 14 0 1 0 5 0 11 0 2 0 14 0 18 0 27 0 8 0 8 0 8 0 9 0 7 0 7 0 6 0 1 0 3 0 16 0 6 0 12 0 9 0 1 0 20 0 3 0 8 0 6 0 23 0 4 0 16 0 11 0 5 0 11 0 3 0 5 0 8 0 3 0 1 0 4 0 4 0 14 0 15 0 4 0 6 0 5 0 16 0 2 0 8 0 15 0 12 0 21 0 11 0 11 0 3 0 18 0 8 0 18 0 11 0 5 0 5 0 33 0 3 0 6 0 2 0 20 0 1 0 11 0 19 0 5 0 28 0 9 0 21 0 3 0 18 0 11 0 5 0 5 0 7 0 5 0 1 0 4 0 1 0 20 0 20 0 2 0 4 0 2 0 1 0 2 0 5 0 2 0 3 0 16 0 6 0 2 0 17 0 5 0 2 0 11 0 5 0 10 0 2 0 3 0 9 0 4 0 9 0 4 0 17 0 24 0 2 0 6 0 5 0 24 0 2 0 27 0 4 0 13 0 5 0 3 0 2 0 26 0 7 0 5 0 8 0 1 0 7 0 14 0 2 0 8 0 2 0 5 0 3 0 1 0 10 0 1 0 6 0 7 0 8 0 11 0 43 0 1 0 8 0 6 0 8 0 2 0 2 0 1 0 3 0 22 0 4 0 22 0 1 0 14 0 7 0 4 0 10 0 2 0 4 0 8 0 35 0 5 0 2 0 2 0 5 0 19 0 9 0 6 0 1 0 13 0 13 0 8 0 2 0 4 0 10 0 1 0 13 0 20 0 4 0 20 0 2 0 10 0 1 0 11 0 4 0 1 0 7 0 6 0 2 0 1 0 2 0 38 0 17 0 6 0 9 0 2 0 4 0 15 0 6 0 1 0 4 0 16 0 10 0 7 0 4 0 12 0 5 0 34 0 5 0 3 0 3 0 7 0 14 0 62 0 3 0 10 0 1 0 2 0 8 0 1 0 1 0 3 0 13 0 5 0 1 0 7 0 1 0 13 0 10 0 7 0 39 0 7 0 3 0 7 0 4 0 6 0 4 0 6 0 10 0 1 0 11 0 21 0 19 0 43 0 6 0 4 0 2 0 13 0 2 0 1 0 2 0 1 0 1 0 4 0 2 0 4 0 1 0 1 0 2 0 2 0 1 0 8 0 2 0 10 0 12 0 4 0 3 0 2 0 4 0 2 0 4 0 10 0 5 0 1 0 5 0 2 0 2 0 1 0 4 0 1 0 2 0 6 0 3 0 8 0 3 0 1 0 1 0 19 0 7 0 4 0 14 0 2 0 4 0 1 0 9 0 6 0 2 0 5 0 1 0 5 0 15 0 3 0 7 0 4 0 8 0 5 0 3 0 1 0 4 0 10 0 5 0 2 0 4 0 14 0 3 0 5 0 1 0 27 0 9 0 5 0 11 0 10 0 3 0 8 0 22 0 11 0 10 0 18 0 9 0 1 0 8 0 16 0 10 0 3 0 16 0 4 0 12 0 9 0 27 0 5 0 2 0 12 0 5 0 22 0 5 0 10 0 11 0 9 0 5 0 12 0 3 0 8 0 1 0 17 0 8 0 3 0 3 0 1 0 20 0 3 0 3 0 1 0 9 0 15 0 24 0 3 0 2 0 1 0 9 0 17 0 4 0 6 0 11 0 11 0 3 0 7 0 6 0 13 0 6 0 7 0 9 0 26 0 20 0 16 0 1 0 9 0 1 0 1 0 1 0 23 0 2 0 13 0 5 0 4 0 1 0 1 0 2 0 11 0 7 0 5 0 4 0 23 0 1 0 2 0 2 0 12 0 19 0 1 0 27 0 4 0 22 0 5 0 15 0 6 0 16 0 17 0 33 0 3 0 8 0 1 0 6 0 3 0 2 0 7 0 3 0 10 0 8 0 18 0 1 0 9 0 9 0 5 0 5 0 16 0 5 0 6 0 5 0 3 0 18 0 2 0 19 0 2 0 8 0 3 0 29 0 4 0 1 0 1 0 2 0 10 0 9 0 18 0 48 0 2 0 10 0 11 0 2 0 4 0 3 0 5 0 2 0 2 0 4 0 7 0 2 0 4 0 42 0 2 0 2 0 2 0 3 0 11 0 10 0 20 0 1 0 8 0 5 0 3 0 2 0 2 0 6 0 13 0 7 0 22 0 9 0 16 0 25 0 4 0 13 0 8 0 9 0 12 0 3 0 7 0 3 0 8 0 9 0 6 0 11 0 22 0 4 0 8 0 6 0 1 0 3 0 3 0 10 0 9 0 13 0 14 0 26 0 2 0 2 0 14 0 9 0 2 0 2 0 2 0 3 0 23 0 36 0 10 0 2 0 17 0 15 0 1 0 7 0 8 0 18 0 13 0 35 0 38 0 5 0 1 0 6 0 32 0 5 0 5 0 12 0 22 0 2 0 1 0 1 0 15 0 16 0 15 0 21 0 2 0 1 0 2 0 7 0 14 0 12 0 21 0 5 0 1 0 52 0 4 0 3 0 5 0 18 0 3 0 7 0 8 0 10 0 3 0 13 0 1 0 2 0 11 0 2 0 15 0 1 0 1 0 8 0 6 0 16 0 22 0 16 0 40 0 5 0 5 0 8 0 1 0 19 0 10 0 10 0 13 0 3 0 3 0 8 0 1 0 6 0 4 0 1 0 3 0 14 0 43 0 7 0 1 0 1 0 1 0 5 0 3 0 6 0 10 0 3 0 4 0 1 0 2 0 2 0 6 0 6 0 4 0 5 0 2 0 2 0 3 0 5 0 4 0 10 0 4 0 3 0 11 0 12 0 6 0 6 0 1 0 5 0 3 0 4 0 12 0 1 0 8 0 7 0 1 0 1 0 1 0 8 0 2 0 1 0 5 0 3 0 1 0 1 0 10 0 1 0 3 0 2 0 2 0 3 0 1 0 2 0 8 0 7 0 1 0 3 0 19 0 9 0 3 0 5 0 1 0 2 0 18 0 5 0 8 0 7 0 5 0 10 0 11 0 12 0 40 0 1 0 10 0 6 0 5 0 12 0 3 0 7 0 10 0 6 0 3 0 11 0 5 0 1 0 7 0 3 0 4 0 24 0 11 0 4 0 6 0 19 0 24 0 7 0 9 0 5 0 10 0 8 0 1 0 35 0 16 0 31 0 14 0 7 0 13 0 1 0 1 0 6 0 3 0 13 0 16 0 8 0 3 0 3 0 1 0 5 0 2 0 2 0 2 0 11 0 1 0 2 0 2 0 19 0 17 0 5 0 7 0 2 0 8 0 9 0 11 0 4 0 5 0 9 0 9 0 9 0 7 0 22 0 13 0 8 0 21 0 2 0 2 0 1 0 8 0 13 0 3 0 12 0 6 0 1 0 3 0 4 0 11 0 10 0 5 0 4 0 24 0 1 0 3 0 6 0 12 0 25 0 3 0 13 0 5 0 3 0 7 0 5 0 3 0 2 0 2 0 4 0 28 0 9 0 13 0 52 0 6 0 9 0 9 0 4 0 9 0 10 0 18 0 8 0 6 0 20 0 11 0 8 0 1 0 5 0 10 0 13 0 9 0 12 0 2 0 3 0 1 0 5 0 26 0 3 0 21 0 24 0 6 0 25 0 4 0 18 0 5 0 1 0 7 0 3 0 18 0 26 0 13 0 2 0 12 0 7 0 7 0 12 0 8 0 8 0 5 0 8 0 17 0 2 0 5 0 3 0 9 0 6 0 17 0 7 0 32 0 9 0 19 0 17 0 6 0 4 0 1 0 2 0 2 0 1 0 2 0 8 0 1 0 39 0 3 0 2 0 1 0 2 0 2 0 5 0 4 0 3 0 10 0 5 0 14 0 1 0 11 0 14 0 1 0 34 0 10 0 35 0 4 0 14 0 9 0 12 0 20 0 3 0 2 0 22 0 3 0 3 0 7 0 3 0 3 0 2 0 1 0 3 0 28 0 28 0 13 0 6 0 8 0 2 0 9 0 12 0 8 0 3 0 4 0 7 0 3 0 11 0 9 0 2 0 2 0 7 0 6 0 8 0 5 0 5 0 37 0 5 0 3 0 1 0 5 0 15 0 5 0 6 0 2 0 11 0 3 0 8 0 2 0 1 0 16 0 4 0 18 0 14 0 1 0 19 0 23 0 5 0 9 0 15 0 2 0 3 0 21 0 8 0 17 0 7 0 3 0 8 0 4 0 1 0 2 0 1 0 3 0 3 0 12 0 8 0 6 0 2 0 5 0 1 0 3 0 2 0 2 0 6 0 4 0 2 0 4 0 5 0 24 0 15 0 9 0 5 0 3 0 32 0 2 0 2 0 1 0 2 0 2 0 3 0 19 0 3 0 4 0 9 0 4 0 10 0 7 0 2 0 1 0 5 0 4 0 2 0 1 0 10 0 11 0 1 0 2 0 6 0 2 0 14 0 4 0 1 0 1 0 1 0 6 0 3 0 12 0 6 0 4 0 1 0 2 0 6 0 1 0 6 0 1 0 7 0 4 0 4 0 4 0 7 0 2 0 11 0 14 0 9 0 3 0 11 0 8 0 3 0 1 0 2 0 5 0 3 0 5 0 3 0 3 0 2 0 2 0 2 0 5 0 1 0 11 0 2 0 6 0 1 0 2 0 9 0 1 0 4 0 1 0 2 0 33 0 1 0 2 0 21 0 8 0 14 0 24 0 7 0 4 0 14 0 23 0 9 0 10 0 3 0 1 0 16 0 3 0 14 0 2 0 4 0 8 0 4 0 11 0 17 0 7 0 5 0 1 0 2 0 1 0 29 0 5 0 5 0 5 0 1 0 6 0 2 0 4 0 18 0 2 0 3 0 7 0 1 0 1 0 3 0 13 0 3 0 11 0 1 0 5 0 4 0 6 0 1 0 14 0 15 0 19 0 2 0 13 0 5 0 1 0 2 0 12 0 6 0 3 0 2 0 11 0 12 0 20 0 11 0 10 0 6 0 5 0 18 0 1 0 1 0 2 0 2 0 1 0 16 0 16 0 14 0 30 0 3 0 1 0 10 0 12 0 20 0 2 0 4 0 12 0 8 0 6 0 15 0 11 0 5 0 21 0 24 0 4 0 25 0 18 0 4 0 6 0 41 0 6 0 1 0 3 0 2 0 4 0 2 0 4 0 20 0 5 0 8 0 8 0 12 0 9 0 17 0 4 0 4 0 6 0 8 0 4 0 28 0 8 0 6 0 1 0 10 0 4 0 5 0 1 0 15 0 3 0 2 0 1 0 1 0 15 0 5 0 25 0 16 0 9 0 3 0 20 0 7 0 9 0 15 0 4 0 3 0 9 0 8 0 14 0 18 0 5 0 10 0 1 0 3 0 17 0 1 0 2 0 2 0 5 0 2 0 5 0 6 0 3 0 6 0 5 0 1 0 5 0 9 0 9 0 4 0 10 0 4 0 18 0 5 0 21 0 3 0 7 0 17 0 3 0 2 0 4 0 10 0 1 0 5 0 18 0 4 0 42 0 10 0 23 0 4 0 1 0 2 0 17 0 5 0 7 0 4 0 1 0 40 0 1 0 6 0 4 0 7 0 3 0 17 0 7 0 2 0 3 0 8 0 7 0 3 0 14 0 2 0 7 0 1 0 3 0 2 0 1 0 2 0 1 0 6 0 10 0 22 0 11 0 3 0 1 0 6 0 64 0 5 0 13 0 30 0 4 0 2 0 2 0 14 0 4 0 41 0 3 0 7 0 3 0 5 0 9 0 9 0 7 0 1 0 4 0 17 0 10 0 11 0 9 0 6 0 4 0 2 0 4 0 6 0 6 0 5 0 2 0 36 0 62 0 1 0 47 0 25 0 5 0 11 0 13 0 7 0 28 0 4 0 10 0 11 0 16 0 5 0 3 0 13 0 16 0 2 0 9 0 13 0 2 0 2 0 4 0 1 0 15 0 5 0 3 0 4 0 8 0 2 0 20 0 8 0 35 0 1 0 1 0 1 0 4 0 1 0 4 0 1 0 9 0 5 0 10 0 2 0 3 0 3 0 8 0 1 0 1 0 5 0 5 0 6 0 4 0 1 0 1 0 4 0 6 0 5 0 5 0 11 0 2 0 1 0 2 0 1 0 3 0 2 0 2 0 3 0 3 0 1 0 1 0 5 0 8 0 6 0 2 0 3 0 3 0 7 0 8 0 8 0 2 0 1 0 2 0 12 0 2 0 3 0 2 0 3 0 1 0 2 0 4 0 3 0 5 0 3 0 1 0 9 0 1 0 4 0 15 0 10 0 1 0 4 0 7 0 3 0 16 0 1 0 1 0 26 0 4 0 1 0 5 0 26 0 1 0 4 0 13 0 2 0 9 0 8 0 31 0 2 0 10 0 21 0 55 0 3 0 1 0 4 0 1 0 17 0 8 0 29 0 18 0 1 0 9 0 6 0 36 0 9 0 4 0 4 0 1 0 3 0 14 0 39 0 5 0 9 0 6 0 13 0 2 0 3 0 27 0 2 0 6 0 6 0 13 0 12 0 1 0 8 0 8 0 5 0 29 0 3 0 3 0 16 0 5 0 7 0 5 0 19 0 18 0 1 0 2 0 10 0 2 0 4 0 16 0 2 0 6 0 17 0 4 0 12 0 9 0 23 0 21 0 6 0 7 0 10 0 10 0 25 0 39 0 1 0 8 0 17 0 10 0 2 0 9 0 1 0 14 0 1 0 6 0 20 0 2 0 8 0 18 0 1 0 14 0 7 0 10 0 35 0 7 0 2 0 2 0 1 0 9 0 5 0 1 0 7 0 1 0 4 0 14 0 11 0 2 0 5 0 10 0 7 0 3 0 4 0 5 0 11 0 2 0 21 0 7 0 2 0 1 0 7 0 20 0 41 0 5 0 24 0 30 0 5 0 1 0 8 0 10 0 3 0 9 0 7 0 18 0 43 0 24 0 2 0 7 0 14 0 7 0 3 0 2 0 23 0 31 0 4 0 6 0 3 0 1 0 12 0 4 0 2 0 2 0 7 0 4 0 2 0 24 0 26 0 12 0 6 0 6 0 10 0 15 0 3 0 4 0 11 0 3 0 7 0 10 0 7 0 5 0 1 0 5 0 13 0 13 0 3 0 5 0 24 0 6 0 3 0 30 0 1 0 10 0 3 0 31 0 3 0 8 0 16 0 4 0 6 0 6 0 23 0 12 0 3 0 13 0 3 0 9 0 10 0 11 0 5 0 2 0 7 0 10 0 13 0 14 0 21 0 1 0 1 0 7 0 8 0 14 0 1 0 9 0 1 0 9 0 8 0 1 0 13 0 5 0 8 0 2 0 22 0 1 0 6 0 30 0 2 0 8 0 5 0 11 0 1 0 2 0 5 0 23 0 5 0 3 0 12 0 13 0 3 0 20 0 5 0 4 0 1 0 5 0 6 0 5 0 1 0 3 0 11 0 1 0 14 0 2 0 9 0 11 0 6 0 2 0 10 0 4 0 2 0 2 0 1 0 4 0 11 0 2 0 6 0 2 0 6 0 18 0 8 0 13 0 1 0 2 0 1 0 2 0 3 0 10 0 3 0 5 0 2 0 22 0 8 0 18 0 10 0 3 0 3 0 5 0 5 0 13 0 4 0 1 0 5 0 4 0 5 0 5 0 3 0 2 0 8 0 6 0 2 0 6 0 1 0 4 0 15 0 6 0 10 0 1 0 4 0 2 0 5 0 4 0 10 0 3 0 1 0 2 0 12 0 1 0 4 0 1 0 5 0 3 0 2 0 4 0 2 0 3 0 1 0 21 0 1 0 3 0 2 0 3 0 4 0 9 0 3 0 3 0 5 0 4 0 9 0 3 0 9 0 1 0 5 0 15 0 6 0 2 0 5 0 2 0 10 0 20 0 20 0 9 0 7 0 12 0 8 0 2 0 20 0 5 0 2 0 8 0 2 0 6 0 14 0 5 0 4 0 8 0 3 0 27 0 1 0 3 0 1 0 50 0 15 0 10 0 15 0 12 0 3 0 12 0 2 0 8 0 7 0 11 0 8 0 17 0 17 0 9 0 10 0 2 0 2 0 3 0 8 0 5 0 18 0 5 0 10 0 5 0 1 0 9 0 5 0 3 0 7 0 1 0 23 0 1 0 3 0 6 0 4 0 5 0 2 0 11 0 4 0 27 0 21 0 10 0 12 0 11 0 2 0 17 0 10 0 1 0 4 0 1 0 28 0 24 0 1 0 2 0 3 0 17 0 1 0 1 0 7 0 35 0 3 0 4 0 2 0 1 0 13 0 3 0 13 0 6 0 4 0 9 0 3 0 22 0 4 0 3 0 28 0 3 0 2 0 2 0 21 0 1 0 14 0 2 0 18 0 13 0 10 0 14 0 18 0 1 0 5 0 6 0 5 0 23 0 16 0 2 0 5 0 1 0 19 0 7 0 5 0 5 0 48 0 4 0 5 0 4 0 1 0 1 0 2 0 18 0 1 0 12 0 3 0 5 0 6 0 4 0 7 0 4 0 3 0 3 0 23 0 8 0 1 0 1 0 3 0 8 0 14 0 2 0 2 0 40 0 2 0 15 0 20 0 1 0 3 0 1 0 17 0 1 0 13 0 8 0 7 0 13 0 4 0 17 0 1 0 13 0 16 0 5 0 13 0 8 0 5 0 28 0 5 0 6 0 1 0 24 0 1 0 4 0 1 0 1 0 1 0 11 0 4 0 21 0 6 0 18 0 19 0 3 0 5 0 4 0 2 0 36 0 1 0 10 0 1 0 12 0 15 0 9 0 26 0 2 0 5 0 1 0 4 0 31 0 1 0 5 0 4 0 4 0 1 0 1 0 5 0 9 0 12 0 1 0 14 0 24 0 5 0 3 0 2 0 11 0 31 0 2 0 19 0 5 0 5 0 2 0 3 0 6 0 10 0 10 0 2 0 5 0 6 0 20 0 7 0 3 0 5 0 3 0 3 0 36 0 1 0 5 0 10 0 1 0 6 0 6 0 10 0 8 0 13 0 6 0 26 0 4 0 7 0 2 0 8 0 14 0 1 0 5 0 9 0 4 0 10 0 25 0 1 0 30 0 7 0 3 0 11 0 10 0 2 0 3 0 1 0 5 0 5 0 5 0 16 0 2 0 18 0 46 0 9 0 3 0 18 0 15 0 1 0 6 0 3 0 12 0 4 0 5 0 12 0 10 0 15 0 2 0 41 0 3 0 7 0 4 0 10 0 2 0 1 0 3 0 2 0 1 0 1 0 9 0 8 0 7 0 9 0 5 0 4 0 8 0 2 0 1 0 5 0 4 0 20 0 1 0 1 0 3 0 1 0 1 0 2 0 7 0 5 0 14 0 2 0 7 0 6 0 11 0 16 0 6 0 3 0 1 0 5 0 1 0 3 0 5 0 1 0 4 0 11 0 2 0 5 0 8 0 6 0 3 0 10 0 2 0 3 0 3 0 2 0 15 0 12 0 2 0 19 0 4 0 32 0 1 0 13 0 3 0 2 0 2 0 1 0 5 0 9 0 14 0 7 0 5 0 15 0 1 0 6 0 9 0 1 0 15 0 2 0 1 0 12 0 5 0 8 0 5 0 7 0 2 0 1 0 5 0 12 0 20 0 10 0 6 0 2 0 5 0 2 0 3 0 4 0 4 0 57 0 12 0 6 0 1 0 1 0 4 0 1 0 6 0 3 0 11 0 21 0 6 0 9 0 11 0 1 0 1 0 22 0 8 0 7 0 18 0 11 0 3 0 10 0 27 0 8 0 3 0 2 0 1 0 5 0 18 0 11 0 5 0 9 0 6 0 1 0 5 0 2 0 12 0 6 0 1 0 8 0 39 0 6 0 15 0 5 0 16 0 5 0 14 0 11 0 12 0 21 0 9 0 6 0 15 0 11 0 6 0 1 0 21 0 13 0 2 0 10 0 1 0 1 0 2 0 8 0 2 0 1 0 10 0 21 0 14 0 24 0 5 0 30 0 15 0 16 0 4 0 2 0 2 0 8 0 17 0 15 0 36 0 3 0 4 0 20 0 10 0 9 0 24 0 4 0 31 0 2 0 8 0 47 0 2 0 4 0 4 0 9 0 3 0 10 0 1 0 10 0 4 0 13 0 3 0 16 0 15 0 13 0 12 0 15 0 18 0 4 0 8 0 10 0 7 0 19 0 1 0 11 0 11 0 3 0 16 0 2 0 20 0 10 0 7 0 1 0 3 0 2 0 19 0 16 0 7 0 11 0 2 0 39 0 11 0 7 0 30 0 13 0 2 0 2 0 3 0 6 0 13 0 24 0 16 0 16 0 7 0 16 0 4 0 22 0 30 0 6 0 22 0 11 0 22 0 4 0 3 0 8 0 8 0 1 0 11 0 5 0 10 0 6 0 21 0 1 0 5 0 10 0 1 0 2 0 3 0 8 0 17 0 22 0 19 0 6 0 2 0 2 0 2 0 14 0 21 0 2 0 4 0 1 0 5 0 12 0 3 0 5 0 12 0 14 0 17 0 18 0 11 0 5 0 38 0 2 0 8 0 11 0 5 0 1 0 10 0 3 0 17 0 1 0 3 0 1 0 1 0 30 0 4 0 6 0 10 0 13 0 3 0 10 0 1 0 11 0 7 0 6 0 7 0 1 0 8 0 4 0 20 0 1 0 17 0 7 0 2 0 3 0 6 0 5 0 23 0 7 0 3 0 17 0 14 0 2 0 4 0 7 0 4 0 1 0 5 0 2 0 9 0 4 0 1 0 3 0 5 0 7 0 5 0 10 0 4 0 3 0 9 0 5 0 15 0 3 0 4 0 6 0 10 0 9 0 4 0 8 0 16 0 1 0 2 0 1 0 11 0 6 0 3 0 2 0 4 0 11 0 2 0 11 0 4 0 5 0 1 0 4 0 4 0 1 0 7 0 15 0 1 0 2 0 1 0 6 0 14 0 3 0 4 0 5 0 1 0 1 0 7 0 1 0 4 0 23 0 8 0 2 0 3 0 4 0 5 0 13 0 5 0 10 0 42 0 10 0 1 0 3 0 1 0 3 0 7 0 10 0 1 0 2 0 10 0 4 0 43 0 4 0 13 0 17 0 13 0 16 0 19 0 14 0 4 0 6 0 2 0 4 0 9 0 3 0 5 0 5 0 2 0 7 0 2 0 5 0 1 0 2 0 8 0 2 0 14 0 5 0 6 0 15 0 12 0 15 0 1 0 5 0 1 0 14 0 16 0 7 0 5 0 21 0 1 0 2 0 23 0 4 0 2 0 3 0 11 0 1 0 1 0 1 0 7 0 5 0 2 0 5 0 18 0 2 0 6 0 9 0 2 0 10 0 13 0 7 0 44 0 3 0 19 0 9 0 2 0 1 0 16 0 2 0 1 0 24 0 3 0 6 0 17 0 7 0 12 0 17 0 1 0 3 0 4 0 6 0 5 0 3 0 10 0 4 0 7 0 2 0 3 0 11 0 23 0 6 0 8 0 5 0 21 0 16 0 6 0 7 0 17 0 10 0 2 0 2 0 2 0 19 0 2 0 1 0 9 0 16 0 9 0 19 0 9 0 5 0 20 0 5 0 3 0 6 0 3 0 17 0 22 0 11 0 3 0 4 0 5 0 11 0 3 0 50 0 3 0 8 0 8 0 2 0 15 0 2 0 17 0 9 0 5 0 12 0 1 0 3 0 2 0 5 0 19 0 28 0 9 0 2 0 14 0 3 0 2 0 1 0 8 0 2 0 30 0 4 0 1 0 24 0 5 0 6 0 27 0 5 0 23 0 25 0 11 0 4 0 12 0 20 0 9 0 2 0 9 0 10 0 2 0 6 0 2 0 2 0 9 0 10 0 7 0 15 0 6 0 1 0 3 0 8 0 2 0 3 0 11 0 6 0 4 0 9 0 5 0 1 0 9 0 16 0 7 0 17 0 3 0 5 0 27 0 17 0 4 0 5 0 37 0 1 0 16 0 5 0 26 0 34 0 14 0 15 0 1 0 3 0 5 0 3 0 15 0 11 0 4 0 17 0 7 0 8 0 11 0 2 0 3 0 1 0 4 0 16 0 1 0 11 0 12 0 1 0 4 0 8 0 29 0 17 0 3 0 1 0 24 0 12 0 15 0 9 0 7 0 12 0 51 0 4 0 2 0 7 0 3 0 5 0 2 0 5 0 3 0 19 0 26 0 10 0 1 0 2 0 1 0 12 0 1 0 10 0 5 0 8 0 8 0 14 0 5 0 2 0 11 0 5 0 2 0 13 0 4 0 4 0 16 0 9 0 33 0 4 0 3 0 1 0 1 0 1 0 2 0 5 0 1 0 1 0 2 0 3 0 21 0 6 0 9 0 13 0 5 0 1 0 2 0 7 0 10 0 2 0 3 0 1 0 9 0 2 0 4 0 5 0 1 0 4 0 1 0 1 0 3 0 1 0 4 0 3 0 2 0 1 0 4 0 8 0 6 0 3 0 8 0 2 0 1 0 2 0 9 0 4 0 2 0 4 0 11 0 1 0 8 0 1 0 12 0 4 0 10 0 2 0 4 0 2 0 4 0 12 0 2 0 6 0 6 0 2 0 3 0 6 0 9 0 2 0 3 0 1 0 1 0 1 0 2 0 21 0 2 0 14 0 6 0 16 0 4 0 1 0 5 0 26 0 5 0 6 0 1 0 10 0 6 0 1 0 6 0 2 0 2 0 4 0 9 0 1 0 1 0 1 0 4 0 7 0 6 0 15 0 2 0 14 0 4 0 17 0 11 0 2 0 8 0 18 0 1 0 1 0 16 0 6 0 6 0 7 0 19 0 22 0 3 0 1 0 17 0 13 0 1 0 1 0 2 0 9 0 22 0 3 0 1 0 9 0 5 0 19 0 5 0 14 0 16 0 7 0 2 0 2 0 1 0 8 0 26 0 6 0 8 0 2 0 3 0 4 0 6 0 3 0 21 0 2 0 4 0 10 0 24 0 2 0 9 0 7 0 1 0 5 0 16 0 11 0 1 0 9 0 8 0 2 0 3 0 5 0 9 0 2 0 9 0 20 0 11 0 4 0 21 0 23 0 26 0 2 0 2 0 1 0 1 0 15 0 17 0 3 0 3 0 5 0 6 0 13 0 13 0 9 0 1 0 11 0 3 0 8 0 14 0 10 0 2 0 5 0 21 0 32 0 17 0 3 0 12 0 14 0 10 0 7 0 7 0 19 0 18 0 9 0 1 0 31 0 37 0 1 0 9 0 1 0 3 0 3 0 3 0 10 0 10 0 14 0 16 0 5 0 2 0 16 0 12 0 24 0 9 0 3 0 1 0 10 0 1 0 1 0 4 0 3 0 2 0 10 0 22 0 1 0 14 0 30 0 7 0 1 0 9 0 23 0 4 0 9 0 19 0 2 0 11 0 6 0 1 0 8 0 2 0 9 0 1 0 25 0 4 0 3 0 12 0 11 0 5 0 2 0 20 0 4 0 1 0 13 0 3 0 21 0 19 0 6 0 5 0 8 0 4 0 8 0 1 0 3 0 5 0 2 0 5 0 7 0 2 0 7 0 8 0 14 0 1 0 10 0 2 0 37 0 5 0 19 0 4 0 11 0 12 0 31 0 15 0 2 0 9 0 3 0 18 0 13 0 16 0 4 0 3 0 2 0 4 0 6 0 7 0 3 0 23 0 10 0 5 0 3 0 3 0 16 0 13 0 12 0 1 0 9 0 2 0 25 0 1 0 40 0 12 0 7 0 13 0 18 0 4 0 4 0 7 0 9 0 6 0 1 0 32 0 6 0 10 0 7 0 20 0 3 0 6 0 26 0 11 0 11 0 29 0 10 0 30 0 7 0 2 0 1 0 6 0 6 0 25 0 5 0 2 0 3 0 1 0 13 0 12 0 7 0 5 0 1 0 10 0 6 0 5 0 27 0 7 0 1 0 5 0 2 0 3 0 2 0 4 0 1 0 6 0 6 0 3 0 2 0 4 0 9 0 6 0 1 0 2 0 4 0 1 0 3 0 2 0 8 0 5 0 1 0 2 0 8 0 2 0 10 0 5 0 1 0 5 0 5 0 1 0 12 0 3 0 6 0 3 0 2 0 4 0 6 0 4 0 4 0 2 0 5 0 2 0 5 0 2 0 6 0 2 0 8 0 1 0 4 0 13 0 3 0 2 0 9 0 7 0 5 0 3 0 3 0 4 0 4 0 2 0 3 0 6 0 2 0 6 0 15 0 1 0 10 0 25 0 3 0 7 0 8 0 5 0 26 0 35 0 1 0 8 0 4 0 11 0 2 0 8 0 5 0 1 0 2 0 25 0 7 0 1 0 27 0 6 0 14 0 1 0 4 0 1 0 2 0 7 0 2 0 2 0 15 0 21 0 3 0 5 0 2 0 3 0 1 0 4 0 17 0 13 0 9 0 5 0 4 0 10 0 5 0 1 0 1 0 1 0 14 0 8 0 15 0 3 0 1 0 9 0 2 0 1 0 8 0 1 0 7 0 8 0 13 0 5 0 8 0 10 0 4 0 5 0 13 0 10 0 11 0 2 0 10 0 9 0 3 0 9 0 1 0 14 0 5 0 7 0 4 0 4 0 2 0 7 0 4 0 10 0 4 0 1 0 21 0 2 0 2 0 1 0 25 0 23 0 1 0 6 0 11 0 21 0 3 0 16 0 11 0 1 0 7 0 7 0 27 0 13 0 8 0 5 0 18 0 22 0 13 0 5 0 6 0 3 0 12 0 12 0 4 0 17 0 4 0 3 0 3 0 5 0 6 0 5 0 41 0 2 0 25 0 45 0 2 0 21 0 2 0 4 0 6 0 6 0 1 0 2 0 17 0 4 0 7 0 15 0 38 0 16 0 4 0 1 0 16 0 4 0 3 0 4 0 8 0 1 0 6 0 7 0 5 0 4 0 11 0 23 0 4 0 14 0 13 0 15 0 1 0 6 0 18 0 6 0 2 0 4 0 20 0 2 0 5 0 7 0 3 0 2 0 3 0 4 0 24 0 3 0 28 0 7 0 14 0 5 0 11 0 10 0 1 0 4 0 9 0 3 0 9 0 4 0 1 0 24 0 19 0 9 0 15 0 32 0 6 0 5 0 1 0 7 0 16 0 16 0 9 0 4 0 2 0 10 0 1 0 18 0 11 0 17 0 55 0 25 0 1 0 7 0 3 0 10 0 5 0 1 0 8 0 5 0 18 0 5 0 1 0 23 0 2 0 10 0 14 0 31 0 15 0 9 0 5 0 3 0 3 0 11 0 7 0 5 0 1 0 2 0 14 0 7 0 2 0 5 0 3 0 1 0 6 0 10 0 1 0 11 0 9 0 1 0 15 0 12 0 15 0 4 0 27 0 5 0 12 0 3 0 2 0 5 0 1 0 9 0 5 0 2 0 3 0 2 0 1 0 10 0 3 0 10 0 5 0 1 0 2 0 5 0 5 0 21 0 5 0 4 0 7 0 1 0 9 0 5 0 21 0 22 0 1 0 2 0 1 0 2 0 7 0 1 0 23 0 1 0 7 0 5 0 8 0 1 0 29 0 13 0 14 0 1 0 9 0 8 0 18 0 1 0 6 0 1 0 23 0 20 0 1 0 14 0 1 0 3 0 5 0 3 0 2 0 1 0 1 0 3 0 7 0 4 0 1 0 2 0 10 0 1 0 3 0 2 0 4 0 9 0 1 0 11 0 4 0 2 0 11 0 2 0 1 0 10 0 1 0 1 0 6 0 2 0 2 0 1 0 1 0 7 0 1 0 1 0 3 0 1 0 17 0 4 0 2 0 5 0 1 0 8 0 4 0 7 0 10 0 1 0 4 0 2 0 3 0 3 0 3 0 4 0 2 0 2 0 7 0 8 0 3 0 12 0 4 0 1 0 6 0 3 0 1 0 4 0 5 0 2 0 9 0 6 0 1 0 2 0 3 0 1 0 1 0 26 0 2 0 17 0 4 0 14 0 4 0 19 0 17 0 2 0 15 0 19 0 13 0 18 0 14 0 2 0 18 0 4 0 1 0 10 0 11 0 5 0 1 0 1 0 15 0 1 0 2 0 7 0 16 0 10 0 10 0 1 0 5 0 11 0 3 0 6 0 18 0 6 0 5 0 1 0 7 0 2 0 33 0 6 0 14 0 16 0 4 0 2 0 5 0 4 0 4 0 44 0 14 0 3 0 34 0 6 0 36 0 1 0 17 0 25 0 11 0 21 0 16 0 10 0 3 0 10 0 36 0 1 0 3 0 4 0 11 0 12 0 1 0 4 0 5 0 6 0 5 0 1 0 4 0 1 0 9 0 6 0 7 0 16 0 4 0 35 0 13 0 16 0 4 0 6 0 3 0 6 0 2 0 6 0 11 0 5 0 4 0 17 0 9 0 36 0 4 0 18 0 3 0 36 0 5 0 17 0 5 0 10 0 10 0 3 0 6 0 12 0 14 0 5 0 4 0 18 0 6 0 1 0 10 0 1 0 1 0 3 0 2 0 8 0 15 0 18 0 15 0 9 0 13 0 5 0 22 0 2 0 3 0 9 0 1 0 11 0 5 0 5 0 9 0 17 0 10 0 2 0 5 0 2 0 2 0 6 0 5 0 9 0 11 0 5 0 6 0 6 0 1 0 5 0 3 0 8 0 24 0 23 0 2 0 3 0 3 0 7 0 5 0 5 0 16 0 15 0 4 0 16 0 1 0 4 0 3 0 4 0 6 0 7 0 7 0 10 0 2 0 22 0 18 0 9 0 16 0 3 0 21 0 4 0 4 0 21 0 14 0 1 0 11 0 5 0 6 0 24 0 17 0 9 0 53 0 11 0 18 0 9 0 6 0 9 0 8 0 18 0 7 0 12 0 10 0 58 0 1 0 2 0 5 0 14 0 12 0 1 0 7 0 13 0 3 0 22 0 14 0 5 0 28 0 5 0 1 0 4 0 4 0 13 0 8 0 5 0 10 0 3 0 5 0 19 0 12 0 34 0 16 0 2 0 8 0 3 0 28 0 5 0 9 0 5 0 1 0 28 0 3 0 12 0 14 0 7 0 3 0 2 0 2 0 2 0 2 0 1 0 20 0 17 0 10 0 1 0 5 0 2 0 1 0 20 0 2 0 9 0 5 0 6 0 1 0 3 0 8 0 4 0 37 0 15 0 1 0 10 0 1 0 1 0 2 0 1 0 1 0 3 0 8 0 1 0 2 0 6 0 2 0 2 0 2 0 6 0 10 0 1 0 1 0 2 0 2 0 5 0 6 0 2 0 4 0 3 0 2 0 2 0 1 0 5 0 1 0 3 0 2 0 9 0 5 0 2 0 4 0 3 0 5 0 7 0 3 0 4 0 7 0 4 0 4 0 3 0 5 0 2 0 1 0 2 0 4 0 9 0 1 0 5 0 1 0 1 0 8 0 1 0 2 0 3 0 4 0 6 0 1 0 2 0 10 0 8 0 1 0 2 0 8 0 1 0 4 0 11 0 1 0 7 0 3 0 6 0 4 0 11 0 2 0 5 0 2 0 2 0 18 0 10 0 6 0 10 0 1 0 7 0 1 0 15 0 2 0 5 0 7 0 9 0 16 0 16 0 15 0 7 0 10 0 4 0 2 0 31 0 4 0 5 0 6 0 1 0 56 0 12 0 4 0 11 0 4 0 7 0 9 0 2 0 14 0 2 0 35 0 1 0 9 0 17 0 22 0 1 0 7 0 2 0 30 0 2 0 9 0 1 0 1 0 11 0 5 0 6 0 2 0 1 0 5 0 3 0 28 0 5 0 4 0 2 0 22 0 7 0 5 0 6 0 33 0 3 0 3 0 2 0 1 0 19 0 35 0 5 0 14 0 7 0 5 0 26 0 1 0 9 0 12 0 10 0 18 0 8 0 14 0 16 0 3 0 13 0 5 0 3 0 10 0 4 0 17 0 4 0 17 0 11 0 13 0 7 0 3 0 13 0 14 0 6 0 2 0 10 0 6 0 7 0 6 0 2 0 24 0 2 0 3 0 5 0 1 0 4 0 4 0 9 0 10 0 16 0 1 0 35 0 3 0 9 0 5 0 10 0 2 0 8 0 2 0 1 0 18 0 10 0 9 0 2 0 45 0 8 0 7 0 20 0 1 0 1 0 3 0 1 0 21 0 1 0 4 0 27 0 1 0 4 0 1 0 12 0 4 0 6 0 10 0 4 0 1 0 4 0 7 0 4 0 8 0 13 0 10 0 2 0 5 0 22 0 2 0 29 0 19 0 14 0 7 0 3 0 10 0 20 0 12 0 13 0 18 0 5 0 3 0 2 0 21 0 1 0 1 0 5 0 2 0 8 0 11 0 5 0 7 0 9 0 2 0 11 0 2 0 3 0 39 0 27 0 5 0 8 0 6 0 11 0 18 0 14 0 9 0 6 0 11 0 6 0 3 0 25 0 16 0 7 0 24 0 6 0 3 0 11 0 22 0 15 0 23 0 11 0 10 0 8 0 33 0 11 0 9 0 1 0 10 0 2 0 16 0 2 0 3 0 16 0 1 0 4 0 19 0 1 0 22 0 3 0 8 0 8 0 6 0 16 0 6 0 5 0 15 0 8 0 9 0 7 0 10 0 3 0 15 0 12 0 7 0 3 0 2 0 8 0 11 0 57 0 5 0 21 0 1 0 1 0 2 0 7 0 2 0 5 0 1 0 3 0 2 0 5 0 5 0 3 0 12 0 20 0 11 0 2 0 20 0 1 0 9 0 8 0 19 0 2 0 19 0 6 0 4 0 22 0 6 0 25 0 6 0 2 0 6 0 8 0 1 0 11 0 3 0 2 0 1 0 1 0 9 0 8 0 6 0 8 0 14 0 2 0 2 0 2 0 4 0 7 0 5 0 4 0 5 0 1 0 1 0 9 0 5 0 7 0 4 0 7 0 4 0 15 0 3 0 8 0 6 0 4 0 3 0 9 0 12 0 5 0 9 0 2 0 5 0 7 0 7 0 1 0 4 0 4 0 12 0 1 0 5 0 1 0 2 0 29 0 3 0 1 0 22 0 4 0 6 0 7 0 41 0 38 0 3 0 6 0 4 0 11 0 7 0 8 0 5 0 33 0 1 0 5 0 3 0 6 0 8 0 8 0 21 0 1 0 15 0 2 0 20 0 17 0 9 0 11 0 5 0 1 0 10 0 22 0 2 0 3 0 20 0 1 0 1 0 16 0 25 0 5 0 1 0 17 0 3 0 11 0 1 0 3 0 23 0 4 0 5 0 9 0 26 0 29 0 1 0 1 0 3 0 13 0 2 0 27 0 2 0 8 0 7 0 20 0 3 0 4 0 5 0 21 0 7 0 4 0 1 0 7 0 7 0 1 0 11 0 2 0 17 0 5 0 6 0 4 0 6 0 7 0 1 0 18 0 1 0 6 0 10 0 10 0 2 0 11 0 4 0 1 0 4 0 20 0 5 0 2 0 3 0 1 0 1 0 3 0 5 0 9 0 5 0 5 0 13 0 14 0 5 0 3 0 5 0 20 0 25 0 1 0 9 0 5 0 10 0 10 0 38 0 28 0 8 0 15 0 2 0 27 0 1 0 2 0 3 0 15 0 11 0 19 0 15 0 3 0 1 0 13 0 27 0 11 0 10 0 15 0 5 0 1 0 2 0 10 0 2 0 16 0 5 0 6 0 6 0 2 0 2 0 13 0 21 0 25 0 11 0 2 0 4 0 4 0 5 0 14 0 3 0 6 0 28 0 7 0 11 0 17 0 17 0 13 0 19 0 24 0 35 0 8 0 15 0 1 0 7 0 1 0 9 0 3 0 12 0 4 0 4 0 3 0 2 0 20 0 19 0 13 0 6 0 10 0 3 0 15 0 8 0 9 0 8 0 18 0 7 0 10 0 2 0 17 0 12 0 4 0 9 0 3 0 1 0 9 0 26 0 15 0 9 0 24 0 12 0 6 0 2 0 6 0 24 0 5 0 5 0 2 0 1 0 10 0 5 0 6 0 33 0 1 0 2 0 7 0 23 0 2 0 11 0 5 0 8 0 16 0 3 0 23 0 8 0 7 0 14 0 13 0 44 0 2 0 3 0 2 0 1 0 10 0 11 0 12 0 4 0 5 0 3 0 5 0 4 0 7 0 8 0 2 0 3 0 18 0 2 0 18 0 1 0 13 0 1 0 2 0 2 0 6 0 3 0 25 0 3 0 3 0 8 0 11 0 1 0 2 0 9 0 17 0 2 0 28 0 4 0 1 0 21 0 12 0 13 0 6 0 5 0 6 0 5 0 2 0 3 0 1 0 6 0 1 0 4 0 4 0 5 0 16 0 2 0 4 0 11 0 10 0 6 0 3 0 3 0 3 0 3 0 7 0 3 0 9 0 7 0 3 0 2 0 13 0 2 0 1 0 10 0 5 0 3 0 5 0 4 0 2 0 2 0 3 0 1 0 6 0 1 0 4 0 4 0 2 0 3 0 8 0 3 0 12 0 6 0 1 0 2 0 3 0 4 0 1 0 10 0 6 0 9 0 2 0 4 0 1 0 5 0 6 0 5 0 50 0 7 0 4 0 17 0 2 0 3 0 12 0 1 0 11 0 7 0 19 0 10 0 21 0 4 0 1 0 5 0 5 0 22 0 4 0 6 0 3 0 3 0 2 0 55 0 4 0 3 0 7 0 7 0 10 0 10 0 8 0 20 0 15 0 3 0 7 0 6 0 3 0 2 0 2 0 4 0 3 0 26 0 16 0 8 0 8 0 18 0 1 0 2 0 8 0 5 0 5 0 3 0 2 0 14 0 14 0 4 0 24 0 3 0 4 0 6 0 3 0 8 0 14 0 1 0 3 0 11 0 2 0 12 0 16 0 7 0 2 0 4 0 18 0 3 0 30 0 13 0 12 0 4 0 11 0 21 0 23 0 26 0 9 0 12 0 3 0 14 0 14 0 1 0 6 0 2 0 2 0 33 0 10 0 3 0 2 0 3 0 1 0 9 0 11 0 8 0 5 0 17 0 15 0 5 0 4 0 12 0 5 0 18 0 23 0 26 0 26 0 5 0 6 0 1 0 12 0 2 0 5 0 24 0 2 0 18 0 7 0 5 0 13 0 6 0 6 0 44 0 2 0 2 0 9 0 10 0 7 0 1 0 3 0 10 0 36 0 2 0 1 0 5 0 7 0 6 0 30 0 15 0 6 0 9 0 11 0 3 0 5 0 2 0 7 0 14 0 2 0 1 0 1 0 20 0 6 0 8 0 2 0 3 0 6 0 1 0 8 0 1 0 10 0 6 0 2 0 5 0 4 0 5 0 2 0 10 0 14 0 1 0 20 0 15 0 7 0 2 0 5 0 2 0 2 0 22 0 2 0 1 0 10 0 33 0 9 0 7 0 1 0 16 0 5 0 8 0 2 0 11 0 5 0 5 0 16 0 11 0 10 0 3 0 27 0 13 0 1 0 2 0 7 0 5 0 10 0 21 0 6 0 9 0 8 0 5 0 5 0 6 0 11 0 8 0 2 0 3 0 1 0 3 0 19 0 1 0 8 0 2 0 5 0 6 0 17 0 3 0 7 0 2 0 2 0 9 0 13 0 6 0 5 0 8 0 8 0 2 0 43 0 4 0 1 0 3 0 10 0 3 0 2 0 10 0 3 0 12 0 1 0 9 0 8 0 3 0 4 0 2 0 15 0 6 0 9 0 3 0 3 0 12 0 8 0 5 0 4 0 14 0 29 0 6 0 8 0 9 0 15 0 6 0 5 0 5 0 5 0 2 0 4 0 5 0 18 0 9 0 5 0 2 0 3 0 21 0 18 0 14 0 12 0 8 0 8 0 40 0 3 0 4 0 1 0 29 0 6 0 4 0 14 0 2 0 8 0 36 0 2 0 5 0 1 0 7 0 1 0 6 0 4 0 2 0 4 0 16 0 20 0 13 0 6 0 7 0 8 0 4 0 7 0 2 0 1 0 5 0 1 0 12 0 4 0 2 0 5 0 3 0 2 0 4 0 4 0 7 0 4 0 2 0 3 0 2 0 1 0 2 0 1 0 4 0 2 0 3 0 3 0 1 0 4 0 10 0 4 0 3 0 2 0 1 0 4 0 2 0 6 0 5 0 3 0 6 0 7 0 11 0 3 0 1 0 3 0 13 0 3 0 1 0 1 0 4 0 1 0 4 0 22 0 7 0 4 0 4 0 20 0 4 0 7 0 2 0 12 0 7 0 1 0 13 0 8 0 10 0 11 0 1 0 1 0 21 0 22 0 10 0 3 0 7 0 11 0 14 0 1 0 1 0 3 0 7 0 4 0 1 0 3 0 6 0 1 0 4 0 2 0 5 0 6 0 8 0 6 0 5 0 1 0 2 0 2 0 2 0 1 0 15 0 11 0 2 0 31 0 4 0 49 0 18 0 3 0 8 0 3 0 14 0 19 0 6 0 2 0 11 0 9 0 20 0 11 0 11 0 5 0 2 0 1 0 4 0 3 0 17 0 6 0 10 0 4 0 5 0 16 0 3 0 30 0 6 0 29 0 1 0 2 0 2 0 2 0 6 0 3 0 2 0 8 0 7 0 12 0 4 0 4 0 18 0 1 0 4 0 1 0 5 0 6 0 4 0 15 0 4 0 10 0 12 0 20 0 3 0 8 0 13 0 10 0 5 0 3 0 12 0 5 0 13 0 4 0 14 0 3 0 4 0 4 0 11 0 8 0 5 0 8 0 4 0 25 0 9 0 15 0 42 0 6 0 16 0 13 0 15 0 1 0 2 0 5 0 21 0 28 0 5 0 11 0 58 0 5 0 1 0 14 0 11 0 1 0 6 0 4 0 2 0 2 0 32 0 13 0 15 0 5 0 6 0 13 0 13 0 21 0 14 0 5 0 7 0 17 0 3 0 6 0 1 0 16 0 20 0 21 0 18 0 3 0 2 0 4 0 16 0 30 0 6 0 1 0 17 0 2 0 3 0 3 0 23 0 7 0 15 0 4 0 12 0 3 0 34 0 13 0 2 0 5 0 1 0 11 0 6 0 30 0 16 0 4 0 12 0 12 0 2 0 24 0 16 0 10 0 9 0 12 0 1 0 2 0 6 0 2 0 5 0 6 0 2 0 3 0 7 0 3 0 10 0 13 0 1 0 10 0 1 0 10 0 15 0 8 0 1 0 2 0 1 0 9 0 3 0 11 0 20 0 10 0 27 0 9 0 2 0 3 0 11 0 7 0 30 0 7 0 4 0 7 0 6 0 10 0 11 0 7 0 9 0 18 0 3 0 23 0 8 0 4 0 24 0 2 0 3 0 4 0 17 0 2 0 7 0 17 0 4 0 6 0 27 0 8 0 5 0 11 0 1 0 17 0 13 0 11 0 2 0 4 0 1 0 5 0 12 0 4 0 5 0 6 0 3 0 3 0 4 0 2 0 2 0 5 0 7 0 4 0 3 0 13 0 2 0 14 0 17 0 23 0 15 0 7 0 1 0 5 0 1 0 2 0 7 0 6 0 1 0 4 0 2 0 3 0 1 0 6 0 5 0 2 0 8 0 15 0 1 0 22 0 6 0 6 0 5 0 2 0 3 0 4 0 4 0 1 0 2 0 3 0 1 0 3 0 6 0 6 0 6 0 15 0 1 0 1 0 10 0 17 0 2 0 6 0 2 0 2 0 1 0 6 0 1 0 1 0 7 0 3 0 3 0 12 0 8 0 1 0 15 0 6 0 13 0 6 0 3 0 4 0 1 0 1 0 4 0 1 0 5 0 29 0 3 0 5 0 7 0 16 0 10 0 21 0 6 0 21 0 13 0 1 0 6 0 9 0 1 0 32 0 5 0 1 0 26 0 9 0 17 0 18 0 9 0 1 0 1 0 18 0 10 0 1 0 5 0 8 0 8 0 2 0 9 0 15 0 23 0 15 0 1 0 10 0 4 0 6 0 9 0 12 0 4 0 16 0 23 0 1 0 7 0 8 0 6 0 2 0 7 0 2 0 7 0 16 0 3 0 4 0 3 0 4 0 13 0 5 0 7 0 8 0 6 0 2 0 4 0 30 0 4 0 9 0 11 0 6 0 4 0 5 0 24 0 16 0 3 0 9 0 1 0 21 0 8 0 11 0 2 0 21 0 12 0 6 0 4 0 2 0 9 0 4 0 3 0 3 0 6 0 3 0 2 0 33 0 6 0 7 0 16 0 14 0 2 0 7 0 6 0 11 0 11 0 3 0 1 0 1 0 3 0 7 0 8 0 10 0 23 0 4 0 10 0 13 0 10 0 9 0 2 0 31 0 4 0 2 0 61 0 1 0 16 0 4 0 13 0 10 0 11 0 6 0 3 0 11 0 4 0 2 0 1 0 5 0 3 0 1 0 33 0 3 0 3 0 8 0 4 0 23 0 21 0 1 0 1 0 1 0 8 0 4 0 3 0 10 0 19 0 2 0 1 0 8 0 8 0 25 0 6 0 1 0 13 0 21 0 2 0 13 0 1 0 3 0 10 0 41 0 4 0 7 0 8 0 2 0 15 0 1 0 1 0 5 0 15 0 7 0 8 0 4 0 12 0 7 0 13 0 7 0 4 0 6 0 17 0 14 0 11 0 6 0 5 0 1 0 13 0 7 0 10 0 20 0 6 0 5 0 2 0 13 0 19 0 1 0 9 0 8 0 11 0 3 0 25 0 6 0 8 0 3 0 8 0 11 0 3 0 2 0 7 0 9 0 5 0 8 0 2 0 2 0 1 0 8 0 6 0 4 0 1 0 18 0 2 0 18 0 11 0 22 0 4 0 5 0 12 0 17 0 16 0 3 0 4 0 9 0 9 0 9 0 12 0 6 0 9 0 3 0 7 0 10 0 27 0 2 0 1 0 9 0 4 0 22 0 5 0 1 0 27 0 4 0 5 0 1 0 3 0 1 0 12 0 3 0 3 0 4 0 4 0 15 0 11 0 6 0 10 0 52 0 6 0 2 0 8 0 23 0 22 0 10 0 3 0 3 0 4 0 6 0 8 0 1 0 10 0 6 0 13 0 34 0 3 0 12 0 4 0 8 0 4 0 2 0 2 0 10 0 27 0 15 0 1 0 4 0 1 0 1 0 20 0 3 0 3 0 4 0 4 0 22 0 4 0 7 0 1 0 2 0 2 0 1 0 1 0 2 0 3 0 9 0 3 0 4 0 8 0 1 0 3 0 2 0 9 0 6 0 1 0 6 0 1 0 5 0 3 0 2 0 5 0 3 0 1 0 5 0 4 0 9 0 4 0 10 0 2 0 5 0 14 0 36 0 3 0 3 0 2 0 5 0 7 0 7 0 10 0 1 0 1 0 4 0 2 0 23 0 2 0 5 0 1 0 13 0 3 0 3 0 9 0 1 0 10 0 1 0 17 0 5 0 10 0 21 0 47 0 12 0 9 0 18 0 1 0 8 0 1 0 3 0 8 0 32 0 16 0 5 0 6 0 3 0 1 0 9 0 2 0 16 0 4 0 19 0 12 0 1 0 16 0 1 0 3 0 2 0 5 0 6 0 11 0 8 0 5 0 6 0 5 0 2 0 1 0 4 0 35 0 16 0 12 0 10 0 1 0 1 0 14 0 1 0 9 0 1 0 11 0 11 0 13 0 7 0 5 0 4 0 17 0 1 0 20 0 1 0 19 0 1 0 3 0 2 0 3 0 7 0 7 0 3 0 2 0 3 0 6 0 3 0 2 0 11 0 3 0 2 0 2 0 5 0 23 0 38 0 11 0 16 0 26 0 29 0 12 0 2 0 18 0 3 0 7 0 3 0 9 0 18 0 1 0 4 0 2 0 4 0 2 0 25 0 12 0 26 0 4 0 2 0 1 0 7 0 6 0 3 0 2 0 1 0 6 0 6 0 6 0 8 0 7 0 9 0 6 0 4 0 2 0 11 0 8 0 28 0 20 0 23 0 3 0 26 0 13 0 3 0 12 0 2 0 2 0 1 0 2 0 3 0 26 0 2 0 10 0 7 0 2 0 12 0 14 0 5 0 11 0 1 0 1 0 3 0 1 0 10 0 5 0 2 0 26 0 6 0 8 0 13 0 10 0 3 0 7 0 5 0 21 0 22 0 1 0 13 0 2 0 6 0 4 0 10 0 5 0 8 0 9 0 7 0 21 0 3 0 1 0 4 0 2 0 3 0 6 0 6 0 4 0 22 0 1 0 8 0 2 0 1 0 7 0 1 0 37 0 2 0 14 0 16 0 23 0 9 0 3 0 4 0 7 0 15 0 3 0 5 0 2 0 24 0 6 0 1 0 15 0 7 0 19 0 6 0 54 0 1 0 16 0 36 0 5 0 9 0 2 0 16 0 9 0 1 0 26 0 4 0 2 0 2 0 9 0 3 0 1 0 19 0 18 0 9 0 8 0 15 0 3 0 3 0 13 0 19 0 23 0 14 0 7 0 5 0 3 0 6 0 4 0 1 0 2 0 1 0 5 0 23 0 1 0 4 0 3 0 2 0 5 0 7 0 10 0 3 0 25 0 55 0 2 0 20 0 2 0 21 0 5 0 15 0 6 0 5 0 22 0 40 0 2 0 8 0 24 0 3 0 27 0 1 0 3 0 6 0 5 0 6 0 11 0 1 0 23 0 6 0 1 0 17 0 2 0 1 0 1 0 1 0 4 0 7 0 4 0 12 0 7 0 1 0 2 0 4 0 1 0 11 0 6 0 8 0 4 0 3 0 2 0 2 0 9 0 2 0 5 0 2 0 3 0 1 0 5 0 4 0 4 0 3 0 5 0 3 0 8 0 19 0 5 0 1 0 1 0 1 0 11 0 2 0 3 0 2 0 6 0 1 0 4 0 5 0 1 0 4 0 6 0 6 0 4 0 2 0 1 0 5 0 5 0 9 0 1 0 10 0 10 0 2 0 2 0 2 0 1 0 11 0 4 0 5 0 29 0 9 0 7 0 20 0 5 0 10 0 2 0 4 0 4 0 1 0 15 0 5 0 24 0 12 0 8 0 3 0 1 0 9 0 16 0 4 0 2 0 5 0 3 0 13 0 7 0 3 0 2 0 7 0 2 0 2 0 15 0 5 0 21 0 4 0 13 0 4 0 10 0 12 0 1 0 5 0 4 0 4 0 10 0 24 0 13 0 1 0 1 0 5 0 15 0 2 0 11 0 7 0 14 0 5 0 10 0 5 0 5 0 4 0 5 0 3 0 7 0 6 0 2 0 1 0 19 0 2 0 9 0 15 0 2 0 21 0 3 0 3 0 12 0 13 0 7 0 7 0 10 0 4 0 3 0 18 0 35 0 13 0 2 0 1 0 6 0 7 0 8 0 7 0 10 0 2 0 8 0 1 0 1 0 5 0 1 0 2 0 6 0 18 0 8 0 1 0 5 0 2 0 3 0 17 0 3 0 3 0 18 0 9 0 2 0 6 0 4 0 6 0 1 0 4 0 5 0 5 0 1 0 2 0 1 0 4 0 10 0 9 0 5 0 1 0 1 0 1 0 11 0 12 0 11 0 3 0 3 0 6 0 14 0 2 0 2 0 9 0 10 0 1 0 7 0 1 0 2 0 10 0 24 0 6 0 18 0 6 0 9 0 5 0 11 0 6 0 1 0 4 0 10 0 2 0 12 0 5 0 1 0 6 0 2 0 15 0 4 0 10 0 6 0 4 0 1 0 17 0 1 0 44 0 3 0 1 0 3 0 12 0 2 0 8 0 4 0 5 0 3 0 7 0 8 0 21 0 14 0 14 0 7 0 8 0 4 0 6 0 21 0 1 0 6 0 9 0 3 0 22 0 7 0 1 0 15 0 16 0 4 0 21 0 1 0 6 0 3 0 5 0 3 0 7 0 1 0 7 0 6 0 3 0 4 0 6 0 10 0 11 0 5 0 1 0 1 0 3 0 3 0 19 0 13 0 6 0 4 0 3 0 11 0 20 0 1 0 15 0 6 0 27 0 20 0 35 0 17 0 1 0 7 0 15 0 16 0 17 0 9 0 11 0 12 0 4 0 32 0 5 0 27 0 4 0 29 0 1 0 3 0 15 0 1 0 15 0 3 0 5 0 16 0 9 0 3 0 1 0 13 0 30 0 9 0 12 0 4 0 11 0 18 0 1 0 8 0 6 0 3 0 6 0 12 0 21 0 6 0 14 0 2 0 6 0 9 0 14 0 2 0 7 0 2 0 29 0 9 0 6 0 9 0 23 0 4 0 5 0 25 0 2 0 17 0 7 0 6 0 1 0 5 0 31 0 7 0 3 0 7 0 16 0 6 0 4 0 1 0 6 0 50 0 11 0 8 0 3 0 20 0 8 0 1 0 32 0 1 0 8 0 4 0 3 0 2 0 2 0 1 0 5 0 1 0 7 0 2 0 4 0 6 0 6 0 1 0 8 0 2 0 1 0 2 0 2 0 6 0 1 0 7 0 10 0 12 0 1 0 6 0 2 0 3 0 4 0 10 0 2 0 6 0 5 0 7 0 4 0 4 0 6 0 3 0 6 0 1 0 1 0 2 0 2 0 4 0 4 0 2 0 4 0 2 0 4 0 8 0 3 0 5 0 7 0 3 0 7 0 1 0 2 0 3 0 4 0 3 0 1 0 7 0 1 0 3 0 2 0 10 0 19 0 2 0 1 0 3 0 4 0 1 0 20 0 1 0 5 0 1 0 4 0 2 0 1 0 8 0 8 0 3 0 41 0 2 0 20 0 10 0 11 0 2 0 2 0 3 0 15 0 3 0 6 0 2 0 26 0 20 0 8 0 55 0 11 0 2 0 5 0 9 0 8 0 5 0 35 0 2 0 38 0 9 0 4 0 8 0 31 0 1 0 2 0 6 0 1 0 4 0 6 0 17 0 6 0 4 0 5 0 1 0 15 0 3 0 2 0 2 0 2 0 6 0 34 0 15 0 11 0 29 0 2 0 5 0 9 0 24 0 3 0 1 0 16 0 9 0 12 0 1 0 13 0 17 0 15 0 2 0 3 0 2 0 2 0 11 0 2 0 5 0 10 0 1 0 8 0 2 0 32 0 9 0 22 0 5 0 4 0 6 0 10 0 1 0 11 0 16 0 18 0 7 0 3 0 2 0 24 0 4 0 6 0 3 0 1 0 23 0 14 0 16 0 7 0 1 0 3 0 3 0 2 0 11 0 16 0 5 0 6 0 11 0 10 0 25 0 19 0 9 0 32 0 5 0 1 0 4 0 21 0 1 0 4 0 5 0 8 0 4 0 1 0 3 0 8 0 52 0 4 0 11 0 9 0 5 0 26 0 13 0 9 0 10 0 2 0 3 0 7 0 30 0 1 0 7 0 22 0 3 0 2 0 3 0 6 0 12 0 4 0 15 0 8 0 18 0 6 0 27 0 6 0 14 0 1 0 5 0 1 0 6 0 2 0 3 0 18 0 1 0 23 0 5 0 4 0 13 0 14 0 1 0 14 0 17 0 27 0 2 0 3 0 2 0 3 0 11 0 1 0 1 0 3 0 4 0 6 0 1 0 16 0 4 0 2 0 4 0 36 0 7 0 9 0 5 0 6 0 4 0 6 0 10 0 3 0 8 0 3 0 13 0 5 0 10 0 1 0 6 0 12 0 5 0 3 0 1 0 14 0 5 0 4 0 3 0 6 0 24 0 1 0 6 0 13 0 5 0 18 0 23 0 8 0 2 0 20 0 18 0 6 0 20 0 5 0 12 0 16 0 12 0 6 0 18 0 8 0 8 0 13 0 8 0 16 0 28 0 9 0 3 0 2 0 9 0 3 0 5 0 3 0 7 0 16 0 3 0 3 0 20 0 32 0 5 0 1 0 5 0 9 0 6 0 5 0 2 0 7 0 9 0 5 0 3 0 25 0 1 0 2 0 1 0 4 0 8 0 2 0 1 0 8 0 5 0 11 0 16 0 7 0 8 0 34 0 3 0 3 0 4 0 4 0 2 0 3 0 15 0 3 0 9 0 2 0 8 0 2 0 6 0 2 0 2 0 5 0 4 0 2 0 5 0 1 0 2 0 6 0 13 0 4 0 6 0 1 0 14 0 7 0 2 0 6 0 5 0 1 0 1 0 9 0 4 0 2 0 1 0 4 0 1 0 1 0 3 0 2 0 4 0 11 0 1 0 5 0 6 0 2 0 3 0 3 0 6 0 3 0 3 0 9 0 4 0 1 0 1 0 9 0 3 0 4 0 10 0 2 0 3 0 2 0 2 0 1 0 5 0 5 0 1 0 2 0 2 0 5 0 1 0 1 0 2 0 2 0 2 0 1 0 2 0 3 0 5 0 21 0 14 0 21 0 16 0 7 0 4 0 1 0 1 0 1 0 13 0 1 0 14 0 4 0 7 0 3 0 5 0 4 0 1 0 4 0 4 0 11 0 11 0 8 0 26 0 24 0 6 0 14 0 1 0 17 0 1 0 8 0 2 0 14 0 7 0 4 0 5 0 7 0 6 0 11 0 3 0 4 0 6 0 28 0 8 0 18 0 8 0 8 0 21 0 1 0 26 0 11 0 4 0 6 0 9 0 9 0 16 0 3 0 2 0 14 0 5 0 3 0 2 0 10 0 3 0 4 0 5 0 12 0 9 0 7 0 9 0 7 0 6 0 8 0 4 0 17 0 26 0 6 0 15 0 5 0 6 0 7 0 10 0 14 0 2 0 21 0 31 0 6 0 14 0 4 0 2 0 14 0 47 0 4 0 4 0 16 0 1 0 7 0 17 0 6 0 1 0 5 0 5 0 15 0 1 0 10 0 7 0 4 0 15 0 20 0 15 0 8 0 2 0 1 0 10 0 1 0 2 0 3 0 6 0 15 0 15 0 6 0 7 0 4 0 2 0 41 0 15 0 16 0 8 0 5 0 7 0 1 0 1 0 11 0 21 0 3 0 5 0 1 0 17 0 17 0 14 0 9 0 19 0 5 0 10 0 4 0 2 0 4 0 3 0 2 0 3 0 19 0 1 0 1 0 6 0 4 0 6 0 18 0 5 0 1 0 5 0 5 0 1 0 1 0 25 0 7 0 16 0 4 0 1 0 14 0 11 0 2 0 4 0 7 0 14 0 10 0 1 0 1 0 4 0 5 0 6 0 12 0 12 0 2 0 1 0 4 0 14 0 18 0 1 0 53 0 13 0 5 0 1 0 4 0 5 0 4 0 5 0 3 0 5 0 20 0 32 0 6 0 2 0 6 0 10 0 9 0 1 0 6 0 14 0 16 0 5 0 10 0 23 0 1 0 40 0 18 0 37 0 3 0 11 0 5 0 6 0 6 0 2 0 13 0 2 0 14 0 4 0 9 0 7 0 1 0 17 0 8 0 12 0 12 0 8 0 13 0 6 0 16 0 8 0 10 0 16 0 2 0 12 0 2 0 5 0 11 0 17 0 9 0 7 0 5 0 14 0 9 0 3 0 37 0 7 0 12 0 7 0 20 0 11 0 3 0 7 0 5 0 2 0 3 0 4 0 14 0 4 0 2 0 3 0 5 0 2 0 14 0 2 0 7 0 26 0 20 0 21 0 30 0 2 0 16 0 1 0 16 0 3 0 15 0 1 0 22 0 2 0 4 0 1 0 2 0 3 0 9 0 20 0 12 0 5 0 6 0 4 0 2 0 5 0 5 0 5 0 4 0 1 0 14 0 1 0 12 0 1 0 4 0 3 0 4 0 2 0 1 0 4 0 3 0 2 0 9 0 2 0 6 0 2 0 2 0 4 0 2 0 1 0 1 0 3 0 2 0 1 0 3 0 1 0 9 0 14 0 3 0 2 0 2 0 13 0 5 0 1 0 10 0 4 0 5 0 1 0 9 0 6 0 5 0 7 0 9 0 4 0 3 0 9 0 9 0 16 0 2 0 6 0 10 0 3 0 11 0 10 0 2 0 1 0 2 0 13 0 4 0 15 0 2 0 1 0 2 0 6 0 5 0 1 0 12 0 9 0 10 0 10 0 13 0 32 0 2 0 17 0 5 0 7 0 8 0 53 0 22 0 1 0 3 0 1 0 1 0 58 0 8 0 2 0 3 0 2 0 8 0 1 0 31 0 11 0 4 0 10 0 6 0 11 0 11 0 3 0 7 0 5 0 3 0 11 0 6 0 2 0 14 0 1 0 27 0 20 0 10 0 7 0 1 0 15 0 13 0 16 0 3 0 8 0 2 0 18 0 5 0 3 0 18 0 11 0 1 0 6 0 10 0 20 0 7 0 35 0 16 0 3 0 3 0 1 0 4 0 2 0 11 0 2 0 7 0 15 0 3 0 3 0 5 0 7 0 10 0 4 0 4 0 2 0 4 0 51 0 5 0 4 0 1 0 52 0 10 0 1 0 7 0 2 0 14 0 9 0 4 0 3 0 10 0 4 0 9 0 56 0 4 0 4 0 18 0 8 0 7 0 5 0 7 0 3 0 1 0 15 0 7 0 3 0 1 0 14 0 23 0 30 0 1 0 5 0 7 0 5 0 10 0 6 0 5 0 3 0 8 0 26 0 2 0 1 0 1 0 2 0 14 0 6 0 8 0 10 0 6 0 8 0 15 0 10 0 6 0 5 0 1 0 2 0 9 0 20 0 6 0 20 0 5 0 12 0 15 0 9 0 5 0 1 0 12 0 3 0 22 0 42 0 27 0 10 0 3 0 2 0 19 0 4 0 20 0 18 0 26 0 14 0 1 0 2 0 2 0 11 0 6 0 4 0 1 0 4 0 13 0 9 0 5 0 5 0 17 0 4 0 8 0 27 0 3 0 6 0 1 0 9 0 5 0 2 0 46 0 3 0 18 0 9 0 8 0 9 0 6 0 6 0 18 0 7 0 2 0 13 0 6 0 1 0 4 0 7 0 4 0 2 0 14 0 5 0 4 0 21 0 2 0 6 0 6 0 4 0 33 0 4 0 1 0 10 0 1 0 4 0 11 0 3 0 3 0 14 0 11 0 39 0 15 0 4 0 22 0 4 0 1 0 10 0 17 0 10 0 2 0 4 0 1 0 7 0 6 0 5 0 7 0 9 0 3 0 23 0 1 0 5 0 11 0 2 0 5 0 3 0 6 0 13 0 4 0 8 0 17 0 16 0 5 0 17 0 20 0 6 0 6 0 8 0 10 0 3 0 3 0 1 0 5 0 1 0 1 0 4 0 6 0 4 0 9 0 11 0 8 0 5 0 4 0 5 0 1 0 1 0 2 0 2 0 1 0 2 0 4 0 5 0 2 0 3 0 2 0 3 0 10 0 3 0 7 0 2 0 23 0 2 0 3 0 3 0 2 0 4 0 3 0 2 0 10 0 5 0 1 0 3 0 11 0 1 0 6 0 15 0 4 0 4 0 1 0 10 0 2 0 10 0 7 0 7 0 6 0 4 0 1 0 2 0 1 0 3 0 4 0 1 0 6 0 2 0 3 0 2 0 8 0 2 0 2 0 2 0 54 0 14 0 5 0 1 0 12 0 16 0 6 0 5 0 1 0 3 0 17 0 14 0 7 0 8 0 6 0 3 0 2 0 44 0 19 0 5 0 3 0 5 0 5 0 9 0 7 0 9 0 8 0 8 0 4 0 1 0 31 0 10 0 3 0 14 0 4 0 7 0 11 0 3 0 3 0 3 0 5 0 11 0 1 0 9 0 3 0 19 0 1 0 11 0 10 0 5 0 18 0 2 0 3 0 8 0 24 0 8 0 20 0 2 0 12 0 5 0 10 0 30 0 12 0 1 0 8 0 1 0 2 0 4 0 5 0 1 0 53 0 1 0 7 0 8 0 25 0 8 0 3 0 2 0 7 0 1 0 29 0 9 0 10 0 2 0 5 0 11 0 7 0 1 0 1 0 1 0 2 0 2 0 22 0 5 0 9 0 10 0 5 0 3 0 6 0 3 0 10 0 13 0 3 0 5 0 15 0 13 0 31 0 5 0 6 0 11 0 3 0 3 0 3 0 12 0 13 0 14 0 8 0 1 0 12 0 16 0 2 0 2 0 10 0 7 0 7 0 14 0 13 0 11 0 1 0 1 0 2 0 16 0 3 0 10 0 1 0 11 0 5 0 16 0 10 0 4 0 4 0 2 0 11 0 3 0 7 0 4 0 6 0 1 0 4 0 11 0 28 0 25 0 11 0 33 0 4 0 5 0 2 0 2 0 16 0 5 0 18 0 22 0 9 0 12 0 13 0 12 0 5 0 5 0 6 0 1 0 4 0 5 0 4 0 13 0 1 0 15 0 3 0 8 0 1 0 20 0 4 0 4 0 1 0 7 0 10 0 11 0 7 0 2 0 6 0 4 0 1 0 1 0 19 0 11 0 5 0 6 0 1 0 3 0 2 0 4 0 1 0 8 0 30 0 7 0 6 0 7 0 12 0 2 0 23 0 5 0 14 0 17 0 7 0 6 0 7 0 5 0 2 0 4 0 6 0 11 0 6 0 4 0 1 0 5 0 1 0 4 0 5 0 4 0 7 0 4 0 3 0 12 0 33 0 1 0 4 0 17 0 2 0 6 0 5 0 14 0 26 0 11 0 2 0 9 0 6 0 15 0 6 0 19 0 5 0 5 0 2 0 4 0 27 0 2 0 25 0 6 0 1 0 14 0 7 0 7 0 40 0 1 0 4 0 13 0 1 0 7 0 2 0 6 0 1 0 9 0 12 0 13 0 23 0 2 0 4 0 7 0 3 0 21 0 2 0 3 0 3 0 26 0 16 0 15 0 19 0 2 0 6 0 3 0 12 0 5 0 1 0 3 0 5 0 16 0 17 0 13 0 8 0 1 0 1 0 6 0 5 0 2 0 35 0 6 0 15 0 1 0 2 0 7 0 1 0 5 0 4 0 1 0 1 0 2 0 1 0 5 0 1 0 4 0 1 0 2 0 2 0 1 0 2 0 3 0 1 0 4 0 8 0 4 0 4 0 5 0 2 0 1 0 3 0 1 0 3 0 6 0 3 0 2 0 5 0 3 0 3 0 3 0 8 0 4 0 7 0 7 0 7 0 2 0 5 0 1 0 9 0 7 0 4 0 4 0 2 0 1 0 6 0 2 0 2 0 3 0 8 0 2 0 2 0 7 0 2 0 1 0 4 0 3 0 2 0 4 0 5 0 2 0 3 0 2 0 1 0 2 0 11 0 7 0 11 0 8 0 1 0 2 0 8 0 10 0 10 0 1 0 30 0 3 0 12 0 2 0 14 0 1 0 1 0 4 0 11 0 17 0 10 0 4 0 5 0 2 0 16 0 8 0 8 0 2 0 15 0 12 0 11 0 1 0 4 0 9 0 12 0 11 0 1 0 5 0 10 0 7 0 3 0 13 0 9 0 1 0 8 0 3 0 7 0 2 0 4 0 23 0 2 0 10 0 5 0 3 0 7 0 3 0 1 0 1 0 4 0 1 0 4 0 6 0 11 0 15 0 15 0 3 0 3 0 3 0 23 0 30 0 26 0 15 0 1 0 3 0 11 0 21 0 5 0 21 0 6 0 22 0 16 0 10 0 10 0 11 0 8 0 1 0 1 0 4 0 22 0 11 0 15 0 5 0 1 0 4 0 8 0 13 0 1 0 2 0 2 0 16 0 12 0 4 0 12 0 6 0 1 0 8 0 11 0 6 0 1 0 11 0 13 0 6 0 4 0 26 0 30 0 7 0 3 0 3 0 5 0 2 0 13 0 2 0 22 0 11 0 9 0 2 0 3 0 3 0 8 0 16 0 28 0 12 0 2 0 2 0 4 0 2 0 3 0 2 0 6 0 5 0 55 0 10 0 3 0 1 0 4 0 20 0 10 0 3 0 18 0 1 0 6 0 14 0 6 0 1 0 5 0 14 0 9 0 8 0 9 0 2 0 4 0 11 0 1 0 6 0 6 0 3 0 2 0 4 0 28 0 3 0 1 0 16 0 13 0 1 0 24 0 3 0 12 0 4 0 11 0 5 0 6 0 6 0 8 0 7 0 10 0 4 0 1 0 1 0 15 0 11 0 12 0 9 0 10 0 14 0 4 0 3 0 9 0 1 0 45 0 16 0 4 0 10 0 16 0 5 0 2 0 8 0 1 0 13 0 3 0 1 0 1 0 9 0 4 0 6 0 2 0 18 0 1 0 44 0 8 0 6 0 10 0 18 0 3 0 7 0 9 0 13 0 3 0 6 0 7 0 9 0 33 0 20 0 12 0 18 0 3 0 9 0 9 0 2 0 3 0 3 0 37 0 2 0 5 0 3 0 21 0 1 0 10 0 3 0 10 0 1 0 1 0 15 0 12 0 3 0 13 0 4 0 9 0 8 0 13 0 6 0 10 0 7 0 15 0 16 0 2 0 10 0 33 0 9 0 4 0 3 0 6 0 4 0 10 0 5 0 6 0 5 0 6 0 6 0 16 0 5 0 18 0 7 0 9 0 23 0 12 0 9 0 5 0 9 0 1 0 13 0 2 0 1 0 6 0 16 0 3 0 3 0 8 0 17 0 7 0 2 0 8 0 11 0 2 0 9 0 2 0 8 0 6 0 8 0 7 0 10 0 3 0 2 0 8 0 11 0 6 0 2 0 3 0 4 0 11 0 2 0 4 0 7 0 4 0 1 0 1 0 2 0 1 0 5 0 10 0 6 0 1 0 1 0 2 0 1 0 1 0 4 0 14 0 3 0 5 0 1 0 4 0 1 0 15 0 2 0 2 0 1 0 1 0 5 0 10 0 5 0 1 0 9 0 1 0 1 0 1 0 5 0 1 0 4 0 10 0 1 0 3 0 5 0 1 0 1 0 16 0 1 0 7 0 9 0 5 0 3 0 6 0 1 0 3 0 7 0 4 0 1 0 17 0 3 0 6 0 18 0 9 0 1 0 1 0 29 0 7 0 4 0 7 0 6 0 2 0 14 0 14 0 11 0 8 0 3 0 5 0 17 0 3 0 29 0 7 0 12 0 1 0 21 0 17 0 3 0 9 0 7 0 5 0 6 0 22 0 6 0 5 0 5 0 8 0 8 0 12 0 13 0 16 0 10 0 6 0 4 0 1 0 1 0 25 0 12 0 10 0 24 0 2 0 9 0 10 0 7 0 6 0 13 0 16 0 1 0 5 0 3 0 5 0 20 0 6 0 3 0 2 0 8 0 1 0 11 0 9 0 8 0 15 0 6 0 9999999" stroke-dashoffset="-3262"/></g>
<g font-size="9.6" fill="#2b2b2b" transform="rotate(0.03 352.6 256.2)"><text x="274.00" y="325.90" text-anchor="middle">0</text><text x="271.50" y="317.47" text-anchor="end">0</text><text x="298.67" y="325.90" text-anchor="middle">40</text><text x="271.50" y="299.48" text-anchor="end">40</text><text x="323.35" y="325.90" text-anchor="middle">80</text><text x="271.50" y="281.48" text-anchor="end">80</text><text x="348.02" y="325.90" text-anchor="middle">120</text><text x="271.50" y="263.49" text-anchor="end">120</text><text x="372.70" y="325.90" text-anchor="middle">160</text><text x="271.50" y="245.50" text-anchor="end">160</text><text x="397.37" y="325.90" text-anchor="middle">200</text><text x="271.50" y="227.51" text-anchor="end">200</text><text x="422.05" y="325.90" text-anchor="middle">240</text><text x="271.50" y="209.52" text-anchor="end">240</text></g>
<text x="352.65" y="337.20" font-size="9.3" fill="#2b2b2b" text-anchor="middle" transform="rotate(0.03 352.6 337.2)" textLength="126.1" lengthAdjust="spacingAndGlyphs">Pixel gray value on location(x,y)</text>
<text transform="translate(254.80,331.50) rotate(-90)" font-size="9.22" fill="#2b2b2b" textLength="137.50" lengthAdjust="spacingAndGlyphs">Pixel gray value on location(x,y+1)</text>
<!-- plot f -->
<path d="M521.20 198.90V313.30H678.00M521.20 313.30v-1.6M521.20 313.30h1.6M545.80 313.30v-1.6M521.20 295.35h1.6M570.39 313.30v-1.6M521.20 277.41h1.6M594.99 313.30v-1.6M521.20 259.46h1.6M619.58 313.30v-1.6M521.20 241.52h1.6M644.18 313.30v-1.6M521.20 223.57h1.6M668.78 313.30v-1.6M521.20 205.63h1.6" fill="none" stroke="#6e6e6e" stroke-width="0.8"/>
<g transform="translate(517,194) scale(0.5)"><path d="M0 0H323V1H0V2H323V3H0V4H323V5H0V6H323V7H0V8H323V9H0V10H323V11H0V12H323V13H0V14H323V15H0V16H323V17H0V18H323V19H0V20H323V21H0V22H323V23H0V24H323V25H0V26H323V27H0V28H323V29H0V30H323V31H0V32H323V33H0V34H323V35H0V36H323V37H0V38H323V39H0V40H323V41H0V42H323V43H0V44H323V45H0V46H323V47H0V48H323V49H0V50H323V51H0V52H323V53H0V54H323V55H0V56H323V57H0V58H323V59H0V60H323V61H0V62H323V63H0V64H323V65H0V66H323V67H0V68H323V69H0V70H323V71H0V72H323V73H0V74H323V75H0V76H323V77H0V78H323V79H0V80H323V81H0V82H323V83H0V84H323V85H0V86H323V87H0V88H323V89H0V90H323V91H0V92H323V93H0V94H323V95H0V96H323V97H0V98H323V99H0V100H323V101H0V102H323V103H0V104H323V105H0V106H323V107H0V108H323V109H0V110H323V111H0V112H323V113H0V114H323V115H0V116H323V117H0V118H323V119H0V120H323V121H0V122H323V123H0V124H323V125H0V126H323V127H0V128H323V129H0V130H323V131H0V132H323V133H0V134H323V135H0V136H323V137H0V138H323V139H0V140H323V141H0V142H323V143H0V144H323V145H0V146H323V147H0V148H323V149H0V150H323V151H0V152H323V153H0V154H323V155H0V156H323V157H0V158H323V159H0V160H323V161H0V162H323V163H0V164H323V165H0V166H323V167H0V168H323V169H0V170H323V171H0V172H323V173H0V174H323V175H0V176H323V177H0V178H323V179H0V180H323V181H0V182H323V183H0V184H323V185H0V186H323V187H0V188H323V189H0V190H323V191H0V192H323V193H0V194H323V195H0V196H323V197H0V198H323V199H0V200H323V201H0V202H323V203H0V204H323V205H0V206H323V207H0V208H323V209H0V210H323V211H0V212H323V213H0V214H323V215H0V216H323V217H0V218H323V219H0V220H323V221H0V222H323V223H0V224H323V225H0V226H323V227H0V228H323V229H0V230H323V231H0V232H323V233H0V234H323V235H0V236H323V237H0V238H323V239H0V240H323" fill="none" stroke="#0072BD" stroke-width="4.20" stroke-linecap="round" stroke-dasharray="0 2 0 9 0 5 0 9 0 43 0 4 0 5 0 7 0 31 0 4 0 2 0 2 0 1 0 3 0 9 0 34 0 9 0 12 0 14 0 5 0 1 0 7 0 10 0 3 0 10 0 16 0 6 0 10 0 9 0 2 0 3 0 3 0 27 0 11 0 7 0 18 0 14 0 6 0 18 0 1 0 4 0 3 0 8 0 10 0 2 0 10 0 14 0 1 0 21 0 2 0 5 0 14 0 12 0 19 0 11 0 2 0 6 0 2 0 8 0 9 0 2 0 4 0 2 0 2 0 25 0 9 0 5 0 2 0 2 0 3 0 34 0 3 0 3 0 10 0 20 0 3 0 4 0 12 0 2 0 5 0 2 0 4 0 1 0 1 0 15 0 2 0 2 0 11 0 1 0 20 0 19 0 4 0 9 0 1 0 8 0 2 0 7 0 6 0 11 0 1 0 2 0 2 0 8 0 2 0 1 0 1 0 3 0 2 0 5 0 2 0 1 0 1 0 6 0 8 0 2 0 15 0 3 0 2 0 1 0 2 0 4 0 5 0 1 0 1 0 2 0 5 0 1 0 1 0 1 0 1 0 5 0 7 0 3 0 3 0 1 0 2 0 13 0 4 0 17 0 16 0 4 0 4 0 2 0 6 0 10 0 16 0 12 0 4 0 2 0 8 0 3 0 12 0 1 0 7 0 4 0 4 0 2 0 5 0 2 0 8 0 6 0 11 0 5 0 6 0 5 0 10 0 22 0 9 0 35 0 1 0 5 0 3 0 1 0 2 0 4 0 14 0 2 0 4 0 5 0 2 0 35 0 6 0 3 0 4 0 7 0 11 0 25 0 18 0 5 0 2 0 14 0 7 0 10 0 3 0 2 0 1 0 2 0 19 0 16 0 3 0 2 0 6 0 1 0 34 0 16 0 10 0 3 0 5 0 4 0 7 0 9 0 1 0 16 0 11 0 3 0 12 0 31 0 14 0 1 0 5 0 5 0 24 0 8 0 19 0 4 0 25 0 6 0 1 0 15 0 1 0 11 0 7 0 10 0 6 0 3 0 31 0 6 0 4 0 1 0 21 0 17 0 4 0 8 0 8 0 1 0 12 0 5 0 1 0 4 0 21 0 5 0 6 0 3 0 29 0 4 0 32 0 6 0 13 0 8 0 4 0 6 0 6 0 8 0 19 0 3 0 11 0 5 0 5 0 3 0 4 0 2 0 16 0 32 0 59 0 4 0 1 0 5 0 19 0 4 0 6 0 12 0 20 0 4 0 3 0 5 0 10 0 11 0 6 0 3 0 1 0 5 0 12 0 3 0 5 0 23 0 15 0 1 0 1 0 11 0 10 0 20 0 12 0 25 0 3 0 4 0 1 0 2 0 6 0 28 0 10 0 11 0 53 0 3 0 7 0 8 0 8 0 9 0 8 0 3 0 2 0 8 0 2 0 9 0 1 0 2 0 48 0 2 0 8 0 2 0 1 0 1 0 20 0 14 0 11 0 15 0 10 0 6 0 41 0 5 0 5 0 12 0 6 0 1 0 4 0 6 0 8 0 11 0 11 0 4 0 2 0 15 0 20 0 1 0 4 0 3 0 4 0 27 0 1 0 13 0 3 0 4 0 6 0 3 0 1 0 15 0 2 0 23 0 15 0 8 0 2 0 6 0 16 0 6 0 4 0 5 0 1 0 46 0 7 0 6 0 6 0 3 0 8 0 31 0 7 0 4 0 1 0 29 0 32 0 2 0 2 0 2 0 2 0 5 0 1 0 2 0 5 0 4 0 6 0 9 0 5 0 18 0 14 0 3 0 2 0 29 0 2 0 5 0 3 0 6 0 10 0 2 0 3 0 2 0 8 0 34 0 6 0 4 0 7 0 3 0 48 0 10 0 7 0 7 0 1 0 1 0 3 0 3 0 4 0 1 0 32 0 7 0 5 0 7 0 11 0 3 0 4 0 18 0 5 0 2 0 4 0 8 0 1 0 1 0 10 0 4 0 2 0 2 0 7 0 20 0 1 0 4 0 2 0 12 0 3 0 26 0 11 0 3 0 4 0 1 0 5 0 1 0 5 0 4 0 4 0 12 0 7 0 2 0 32 0 1 0 21 0 15 0 15 0 3 0 8 0 17 0 11 0 4 0 10 0 7 0 10 0 2 0 11 0 4 0 20 0 3 0 5 0 2 0 8 0 6 0 23 0 16 0 3 0 11 0 4 0 18 0 21 0 5 0 1 0 8 0 19 0 10 0 5 0 5 0 14 0 4 0 7 0 3 0 3 0 10 0 6 0 2 0 1 0 6 0 4 0 7 0 9 0 7 0 9 0 1 0 14 0 6 0 1 0 4 0 6 0 8 0 9 0 2 0 13 0 13 0 1 0 2 0 1 0 7 0 15 0 1 0 2 0 3 0 11 0 11 0 24 0 5 0 2 0 10 0 5 0 40 0 12 0 23 0 5 0 48 0 8 0 7 0 7 0 5 0 7 0 2 0 21 0 7 0 2 0 39 0 16 0 12 0 11 0 3 0 34 0 10 0 5 0 1 0 33 0 16 0 5 0 3 0 25 0 3 0 5 0 15 0 6 0 24 0 1 0 9 0 19 0 1 0 9 0 5 0 2 0 3 0 2 0 18 0 2 0 12 0 3 0 13 0 26 0 6 0 2 0 2 0 2 0 9 0 6 0 15 0 4 0 3 0 16 0 8 0 24 0 5 0 4 0 5 0 18 0 24 0 5 0 1 0 3 0 7 0 21 0 17 0 11 0 23 0 3 0 8 0 1 0 7 0 9 0 11 0 5 0 10 0 5 0 20 0 18 0 2 0 9 0 2 0 3 0 3 0 4 0 2 0 9 0 15 0 4 0 1 0 2 0 3 0 6 0 1 0 8 0 17 0 8 0 25 0 2 0 1 0 5 0 2 0 15 0 4 0 2 0 9 0 10 0 11 0 1 0 17 0 11 0 5 0 16 0 1 0 5 0 14 0 2 0 1 0 2 0 19 0 8 0 19 0 3 0 1 0 1 0 7 0 2 0 1 0 12 0 12 0 1 0 3 0 13 0 10 0 8 0 34 0 4 0 3 0 27 0 5 0 8 0 5 0 13 0 5 0 15 0 1 0 7 0 13 0 5 0 2 0 22 0 9 0 13 0 18 0 2 0 5 0 7 0 4 0 52 0 1 0 10 0 1 0 5 0 10 0 8 0 14 0 35 0 7 0 2 0 3 0 4 0 1 0 8 0 8 0 10 0 16 0 15 0 5 0 11 0 6 0 2 0 16 0 10 0 3 0 8 0 25 0 1 0 23 0 7 0 25 0 10 0 6 0 8 0 8 0 5 0 64 0 1 0 5 0 5 0 2 0 3 0 6 0 2 0 11 0 4 0 7 0 3 0 3 0 7 0 4 0 18 0 8 0 2 0 2 0 7 0 7 0 4 0 3 0 4 0 1 0 1 0 3 0 1 0 10 0 17 0 8 0 2 0 5 0 4 0 2 0 1 0 7 0 13 0 7 0 2 0 8 0 5 0 2 0 1 0 4 0 1 0 3 0 6 0 5 0 1 0 1 0 2 0 2 0 1 0 5 0 4 0 1 0 3 0 2 0 6 0 1 0 2 0 3 0 3 0 10 0 1 0 1 0 1 0 3 0 2 0 15 0 21 0 3 0 4 0 24 0 17 0 5 0 3 0 5 0 1 0 2 0 3 0 12 0 8 0 6 0 3 0 3 0 29 0 2 0 13 0 1 0 2 0 28 0 4 0 9 0 18 0 13 0 4 0 8 0 4 0 4 0 15 0 34 0 2 0 26 0 8 0 5 0 3 0 6 0 1 0 22 0 4 0 10 0 2 0 6 0 19 0 10 0 6 0 5 0 21 0 1 0 8 0 3 0 18 0 14 0 13 0 3 0 2 0 16 0 4 0 1 0 5 0 30 0 3 0 11 0 4 0 7 0 20 0 1 0 5 0 18 0 4 0 2 0 1 0 8 0 11 0 6 0 16 0 4 0 1 0 1 0 12 0 10 0 29 0 8 0 16 0 9 0 8 0 25 0 7 0 5 0 4 0 18 0 11 0 13 0 17 0 2 0 9 0 1 0 37 0 3 0 35 0 43 0 5 0 13 0 4 0 16 0 16 0 6 0 4 0 6 0 6 0 6 0 10 0 5 0 2 0 2 0 7 0 17 0 1 0 25 0 4 0 2 0 22 0 4 0 1 0 6 0 2 0 29 0 5 0 20 0 1 0 10 0 10 0 20 0 1 0 20 0 24 0 3 0 13 0 3 0 3 0 7 0 3 0 19 0 8 0 20 0 11 0 25 0 3 0 3 0 10 0 8 0 4 0 16 0 4 0 6 0 1 0 7 0 3 0 16 0 15 0 6 0 2 0 10 0 1 0 11 0 10 0 28 0 7 0 10 0 11 0 12 0 16 0 4 0 4 0 3 0 2 0 3 0 3 0 31 0 11 0 18 0 17 0 3 0 1 0 5 0 1 0 16 0 9 0 1 0 4 0 16 0 7 0 2 0 13 0 1 0 29 0 4 0 1 0 2 0 3 0 2 0 1 0 37 0 10 0 1 0 26 0 1 0 5 0 9 0 5 0 2 0 13 0 1 0 1 0 5 0 4 0 2 0 6 0 14 0 10 0 2 0 23 0 13 0 22 0 5 0 1 0 1 0 1 0 5 0 5 0 2 0 1 0 8 0 9 0 18 0 10 0 3 0 6 0 26 0 5 0 1 0 5 0 19 0 32 0 1 0 16 0 11 0 26 0 5 0 2 0 3 0 2 0 1 0 2 0 17 0 2 0 13 0 1 0 7 0 9 0 16 0 5 0 8 0 2 0 2 0 10 0 7 0 11 0 16 0 3 0 7 0 8 0 9 0 4 0 10 0 2 0 9 0 15 0 7 0 1 0 6 0 2 0 2 0 6 0 14 0 1 0 12 0 3 0 5 0 4 0 1 0 3 0 2 0 4 0 1 0 1 0 2 0 14 0 3 0 13 0 1 0 4 0 3 0 2 0 1 0 5 0 1 0 3 0 21 0 6 0 9 0 2 0 3 0 1 0 3 0 2 0 1 0 1 0 4 0 6 0 5 0 2 0 5 0 5 0 6 0 9 0 6 0 10 0 2 0 2 0 3 0 3 0 1 0 5 0 1 0 1 0 5 0 4 0 9 0 8 0 4 0 2 0 4 0 4 0 16 0 2 0 3 0 9 0 8 0 1 0 1 0 4 0 5 0 2 0 2 0 1 0 8 0 3 0 4 0 19 0 3 0 5 0 8 0 8 0 11 0 15 0 9 0 12 0 4 0 5 0 4 0 16 0 10 0 10 0 8 0 2 0 18 0 19 0 7 0 16 0 4 0 1 0 1 0 2 0 3 0 2 0 2 0 12 0 18 0 17 0 1 0 1 0 5 0 7 0 7 0 5 0 8 0 22 0 2 0 17 0 18 0 4 0 16 0 2 0 2 0 7 0 12 0 2 0 9 0 6 0 2 0 3 0 1 0 7 0 3 0 8 0 9 0 12 0 4 0 11 0 26 0 23 0 21 0 1 0 3 0 23 0 6 0 6 0 3 0 2 0 2 0 7 0 21 0 7 0 5 0 1 0 27 0 26 0 6 0 1 0 10 0 7 0 5 0 1 0 14 0 20 0 5 0 14 0 2 0 2 0 17 0 8 0 9 0 15 0 1 0 5 0 18 0 17 0 2 0 10 0 4 0 1 0 5 0 2 0 3 0 2 0 4 0 2 0 5 0 5 0 8 0 11 0 5 0 3 0 16 0 5 0 25 0 9 0 5 0 9 0 18 0 1 0 11 0 4 0 4 0 7 0 1 0 20 0 1 0 1 0 15 0 14 0 8 0 8 0 7 0 7 0 9 0 2 0 4 0 1 0 7 0 3 0 8 0 6 0 13 0 5 0 29 0 9 0 3 0 1 0 9 0 1 0 4 0 1 0 3 0 5 0 5 0 11 0 13 0 38 0 10 0 6 0 10 0 47 0 10 0 13 0 9 0 1 0 9 0 3 0 24 0 1 0 1 0 3 0 5 0 8 0 1 0 2 0 3 0 11 0 10 0 9 0 2 0 4 0 3 0 1 0 5 0 5 0 14 0 32 0 26 0 3 0 5 0 10 0 7 0 18 0 2 0 7 0 27 0 20 0 20 0 23 0 17 0 31 0 1 0 11 0 3 0 23 0 16 0 6 0 2 0 11 0 3 0 11 0 3 0 11 0 10 0 1 0 6 0 15 0 24 0 4 0 4 0 3 0 11 0 2 0 2 0 22 0 7 0 3 0 21 0 6 0 8 0 3 0 3 0 9 0 12 0 10 0 3 0 8 0 2 0 38 0 19 0 6 0 2 0 1 0 12 0 14 0 2 0 5 0 3 0 5 0 2 0 12 0 11 0 25 0 14 0 6 0 4 0 5 0 1 0 1 0 10 0 4 0 5 0 7 0 3 0 1 0 1 0 4 0 5 0 6 0 1 0 2 0 2 0 3 0 2 0 2 0 1 0 1 0 7 0 1 0 2 0 6 0 5 0 4 0 15 0 11 0 1 0 1 0 5 0 5 0 5 0 4 0 5 0 2 0 6 0 2 0 2 0 12 0 5 0 5 0 4 0 2 0 4 0 4 0 6 0 4 0 3 0 1 0 10 0 2 0 6 0 17 0 1 0 9 0 2 0 3 0 1 0 6 0 9 0 1 0 1 0 3 0 8 0 10 0 5 0 29 0 12 0 3 0 11 0 9 0 5 0 5 0 2 0 3 0 21 0 25 0 1 0 1 0 9 0 6 0 26 0 5 0 1 0 4 0 8 0 17 0 23 0 6 0 26 0 29 0 11 0 6 0 10 0 11 0 5 0 12 0 12 0 15 0 1 0 6 0 8 0 2 0 1 0 6 0 5 0 11 0 3 0 7 0 8 0 9 0 3 0 4 0 1 0 7 0 5 0 7 0 24 0 2 0 6 0 4 0 1 0 13 0 2 0 7 0 7 0 2 0 10 0 7 0 22 0 7 0 3 0 5 0 8 0 3 0 6 0 15 0 6 0 5 0 3 0 8 0 2 0 33 0 21 0 9 0 1 0 6 0 3 0 14 0 7 0 12 0 4 0 8 0 6 0 3 0 5 0 8 0 9 0 7 0 5 0 1 0 5 0 4 0 12 0 5 0 13 0 8 0 1 0 23 0 2 0 2 0 2 0 34 0 1 0 3 0 5 0 8 0 9 0 9 0 1 0 40 0 11 0 3 0 8 0 8 0 12 0 2 0 4 0 5 0 2 0 4 0 3 0 2 0 16 0 23 0 6 0 15 0 1 0 5 0 9 0 3 0 10 0 15 0 11 0 20 0 14 0 8 0 6 0 36 0 3 0 5 0 4 0 21 0 2 0 6 0 7 0 22 0 14 0 16 0 4 0 11 0 12 0 12 0 5 0 14 0 8 0 1 0 5 0 5 0 14 0 7 0 5 0 26 0 6 0 17 0 13 0 1 0 1 0 7 0 5 0 8 0 5 0 8 0 6 0 3 0 15 0 6 0 3 0 14 0 1 0 9 0 2 0 43 0 1 0 2 0 2 0 7 0 7 0 7 0 14 0 6 0 7 0 1 0 11 0 10 0 3 0 15 0 6 0 14 0 7 0 4 0 5 0 28 0 10 0 6 0 5 0 25 0 3 0 2 0 8 0 8 0 1 0 1 0 4 0 6 0 8 0 10 0 3 0 1 0 1 0 4 0 1 0 1 0 4 0 1 0 6 0 14 0 4 0 21 0 10 0 20 0 9 0 13 0 1 0 1 0 3 0 3 0 13 0 1 0 16 0 11 0 9 0 7 0 1 0 4 0 15 0 8 0 4 0 2 0 3 0 2 0 3 0 3 0 30 0 13 0 13 0 5 0 2 0 1 0 3 0 8 0 26 0 6 0 14 0 13 0 22 0 13 0 4 0 4 0 2 0 10 0 4 0 1 0 17 0 3 0 2 0 12 0 9 0 9 0 26 0 3 0 9 0 8 0 29 0 5 0 3 0 2 0 2 0 4 0 1 0 4 0 1 0 16 0 1 0 9 0 2 0 9 0 7 0 1 0 8 0 8 0 21 0 5 0 14 0 42 0 3 0 8 0 4 0 7 0 4 0 1 0 1 0 3 0 4 0 3 0 8 0 3 0 3 0 3 0 13 0 2 0 6 0 6 0 3 0 6 0 10 0 1 0 3 0 5 0 3 0 5 0 5 0 3 0 14 0 16 0 3 0 2 0 1 0 7 0 4 0 4 0 4 0 1 0 1 0 4 0 1 0 3 0 1 0 2 0 9 0 2 0 15 0 1 0 3 0 2 0 2 0 19 0 13 0 3 0 22 0 5 0 6 0 2 0 7 0 1 0 2 0 5 0 6 0 3 0 6 0 2 0 6 0 10 0 32 0 9 0 1 0 4 0 10 0 3 0 4 0 9 0 16 0 6 0 14 0 30 0 2 0 7 0 11 0 11 0 3 0 4 0 4 0 10 0 5 0 3 0 8 0 2 0 1 0 2 0 6 0 13 0 11 0 1 0 15 0 3 0 12 0 29 0 7 0 5 0 8 0 2 0 2 0 7 0 2 0 1 0 6 0 13 0 22 0 2 0 3 0 12 0 3 0 13 0 6 0 6 0 4 0 9 0 6 0 10 0 8 0 3 0 22 0 1 0 4 0 13 0 4 0 2 0 2 0 2 0 1 0 7 0 3 0 13 0 11 0 5 0 7 0 1 0 7 0 2 0 16 0 7 0 20 0 20 0 12 0 9 0 28 0 3 0 1 0 4 0 2 0 23 0 14 0 16 0 11 0 7 0 2 0 6 0 1 0 7 0 16 0 3 0 10 0 7 0 1 0 1 0 9 0 1 0 8 0 5 0 1 0 1 0 10 0 21 0 5 0 24 0 8 0 6 0 2 0 43 0 3 0 21 0 13 0 3 0 42 0 1 0 3 0 1 0 4 0 5 0 2 0 10 0 4 0 9 0 2 0 10 0 18 0 5 0 11 0 2 0 9 0 15 0 15 0 12 0 28 0 9 0 6 0 2 0 15 0 16 0 1 0 27 0 6 0 6 0 5 0 2 0 4 0 11 0 14 0 2 0 14 0 1 0 4 0 13 0 27 0 25 0 3 0 9 0 5 0 5 0 1 0 17 0 20 0 2 0 4 0 1 0 11 0 18 0 6 0 15 0 8 0 12 0 2 0 6 0 1 0 10 0 28 0 11 0 2 0 6 0 17 0 7 0 2 0 6 0 10 0 12 0 5 0 4 0 1 0 12 0 8 0 28 0 4 0 13 0 20 0 5 0 10 0 6 0 10 0 2 0 1 0 15 0 13 0 2 0 1 0 22 0 2 0 3 0 5 0 1 0 30 0 9 0 6 0 22 0 29 0 3 0 2 0 7 0 12 0 1 0 9 0 5 0 18 0 16 0 12 0 6 0 3 0 18 0 11 0 3 0 5 0 14 0 5 0 2 0 1 0 40 0 10 0 9 0 15 0 66 0 12 0 3 0 1 0 1 0 6 0 3 0 2 0 5 0 9 0 10 0 8 0 8 0 2 0 7 0 3 0 8 0 2 0 8 0 3 0 2 0 14 0 3 0 20 0 6 0 5 0 32 0 6 0 14 0 10 0 1 0 6 0 4 0 5 0 25 0 5 0 16 0 14 0 14 0 1 0 4 0 7 0 15 0 3 0 2 0 11 0 4 0 5 0 17 0 7 0 5 0 5 0 6 0 1 0 3 0 17 0 1 0 2 0 2 0 5 0 1 0 1 0 4 0 1 0 3 0 7 0 1 0 2 0 1 0 2 0 2 0 1 0 5 0 5 0 1 0 6 0 4 0 2 0 8 0 1 0 1 0 1 0 3 0 3 0 2 0 7 0 1 0 4 0 2 0 8 0 1 0 4 0 1 0 1 0 1 0 3 0 2 0 3 0 5 0 6 0 4 0 6 0 5 0 2 0 1 0 1 0 7 0 14 0 3 0 2 0 5 0 1 0 16 0 5 0 2 0 37 0 4 0 5 0 12 0 11 0 1 0 5 0 16 0 9 0 3 0 7 0 7 0 2 0 21 0 3 0 21 0 18 0 4 0 12 0 3 0 1 0 27 0 12 0 8 0 6 0 1 0 4 0 27 0 3 0 10 0 5 0 14 0 6 0 5 0 5 0 3 0 2 0 3 0 2 0 5 0 2 0 2 0 1 0 5 0 10 0 2 0 4 0 15 0 3 0 10 0 4 0 5 0 11 0 1 0 2 0 3 0 33 0 17 0 6 0 5 0 19 0 7 0 27 0 2 0 8 0 12 0 18 0 1 0 6 0 2 0 9 0 3 0 9 0 2 0 6 0 12 0 10 0 26 0 16 0 13 0 16 0 1 0 19 0 5 0 9 0 17 0 11 0 10 0 1 0 7 0 16 0 3 0 13 0 13 0 7 0 2 0 3 0 15 0 10 0 2 0 4 0 20 0 11 0 1 0 1 0 9 0 11 0 18 0 4 0 6 0 29 0 6 0 1 0 9 0 5 0 14 0 1 0 3 0 8 0 3 0 19 0 21 0 7 0 22 0 2 0 3 0 17 0 3 0 6 0 4 0 18 0 9 0 4 0 3 0 3 0 7 0 10 0 6 0 11 0 1 0 14 0 27 0 12 0 11 0 10 0 22 0 8 0 8 0 9 0 2 0 13 0 1 0 10 0 4 0 2 0 5 0 4 0 9 0 8 0 3 0 5 0 19 0 2 0 27 0 13 0 8 0 13 0 15 0 3 0 4 0 4 0 8 0 3 0 2 0 3 0 8 0 2 0 3 0 4 0 6 0 1 0 16 0 4 0 6 0 9 0 6 0 6 0 10 0 1 0 14 0 14 0 7 0 3 0 8 0 20 0 1 0 1 0 2 0 7 0 1 0 3 0 22 0 16 0 6 0 2 0 2 0 1 0 10 0 1 0 12 0 2 0 28 0 13 0 27 0 4 0 1 0 5 0 13 0 23 0 6 0 2 0 2 0 6 0 7 0 5 0 11 0 22 0 29 0 14 0 3 0 16 0 10 0 4 0 2 0 4 0 21 0 1 0 22 0 2 0 9 0 9 0 44 0 11 0 7 0 24 0 3 0 5 0 6 0 2 0 15 0 1 0 27 0 3 0 3 0 5 0 4 0 4 0 6 0 2 0 4 0 5 0 15 0 8 0 9 0 7 0 2 0 1 0 8 0 5 0 7 0 7 0 10 0 11 0 4 0 22 0 6 0 8 0 20 0 4 0 1 0 2 0 1 0 35 0 40 0 11 0 2 0 8 0 18 0 6 0 6 0 7 0 2 0 3 0 1 0 46 0 1 0 9 0 1 0 1 0 14 0 1 0 2 0 4 0 9 0 8 0 11 0 8 0 8 0 3 0 10 0 1 0 2 0 6 0 9 0 1 0 13 0 1 0 8 0 7 0 1 0 16 0 1 0 7 0 4 0 1 0 5 0 9 0 2 0 3 0 1 0 1 0 13 0 7 0 5 0 6 0 11 0 14 0 3 0 2 0 9 0 2 0 1 0 1 0 4 0 17 0 2 0 8 0 11 0 2 0 2 0 1 0 16 0 15 0 4 0 2 0 13 0 9 0 3 0 19 0 21 0 14 0 12 0 3 0 7 0 15 0 1 0 5 0 6 0 4 0 1 0 1 0 11 0 5 0 20 0 2 0 5 0 3 0 10 0 9 0 7 0 2 0 1 0 9 0 13 0 9 0 1 0 5 0 1 0 13 0 12 0 2 0 7 0 17 0 13 0 1 0 4 0 12 0 21 0 6 0 2 0 3 0 2 0 14 0 18 0 5 0 1 0 5 0 2 0 6 0 6 0 11 0 1 0 15 0 4 0 6 0 18 0 5 0 4 0 1 0 55 0 5 0 14 0 2 0 11 0 5 0 18 0 6 0 1 0 7 0 7 0 1 0 11 0 3 0 17 0 2 0 15 0 9 0 1 0 5 0 1 0 4 0 31 0 14 0 8 0 10 0 6 0 10 0 9 0 27 0 4 0 9 0 7 0 10 0 9 0 1 0 15 0 3 0 15 0 10 0 1 0 9 0 17 0 6 0 31 0 11 0 16 0 14 0 7 0 7 0 1 0 3 0 3 0 5 0 2 0 11 0 36 0 1 0 11 0 4 0 15 0 2 0 3 0 45 0 3 0 2 0 1 0 20 0 18 0 3 0 2 0 2 0 9 0 2 0 3 0 2 0 18 0 4 0 7 0 1 0 23 0 6 0 15 0 10 0 2 0 9 0 5 0 6 0 8 0 7 0 7 0 1 0 10 0 4 0 6 0 2 0 7 0 2 0 2 0 3 0 4 0 6 0 3 0 3 0 7 0 13 0 4 0 3 0 7 0 10 0 9 0 8 0 5 0 6 0 20 0 5 0 4 0 11 0 5 0 12 0 7 0 16 0 4 0 6 0 1 0 23 0 42 0 1 0 10 0 3 0 6 0 2 0 9 0 2 0 1 0 11 0 14 0 1 0 4 0 12 0 19 0 6 0 5 0 1 0 33 0 4 0 11 0 36 0 7 0 10 0 1 0 1 0 5 0 1 0 15 0 5 0 11 0 3 0 18 0 10 0 1 0 1 0 2 0 5 0 12 0 2 0 2 0 9 0 7 0 3 0 3 0 15 0 1 0 12 0 2 0 1 0 9 0 4 0 12 0 7 0 10 0 7 0 4 0 4 0 8 0 12 0 7 0 14 0 25 0 4 0 13 0 5 0 14 0 1 0 20 0 3 0 3 0 5 0 17 0 10 0 5 0 4 0 2 0 13 0 3 0 1 0 23 0 3 0 6 0 7 0 3 0 13 0 2 0 4 0 3 0 2 0 8 0 3 0 2 0 5 0 1 0 2 0 3 0 3 0 1 0 2 0 5 0 3 0 7 0 4 0 2 0 19 0 2 0 1 0 2 0 5 0 3 0 2 0 1 0 1 0 1 0 1 0 5 0 5 0 6 0 7 0 8 0 11 0 6 0 8 0 1 0 9 0 3 0 11 0 11 0 7 0 5 0 3 0 1 0 2 0 1 0 9 0 2 0 9 0 8 0 3 0 7 0 6 0 10 0 4 0 1 0 7 0 2 0 14 0 1 0 24 0 4 0 5 0 7 0 2 0 8 0 4 0 9 0 19 0 21 0 1 0 3 0 2 0 2 0 2 0 6 0 28 0 29 0 3 0 5 0 2 0 16 0 4 0 3 0 9 0 27 0 8 0 5 0 9 0 21 0 12 0 1 0 3 0 35 0 6 0 15 0 4 0 14 0 1 0 4 0 2 0 5 0 9 0 6 0 5 0 1 0 16 0 1 0 9 0 9 0 11 0 10 0 3 0 6 0 11 0 14 0 5 0 7 0 16 0 3 0 10 0 56 0 1 0 11 0 5 0 14 0 4 0 7 0 28 0 9 0 7 0 1 0 8 0 2 0 2 0 2 0 2 0 7 0 9 0 23 0 1 0 4 0 10 0 2 0 19 0 8 0 2 0 1 0 3 0 8 0 8 0 9 0 10 0 12 0 4 0 15 0 13 0 16 0 16 0 5 0 5 0 2 0 14 0 50 0 19 0 13 0 7 0 11 0 12 0 5 0 11 0 4 0 16 0 4 0 4 0 2 0 1 0 15 0 5 0 1 0 5 0 4 0 8 0 4 0 18 0 2 0 5 0 2 0 7 0 8 0 13 0 18 0 1 0 21 0 5 0 17 0 8 0 2 0 27 0 10 0 10 0 7 0 3 0 21 0 5 0 1 0 1 0 10 0 16 0 25 0 3 0 15 0 12 0 6 0 23 0 18 0 10 0 34 0 6 0 5 0 18 0 23 0 7 0 8 0 5 0 7 0 9 0 20 0 5 0 2 0 1 0 19 0 9 0 2 0 11 0 14 0 1 0 28 0 11 0 3 0 2 0 7 0 15 0 3 0 1 0 2 0 18 0 11 0 1 0 5 0 17 0 16 0 9 0 1 0 1 0 4 0 33 0 1 0 6 0 20 0 1 0 4 0 4 0 7 0 16 0 18 0 8 0 7 0 2 0 2 0 2 0 5 0 1 0 5 0 2 0 4 0 20 0 11 0 5 0 1 0 2 0 14 0 5 0 5 0 13 0 3 0 23 0 1 0 4 0 1 0 7 0 9 0 3 0 13 0 3 0 2 0 4 0 10 0 17 0 13 0 6 0 4 0 4 0 3 0 12 0 3 0 1 0 8 0 1 0 6 0 3 0 1 0 11 0 4 0 1 0 35 0 6 0 4 0 6 0 22 0 4 0 13 0 15 0 7 0 29 0 10 0 7 0 1 0 4 0 21 0 8 0 2 0 16 0 6 0 18 0 1 0 24 0 5 0 2 0 3 0 6 0 11 0 7 0 3 0 29 0 6 0 3 0 5 0 6 0 8 0 2 0 5 0 4 0 15 0 8 0 6 0 3 0 1 0 11 0 1 0 6 0 8 0 2 0 14 0 4 0 6 0 6 0 22 0 6 0 4 0 1 0 16 0 4 0 2 0 1 0 2 0 17 0 1 0 6 0 1 0 14 0 17 0 1 0 2 0 1 0 4 0 1 0 2 0 2 0 7 0 2 0 3 0 1 0 2 0 4 0 1 0 3 0 6 0 4 0 1 0 4 0 1 0 8 0 5 0 3 0 4 0 3 0 1 0 7 0 31 0 5 0 11 0 10 0 26 0 12 0 1 0 5 0 5 0 12 0 1 0 15 0 11 0 4 0 5 0 2 0 2 0 1 0 4 0 8 0 6 0 5 0 12 0 25 0 1 0 2 0 16 0 4 0 8 0 11 0 2 0 4 0 23 0 8 0 2 0 6 0 2 0 13 0 6 0 2 0 16 0 1 0 4 0 6 0 15 0 7 0 11 0 2 0 2 0 6 0 32 0 3 0 8 0 9 0 5 0 2 0 24 0 17 0 3 0 3 0 2 0 9 0 1 0 4 0 13 0 5 0 7 0 4 0 3 0 6 0 17 0 9 0 6 0 18 0 2 0 26 0 2 0 6 0 22 0 3 0 10 0 6 0 4 0 1 0 4 0 7 0 25 0 4 0 11 0 1 0 11 0 6 0 15 0 20 0 3 0 17 0 4 0 3 0 27 0 3 0 3 0 15 0 6 0 3 0 14 0 20 0 5 0 14 0 6 0 30 0 20 0 11 0 5 0 5 0 3 0 8 0 4 0 4 0 3 0 9 0 8 0 24 0 8 0 3 0 2 0 4 0 7 0 8 0 5 0 12 0 2 0 23 0 8 0 16 0 8 0 1 0 2 0 8 0 19 0 2 0 7 0 4 0 11 0 12 0 6 0 19 0 17 0 32 0 4 0 1 0 3 0 30 0 10 0 20 0 25 0 8 0 5 0 5 0 6 0 5 0 1 0 13 0 8 0 8 0 5 0 9 0 3 0 7 0 10 0 4 0 3 0 4 0 21 0 5 0 4 0 14 0 5 0 21 0 15 0 12 0 1 0 2 0 6 0 9 0 7 0 2 0 7 0 26 0 7 0 1 0 3 0 12 0 6 0 13 0 17 0 2 0 3 0 11 0 2 0 8 0 18 0 6 0 5 0 17 0 2 0 6 0 1 0 12 0 11 0 3 0 2 0 2 0 23 0 5 0 4 0 4 0 7 0 4 0 7 0 2 0 11 0 9 0 3 0 12 0 1 0 29 0 7 0 25 0 17 0 6 0 20 0 3 0 5 0 11 0 18 0 8 0 10 0 7 0 4 0 9 0 18 0 11 0 9 0 3 0 7 0 7 0 26 0 12 0 12 0 13 0 6 0 2 0 8 0 31 0 6 0 5 0 36 0 2 0 5 0 16 0 1 0 11 0 4 0 32 0 32 0 1 0 1 0 9 0 19 0 16 0 16 0 4 0 3 0 2 0 35 0 13 0 6 0 4 0 10 0 5 0 6 0 11 0 22 0 5 0 2 0 4 0 6 0 1 0 1 0 5 0 5 0 1 0 9 0 11 0 3 0 1 0 11 0 5 0 5 0 1 0 10 0 6 0 7 0 1 0 2 0 11 0 1 0 1 0 1 0 18 0 3 0 3 0 1 0 3 0 1 0 2 0 5 0 9 0 19 0 14 0 10 0 5 0 8 0 5 0 4 0 4 0 1 0 4 0 4 0 8 0 5 0 3 0 7 0 8 0 3 0 1 0 7 0 15 0 1 0 5 0 6 0 3 0 1 0 4 0 13 0 29 0 3 0 1 0 2 0 4 0 1 0 15 0 4 0 1 0 12 0 6 0 3 0 6 0 2 0 8 0 13 0 1 0 2 0 10 0 11 0 18 0 11 0 28 0 18 0 6 0 53 0 3 0 4 0 21 0 25 0 6 0 15 0 12 0 4 0 10 0 2 0 4 0 4 0 7 0 14 0 4 0 5 0 10 0 17 0 5 0 9 0 4 0 10 0 19 0 6 0 18 0 7 0 2 0 13 0 10 0 2 0 10 0 4 0 16 0 3 0 1 0 3 0 2 0 20 0 10 0 21 0 5 0 3 0 13 0 3 0 24 0 5 0 5 0 15 0 8 0 3 0 16 0 1 0 9 0 7 0 3 0 9 0 10 0 4 0 11 0 1 0 13 0 8 0 12 0 8 0 6 0 5 0 6 0 14 0 2 0 9 0 11 0 5 0 7 0 6 0 31 0 5 0 46 0 7 0 5 0 1 0 7 0 3 0 11 0 3 0 37 0 1 0 6 0 38 0 4 0 1 0 1 0 2 0 30 0 3 0 7 0 1 0 3 0 1 0 16 0 3 0 16 0 38 0 7 0 18 0 2 0 13 0 33 0 16 0 18 0 5 0 21 0 1 0 20 0 10 0 13 0 10 0 4 0 6 0 2 0 3 0 17 0 4 0 1 0 9 0 17 0 8 0 12 0 25 0 27 0 14 0 15 0 2 0 4 0 15 0 19 0 6 0 3 0 9 0 6 0 15 0 9 0 29 0 5 0 5 0 11 0 14 0 3 0 6 0 4 0 4 0 2 0 15 0 2 0 14 0 1 0 6 0 4 0 37 0 2 0 29 0 14 0 4 0 9 0 6 0 8 0 28 0 5 0 11 0 1 0 9 0 11 0 2 0 7 0 2 0 5 0 6 0 4 0 12 0 10 0 10 0 6 0 9 0 2 0 5 0 1 0 1 0 8 0 28 0 2 0 3 0 15 0 7 0 1 0 21 0 9 0 27 0 24 0 2 0 2 0 12 0 16 0 4 0 6 0 2 0 3 0 27 0 2 0 1 0 16 0 3 0 2 0 8 0 5 0 3 0 11 0 8 0 2 0 4 0 1 0 1 0 8 0 3 0 8 0 1 0 1 0 5 0 3 0 7 0 7 0 5 0 3 0 13 0 1 0 15 0 13 0 1 0 3 0 3 0 4 0 2 0 2 0 2 0 5 0 7 0 7 0 4 0 6 0 6 0 5 0 5 0 3 0 1 0 1 0 10 0 1 0 4 0 1 0 8 0 9 0 4 0 2 0 5 0 2 0 2 0 1 0 2 0 14 0 2 0 1 0 2 0 1 0 3 0 2 0 2 0 2 0 3 0 1 0 13 0 44 0 6 0 12 0 2 0 11 0 23 0 14 0 8 0 4 0 8 0 3 0 2 0 11 0 7 0 4 0 5 0 13 0 6 0 2 0 6 0 2 0 2 0 12 0 12 0 19 0 14 0 19 0 16 0 8 0 2 0 1 0 5 0 30 0 5 0 4 0 5 0 9 0 1 0 5 0 18 0 10 0 9 0 9 0 3 0 6 0 9 0 5 0 12 0 6 0 15 0 22 0 21 0 18 0 6 0 15 0 4 0 1 0 4 0 7 0 3 0 1 0 1 0 9 0 2 0 5 0 11 0 14 0 6 0 13 0 9 0 14 0 4 0 16 0 12 0 5 0 13 0 4 0 15 0 2 0 3 0 2 0 6 0 3 0 5 0 42 0 6 0 10 0 11 0 1 0 2 0 3 0 2 0 2 0 19 0 6 0 15 0 1 0 18 0 3 0 2 0 8 0 10 0 1 0 1 0 2 0 5 0 2 0 1 0 10 0 1 0 25 0 26 0 5 0 3 0 8 0 10 0 1 0 4 0 12 0 15 0 16 0 9 0 18 0 6 0 20 0 15 0 5 0 7 0 3 0 4 0 2 0 55 0 15 0 1 0 6 0 10 0 25 0 6 0 12 0 15 0 18 0 4 0 8 0 6 0 4 0 2 0 1 0 8 0 1 0 2 0 2 0 48 0 14 0 9 0 17 0 4 0 2 0 9 0 12 0 1 0 10 0 3 0 1 0 2 0 3 0 2 0 7 0 3 0 3 0 7 0 5 0 1 0 5 0 8 0 4 0 4 0 5 0 12 0 21 0 10 0 61 0 9 0 19 0 11 0 6 0 5 0 8 0 3 0 4 0 6 0 14 0 10 0 2 0 4 0 1 0 12 0 2 0 6 0 5 0 1 0 29 0 14 0 4 0 3 0 11 0 4 0 1 0 3 0 19 0 2 0 6 0 17 0 7 0 19 0 2 0 11 0 19 0 11 0 2 0 12 0 17 0 3 0 12 0 7 0 1 0 8 0 10 0 27 0 1 0 2 0 9 0 1 0 19 0 2 0 5 0 14 0 19 0 10 0 1 0 10 0 4 0 11 0 17 0 15 0 11 0 5 0 15 0 14 0 7 0 43 0 20 0 15 0 3 0 5 0 10 0 21 0 5 0 21 0 11 0 1 0 12 0 8 0 38 0 7 0 3 0 1 0 7 0 9 0 59 0 1 0 14 0 5 0 28 0 5 0 2 0 3 0 2 0 2 0 1 0 2 0 1 0 5 0 1 0 4 0 5 0 9 0 10 0 16 0 1 0 4 0 3 0 4 0 8 0 8 0 2 0 2 0 1 0 15 0 1 0 3 0 4 0 4 0 4 0 3 0 11 0 2 0 7 0 7 0 7 0 1 0 3 0 3 0 5 0 2 0 28 0 1 0 3 0 1 0 3 0 5 0 8 0 3 0 3 0 2 0 2 0 11 0 3 0 3 0 1 0 2 0 3 0 1 0 1 0 2 0 3 0 2 0 13 0 4 0 10 0 1 0 2 0 3 0 1 0 1 0 6 0 19 0 3 0 7 0 9 0 6 0 22 0 9 0 1 0 23 0 8 0 7 0 4 0 2 0 9 0 15 0 3 0 10 0 5 0 27 0 10 0 15 0 1 0 15 0 1 0 9 0 22 0 3 0 3 0 4 0 33 0 3 0 8 0 15 0 7 0 4 0 16 0 5 0 12 0 9 0 1 0 4 0 1 0 10 0 25 0 19 0 11 0 8 0 7 0 3 0 8 0 11 0 24 0 3 0 1 0 9 0 9 0 3 0 3 0 4 0 14 0 2 0 16 0 23 0 1 0 11 0 6 0 3 0 1 0 1 0 13 0 8 0 33 0 3 0 2 0 14 0 5 0 14 0 23 0 1 0 10 0 19 0 3 0 9 0 4 0 3 0 10 0 11 0 2 0 4 0 4 0 1 0 4 0 1 0 6 0 2 0 1 0 5 0 1 0 2 0 3 0 5 0 6 0 1 0 21 0 12 0 3 0 6 0 15 0 19 0 9 0 6 0 3 0 11 0 8 0 4 0 1 0 4 0 12 0 2 0 3 0 6 0 3 0 9 0 4 0 16 0 34 0 16 0 3 0 2 0 15 0 16 0 5 0 12 0 4 0 1 0 28 0 3 0 16 0 19 0 3 0 3 0 15 0 1 0 3 0 15 0 2 0 12 0 34 0 33 0 15 0 1 0 43 0 3 0 2 0 4 0 9 0 7 0 2 0 5 0 4 0 3 0 12 0 7 0 1 0 16 0 9 0 15 0 2 0 15 0 7 0 4 0 1 0 4 0 15 0 3 0 8 0 1 0 5 0 11 0 9 0 17 0 2 0 2 0 2 0 9 0 8 0 1 0 2 0 3 0 16 0 1 0 1 0 4 0 17 0 6 0 3 0 14 0 2 0 1 0 5 0 21 0 3 0 10 0 9 0 15 0 1 0 5 0 12 0 4 0 1 0 11 0 4 0 27 0 6 0 6 0 4 0 24 0 2 0 8 0 4 0 1 0 4 0 5 0 3 0 13 0 7 0 20 0 10 0 36 0 15 0 2 0 6 0 37 0 26 0 16 0 4 0 7 0 4 0 11 0 7 0 19 0 17 0 11 0 6 0 12 0 20 0 14 0 3 0 27 0 3 0 6 0 23 0 6 0 12 0 4 0 23 0 3 0 12 0 8 0 11 0 4 0 16 0 5 0 6 0 4 0 27 0 2 0 2 0 16 0 7 0 9 0 3 0 3 0 1 0 4 0 2 0 9 0 2 0 5 0 24 0 6 0 6 0 1 0 14 0 3 0 8 0 11 0 3 0 9 0 14 0 3 0 5 0 3 0 40 0 2 0 5 0 4 0 1 0 5 0 2 0 1 0 7 0 1 0 2 0 10 0 4 0 1 0 1 0 2 0 11 0 9 0 4 0 6 0 1 0 4 0 3 0 3 0 3 0 5 0 5 0 3 0 4 0 1 0 4 0 2 0 15 0 20 0 1 0 9 0 2 0 1 0 2 0 3 0 4 0 5 0 4 0 2 0 2 0 7 0 11 0 1 0 6 0 10 0 9 0 2 0 4 0 5 0 1 0 4 0 3 0 1 0 3 0 2 0 3 0 6 0 2 0 5 0 3 0 2 0 1 0 2 0 1 0 6 0 1 0 2 0 14 0 11 0 3 0 21 0 5 0 1 0 4 0 8 0 1 0 28 0 4 0 1 0 1 0 3 0 12 0 4 0 6 0 7 0 1 0 3 0 4 0 3 0 21 0 1 0 4 0 16 0 2 0 4 0 17 0 13 0 8 0 16 0 5 0 1 0 21 0 3 0 11 0 6 0 1 0 1 0 14 0 5 0 2 0 4 0 46 0 9 0 3 0 4 0 3 0 7 0 5 0 4 0 7 0 7 0 5 0 6 0 3 0 11 0 4 0 13 0 3 0 12 0 5 0 5 0 1 0 9 0 13 0 4 0 23 0 4 0 4 0 1 0 2 0 1 0 5 0 5 0 2 0 6 0 12 0 2 0 19 0 16 0 4 0 1 0 7 0 14 0 1 0 9 0 2 0 7 0 12 0 4 0 2 0 1 0 5 0 6 0 2 0 3 0 15 0 12 0 9 0 2 0 14 0 6 0 4 0 17 0 10 0 1 0 4 0 7 0 1 0 3 0 7 0 10 0 3 0 2 0 9 0 11 0 3 0 10 0 9 0 8 0 20 0 10 0 6 0 3 0 18 0 4 0 12 0 5 0 15 0 8 0 5 0 1 0 38 0 4 0 1 0 16 0 11 0 4 0 9 0 5 0 48 0 14 0 6 0 20 0 10 0 8 0 11 0 1 0 3 0 6 0 16 0 5 0 5 0 13 0 7 0 8 0 6 0 14 0 3 0 4 0 8 0 4 0 7 0 2 0 4 0 15 0 2 0 10 0 4 0 14 0 1 0 1 0 7 0 16 0 5 0 3 0 2 0 1 0 9 0 4 0 2 0 24 0 3 0 3 0 18 0 1 0 2 0 12 0 13 0 12 0 16 0 1 0 1 0 20 0 27 0 1 0 32 0 15 0 1 0 2 0 8 0 19 0 2 0 25 0 27 0 25 0 19 0 6 0 3 0 7 0 1 0 3 0 1 0 3 0 8 0 16 0 1 0 14 0 7 0 49 0 2 0 2 0 6 0 8 0 1 0 10 0 39 0 14 0 11 0 56 0 1 0 7 0 3 0 17 0 2 0 9 0 1 0 1 0 18 0 13 0 5 0 5 0 4 0 2 0 1 0 14 0 37 0 3 0 34 0 2 0 1 0 13 0 3 0 11 0 4 0 3 0 6 0 2 0 4 0 11 0 5 0 8 0 2 0 10 0 1 0 10 0 2 0 46 0 1 0 3 0 5 0 2 0 5 0 11 0 1 0 14 0 2 0 21 0 8 0 17 0 1 0 3 0 13 0 8 0 7 0 26 0 2 0 14 0 1 0 9 0 18 0 11 0 7 0 5 0 7 0 9 0 10 0 43 0 3 0 3 0 12 0 1 0 13 0 3 0 4 0 5 0 1 0 10 0 4 0 6 0 1 0 1 0 3 0 2 0 3 0 6 0 2 0 1 0 7 0 3 0 8 0 9 0 10 0 3 0 2 0 6 0 3 0 7 0 5 0 3 0 8 0 3 0 1 0 2 0 10 0 4 0 5 0 6 0 6 0 3 0 1 0 1 0 1 0 1 0 8 0 8 0 13 0 2 0 3 0 1 0 4 0 1 0 2 0 3 0 8 0 2 0 1 0 1 0 6 0 4 0 5 0 3 0 2 0 6 0 11 0 1 0 5 0 6 0 6 0 3 0 5 0 2 0 28 0 6 0 20 0 5 0 11 0 3 0 14 0 6 0 6 0 3 0 2 0 6 0 6 0 2 0 46 0 5 0 15 0 10 0 4 0 3 0 8 0 21 0 8 0 4 0 4 0 6 0 6 0 12 0 6 0 3 0 19 0 4 0 1 0 2 0 4 0 15 0 6 0 3 0 9 0 2 0 4 0 11 0 29 0 9 0 11 0 2 0 1 0 1 0 25 0 2 0 12 0 7 0 1 0 7 0 4 0 9 0 13 0 11 0 4 0 8 0 24 0 1 0 14 0 13 0 1 0 2 0 4 0 3 0 10 0 28 0 5 0 11 0 2 0 18 0 26 0 21 0 9 0 1 0 2 0 11 0 9 0 9 0 3 0 20 0 4 0 6 0 5 0 3 0 7 0 32 0 14 0 3 0 12 0 2 0 7 0 6 0 5 0 7 0 6 0 3 0 6 0 15 0 3 0 3 0 3 0 43 0 3 0 5 0 5 0 8 0 13 0 4 0 12 0 8 0 7 0 26 0 1 0 6 0 10 0 9 0 13 0 12 0 5 0 30 0 6 0 17 0 4 0 16 0 9 0 16 0 4 0 2 0 10 0 1 0 6 0 6 0 10 0 2 0 13 0 32 0 33 0 11 0 8 0 1 0 25 0 13 0 8 0 25 0 21 0 13 0 11 0 19 0 15 0 4 0 10 0 2 0 7 0 12 0 2 0 14 0 1 0 5 0 13 0 5 0 11 0 1 0 11 0 13 0 6 0 4 0 5 0 31 0 11 0 4 0 1 0 5 0 3 0 9 0 11 0 9 0 14 0 8 0 4 0 18 0 16 0 9 0 1 0 16 0 13 0 10 0 6 0 5 0 9 0 23 0 20 0 1 0 1 0 3 0 2 0 9 0 6 0 17 0 5 0 1 0 3 0 4 0 4 0 8 0 8 0 28 0 4 0 23 0 21 0 3 0 22 0 7 0 18 0 12 0 9 0 3 0 5 0 3 0 2 0 7 0 4 0 1 0 7 0 3 0 1 0 14 0 6 0 2 0 5 0 7 0 3 0 12 0 8 0 2 0 30 0 1 0 4 0 30 0 4 0 6 0 4 0 11 0 1 0 1 0 9 0 5 0 4 0 1 0 3 0 8 0 2 0 3 0 6 0 4 0 9 0 2 0 6 0 3 0 8 0 2 0 9 0 7 0 1 0 2 0 4 0 9 0 7 0 2 0 8 0 4 0 4 0 8 0 4 0 8 0 10 0 1 0 3 0 8 0 3 0 2 0 3 0 2 0 3 0 2 0 1 0 1 0 4 0 4 0 12 0 3 0 6 0 6 0 4 0 1 0 5 0 1 0 2 0 2 0 1 0 1 0 1 0 7 0 3 0 1 0 2 0 7 0 2 0 3 0 10 0 3 0 9 0 10 0 1 0 5 0 9 0 1 0 36 0 8 0 2 0 4 0 12 0 17 0 24 0 2 0 2 0 2 0 6 0 7 0 10 0 14 0 3 0 16 0 13 0 5 0 14 0 1 0 14 0 5 0 7 0 6 0 8 0 6 0 15 0 3 0 43 0 14 0 14 0 1 0 19 0 5 0 5 0 33 0 3 0 10 0 15 0 3 0 4 0 4 0 9 0 16 0 2 0 8 0 12 0 10 0 1 0 1 0 6 0 8 0 2 0 12 0 5 0 13 0 16 0 6 0 5 0 7 0 21 0 2 0 20 0 4 0 4 0 1 0 3 0 2 0 2 0 43 0 1 0 5 0 7 0 3 0 3 0 11 0 15 0 7 0 5 0 2 0 27 0 38 0 5 0 30 0 10 0 14 0 1 0 1 0 8 0 18 0 3 0 7 0 7 0 9 0 2 0 2 0 3 0 6 0 4 0 14 0 8 0 10 0 7 0 2 0 11 0 5 0 1 0 2 0 5 0 3 0 8 0 3 0 3 0 1 0 12 0 4 0 17 0 8 0 23 0 1 0 13 0 6 0 3 0 31 0 7 0 15 0 4 0 5 0 4 0 44 0 12 0 42 0 10 0 26 0 26 0 10 0 7 0 6 0 10 0 10 0 4 0 17 0 21 0 10 0 3 0 7 0 7 0 11 0 7 0 27 0 7 0 8 0 4 0 2 0 9 0 2 0 3 0 10 0 24 0 3 0 2 0 22 0 4 0 1 0 3 0 19 0 35 0 3 0 15 0 14 0 3 0 24 0 2 0 12 0 10 0 8 0 5 0 6 0 24 0 5 0 13 0 14 0 11 0 7 0 8 0 2 0 17 0 15 0 4 0 12 0 11 0 1 0 13 0 14 0 7 0 24 0 30 0 3 0 6 0 6 0 2 0 4 0 4 0 2 0 22 0 11 0 9 0 17 0 2 0 14 0 6 0 7 0 8 0 11 0 9 0 4 0 2 0 26 0 6 0 1 0 4 0 9 0 4 0 4 0 1 0 5 0 5 0 13 0 2 0 10 0 5 0 1 0 1 0 1 0 3 0 8 0 3 0 1 0 4 0 4 0 6 0 5 0 8 0 15 0 10 0 10 0 11 0 37 0 5 0 3 0 11 0 2 0 4 0 1 0 2 0 2 0 23 0 1 0 2 0 29 0 16 0 12 0 24 0 1 0 6 0 19 0 2 0 5 0 10 0 8 0 2 0 1 0 10 0 1 0 1 0 3 0 40 0 25 0 2 0 12 0 6 0 6 0 1 0 5 0 5 0 3 0 1 0 1 0 11 0 4 0 6 0 9 0 3 0 3 0 7 0 1 0 9 0 7 0 5 0 9 0 1 0 5 0 3 0 1 0 1 0 4 0 1 0 2 0 7 0 6 0 6 0 5 0 6 0 4 0 1 0 1 0 1 0 5 0 3 0 6 0 1 0 7 0 2 0 2 0 1 0 6 0 8 0 4 0 1 0 1 0 11 0 5 0 5 0 1 0 5 0 10 0 1 0 1 0 3 0 5 0 1 0 10 0 3 0 2 0 3 0 2 0 1 0 6 0 5 0 10 0 4 0 4 0 11 0 15 0 16 0 11 0 13 0 10 0 5 0 7 0 8 0 8 0 8 0 1 0 16 0 12 0 4 0 6 0 12 0 20 0 2 0 3 0 16 0 8 0 4 0 9 0 5 0 10 0 2 0 13 0 5 0 5 0 2 0 4 0 9 0 6 0 24 0 30 0 24 0 9 0 13 0 5 0 40 0 1 0 9 0 20 0 19 0 23 0 4 0 7 0 4 0 1 0 9 0 2 0 3 0 6 0 17 0 3 0 2 0 3 0 9 0 3 0 4 0 9 0 10 0 5 0 1 0 2 0 9 0 13 0 8 0 3 0 13 0 16 0 1 0 18 0 2 0 2 0 1 0 5 0 4 0 3 0 9 0 4 0 3 0 14 0 7 0 11 0 5 0 3 0 4 0 6 0 1 0 12 0 31 0 12 0 32 0 37 0 9 0 5 0 5 0 2 0 16 0 10 0 4 0 49 0 27 0 16 0 6 0 4 0 11 0 1 0 9 0 7 0 5 0 5 0 10 0 3 0 5 0 2 0 12 0 5 0 3 0 10 0 7 0 5 0 16 0 5 0 13 0 5 0 9 0 17 0 4 0 21 0 4 0 7 0 7 0 35 0 4 0 1 0 12 0 30 0 19 0 3 0 15 0 6 0 3 0 5 0 10 0 3 0 2 0 3 0 6 0 24 0 13 0 2 0 20 0 18 0 14 0 26 0 5 0 11 0 6 0 1 0 17 0 3 0 3 0 9 0 9 0 3 0 28 0 13 0 3 0 8 0 7 0 9 0 8 0 17 0 14 0 3 0 21 0 6 0 6 0 12 0 2 0 12 0 29 0 9 0 11 0 18 0 5 0 5 0 2 0 12 0 15 0 12 0 13 0 5 0 6 0 3 0 13 0 2 0 23 0 7 0 21 0 1 0 4 0 4 0 3 0 41 0 2 0 14 0 1 0 3 0 13 0 1 0 7 0 1 0 2 0 5 0 10 0 11 0 22 0 3 0 6 0 7 0 4 0 2 0 19 0 18 0 14 0 11 0 5 0 3 0 4 0 5 0 15 0 2 0 6 0 32 0 1 0 2 0 24 0 6 0 6 0 9 0 2 0 10 0 14 0 13 0 19 0 13 0 1 0 18 0 2 0 16 0 12 0 1 0 3 0 9 0 16 0 1 0 8 0 5 0 9 0 11 0 23 0 4 0 5 0 2 0 29 0 1 0 1 0 1 0 8 0 5 0 4 0 2 0 2 0 1 0 2 0 6 0 5 0 2 0 2 0 6 0 1 0 3 0 2 0 2 0 1 0 1 0 7 0 7 0 12 0 6 0 1 0 6 0 2 0 12 0 2 0 14 0 7 0 2 0 2 0 2 0 2 0 7 0 6 0 1 0 5 0 6 0 2 0 11 0 5 0 1 0 5 0 4 0 2 0 6 0 9 0 1 0 4 0 2 0 1 0 2 0 7 0 2 0 7 0 2 0 5 0 1 0 3 0 2 0 3 0 1 0 6 0 1 0 3 0 1 0 2 0 4 0 2 0 4 0 5 0 1 0 8 0 3 0 11 0 8 0 8 0 4 0 1 0 29 0 5 0 1 0 3 0 21 0 1 0 15 0 14 0 32 0 15 0 5 0 17 0 15 0 9 0 2 0 1 0 13 0 3 0 4 0 42 0 1 0 4 0 2 0 14 0 7 0 14 0 8 0 2 0 3 0 10 0 3 0 1 0 3 0 2 0 2 0 1 0 18 0 1 0 3 0 1 0 1 0 3 0 1 0 5 0 13 0 3 0 20 0 3 0 25 0 5 0 6 0 4 0 12 0 1 0 9 0 16 0 10 0 12 0 20 0 20 0 3 0 4 0 3 0 20 0 5 0 1 0 1 0 14 0 40 0 14 0 29 0 7 0 17 0 2 0 17 0 1 0 5 0 14 0 1 0 2 0 5 0 6 0 6 0 2 0 1 0 11 0 1 0 6 0 2 0 1 0 1 0 10 0 10 0 5 0 6 0 4 0 3 0 15 0 2 0 3 0 1 0 10 0 10 0 13 0 4 0 15 0 3 0 5 0 26 0 10 0 9 0 2 0 10 0 18 0 22 0 11 0 2 0 9 0 9 0 5 0 11 0 13 0 3 0 2 0 1 0 6 0 23 0 4 0 9 0 1 0 3 0 10 0 3 0 5 0 5 0 5 0 1 0 5 0 6 0 6 0 8 0 4 0 1 0 1 0 16 0 1 0 4 0 17 0 3 0 9 0 4 0 5 0 10 0 7 0 11 0 26 0 3 0 37 0 5 0 4 0 1 0 6 0 16 0 6 0 1 0 12 0 1 0 28 0 2 0 8 0 1 0 3 0 4 0 12 0 4 0 15 0 10 0 4 0 6 0 5 0 4 0 3 0 9 0 13 0 4 0 21 0 9 0 1 0 8 0 14 0 1 0 8 0 9 0 4 0 7 0 25 0 6 0 6 0 9 0 3 0 5 0 7 0 14 0 19 0 20 0 15 0 1 0 9 0 17 0 4 0 5 0 9 0 3 0 13 0 6 0 4 0 3 0 14 0 10 0 9 0 15 0 11 0 3 0 7 0 30 0 3 0 1 0 6 0 3 0 1 0 15 0 6 0 10 0 30 0 44 0 2 0 8 0 1 0 5 0 2 0 16 0 8 0 2 0 16 0 3 0 2 0 3 0 4 0 21 0 13 0 10 0 6 0 21 0 3 0 1 0 2 0 1 0 11 0 7 0 35 0 6 0 7 0 2 0 8 0 10 0 5 0 11 0 11 0 4 0 4 0 7 0 4 0 4 0 15 0 1 0 5 0 2 0 25 0 26 0 16 0 33 0 22 0 1 0 1 0 6 0 9 0 12 0 23 0 25 0 18 0 1 0 8 0 9 0 4 0 2 0 9 0 47 0 1 0 2 0 1 0 1 0 1 0 3 0 3 0 7 0 16 0 1 0 3 0 2 0 3 0 2 0 27 0 3 0 6 0 10 0 2 0 2 0 4 0 1 0 4 0 1 0 6 0 6 0 4 0 8 0 7 0 3 0 8 0 1 0 1 0 6 0 2 0 2 0 9 0 2 0 5 0 1 0 8 0 12 0 4 0 1 0 6 0 6 0 6 0 1 0 13 0 2 0 1 0 2 0 5 0 3 0 3 0 3 0 11 0 2 0 1 0 4 0 1 0 12 0 10 0 14 0 9 0 1 0 15 0 7 0 14 0 3 0 4 0 11 0 18 0 5 0 4 0 10 0 1 0 42 0 1 0 11 0 3 0 10 0 7 0 1 0 1 0 9 0 12 0 45 0 5 0 2 0 4 0 8 0 9 0 13 0 2 0 6 0 15 0 4 0 28 0 4 0 21 0 27 0 7 0 9 0 6 0 15 0 7 0 32 0 4 0 5 0 12 0 7 0 22 0 9 0 26 0 7 0 6 0 24 0 12 0 4 0 5 0 7 0 2 0 4 0 17 0 19 0 7 0 7 0 9 0 13 0 12 0 15 0 6 0 4 0 5 0 17 0 5 0 1 0 3 0 1 0 6 0 5 0 10 0 6 0 11 0 4 0 34 0 3 0 7 0 2 0 4 0 5 0 1 0 20 0 7 0 8 0 7 0 1 0 2 0 8 0 10 0 21 0 4 0 9 0 7 0 36 0 1 0 4 0 2 0 16 0 1 0 24 0 2 0 17 0 3 0 1 0 12 0 4 0 4 0 4 0 2 0 6 0 1 0 7 0 22 0 11 0 2 0 9 0 3 0 10 0 5 0 14 0 6 0 2 0 8 0 2 0 9 0 6 0 1 0 14 0 11 0 3 0 16 0 14 0 2 0 2 0 8 0 13 0 3 0 2 0 3 0 14 0 16 0 2 0 6 0 33 0 2 0 13 0 35 0 2 0 1 0 18 0 1 0 5 0 3 0 2 0 26 0 1 0 10 0 20 0 6 0 10 0 16 0 2 0 4 0 9 0 6 0 3 0 3 0 7 0 15 0 37 0 8 0 15 0 3 0 2 0 27 0 14 0 2 0 7 0 10 0 15 0 17 0 2 0 4 0 21 0 13 0 2 0 16 0 6 0 3 0 4 0 11 0 25 0 19 0 14 0 6 0 4 0 1 0 5 0 6 0 11 0 4 0 2 0 7 0 17 0 3 0 5 0 1 0 6 0 7 0 22 0 13 0 10 0 11 0 1 0 1 0 5 0 23 0 2 0 25 0 5 0 3 0 1 0 15 0 1 0 7 0 4 0 14 0 32 0 10 0 1 0 2 0 11 0 8 0 3 0 5 0 4 0 16 0 10 0 1 0 34 0 1 0 16 0 6 0 3 0 8 0 14 0 3 0 3 0 12 0 5 0 3 0 2 0 5 0 2 0 3 0 7 0 1 0 9 0 4 0 2 0 4 0 7 0 4 0 1 0 3 0 6 0 5 0 3 0 14 0 2 0 2 0 8 0 1 0 21 0 2 0 1 0 1 0 5 0 1 0 3 0 8 0 3 0 5 0 1 0 2 0 2 0 3 0 2 0 3 0 1 0 7 0 2 0 10 0 2 0 3 0 2 0 4 0 1 0 1 0 4 0 1 0 6 0 3 0 12 0 5 0 15 0 2 0 13 0 1 0 3 0 7 0 8 0 2 0 14 0 2 0 1 0 14 0 10 0 7 0 3 0 18 0 10 0 16 0 6 0 18 0 2 0 3 0 6 0 4 0 14 0 7 0 11 0 6 0 8 0 5 0 7 0 7 0 8 0 1 0 1 0 1 0 3 0 8 0 8 0 4 0 12 0 6 0 15 0 45 0 1 0 2 0 4 0 1 0 19 0 5 0 2 0 3 0 1 0 6 0 2 0 4 0 1 0 9 0 1 0 3 0 9 0 25 0 14 0 3 0 9 0 2 0 3 0 1 0 5 0 34 0 2 0 1 0 7 0 10 0 15 0 7 0 3 0 2 0 1 0 5 0 5 0 1 0 11 0 7 0 1 0 17 0 2 0 10 0 9 0 1 0 4 0 5 0 4 0 36 0 1 0 21 0 23 0 3 0 6 0 6 0 5 0 2 0 9 0 12 0 3 0 2 0 1 0 3 0 5 0 2 0 1 0 7 0 6 0 1 0 5 0 13 0 10 0 3 0 2 0 4 0 10 0 8 0 6 0 2 0 17 0 5 0 1 0 6 0 1 0 9 0 9 0 2 0 3 0 2 0 1 0 4 0 5 0 6 0 11 0 3 0 7 0 2 0 59 0 7 0 4 0 2 0 31 0 28 0 18 0 3 0 9 0 42 0 7 0 11 0 6 0 4 0 22 0 1 0 29 0 20 0 15 0 22 0 7 0 7 0 3 0 1 0 35 0 6 0 1 0 7 0 6 0 4 0 5 0 25 0 1 0 5 0 34 0 11 0 11 0 9 0 2 0 18 0 2 0 5 0 5 0 1 0 6 0 5 0 8 0 12 0 18 0 7 0 4 0 14 0 4 0 1 0 6 0 6 0 1 0 24 0 13 0 1 0 5 0 2 0 5 0 9 0 5 0 1 0 15 0 7 0 16 0 5 0 11 0 11 0 3 0 12 0 6 0 21 0 6 0 4 0 24 0 2 0 11 0 6 0 2 0 9 0 4 0 1 0 13 0 18 0 16 0 3 0 1 0 5 0 8 0 24 0 3 0 9 0 1 0 1 0 7 0 19 0 13 0 2 0 6 0 11 0 10 0 16 0 14 0 6 0 18 0 16 0 4 0 1 0 1 0 11 0 8 0 17 0 1 0 20 0 2 0 3 0 4 0 1 0 3 0 2 0 13 0 15 0 11 0 15 0 10 0 2 0 4 0 7 0 1 0 9 0 6 0 20 0 8 0 3 0 4 0 1 0 8 0 2 0 16 0 16 0 5 0 5 0 27 0 3 0 11 0 13 0 3 0 6 0 2 0 1 0 7 0 2 0 6 0 3 0 19 0 8 0 1 0 20 0 2 0 5 0 7 0 13 0 17 0 7 0 3 0 1 0 1 0 5 0 15 0 4 0 8 0 11 0 5 0 13 0 5 0 4 0 11 0 7 0 3 0 4 0 7 0 7 0 2 0 3 0 1 0 3 0 4 0 5 0 9 0 1 0 6 0 11 0 3 0 2 0 5 0 3 0 15 0 7 0 4 0 1 0 1 0 1 0 3 0 11 0 8 0 5 0 10 0 3 0 9 0 7 0 5 0 1 0 5 0 2 0 3 0 2 0 7 0 14 0 5 0 4 0 1 0 2 0 6 0 2 0 3 0 5 0 3 0 3 0 2 0 6 0 7 0 1 0 7 0 4 0 2 0 3 0 3 0 5 0 1 0 2 0 2 0 1 0 2 0 27 0 15 0 1 0 7 0 16 0 10 0 11 0 1 0 14 0 19 0 18 0 5 0 6 0 18 0 11 0 8 0 18 0 1 0 31 0 9 0 2 0 5 0 37 0 13 0 5 0 3 0 16 0 5 0 4 0 1 0 13 0 9 0 5 0 2 0 20 0 11 0 7 0 3 0 6 0 8 0 2 0 9 0 2 0 10 0 5 0 9 0 1 0 12 0 5 0 3 0 16 0 5 0 12 0 10 0 8 0 2 0 4 0 25 0 22 0 6 0 5 0 3 0 17 0 15 0 2 0 4 0 4 0 1 0 7 0 1 0 33 0 6 0 10 0 20 0 20 0 14 0 7 0 14 0 1 0 17 0 11 0 9 0 3 0 11 0 7 0 7 0 19 0 5 0 16 0 29 0 14 0 12 0 12 0 4 0 5 0 21 0 2 0 2 0 7 0 10 0 11 0 7 0 11 0 7 0 9 0 1 0 3 0 15 0 5 0 6 0 5 0 5 0 11 0 3 0 6 0 7 0 1 0 5 0 5 0 11 0 3 0 5 0 6 0 2 0 4 0 6 0 1 0 3 0 2 0 18 0 3 0 10 0 11 0 1 0 3 0 5 0 21 0 5 0 4 0 3 0 11 0 2 0 2 0 10 0 3 0 17 0 34 0 9 0 2 0 5 0 30 0 1 0 9 0 12 0 6 0 1 0 5 0 8 0 11 0 8 0 16 0 5 0 26 0 13 0 8 0 2 0 6 0 5 0 4 0 9 0 1 0 25 0 19 0 4 0 10 0 3 0 4 0 1 0 2 0 2 0 9 0 3 0 6 0 12 0 14 0 2 0 11 0 3 0 6 0 2 0 1 0 15 0 1 0 7 0 14 0 4 0 9 0 3 0 5 0 6 0 3 0 5 0 11 0 6 0 1 0 26 0 11 0 20 0 11 0 12 0 8 0 8 0 24 0 2 0 6 0 25 0 2 0 32 0 30 0 4 0 17 0 1 0 9 0 4 0 1 0 5 0 2 0 8 0 12 0 5 0 2 0 2 0 20 0 2 0 3 0 9 0 1 0 19 0 1 0 12 0 4 0 1 0 11 0 19 0 1 0 7 0 11 0 5 0 6 0 10 0 8 0 13 0 10 0 23 0 3 0 7 0 17 0 2 0 5 0 10 0 9 0 1 0 8 0 13 0 3 0 9 0 10 0 10 0 14 0 4 0 3 0 6 0 1 0 5 0 5 0 10 0 21 0 1 0 2 0 28 0 5 0 2 0 3 0 8 0 11 0 6 0 11 0 7 0 10 0 10 0 1 0 2 0 3 0 5 0 15 0 7 0 1 0 2 0 16 0 7 0 1 0 2 0 4 0 33 0 4 0 1 0 5 0 4 0 3 0 4 0 1 0 3 0 1 0 1 0 19 0 8 0 3 0 2 0 5 0 6 0 10 0 10 0 6 0 1 0 5 0 10 0 5 0 5 0 1 0 2 0 2 0 6 0 4 0 7 0 2 0 5 0 5 0 1 0 15 0 8 0 1 0 1 0 1 0 3 0 1 0 10 0 3 0 12 0 3 0 8 0 3 0 8 0 1 0 10 0 3 0 2 0 3 0 4 0 4 0 5 0 1 0 7 0 3 0 10 0 22 0 1 0 3 0 9 0 8 0 16 0 20 0 3 0 10 0 9 0 4 0 6 0 2 0 8 0 5 0 7 0 2 0 3 0 7 0 6 0 2 0 16 0 9 0 2 0 13 0 6 0 3 0 16 0 5 0 10 0 11 0 8 0 3 0 3 0 3 0 18 0 8 0 2 0 1 0 8 0 11 0 15 0 2 0 26 0 4 0 1 0 10 0 26 0 5 0 7 0 4 0 6 0 6 0 9 0 13 0 3 0 4 0 3 0 5 0 4 0 24 0 16 0 4 0 11 0 4 0 8 0 15 0 1 0 2 0 10 0 12 0 1 0 5 0 5 0 1 0 3 0 24 0 8 0 13 0 17 0 10 0 3 0 1 0 2 0 3 0 4 0 9 0 3 0 11 0 7 0 14 0 4 0 13 0 8 0 10 0 10 0 4 0 3 0 5 0 31 0 2 0 6 0 15 0 1 0 21 0 15 0 11 0 1 0 1 0 2 0 5 0 2 0 10 0 6 0 12 0 21 0 4 0 6 0 1 0 9 0 1 0 3 0 18 0 9 0 43 0 6 0 9 0 1 0 11 0 10 0 6 0 8 0 3 0 14 0 17 0 19 0 1 0 8 0 5 0 4 0 7 0 10 0 19 0 5 0 7 0 9 0 2 0 11 0 11 0 3 0 3 0 9 0 7 0 5 0 6 0 50 0 1 0 9 0 5 0 8 0 13 0 3 0 4 0 3 0 13 0 17 0 4 0 5 0 1 0 19 0 9 0 12 0 7 0 45 0 7 0 9 0 11 0 12 0 1 0 3 0 5 0 4 0 14 0 2 0 3 0 2 0 2 0 8 0 10 0 2 0 11 0 8 0 8 0 1 0 8 0 27 0 2 0 8 0 10 0 12 0 16 0 7 0 3 0 24 0 6 0 7 0 1 0 4 0 11 0 4 0 3 0 7 0 8 0 5 0 3 0 1 0 4 0 7 0 2 0 8 0 6 0 1 0 7 0 7 0 14 0 37 0 8 0 11 0 10 0 1 0 2 0 19 0 2 0 5 0 6 0 3 0 5 0 6 0 4 0 1 0 5 0 9 0 1 0 4 0 3 0 8 0 2 0 14 0 8 0 6 0 31 0 1 0 4 0 5 0 1 0 9 0 10 0 11 0 4 0 1 0 7 0 3 0 13 0 20 0 7 0 8 0 1 0 2 0 6 0 16 0 2 0 1 0 4 0 9 0 5 0 13 0 2 0 18 0 21 0 13 0 3 0 21 0 2 0 1 0 2 0 6 0 12 0 1 0 3 0 18 0 1 0 14 0 4 0 3 0 8 0 3 0 19 0 3 0 5 0 7 0 2 0 2 0 14 0 10 0 1 0 1 0 4 0 1 0 17 0 14 0 7 0 2 0 4 0 10 0 4 0 7 0 4 0 6 0 5 0 5 0 7 0 12 0 8 0 1 0 5 0 1 0 34 0 1 0 7 0 8 0 3 0 10 0 8 0 1 0 5 0 2 0 2 0 1 0 6 0 10 0 5 0 1 0 3 0 1 0 1 0 4 0 2 0 4 0 4 0 1 0 2 0 5 0 5 0 5 0 4 0 5 0 2 0 11 0 7 0 9 0 5 0 5 0 3 0 12 0 11 0 10 0 2 0 9 0 1 0 4 0 12 0 3 0 1 0 1 0 1 0 8 0 2 0 1 0 3 0 1 0 6 0 5 0 10 0 5 0 2 0 5 0 1 0 3 0 1 0 17 0 4 0 1 0 6 0 12 0 3 0 44 0 8 0 5 0 11 0 31 0 11 0 6 0 11 0 5 0 29 0 18 0 3 0 9 0 5 0 2 0 6 0 12 0 7 0 7 0 9 0 4 0 1 0 8 0 11 0 10 0 14 0 2 0 6 0 1 0 7 0 4 0 4 0 22 0 19 0 5 0 10 0 25 0 13 0 1 0 18 0 9 0 10 0 8 0 9 0 6 0 32 0 5 0 1 0 8 0 5 0 2 0 3 0 2 0 5 0 6 0 15 0 6 0 4 0 37 0 4 0 9 0 6 0 4 0 2 0 18 0 2 0 7 0 35 0 3 0 2 0 3 0 5 0 1 0 5 0 1 0 6 0 4 0 10 0 2 0 2 0 17 0 32 0 2 0 4 0 1 0 14 0 1 0 5 0 1 0 2 0 5 0 10 0 1 0 15 0 5 0 7 0 2 0 23 0 5 0 6 0 22 0 5 0 5 0 10 0 11 0 30 0 2 0 2 0 2 0 2 0 13 0 5 0 2 0 3 0 6 0 31 0 27 0 13 0 16 0 5 0 10 0 12 0 7 0 18 0 1 0 1 0 5 0 4 0 7 0 19 0 6 0 22 0 11 0 16 0 4 0 4 0 16 0 16 0 23 0 1 0 29 0 11 0 4 0 6 0 13 0 5 0 3 0 1 0 6 0 9 0 5 0 1 0 6 0 1 0 4 0 5 0 4 0 1 0 10 0 14 0 23 0 12 0 13 0 2 0 5 0 16 0 9 0 4 0 12 0 13 0 1 0 11 0 6 0 3 0 1 0 18 0 5 0 11 0 4 0 2 0 3 0 1 0 1 0 2 0 2 0 6 0 3 0 11 0 9 0 7 0 5 0 11 0 6 0 18 0 8 0 12 0 5 0 5 0 2 0 11 0 2 0 6 0 4 0 9 0 7 0 7 0 14 0 2 0 17 0 8 0 5 0 1 0 12 0 5 0 4 0 1 0 17 0 5 0 3 0 10 0 16 0 1 0 2 0 1 0 9 0 10 0 1 0 1 0 14 0 9 0 6 0 22 0 5 0 5 0 1 0 5 0 27 0 12 0 1 0 10 0 1 0 10 0 11 0 2 0 8 0 16 0 6 0 13 0 4 0 6 0 7 0 25 0 1 0 4 0 10 0 6 0 12 0 3 0 8 0 31 0 3 0 2 0 4 0 8 0 13 0 2 0 1 0 11 0 6 0 17 0 6 0 5 0 6 0 6 0 2 0 2 0 4 0 6 0 6 0 6 0 4 0 4 0 1 0 2 0 3 0 6 0 2 0 2 0 3 0 3 0 1 0 2 0 5 0 2 0 6 0 6 0 6 0 5 0 6 0 5 0 10 0 5 0 1 0 4 0 3 0 11 0 13 0 2 0 3 0 11 0 2 0 6 0 5 0 5 0 5 0 3 0 9 0 3 0 1 0 1 0 3 0 2 0 1 0 4 0 1 0 2 0 1 0 2 0 5 0 1 0 3 0 1 0 7 0 2 0 1 0 4 0 2 0 7 0 3 0 1 0 5 0 10 0 4 0 5 0 7 0 40 0 8 0 10 0 5 0 9 0 4 0 9 0 4 0 11 0 4 0 6 0 10 0 24 0 25 0 20 0 12 0 6 0 14 0 14 0 2 0 6 0 2 0 22 0 11 0 2 0 1 0 6 0 4 0 14 0 9 0 4 0 1 0 36 0 16 0 19 0 1 0 2 0 4 0 5 0 20 0 1 0 23 0 3 0 12 0 16 0 12 0 6 0 9 0 11 0 14 0 2 0 1 0 6 0 10 0 13 0 9 0 16 0 16 0 3 0 5 0 8 0 9 0 4 0 11 0 3 0 2 0 3 0 19 0 8 0 3 0 10 0 2 0 3 0 3 0 11 0 22 0 8 0 9 0 7 0 8 0 17 0 1 0 10 0 14 0 7 0 16 0 6 0 1 0 18 0 9 0 2 0 3 0 5 0 10 0 5 0 4 0 5 0 8 0 6 0 3 0 4 0 3 0 31 0 1 0 1 0 4 0 15 0 5 0 18 0 23 0 4 0 10 0 4 0 16 0 2 0 1 0 21 0 28 0 6 0 8 0 2 0 5 0 4 0 3 0 19 0 3 0 31 0 26 0 3 0 1 0 16 0 1 0 2 0 30 0 1 0 4 0 7 0 6 0 16 0 24 0 5 0 5 0 4 0 17 0 3 0 2 0 36 0 5 0 8 0 1 0 4 0 9 0 5 0 23 0 2 0 5 0 9 0 5 0 4 0 6 0 6 0 2 0 2 0 11 0 19 0 16 0 6 0 3 0 2 0 59 0 9 0 7 0 7 0 6 0 1 0 10 0 3 0 3 0 25 0 3 0 3 0 16 0 10 0 16 0 1 0 3 0 1 0 1 0 8 0 24 0 3 0 7 0 11 0 4 0 7 0 3 0 14 0 2 0 6 0 3 0 8 0 7 0 12 0 39 0 4 0 7 0 2 0 4 0 3 0 12 0 1 0 1 0 14 0 35 0 2 0 17 0 8 0 18 0 1 0 2 0 19 0 4 0 4 0 1 0 18 0 15 0 4 0 28 0 10 0 6 0 17 0 17 0 3 0 12 0 21 0 9 0 1 0 1 0 4 0 11 0 1 0 5 0 1 0 1 0 4 0 3 0 1 0 5 0 7 0 11 0 3 0 17 0 36 0 6 0 22 0 7 0 43 0 8 0 6 0 15 0 1 0 3 0 1 0 1 0 1 0 2 0 1 0 1 0 1 0 5 0 3 0 10 0 1 0 31 0 7 0 2 0 2 0 6 0 4 0 4 0 50 0 1 0 11 0 2 0 16 0 32 0 6 0 2 0 3 0 1 0 2 0 5 0 4 0 1 0 6 0 2 0 2 0 3 0 2 0 3 0 2 0 1 0 3 0 8 0 6 0 9 0 9 0 1 0 6 0 1 0 5 0 4 0 8 0 2 0 1 0 7 0 10 0 1 0 2 0 1 0 5 0 3 0 3 0 15 0 23 0 14 0 3 0 9 0 5 0 2 0 10 0 1 0 4 0 7 0 11 0 8 0 5 0 1 0 4 0 19 0 2 0 1 0 2 0 40 0 9 0 1 0 6 0 4 0 5 0 7 0 5 0 4 0 12 0 2 0 2 0 7 0 15 0 8 0 4 0 4 0 1 0 11 0 1 0 18 0 6 0 19 0 4 0 3 0 14 0 2 0 16 0 2 0 6 0 9 0 1 0 1 0 4 0 1 0 4 0 6 0 12 0 3 0 1 0 11 0 4 0 5 0 19 0 10 0 1 0 23 0 11 0 16 0 14 0 2 0 3 0 2 0 7 0 8 0 21 0 3 0 13 0 2 0 8 0 1 0 2 0 8 0 1 0 8 0 5 0 18 0 1 0 12 0 1 0 3 0 2 0 4 0 25 0 1 0 1 0 9 0 13 0 8 0 2 0 4 0 5 0 19 0 26 0 29 0 4 0 11 0 33 0 1 0 15 0 15 0 16 0 7 0 9 0 2 0 25 0 7 0 2 0 13 0 15 0 16 0 17 0 5 0 2 0 3 0 2 0 1 0 2 0 1 0 3 0 10 0 14 0 5 0 1 0 7 0 11 0 3 0 1 0 16 0 4 0 3 0 24 0 2 0 21 0 1 0 3 0 2 0 11 0 6 0 4 0 3 0 2 0 18 0 11 0 12 0 10 0 3 0 6 0 2 0 5 0 6 0 4 0 4 0 1 0 10 0 8 0 15 0 3 0 6 0 19 0 4 0 11 0 5 0 11 0 6 0 15 0 7 0 8 0 11 0 16 0 56 0 5 0 10 0 4 0 10 0 3 0 11 0 5 0 6 0 21 0 17 0 4 0 11 0 5 0 3 0 5 0 9 0 10 0 7 0 1 0 4 0 7 0 3 0 2 0 32 0 4 0 11 0 3 0 20 0 7 0 4 0 2 0 11 0 8 0 2 0 13 0 22 0 17 0 1 0 10 0 1 0 31 0 2 0 25 0 15 0 3 0 8 0 17 0 2 0 5 0 5 0 4 0 7 0 14 0 31 0 21 0 28 0 2 0 29 0 2 0 2 0 9 0 25 0 17 0 10 0 9 0 2 0 7 0 1 0 3 0 10 0 8 0 30 0 23 0 3 0 3 0 2 0 9 0 2 0 1 0 4 0 22 0 4 0 1 0 17 0 11 0 3 0 9 0 9 0 8 0 6 0 2 0 5 0 6 0 7 0 12 0 4 0 3 0 36 0 2 0 24 0 10 0 10 0 17 0 11 0 10 0 20 0 26 0 49 0 1 0 9 0 5 0 6 0 10 0 4 0 5 0 7 0 14 0 10 0 17 0 7 0 20 0 8 0 5 0 13 0 11 0 4 0 5 0 2 0 8 0 18 0 9 0 21 0 1 0 7 0 2 0 6 0 4 0 12 0 14 0 7 0 1 0 2 0 9 0 2 0 7 0 1 0 3 0 5 0 1 0 1 0 5 0 1 0 1 0 5 0 2 0 2 0 1 0 2 0 3 0 15 0 5 0 2 0 2 0 8 0 3 0 3 0 7 0 2 0 5 0 13 0 5 0 11 0 3 0 1 0 1 0 2 0 1 0 1 0 4 0 6 0 5 0 1 0 2 0 2 0 5 0 2 0 5 0 1 0 1 0 4 0 8 0 3 0 3 0 2 0 1 0 21 0 12 0 5 0 10 0 13 0 38 0 13 0 14 0 3 0 31 0 5 0 1 0 21 0 12 0 20 0 7 0 57 0 17 0 7 0 3 0 1 0 2 0 2 0 6 0 7 0 9 0 6 0 7 0 13 0 1 0 15 0 1 0 10 0 16 0 15 0 5 0 8 0 9 0 5 0 10 0 2 0 11 0 2 0 15 0 8 0 1 0 9 0 3 0 13 0 3 0 14 0 5 0 21 0 12 0 23 0 16 0 8 0 8 0 2 0 35 0 9 0 7 0 11 0 2 0 8 0 17 0 2 0 9 0 12 0 10 0 2 0 19 0 12 0 4 0 1 0 17 0 4 0 2 0 10 0 13 0 4 0 8 0 8 0 12 0 3 0 20 0 5 0 1 0 14 0 12 0 5 0 7 0 10 0 52 0 5 0 1 0 2 0 7 0 36 0 8 0 1 0 3 0 17 0 11 0 3 0 3 0 10 0 10 0 1 0 5 0 11 0 6 0 13 0 2 0 1 0 21 0 16 0 3 0 12 0 1 0 9 0 4 0 9 0 10 0 9 0 36 0 39 0 4 0 3 0 9 0 13 0 1 0 1 0 5 0 19 0 9 0 7 0 1 0 1 0 1 0 16 0 4 0 20 0 2 0 3 0 20 0 3 0 1 0 37 0 15 0 8 0 18 0 6 0 17 0 6 0 22 0 9 0 18 0 46 0 7 0 6 0 11 0 29 0 10 0 3 0 7 0 9 0 2 0 25 0 12 0 6 0 6 0 3 0 13 0 4 0 5 0 10 0 6 0 8 0 13 0 11 0 1 0 12 0 3 0 1 0 13 0 2 0 28 0 7 0 28 0 1 0 27 0 5 0 5 0 23 0 4 0 10 0 14 0 16 0 7 0 5 0 8 0 2 0 17 0 1 0 26 0 4 0 18 0 11 0 6 0 29 0 1 0 34 0 10 0 12 0 19 0 8 0 7 0 15 0 10 0 10 0 3 0 1 0 4 0 3 0 8 0 8 0 12 0 1 0 12 0 4 0 1 0 14 0 2 0 13 0 23 0 5 0 1 0 3 0 17 0 1 0 7 0 7 0 23 0 11 0 41 0 2 0 9 0 6 0 9999999" stroke-dashoffset="-3255"/></g>
<g font-size="9.6" fill="#2b2b2b" transform="rotate(0.03 599.6 256.1)"><text x="521.20" y="325.60" text-anchor="middle">0</text><text x="518.50" y="318.07" text-anchor="end">0</text><text x="545.80" y="325.60" text-anchor="middle">40</text><text x="518.50" y="300.12" text-anchor="end">40</text><text x="570.39" y="325.60" text-anchor="middle">80</text><text x="518.50" y="282.18" text-anchor="end">80</text><text x="594.99" y="325.60" text-anchor="middle">120</text><text x="518.50" y="264.23" text-anchor="end">120</text><text x="619.58" y="325.60" text-anchor="middle">160</text><text x="518.50" y="246.29" text-anchor="end">160</text><text x="644.18" y="325.60" text-anchor="middle">200</text><text x="518.50" y="228.34" text-anchor="end">200</text><text x="668.78" y="325.60" text-anchor="middle">240</text><text x="518.50" y="210.40" text-anchor="end">240</text></g>
<text x="599.60" y="337.20" font-size="9.3" fill="#2b2b2b" text-anchor="middle" transform="rotate(0.03 599.6 337.2)" textLength="126.1" lengthAdjust="spacingAndGlyphs">Pixel gray value on location(x,y)</text>
<text transform="translate(501.60,337.50) rotate(-90)" font-size="9.22" fill="#2b2b2b" textLength="147.90" lengthAdjust="spacingAndGlyphs">Pixel gray value on location(x+1,y+1)</text>
<g font-size="15.7" fill="#111111" transform="rotate(0.03 342 270)">
<text x="12.50" y="166.00" textLength="181.10" lengthAdjust="spacingAndGlyphs">(a) Horizontal correlation of</text>
<text x="75.50" y="183.60" textLength="54.70" lengthAdjust="spacingAndGlyphs">plaintext</text>
<text x="236.60" y="174.90" textLength="225.20" lengthAdjust="spacingAndGlyphs">(b) Vertical correlation of plaintext</text>
<text x="510.50" y="166.40" textLength="172.50" lengthAdjust="spacingAndGlyphs">(c) Diagonal correlation of</text>
<text x="568.30" y="184.90" textLength="54.90" lengthAdjust="spacingAndGlyphs">plaintext</text>
<text x="11.80" y="354.60" textLength="182.30" lengthAdjust="spacingAndGlyphs">(d) Horizontal correlation of</text>
<text x="71.20" y="373.00" textLength="63.10" lengthAdjust="spacingAndGlyphs">ciphertext</text>
<text x="267.80" y="354.40" textLength="164.60" lengthAdjust="spacingAndGlyphs">(e) Vertical correlation of</text>
<text x="317.60" y="373.00" textLength="62.90" lengthAdjust="spacingAndGlyphs">ciphertext</text>
<text x="512.20" y="354.50" textLength="169.10" lengthAdjust="spacingAndGlyphs">(f) Diagonal correlation of</text>
<text x="565.40" y="373.00" textLength="62.10" lengthAdjust="spacingAndGlyphs">ciphertext</text>
</g>
</svg>
</body></html>
